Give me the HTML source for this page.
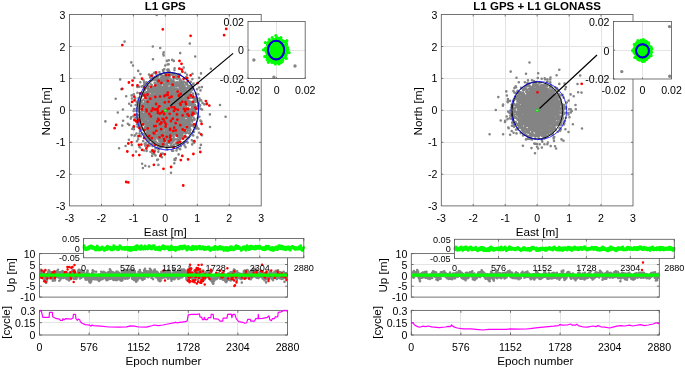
<!DOCTYPE html>
<html><head><meta charset="utf-8"><title>L1 GPS vs L1 GPS + L1 GLONASS</title>
<style>
html,body{margin:0;padding:0;background:#fff;}
svg{display:block;font-family:"Liberation Sans",sans-serif;fill:#000000;}
</style></head><body>
<svg width="685" height="369" viewBox="0 0 685 369">
<defs><clipPath id="c1"><rect x="69.5" y="14.5" width="191.7" height="191.4"/></clipPath><clipPath id="ci1"><rect x="248" y="21.5" width="57.2" height="57"/></clipPath><clipPath id="cu1"><rect x="39.5" y="253.6" width="248" height="43.5"/></clipPath><clipPath id="cj1"><rect x="82.6" y="238.5" width="222.7" height="19.3"/></clipPath><clipPath id="c2"><rect x="441.3" y="14.5" width="191.7" height="191.4"/></clipPath><clipPath id="ci2"><rect x="613.5" y="21.5" width="58" height="57.5"/></clipPath><clipPath id="cu2"><rect x="411.3" y="253.6" width="248" height="43.5"/></clipPath><clipPath id="cj2"><rect x="453.5" y="239.3" width="222.3" height="19.1"/></clipPath></defs>
<rect x="69.5" y="14.5" width="191.7" height="191.4" fill="#fff"/>
<line x1="101.5" y1="14.5" x2="101.5" y2="205.9" stroke="#e4e4e4" stroke-width="1"/>
<line x1="69.5" y1="46.5" x2="261.2" y2="46.5" stroke="#e4e4e4" stroke-width="1"/>
<line x1="133.5" y1="14.5" x2="133.5" y2="205.9" stroke="#e4e4e4" stroke-width="1"/>
<line x1="69.5" y1="78.5" x2="261.2" y2="78.5" stroke="#e4e4e4" stroke-width="1"/>
<line x1="165.5" y1="14.5" x2="165.5" y2="205.9" stroke="#e4e4e4" stroke-width="1"/>
<line x1="69.5" y1="110.5" x2="261.2" y2="110.5" stroke="#e4e4e4" stroke-width="1"/>
<line x1="197.5" y1="14.5" x2="197.5" y2="205.9" stroke="#e4e4e4" stroke-width="1"/>
<line x1="69.5" y1="142.5" x2="261.2" y2="142.5" stroke="#e4e4e4" stroke-width="1"/>
<line x1="229.5" y1="14.5" x2="229.5" y2="205.9" stroke="#e4e4e4" stroke-width="1"/>
<line x1="69.5" y1="174.5" x2="261.2" y2="174.5" stroke="#e4e4e4" stroke-width="1"/>
<rect x="69.5" y="14.5" width="191.7" height="191.4" fill="none" stroke="#5c5c5c" stroke-width="0.85"/>
<text x="69.5" y="221.7" font-size="10.6" text-anchor="middle" font-weight="normal">-3</text>
<text x="65.5" y="18.5" font-size="10.6" text-anchor="end" font-weight="normal">3</text>
<line x1="101.5" y1="205.9" x2="101.5" y2="203.9" stroke="#5c5c5c" stroke-width="0.85"/>
<line x1="101.5" y1="14.5" x2="101.5" y2="16.5" stroke="#5c5c5c" stroke-width="0.85"/>
<line x1="69.5" y1="46.5" x2="71.5" y2="46.5" stroke="#5c5c5c" stroke-width="0.85"/>
<line x1="261.2" y1="46.5" x2="259.2" y2="46.5" stroke="#5c5c5c" stroke-width="0.85"/>
<text x="101.5" y="221.7" font-size="10.6" text-anchor="middle" font-weight="normal">-2</text>
<text x="65.5" y="50.5" font-size="10.6" text-anchor="end" font-weight="normal">2</text>
<line x1="133.4" y1="205.9" x2="133.4" y2="203.9" stroke="#5c5c5c" stroke-width="0.85"/>
<line x1="133.4" y1="14.5" x2="133.4" y2="16.5" stroke="#5c5c5c" stroke-width="0.85"/>
<line x1="69.5" y1="78.4" x2="71.5" y2="78.4" stroke="#5c5c5c" stroke-width="0.85"/>
<line x1="261.2" y1="78.4" x2="259.2" y2="78.4" stroke="#5c5c5c" stroke-width="0.85"/>
<text x="133.4" y="221.7" font-size="10.6" text-anchor="middle" font-weight="normal">-1</text>
<text x="65.5" y="82.4" font-size="10.6" text-anchor="end" font-weight="normal">1</text>
<line x1="165.3" y1="205.9" x2="165.3" y2="203.9" stroke="#5c5c5c" stroke-width="0.85"/>
<line x1="165.3" y1="14.5" x2="165.3" y2="16.5" stroke="#5c5c5c" stroke-width="0.85"/>
<line x1="69.5" y1="110.3" x2="71.5" y2="110.3" stroke="#5c5c5c" stroke-width="0.85"/>
<line x1="261.2" y1="110.3" x2="259.2" y2="110.3" stroke="#5c5c5c" stroke-width="0.85"/>
<text x="165.3" y="221.7" font-size="10.6" text-anchor="middle" font-weight="normal">0</text>
<text x="65.5" y="114.3" font-size="10.6" text-anchor="end" font-weight="normal">0</text>
<line x1="197.3" y1="205.9" x2="197.3" y2="203.9" stroke="#5c5c5c" stroke-width="0.85"/>
<line x1="197.3" y1="14.5" x2="197.3" y2="16.5" stroke="#5c5c5c" stroke-width="0.85"/>
<line x1="69.5" y1="142.3" x2="71.5" y2="142.3" stroke="#5c5c5c" stroke-width="0.85"/>
<line x1="261.2" y1="142.3" x2="259.2" y2="142.3" stroke="#5c5c5c" stroke-width="0.85"/>
<text x="197.3" y="221.7" font-size="10.6" text-anchor="middle" font-weight="normal">1</text>
<text x="65.5" y="146.3" font-size="10.6" text-anchor="end" font-weight="normal">-1</text>
<line x1="229.2" y1="205.9" x2="229.2" y2="203.9" stroke="#5c5c5c" stroke-width="0.85"/>
<line x1="229.2" y1="14.5" x2="229.2" y2="16.5" stroke="#5c5c5c" stroke-width="0.85"/>
<line x1="69.5" y1="174.2" x2="71.5" y2="174.2" stroke="#5c5c5c" stroke-width="0.85"/>
<line x1="261.2" y1="174.2" x2="259.2" y2="174.2" stroke="#5c5c5c" stroke-width="0.85"/>
<text x="229.2" y="221.7" font-size="10.6" text-anchor="middle" font-weight="normal">2</text>
<text x="65.5" y="178.2" font-size="10.6" text-anchor="end" font-weight="normal">-2</text>
<text x="261.2" y="221.7" font-size="10.6" text-anchor="middle" font-weight="normal">3</text>
<text x="65.5" y="210.2" font-size="10.6" text-anchor="end" font-weight="normal">-3</text>
<text x="165.3" y="9.8" font-size="11.5" text-anchor="middle" font-weight="bold">L1 GPS</text>
<text x="165.3" y="236" font-size="11.7" text-anchor="middle" font-weight="normal">East [m]</text>
<text x="50.5" y="111.4" font-size="11.7" text-anchor="middle" font-weight="normal" transform="rotate(-90 50.5 111.4)">North [m]</text>
<g clip-path="url(#c1)">
<path d="M166.6 107.1h0M170.3 108.1h0M162.2 121.6h0M156.6 86.4h0M161.2 100.3h0M154.3 102.7h0M167.5 104.8h0M184.3 94.1h0M160.6 102.7h0M159.2 98.9h0M171.4 129.2h0M171.3 102.6h0M169.8 76.1h0M154.1 118.9h0M165.9 112.7h0M176 96.6h0M150.3 95.6h0M161.2 100.8h0M140.8 136.3h0M150.6 102.8h0M142 129.4h0M162.6 123.7h0M150.9 102h0M169.5 115.4h0M169.1 97.9h0M167 60.9h0M135.3 98.4h0M160.2 99.3h0M164.9 124.9h0M167.2 120.9h0M146 127.5h0M159.8 119.1h0M153 128h0M155.5 121.1h0M179.5 114h0M155.2 126.5h0M164.6 133.1h0M176.2 132.2h0M159.4 103.5h0M165 109.8h0M168.7 94.5h0M168.1 94.2h0M150.6 116.1h0M167.9 100.1h0M182.1 133.5h0M149 74.6h0M178.3 91.8h0M167.7 114.1h0M157.2 129.1h0M192 104.7h0M174.2 140.3h0M150.5 123h0M168 98.9h0M173.7 109.5h0M163.5 118.5h0M175.9 95.7h0M164.5 127.1h0M175 106.2h0M184 118.6h0M157 124.1h0M169.4 103.4h0M159.6 126.4h0M169.8 80.6h0M150.8 119.9h0M160.9 79.2h0M162.8 128h0M178.3 101.1h0M179.7 129.7h0M148.4 131.9h0M156.5 108.2h0M175.2 100h0M140 130.9h0M161.6 92h0M164.4 123.3h0M182.3 108.6h0M175.4 104.7h0M162.8 101.3h0M160 139.1h0M164.7 85.1h0M186.1 101.8h0M160.5 117.4h0M161.5 126.9h0M169.2 137.5h0M163.5 132.2h0M164.4 102.1h0M152 116.1h0M165.1 128.6h0M160.3 119h0M182.6 86h0M174.3 115.9h0M165.5 119.9h0M176.1 89.3h0M162.5 103.4h0M179.7 110h0M165.7 120.3h0M172.2 135.3h0M148.9 129.2h0M170.3 118.3h0M144.8 114.2h0M141 105.1h0M163 102h0M155.2 107.2h0M168.6 107.2h0M193.7 126.6h0M153.8 144.8h0M158 118.9h0M168 125.8h0M172 121h0M163.9 115h0M162.6 130.4h0M174.2 128.3h0M172.8 112.3h0M153.4 108.9h0M164.7 121.1h0M167.3 102.8h0M152.8 114.2h0M168.7 126.8h0M155.6 110.1h0M180.4 80.9h0M168.1 121.4h0M168.6 92.3h0M160.2 88.9h0M166.3 87h0M140.4 123.7h0M154 78.8h0M171 108.9h0M139.2 114.7h0M176.8 114.3h0M144.9 101.2h0M175.9 109.9h0M155.5 113.5h0M177.4 90.4h0M167.3 122.1h0M146 127.2h0M182.9 98.2h0M185.2 99.6h0M166.6 93.4h0M161.9 127.7h0M165.4 93.6h0M154.5 103.1h0M181.9 82.8h0M158.3 130.4h0M165.9 107.2h0M156.1 115.1h0M156.9 135.8h0M149.5 122h0M183.3 92.9h0M164 118.1h0M177.9 122.1h0M167.3 97h0M158.5 95.1h0M163.2 95.1h0M158.5 123.2h0M166.4 111.6h0M162.6 94.4h0M161.9 121.1h0M148.2 122.6h0M157 97.6h0M188.7 86h0M156.8 128.9h0M150.6 151.8h0M169.2 133.6h0M183.1 126.7h0M147.9 112.9h0M164.3 101h0M158.2 113h0M143.5 121.8h0M175.8 108.3h0M165.1 125.9h0M167.2 111.4h0M156.2 120.8h0M174.6 68.3h0M160.3 97.8h0M163.8 123.9h0M151.4 126.5h0M150.6 117.6h0M181.6 136.7h0M159.3 122.3h0M169.3 122.4h0M166.8 96.7h0M160.4 117.4h0M159.2 123.2h0M173 131.9h0M161.4 129.3h0M164.4 111.7h0M166.4 114.1h0M182.3 92.8h0M174.3 120.6h0M172.2 93.9h0M159.5 106.6h0M148.9 110.8h0M176.4 142.5h0M177.3 131.1h0M165.3 99h0M174.5 88.6h0M176.4 107.4h0M177.6 98.6h0M177.6 117.1h0M160.2 116.6h0M184.8 121.2h0M151.5 95.3h0M177.6 105.3h0M172.4 114.4h0M177.1 115.9h0M190.6 101.9h0M185.4 105.6h0M151.1 123.9h0M146.7 83.6h0M176.9 106.6h0M153.6 110.5h0M167.6 87.3h0M177.9 94.5h0M145.5 112.1h0M140.2 102.2h0M168.6 127.6h0M166.3 120.8h0M161.1 146.4h0M168 91.4h0M153.7 140.7h0M147.9 99.9h0M163.5 123.8h0M153.2 126.2h0M145.4 113.8h0M173 106.5h0M166.2 101h0M173.2 82.7h0M154.2 105h0M158.9 96.8h0M153.2 120.2h0M155.8 99.4h0M169 108.3h0M156 118h0M170.8 112.2h0M170.6 111.7h0M192.1 107.7h0M149.2 104.4h0M177.1 118.7h0M164.5 122.4h0M166.9 98.9h0M146.4 137.5h0M160 120.5h0M177.2 86.1h0M162.7 153.5h0M166.7 121.7h0M163.3 99.8h0M179.4 136.8h0M168.5 69.6h0M136.1 151.6h0M159 88h0M143 86.1h0M126.2 96.2h0M159.4 114.2h0M183.5 105.1h0M166.1 124.9h0M152.3 97.9h0M153.4 128.4h0M180.4 115h0M169.3 94.9h0M165.9 128.3h0M165.3 116.5h0M167 108.1h0M175.2 131.9h0M174.4 92.3h0M169.4 105.3h0M151.8 134.7h0M172.8 111.4h0M157 123h0M179.5 121.1h0M150.4 109.5h0M163.9 121.9h0M167.2 95.4h0M149 121.8h0M189 95.2h0M184.7 111.4h0M161.3 97.2h0M175.6 119.3h0M170.6 118.7h0M132.3 128.9h0M170.1 101.6h0M166.5 95.9h0M169.4 77.2h0M154 90.3h0M163.2 106.7h0M163.9 114h0M181.7 104.6h0M170.5 111.1h0M167.7 87.6h0M186.5 95.8h0M158.5 123.9h0M160.8 121.6h0M144.7 89.1h0M186.4 105.8h0M178.3 114.4h0M179 91.9h0M174.4 116.8h0M167.5 115.1h0M168.6 118h0M161.3 141.7h0M164.6 97h0M165.9 129.8h0M184.9 119.7h0M172.7 122.5h0M166.3 99.2h0M159 111.8h0M158.4 110.5h0M185 137.3h0M172.7 112.1h0M165.8 134h0M162.3 105.8h0M152.7 104.9h0M165.5 111h0M179.3 78.4h0M161.9 102.4h0M164 101.3h0M163.7 108.4h0M167.6 113.7h0M147.2 95.4h0M164.4 93.3h0M154.3 131.3h0M178.5 94h0M157.1 102.6h0M174.5 95.5h0M186 103.3h0M161.2 130.4h0M157.6 129.2h0M170.5 81.8h0M166.6 106.7h0M152.5 133.1h0M172.5 105.2h0M191.4 116.4h0M161.3 139.9h0M161.6 146.9h0M151.6 136h0M170.6 106.4h0M150.6 111.5h0M152.1 114.6h0M182.8 106.2h0M155.5 101.2h0M178 144h0M185.3 115.5h0M168.8 123.8h0M172.2 130.2h0M190.5 119.4h0M163.8 112.6h0M158.6 114.9h0M147.9 133.7h0M166.4 118.3h0M186.9 78.8h0M177.5 127.4h0M152.9 137.4h0M155.8 106.3h0M160.6 101.3h0M170.5 103.4h0M162.7 128.4h0M170 94.9h0M169.3 123.1h0M161.5 128.6h0M165.3 120.3h0M168.9 112.4h0M166 99.4h0M173.3 100.8h0M189.9 111.1h0M174.7 95.9h0M167.1 109.4h0M145.9 96.5h0M169.9 132.9h0M140.3 135.6h0M149.3 98.4h0M175.8 132.7h0M175 115.5h0M164.4 112.3h0M144.3 118.4h0M161.2 117.9h0M159.1 88.7h0M172 150.7h0M195.7 96.7h0M171.3 74.4h0M156.5 110.3h0M151.6 111h0M166.3 99.2h0M165.9 81.8h0M150.7 129.5h0M167.9 109.3h0M151.6 113.6h0M180.9 101.9h0M179.9 108.2h0M180.7 100.3h0M160 117.4h0M172.9 109.9h0M164 121.3h0M160.8 121.2h0M161.9 112.9h0M149.8 112.9h0M147 129.2h0M177.9 85.9h0M163.8 112.8h0M167.8 132.6h0M180 93.3h0M143.8 122.5h0M156.9 102.7h0M168.5 111h0M171.5 106.7h0M161.8 108h0M178.8 119.8h0M169 110.1h0M153 78.5h0M152.5 146.1h0M176.6 109.7h0M172.6 103.8h0M141.4 127.3h0M182.1 132.4h0M175.9 76.6h0M183 116.6h0M163.5 77.8h0M163.1 102.2h0M152.2 109.5h0M198.8 103.2h0M164.7 100.7h0M187.5 92h0M158.6 103.8h0M168.6 108.4h0M145.4 107.9h0M162.8 89.3h0M179.5 97.8h0M149.6 126.5h0M179.3 120.8h0M170.9 105.5h0M152.6 120.6h0M159.7 116.7h0M159.6 125.8h0M165.5 114.8h0M160 104h0M156.9 95h0M162.5 110.6h0M155.4 77.9h0M150 111.9h0M168.8 60.2h0M178.4 94.9h0M147.5 102.8h0M165.9 118.6h0M155.5 155.4h0M153.9 113.2h0M177.3 107.9h0M161.6 80.3h0M183.9 132.5h0M158.3 80.6h0M171 114.7h0M164.2 99.2h0M154.4 150.9h0M173.9 108.5h0M164.1 116.1h0M174.6 99.9h0M165.8 109.3h0M151.6 128.8h0M166 95.7h0M167.7 99.7h0M179 101.3h0M155.9 94.7h0M166.9 93.3h0M144.6 111h0M173.3 132.2h0M151.4 132.6h0M144.8 89.4h0M166.3 99.5h0M180.4 109.1h0M146.7 117.6h0M152.6 110.2h0M157 110.3h0M151.8 116h0M170.5 121.8h0M158.2 76.5h0M157.5 107.1h0M173.1 120.3h0M155.6 131.3h0M171.1 122.2h0M154.8 99.3h0M151.8 98.7h0M143 114.2h0M189.9 109.9h0M162 115.5h0M168.4 128.2h0M167.2 90.1h0M168.7 104.8h0M169.3 71.5h0M189.7 122.7h0M153.1 112.9h0M147.5 96.7h0M153.3 114.6h0M148.2 132.6h0M174.9 125.7h0M176.8 109.1h0M154.5 105.3h0M148.7 112.2h0M162.8 94.8h0M184.8 95h0M131.1 105.6h0M173 110.3h0M152.5 114.7h0M180 102h0M153.6 96.2h0M162.8 109.7h0M147.8 103.6h0M153.7 115.8h0M182.5 133h0M175.8 126.5h0M162 98.6h0M155.8 103.6h0M144 85.6h0M161.4 109.8h0M166.8 97h0M166.5 89.8h0M166.1 95h0M151.6 120.3h0M165.3 113.6h0M166 108.6h0M181.7 126.3h0M190.4 103.2h0M165.6 94.5h0M156.2 118.3h0M167.4 79.5h0M158.4 115.3h0M156.8 113.9h0M165.4 114.5h0M152.5 121.9h0M174.4 104.1h0M165.1 110.4h0M171.1 84.4h0M164.6 101.1h0M157.7 102.2h0M154.2 114.2h0M162 133.1h0M159.3 112.1h0M168.5 124.1h0M167.2 95.6h0M149.1 111.2h0M168.8 84.4h0M150.1 99.1h0M159.4 97.5h0M162.9 107.1h0M140.4 107.4h0M168.1 100.4h0M169.1 96.1h0M163.7 121.9h0M161.5 102.9h0M164.1 69.2h0M153.9 112.1h0M162.7 114.7h0M158.7 121.7h0M166.1 133.6h0M152.3 91.9h0M169.4 109.7h0M168.4 106h0M166.3 81.5h0M163.2 71h0M172.5 124.8h0M146.3 94h0M172.8 100.8h0M169.8 104.4h0M170.4 103.1h0M171.2 111h0M159.6 85.5h0M163.7 100.9h0M174.7 105.2h0M173 90.9h0M169.8 96.5h0M147.7 103.4h0M173.5 105.5h0M182.8 82.9h0M179.6 102.6h0M169.2 112.1h0M145.9 124.2h0M177.9 116.1h0M163.5 127.3h0M134.5 109h0M171.4 106.6h0M145.6 143.1h0M150 110.4h0M159 100.4h0M182.6 108h0M160.8 125.8h0M171 90.6h0M187.8 121.7h0M185.3 130.1h0M164 127.8h0M163.3 110.9h0M151.4 95.1h0M158.7 92.2h0M171.9 107.3h0M170.2 129.5h0M167.1 121.1h0M178.1 124.9h0M156.4 113.5h0M164 138.7h0M175.7 108.9h0M174.3 100.5h0M179.7 113h0M171.8 103.4h0M161.6 125.5h0M169.5 133.7h0M153.1 120.8h0M146.8 92.4h0M174.7 94.4h0M165.2 117.9h0M171.4 91.6h0M144.6 115.8h0M163.2 86.8h0M159.2 103.1h0M155 117.8h0M138.6 98.1h0M161.4 122.9h0M176.8 125.5h0M169.8 133.6h0M159 106.6h0M166.1 111.5h0M175.8 111.9h0M131.1 117.2h0M166.1 88h0M172.8 117.4h0M174.3 122.1h0M189 91h0M182 88.2h0M170.6 105.3h0M168.5 138.2h0M175.7 120.2h0M160.1 101h0M165.9 110.4h0M179.3 86.1h0M189.8 132.3h0M165 100h0M165.1 120.6h0M170.1 89.8h0M183.2 111.9h0M166.9 94.4h0M184.3 120.9h0M152.8 133h0M162.9 128.3h0M163.3 120.3h0M175.3 126.9h0M180.7 91.7h0M148.6 89.5h0M155.1 106.4h0M169.6 127.1h0M157.9 112.6h0M146.5 121.5h0M180.8 87.7h0M172.9 105.7h0M173 103h0M160 117h0M177.4 142.5h0M162.6 122.9h0M179.1 128.4h0M155.2 104.8h0M155.7 109.2h0M168.2 123.4h0M157.1 116.8h0M176.4 85.9h0M168.7 125.9h0M153.8 125.2h0M167.1 114.3h0M161.3 121.8h0M177.5 117.5h0M158.9 102.3h0M162.5 83.3h0M179.9 138.8h0M194.6 111h0M191.6 110h0M167.1 112h0M168.9 113.7h0M185.4 116.1h0M165.7 94.8h0M153.6 118.1h0M167.7 112.7h0M172 110.7h0M156 109h0M145.4 113.4h0M149.2 94.9h0M174.7 110.8h0M156.9 107.9h0M164.5 111.5h0M168.1 126.6h0M173.4 123.8h0M161.1 127.3h0M172.8 107.7h0M154.4 122h0M160.8 127.5h0M153.6 106.9h0M181.1 102.4h0M164.3 138.5h0M158.6 84h0M161.9 110.2h0M163.5 112.4h0M176.2 93.8h0M146.3 109.6h0M152.7 120.3h0M163.7 76h0M197.3 127.7h0M178.3 112.2h0M165.7 97.3h0M174.3 127.6h0M192.2 112.3h0M163.8 104.6h0M164 72.7h0M180.8 124.8h0M172.5 111.5h0M175.4 100.3h0M160 109.4h0M189.5 129.7h0M188.3 104.2h0M173.6 109h0M175.4 103.7h0M141.8 92.8h0M175.4 94.7h0M164.3 104.3h0M172.1 105.8h0M173.9 128.1h0M161.9 112.8h0M145.2 107.2h0M170.6 117h0M157.1 109.2h0M161.4 123.8h0M160.2 86.4h0M164.1 76.7h0M136.8 116.9h0M182.1 104.4h0M169.3 114.4h0M181.6 90.7h0M191.7 103.8h0M166.7 109.5h0M143.4 114.2h0M155.2 108.7h0M150.2 126.5h0M160.7 100h0M166.7 122h0M141.6 102.2h0M170.8 108.6h0M148.3 93.4h0M170.1 111h0M165.9 94.5h0M161.5 125.3h0M166 101.1h0M159.3 114.2h0M158.8 107.6h0M145.2 109.6h0M166.9 95.9h0M187.7 142.6h0M191.7 105.6h0M181.6 134.3h0M176.4 91.6h0M155.9 141.9h0M183.6 126.6h0M164.1 137.2h0M167 84.8h0M161.5 131.1h0M167.6 108.9h0M160.3 119.2h0M163.6 139.2h0M152.3 116h0M162.3 100.2h0M195 113.6h0M166.4 95.8h0M163 116.4h0M173.1 110.6h0M174.9 116.8h0M152.6 105.3h0M165.5 80.7h0M178.3 105h0M169.9 107.6h0M167.3 120.5h0M185.2 122.6h0M159.2 87.5h0M166.3 128.3h0M158.9 125.1h0M185.1 112.2h0M141.3 117.4h0M159.7 79.8h0M157.4 148.1h0M175.1 105h0M174.7 99.4h0M182.9 128.4h0M145.9 120.9h0M176.2 103.9h0M164.2 84.9h0M157.1 125.3h0M171.7 135.7h0M155.7 95.3h0M141.6 86.6h0M161.4 116h0M145.3 145.7h0M159.5 87.7h0M170.9 113.8h0M171.4 92.9h0M186.3 111.4h0M163.5 116.6h0M146.6 117.8h0M158.2 87.4h0M156.1 88h0M149 144.5h0M171 125.5h0M159.9 82.6h0M141 116.5h0M173.9 132.2h0M164.9 110.6h0M170.8 112.4h0M167.6 112.2h0M173.9 118.3h0M166.5 115.6h0M181.5 117.9h0M172 105.4h0M170.5 123.6h0M171.2 115.3h0M147.8 113h0M165.5 90h0M163.4 104.8h0M168.9 112.4h0M149.7 102.2h0M187.4 104.3h0M168.7 93.5h0M151.5 102.7h0M146.5 82.3h0M164.1 89.4h0M165.2 111.3h0M156.9 117.3h0M168.3 96.7h0M158.7 102.5h0M173.2 112.2h0M155.8 134.1h0M164.1 139.7h0M179 105.2h0M199.5 98.5h0M154.4 98h0M159.3 131.1h0M156.7 94.3h0M175.7 119.1h0M152.2 104.6h0M160.6 104.1h0M165.2 123.4h0M153.4 120.1h0M152.3 143.5h0M159.5 125.2h0M138.1 139.2h0M148.5 103.8h0M161.2 109.7h0M169.1 96.2h0M164.3 105.1h0M143.4 120.7h0M160.8 105.2h0M176.1 116.9h0M173.9 101.1h0M165.7 105.7h0M154.2 126.3h0M174.3 110.7h0M159.1 109.8h0M151.3 115.6h0M157.1 96.5h0M186.3 83.6h0M168.8 116.5h0M180.6 116.2h0M158.2 146.3h0M178.1 112.7h0M158.3 117.6h0M162.3 144.9h0M198 106.1h0M176.6 101.4h0M159.3 122.3h0M164.9 116.6h0M169.5 126h0M182.3 98.6h0M158.7 134.7h0M144.1 115.7h0M164.7 79.8h0M166.6 109.9h0M168.2 103.3h0M182.8 113h0M169.2 129.3h0M176.6 111.2h0M152.8 104.3h0M176.3 126.9h0M193.1 105.3h0M177.3 91h0M170.6 93.8h0M166.8 135.7h0M188 126.1h0M153.1 136.2h0M166 93.8h0M172.7 101h0M176.4 99.6h0M160 124.6h0M169.1 129.2h0M162.9 109.5h0M168 109.1h0M163.9 124.2h0M152.1 108.5h0M166.7 100.5h0M177.6 107.1h0M153.2 127.1h0M161.3 144.1h0M174.5 114.8h0M153 108.1h0M168.4 114.8h0M152.6 117.5h0M180 121.6h0M196.2 99.4h0M191.8 111.5h0M163.7 108.8h0M174.8 126.1h0M167.3 120.5h0M167.8 108.1h0M184.9 126.6h0M148.5 130.6h0M179.4 115.9h0M166.9 91.7h0M184.3 107.7h0M170.1 87.6h0M157.7 112.8h0M169.6 115.6h0M174.3 132.7h0M166.3 119.8h0M173.9 88h0M160.1 105.5h0M140.1 99.1h0M178.4 99.5h0M175.2 110.9h0M168 113.9h0M167.3 108.8h0M180.1 100.1h0M161 103.5h0M157.9 102.9h0M164.1 108.3h0M180.6 122.9h0M148.6 114.8h0M180.5 125.6h0M159.2 94.8h0M150.5 143.9h0M182 114.1h0M167.4 72.9h0M149.6 116.1h0M160.7 128.6h0M178.1 111h0M182.6 90.3h0M160.8 113.2h0M172.1 101h0M175.5 109.1h0M157.9 116.6h0M173.8 60.9h0M166 109.6h0M159.1 119.2h0M159.7 118.4h0M167.6 104.7h0M167.1 104.2h0M159.9 98.5h0M161.1 108.5h0M179 133.3h0M169.6 102.3h0M177.2 115.6h0M181.2 115.2h0M172.4 134.2h0M194.5 119.8h0M155.2 122.2h0M176.5 111.3h0M161 133.7h0M189.8 109.9h0M187.9 108.7h0M140.6 128.4h0M153.5 120.6h0M173.9 124.3h0M177.2 96.3h0M173.2 150.7h0M165.1 116.1h0M170.5 137h0M174.2 117.5h0M166.2 97.3h0M178.7 120.7h0M138 108.5h0M173.5 124.1h0M155.1 80h0M179.3 96.3h0M164.5 92.9h0M153.9 131.7h0M170 128.1h0M155.9 93.6h0M154.6 113.8h0M146.3 114.8h0M166.3 105.4h0M171.4 130.6h0M180 98.5h0M164.6 110.4h0M180 103.1h0M165.9 121.3h0M165.7 102.6h0M172.9 121.8h0M180.6 95.6h0M163.1 92.8h0M164.1 96.3h0M164.8 102.5h0M168 100.7h0M152.4 153.5h0M180.1 97.5h0M161 115h0M172.3 109.2h0M155.7 115.2h0M169.6 132.7h0M170.8 119.2h0M161.7 100.3h0M193.2 88.3h0M170.4 120.6h0M187.9 125h0M179.8 87.7h0M157.2 124.7h0M163.5 77.9h0M171.9 109.9h0M166.3 124.7h0M167.9 95.1h0M164.3 83.9h0M142.2 133.4h0M165 86h0M138.1 115.2h0M172.5 87.2h0M156.8 116.7h0M155.8 135.6h0M164.1 102.8h0M170.7 96h0M150.3 77.6h0M145.9 83.4h0M153.6 99.7h0M140.4 114.5h0M153.7 118.9h0M186.1 115.4h0M152.2 123.8h0M174.3 115h0M146.6 150.9h0M170.3 107.9h0M162.3 111.2h0M168 70.1h0M174.2 98.7h0M188.1 118.3h0M169.3 101.8h0M166.8 130.1h0M153.5 120.2h0M171.9 140.2h0M164.6 88h0M177.4 101.3h0M164.7 129.3h0M188.3 111.7h0M142.2 95.7h0M163.1 102.9h0M177.8 104.7h0M161.1 124.3h0M155.7 120.8h0M163.1 109.2h0M149.8 96.1h0M167.1 123.8h0M196.1 128.4h0M181.9 92.6h0M151.5 125.4h0M156.4 93.7h0M161.5 106.9h0M179.9 96.8h0M157.6 83.1h0M158.3 99.8h0M178.3 98.4h0M176.4 125.2h0M161 121.7h0M152.9 100.5h0M148.2 86.4h0M158.8 88.7h0M140.4 74.1h0M176.1 105.8h0M158.6 107.5h0M173.4 94.8h0M189.9 110.4h0M181.1 111.7h0M150.8 127.3h0M178.3 95h0M179.9 127.7h0M157.4 102.6h0M153 133.1h0M166 93.4h0M145.2 127h0M185.7 97.4h0M134.5 135.8h0M152 117.7h0M164.1 92.1h0M162.7 123.4h0M168.5 109.6h0M169.3 118.3h0M161.5 147.2h0M181 105.8h0M139.8 103.9h0M165.3 128.2h0M157.9 101.6h0M167.3 123.3h0M168.2 126.6h0M154.8 110.6h0M157.6 121.5h0M178.5 74.4h0M169.3 135.3h0M158.5 99h0M193 95.1h0M193.6 142h0M146.2 138.1h0M170.7 101.8h0M197.6 118.3h0M176.6 104.6h0M170.2 92.7h0M163.4 116.6h0M158.5 127.5h0M161.1 153.9h0M159.6 107.5h0M174.9 125.4h0M161.6 105.7h0M161 107h0M149.9 132.6h0M167.4 83.4h0M156.1 93.6h0M164.9 97.3h0M178.4 129.4h0M170.6 117.1h0M172.2 119.3h0M170.5 117.3h0M166 128.5h0M165.2 103.8h0M162.7 107.1h0M176.3 104.9h0M152.2 118.7h0M184.5 90.3h0M167 107.7h0M154.3 154h0M159.6 120.8h0M157.8 111.6h0M169.3 95.4h0M157 115.5h0M180.5 114.7h0M155.9 121.2h0M138.3 100.2h0M156.7 117.8h0M140.4 120.2h0M165.1 122.4h0M180.2 101.9h0M174 119.1h0M147.9 137.2h0M157.3 100.9h0M188.1 121.8h0M170.7 105.1h0M166.8 104.8h0M180.8 91.7h0M198.3 94.2h0M182.2 119.8h0M168 113.3h0M169.6 131.1h0M175.7 84.2h0M159 103.7h0M154.3 88.6h0M166.7 115.7h0M152.5 143.1h0M167 86.5h0M167.7 109.2h0M196 108.6h0M155.7 109.8h0M165.4 100.5h0M164.8 102.3h0M170.4 135.9h0M180.6 93.5h0M159.7 119.1h0M155.5 118.1h0M147.3 83.4h0M155.5 96.1h0M172.8 116h0M165.2 140.1h0M153.7 108.1h0M162.2 102.2h0M166.7 112h0M171.5 130.4h0M158.1 123.2h0M162 130.6h0M143.6 107.3h0M152.6 97.7h0M187.7 94.5h0M138 122.3h0M162.3 107h0M169.6 101.9h0M161.1 118.8h0M156 113h0M167.6 77.1h0M166.5 107.5h0M166.2 96.7h0M142.2 117.6h0M164.5 110h0M153.9 137.8h0M159.4 111.1h0M170.3 91.8h0M176.4 77.5h0M178.8 91.8h0M160.7 99.8h0M178.1 109.9h0M180.6 120.2h0M180.5 113.2h0M184.5 101h0M163.8 123.1h0M165 95.9h0M175.8 126.3h0M147.4 138.8h0M168 126.7h0M158.1 137h0M160.4 132.4h0M145.4 92.8h0M154.9 113.9h0M166.3 107.2h0M178.7 92.4h0M180 90.8h0M164.9 118.7h0M165.2 89.7h0M156.2 104.6h0M171.4 110.6h0M163.6 103.7h0M172.6 133.2h0M187.7 123.1h0M165.8 112.4h0M148 101.1h0M155.1 116.6h0M147.8 112.7h0M152.2 95.4h0M184.2 88.4h0M169.9 98.6h0M148.4 90.6h0M174.2 117.1h0M182 115.5h0M162.1 105.7h0M157.5 115.5h0M161.6 118.7h0M171.5 84.6h0M174.2 113.9h0M180.4 126h0M182.1 103h0M183.1 81.7h0M183.6 109.4h0M175.9 91.2h0M146.6 117.6h0M164.2 118.5h0M169.7 121.6h0M161.4 113h0M179.6 81.7h0M160.7 129h0M156.2 84.8h0M183.6 126.6h0M174.5 114.4h0M169.9 97.5h0M178.6 100.7h0M180 106.2h0M169.1 136.8h0M135.7 105h0M156.9 126.9h0M163 70.1h0M153.7 114.1h0M169 107.7h0M180.3 128.8h0M159.8 118.3h0M150.8 131.1h0M192.9 95.2h0M160.4 114.8h0M151.3 101.8h0M168.7 121.5h0M171.2 118.6h0M158.7 90.3h0M175.4 126.1h0M158.5 139.2h0M155.1 104.3h0M167.5 128.8h0M175.7 117.7h0M159.2 96.3h0M169.7 123.6h0M166 96.8h0M201.3 121.5h0M158.8 87.1h0M185.1 89.7h0M165.2 118.2h0M164.5 114.1h0M174.7 123.9h0M177.8 107.5h0M183.4 92.5h0M169.1 133.6h0M159.6 96.2h0M158.3 131.6h0M172 124.3h0M172 139h0M186 77.4h0M171.7 109.8h0M180 106.8h0M184.9 121.4h0M169.4 93.8h0M145.6 144h0M151.5 110.3h0M150.3 75.8h0M186.1 116.7h0M155.7 110.4h0M182.5 100.1h0M173 123.5h0M188 110.3h0M179.9 95.5h0M165.2 107.6h0M164.2 104.8h0M167.1 116.2h0M168.9 105.7h0M159.7 109.8h0M167.3 87.7h0M187.3 99.2h0M144.6 114.6h0M167.3 149.4h0M155.6 99.4h0M169.4 98.8h0M176.1 125.2h0M163.7 142.3h0M175 128.8h0M147.2 96.1h0M179.3 127.5h0M158.3 118h0M174.4 107.2h0M169.8 91.3h0M133.7 111h0M156.7 112.3h0M168.6 119.4h0M187.5 84.9h0M171 93.8h0M169.5 112.2h0M147.2 132.8h0M183.7 123.2h0M189.7 101.5h0M166 122.1h0M164.4 96.6h0M146.3 105h0M177.8 106.1h0M201.1 100.4h0M175.9 102.8h0M181.5 124.2h0M172.9 115.9h0M156.1 73.7h0M182.1 129.8h0M150.3 118.2h0M164.7 93.8h0M169.7 113.2h0M176.7 123.5h0M170.3 131.6h0M171.7 102.2h0M157.7 94.6h0M151.4 88.6h0M167.2 109.8h0M158.4 94.2h0M148.9 127h0M150.5 108h0M159.5 121.4h0M143.1 108h0M150.1 98.8h0M146.7 93.8h0M167.7 126.4h0M172.7 90.7h0M191.2 118.2h0M146.5 126.9h0M157.6 113.4h0M176.5 133.8h0M163.6 110.6h0M162.5 106.1h0M187.7 113.9h0M162.6 102.2h0M151.5 115.7h0M149.7 110.6h0M169.2 133.5h0M170.2 110h0M148.2 124.2h0M153.5 117.8h0M173 112.2h0M173.8 107.7h0M156.7 136.7h0M172.7 135.4h0M173.3 115.5h0M144.3 103.2h0M162.8 105h0M172.4 96.6h0M160.4 90.1h0M139.8 102.8h0M162.8 111h0M174.9 127h0M185.4 125.7h0M138.3 118.1h0M199.6 106.5h0M152.3 107.2h0M178.4 110.6h0M181.8 113.1h0M179.4 100.7h0M168.4 107.4h0M152 106h0M174.6 105.8h0M156.8 119.3h0M133.5 127h0M202.5 102.9h0M175.7 104.1h0M189.1 114.2h0M154.5 117.3h0M187 74.7h0M185.7 122.7h0M185.8 114.1h0M166.3 106.5h0M150.1 129h0M164.2 108.8h0M140.3 82.3h0M145.8 95.9h0M168.1 100.7h0M154.4 101.3h0M164.4 108.9h0M165.9 95.5h0M190.6 113.2h0M182.3 117.4h0M165.9 109.1h0M182.5 96.4h0M156.8 105.5h0M162.7 100h0M175.9 142.7h0M151.8 91.8h0M165.1 73.7h0M150.9 89.6h0M167.5 115.7h0M186.1 124.1h0M157.1 106.3h0M168.3 126.3h0M155.7 99.2h0M151.3 119h0M151.7 95.5h0M186 89.2h0M194.2 142.8h0M172.7 106.1h0M156.6 121.7h0M173.9 133h0M161.5 120.5h0M176.3 114.2h0M171 94.4h0M168.4 134.8h0M175 94.1h0M161 78.8h0M161.8 101.3h0M145.1 102.1h0M160.8 110.9h0M147.3 129.3h0M165 102.2h0M154.6 104.6h0M168.3 99.1h0M174.5 70.1h0M149.1 99.2h0M156.5 104h0M155.9 86h0M174.5 132h0M186.8 128.8h0M176.7 116.6h0M161.3 121.1h0M185.5 99.7h0M146.9 115.7h0M186.9 83.2h0M159.5 86.7h0M132 98.5h0M199.4 116.8h0M186.9 100.9h0M154.1 97.9h0M167.5 127.6h0M164 105.2h0M168.3 99.5h0M147.8 107.3h0M159.2 85.9h0M173.4 91.5h0M168.4 123.8h0M181.6 108.7h0M166.6 123.9h0M196.5 101.5h0M156.5 124.4h0M170.5 96.1h0M142.5 104.6h0M151.5 95.3h0M183 113h0M153.1 133.7h0M174.7 82.8h0M165.4 113.4h0M154.5 88.9h0M162.4 103.9h0M160.5 100h0M161.9 81.8h0M176.2 105.3h0M175.9 88.6h0M157.7 134.2h0M155.7 96.9h0M169.7 114.5h0M165 112.8h0M179.3 110.6h0M200.2 105.2h0M178.6 84.5h0M164.2 140h0M164.2 110h0M154.9 122h0M156 92.3h0M153.3 117.4h0M161.8 103.5h0M160.6 117h0M176.4 100.1h0M162.3 94.7h0M163.5 117h0M151 109.9h0M185.8 133.2h0M173 105.9h0M189.7 97.2h0M175.9 119.5h0M186.2 93h0M161.2 143.5h0M173.6 140h0M199.2 132.7h0M150.4 118.4h0M181.2 110.4h0M187.7 111.9h0M171.6 111.8h0M176.7 99.3h0M182.1 118.2h0M156.7 130.7h0M170.4 130.4h0M157.1 77.3h0M155.4 147.9h0M158.2 113.5h0M165.9 87.6h0M168.7 103.1h0M171.4 123.8h0M148 110.7h0M192.7 97h0M182.4 91.6h0M174.9 124.9h0M162.4 98.7h0M165.4 106.7h0M174.5 93.2h0M173 88.7h0M144.3 116.1h0M174.6 133.6h0M204.4 104.4h0M144.1 82.6h0M179.9 99.9h0M171.3 107.1h0M167.2 72.7h0M183.1 127.1h0M151.9 96.4h0M167.9 119.7h0M185.4 109.9h0M163.9 109.3h0M162.4 86.7h0M167 125.5h0M160.1 119.2h0M184.9 135.9h0M155.1 103h0M177.2 117.9h0M150.5 104h0M174 127.7h0M164.6 116.4h0M133.8 94.3h0M166.1 113.5h0M153.1 100.8h0M161.1 102.3h0M186 116.3h0M150.4 135.4h0M153.5 95.1h0M185.2 108h0M168.8 95.1h0M184.4 142.5h0M169 136.9h0M152.9 144.6h0M164.7 124.6h0M183.3 94.2h0M179.1 101.7h0M166.3 111.2h0M167.1 108.6h0M165.6 98.7h0M158.6 115.5h0M191.8 104.4h0M166.6 108.5h0M149.6 145.3h0M159.8 116.8h0M177.1 89.2h0M174.3 117h0M164.4 113h0M157.1 120.3h0M166.2 118.4h0M145.7 92.9h0M149.2 114.9h0M175.7 126.9h0M157.2 159.9h0M170.7 119.8h0M180.3 141.8h0M173 139.5h0M167.4 98.1h0M194.6 99.5h0M173.2 141h0M162.6 97.2h0M176.3 103.4h0M170.9 123.1h0M155.9 99.1h0M165.8 136.4h0M163.1 129.7h0M139.5 133.5h0M163.1 128.3h0M163.5 96.8h0M159.4 131.8h0M143.9 128.9h0M160.8 125.8h0M166 107.6h0M167.4 116.1h0M152.4 97.1h0M173.9 122h0M149.4 131.1h0M163 118.7h0M183.3 110.1h0M156.5 125.5h0M160 106.4h0M182 82.1h0M160.8 120h0M162.5 110.1h0M170.5 89.5h0M179.3 121.1h0M137 124.3h0M154.6 128.2h0M153.7 104.6h0M152.8 102.8h0M155.1 113.3h0M155.5 110.3h0M171.4 90.8h0M155.6 97.3h0M166.6 133.2h0M171.5 111.2h0M157 109.4h0M168.7 99.7h0M187.3 114.6h0M169.9 121.3h0M157.7 118.3h0M163.8 139.2h0M154.5 111.5h0M169.3 120.6h0M177.9 103.8h0M154.8 127.4h0M163.2 118.1h0M179.7 126.7h0M158.9 128.1h0M169.4 100.1h0M152.7 118.6h0M156.2 104.2h0M158.6 129h0M193.9 109.7h0M159.6 138h0M159.2 118.9h0M158.7 119.2h0M164.8 102.1h0M174.8 108.5h0M168.5 114.1h0M193.1 98.1h0M169.2 108.3h0M185.1 102.9h0M170.5 99.2h0M173.9 112.4h0M147.8 116h0M165 106.2h0M165 118h0M163.6 105.3h0M140.2 93.9h0M178.2 97.9h0M161.1 117.4h0M159.6 131.7h0M163 112.3h0M163.3 113.4h0M172.5 94h0M149.9 117.5h0M154.4 114.7h0M170.7 99.8h0M167.7 119h0M161.4 114h0M160.7 84.4h0M157.2 87.9h0M166.2 101.5h0M181.5 107.2h0M152 126.7h0M186.1 102.6h0M177 110.5h0M160.8 108h0M175.7 119.6h0M147.8 111.6h0M144.3 114.4h0M150.3 106.5h0M162.5 88.9h0M162.5 105.7h0M158.2 137.6h0M166.6 126.8h0M137.9 136.4h0M171.8 124h0M148.9 102.6h0M158.3 105.1h0M160.5 120.9h0M152 107.2h0M148.3 123.4h0M152.3 133.9h0M164.8 133.7h0M172.9 125h0M174.8 89h0M152.5 132.6h0M157.5 91.8h0M155.9 90.5h0M171.8 114.3h0M140.5 112.2h0M181.4 121.2h0M160.2 111.9h0M157 101.1h0M170.6 111.3h0M180.3 95.8h0M171.7 92.8h0M179.9 106.1h0M168.3 106.3h0M181.8 112.5h0M182.3 106h0M164 129.1h0M184.8 105.1h0M168.6 108.3h0M166.6 125.1h0M156.7 77.6h0M161.7 126.9h0M175.3 125.2h0M150 107.1h0M172.7 142.1h0M170 124h0M168.4 135.6h0M137.5 126.8h0M164.9 113.6h0M174.8 106.5h0M157.7 94.1h0M168.2 98.8h0M137.4 92.8h0M175.3 102.3h0M157.5 118.9h0M178.4 93.9h0M142.6 119.3h0M174.5 121.2h0M164.8 87.4h0M177.2 99.1h0M154.8 108.1h0M159.2 99.7h0M195.4 97.7h0M154.5 133.1h0M157.3 113h0M161.7 130.2h0M153.5 109.6h0M180.7 122.2h0M189.4 90.1h0M157.9 103.4h0M143.7 124.4h0M181.1 111.9h0M179.1 130.7h0M176.7 110.9h0M181.4 102.9h0M155.6 107.4h0M162.3 142.1h0M148.5 116.9h0M148.9 103.5h0M179 106.8h0M158.9 93.3h0M193.8 131.9h0M167.7 103.3h0M157.6 121.9h0M176.6 108.5h0M189.4 105.2h0M173.1 100.7h0M150.4 120.7h0M171.2 108.7h0M182.5 130.1h0M158.7 133.9h0M157.1 102.8h0M179.1 112.5h0M166.5 137.2h0M151.6 125h0M161.5 111.3h0M158.2 87h0M171 95.1h0M168.4 99h0M179.1 139.8h0M175.2 113.2h0M147 104.1h0M171.8 105.4h0M178 105h0M171.8 115.3h0M181 83.8h0M160.8 88.3h0M154.2 113.1h0M177.1 127.1h0M154.8 79.2h0M138.5 120.4h0M180.4 92.7h0M159 81.4h0M161.5 126.5h0M148.9 107h0M149.2 117.1h0M152.2 103.5h0M162 106.6h0M172.8 80.9h0M137.9 102.3h0M175.8 111.8h0M152.4 93.8h0M152.6 115.9h0M174.5 117.4h0M167.5 76.2h0M146.1 124.6h0M189.1 119.4h0M155.5 110.9h0M168.4 128.3h0M166.8 145h0M185.1 94.9h0M159.8 124h0M178.5 120.2h0M156.6 117.5h0M179.5 127.2h0M155.6 128.6h0M161.9 109.1h0M192.5 73.7h0M171 100h0M168.4 99.8h0M193.2 135.4h0M170.8 112h0M154.9 130.3h0M176.3 99.4h0M151.2 115.2h0M180.6 111h0M181.4 113h0M158.5 120.9h0M156.9 135.7h0M169.1 102.5h0M165.2 133.5h0M152.8 130.3h0M173.2 116.3h0M139.9 122.8h0M161.1 107.5h0M162.2 95.7h0M163.1 107.7h0M170.4 108.5h0M150.8 111.3h0M174.5 98.1h0M162.3 140.8h0M158.4 105.8h0M148.2 126.4h0M150.2 131.1h0M170.8 111.6h0M153.8 117.8h0M167.7 102.4h0M180.7 94.2h0M177.1 148.4h0M185.9 112.8h0M164.4 80.7h0M153.4 97.9h0M180.5 88.8h0M170.3 110h0M179.1 134.3h0M165.4 129.4h0M182.1 100.4h0M177.9 96.5h0M174.6 123.2h0M172.4 115.9h0M171.6 107.5h0M167.6 139.3h0M168.8 117.2h0M180.3 86h0M161.9 77.1h0M188.1 113.3h0M166.7 82.7h0M178.2 119.9h0M164.4 124.4h0M161.1 147h0M192.8 96.5h0M162 117.5h0M152.4 74.6h0M157.6 106.4h0M162.5 108.6h0M191.8 140.2h0M170.3 87.9h0M177.7 117.4h0M153.5 114.2h0M168.7 146.5h0M175.6 97h0M190 96h0M156.9 121.2h0M174 110.1h0M170.5 105.4h0M154.3 96.4h0M166.1 109.9h0M164.6 84.4h0M136.7 115.4h0M173.3 121.2h0M172.7 119h0M158.3 151.7h0M148.6 124.4h0M185.9 95.7h0M169.9 107.4h0M178.4 124.5h0M184.4 106h0M157.8 143.5h0M176.3 116.1h0M163.8 103.3h0M166.2 100.5h0M164.5 123.8h0M167.1 97.1h0M182.1 82h0M167.5 118.3h0M165.1 99.8h0M161.3 136.2h0M168.7 142.6h0M155.6 101.9h0M160 110.9h0M165.8 108.4h0M158.6 120.8h0M164.5 116.2h0M159.4 98.7h0M193.2 84.4h0M182.9 115h0M170.4 137.6h0M166.8 91.4h0M194.5 102h0M171 100.7h0M165.4 108.6h0M172.3 74.8h0M170.2 110.3h0M184.6 103.4h0M164.3 140.8h0M192.2 120.7h0M154.5 122.4h0M175 112h0M154 106h0M188.5 123.4h0M163.8 84.1h0M164.6 128.4h0M177.5 118.6h0M182.4 107.7h0M151.1 131.3h0M162.5 102.5h0M149.3 101.5h0M167.8 116.1h0M166.8 81.3h0M162 110.2h0M157.9 107.1h0M160.5 126.7h0M155.3 138h0M172.4 121.5h0M185.1 116.6h0M141.5 118.7h0M165.6 99.3h0M158.8 149.3h0M171.4 129.5h0M152.6 140.4h0M165.7 90.3h0M152.6 120.5h0M174.6 119.7h0M166.5 128.9h0M165.1 97.3h0M170.6 118h0M163.4 108h0M144.8 143.7h0M174.9 93h0M170.3 105.3h0M164.9 102.8h0M179.9 91.9h0M181.5 114.6h0M152.4 114.1h0M157.1 100.1h0M186.2 104.7h0M184 115.4h0M157 110.8h0M150.9 119.5h0M158.9 100.2h0M160.9 96.7h0M146.3 111.4h0M168.5 81.7h0M148.7 135.8h0M150.8 115.2h0M179.5 84.4h0M157.3 118.1h0M163.9 136.8h0M175.6 89.4h0M177.1 102.8h0M160.9 130.4h0M167.6 99.2h0M154.9 127.7h0M187.1 132.7h0M174.4 113.9h0M151.9 119.1h0M165.3 128.9h0M175 117.3h0M171.4 127.4h0M189.4 110.5h0M183.6 111.8h0M160.2 99.6h0M164.7 118.7h0M148.9 132.6h0M168.2 132.4h0M168 115.3h0M201.9 87.1h0M168.3 98h0M139.3 121.6h0M158.7 96.5h0M166.6 129.8h0M151.4 95.4h0M155 117.5h0M162.4 99.3h0M171.2 101.6h0M164 115.8h0M155.4 106.2h0M175.2 128.4h0M159.4 112.6h0M161 94.3h0M152.8 46.5h0M157.1 100.3h0M174.6 110h0M144.9 127.5h0M166.4 94.6h0M173.8 137.7h0M160.8 124.2h0M169.7 105.8h0M151.1 130.6h0M184.3 87h0M181.2 94.1h0M168.7 120.4h0M143.6 120.2h0M151.9 132.4h0M177.3 133.6h0M188.3 104.4h0M170.6 101.5h0M182.4 105.9h0M158.9 107.2h0M163.4 120.3h0M166.7 105.7h0M170.2 134.8h0M147 111.3h0M179.6 88h0M184.3 90.4h0M151.4 118.8h0M148.9 116.7h0M172 89.6h0M159.8 83.1h0M135 135.2h0M176.1 118.2h0M168.5 107.7h0M161.5 92.1h0M192.2 124.7h0M168.7 101.2h0M156.5 116.2h0M169.8 73.7h0M153.6 104.6h0M156.6 113.6h0M170.9 116.7h0M160.3 94.7h0M161.3 100.6h0M186.3 128.6h0M177.4 108h0M175.2 132.7h0M172.3 123.4h0M171.2 132h0M183.4 132.5h0M165.4 122.3h0M188.8 127h0M154.8 103h0M163.8 98.8h0M148.7 115.2h0M160.9 129.2h0M173.6 98.6h0M182.7 143.6h0M156.1 142.1h0M167.1 99.9h0M162.4 101h0M157.9 95.9h0M151.1 114.8h0M165.9 131.4h0M144 119.5h0M168.2 102.4h0M165.8 123.6h0M157.3 122.6h0M152.2 133.6h0M147.7 129.9h0M190.7 98h0M149.8 104.2h0M184.9 129.9h0M172.9 128.6h0M161.2 120.3h0M152.2 102.7h0M178.4 130h0M188 114.1h0M152.5 145.5h0M161.3 131.4h0M180 104.7h0M171.4 97.1h0M190.4 129.8h0M158.4 123.7h0M173.9 98.7h0M150.1 117.6h0M192.2 120h0M157.6 103.2h0M138.6 108.3h0M165.8 93.7h0M165.3 98.8h0M189.9 120.5h0M161.9 113.3h0M166.1 112.3h0M172.5 132.9h0M185.4 126.9h0M166.4 96h0M177.9 136.6h0M173.8 95.6h0M162.8 106.9h0M167.2 113.6h0M167.2 102.8h0M155.2 103.8h0M182.8 92.2h0M148.4 117.7h0M180.9 115h0M178.1 115.3h0M166.9 81.5h0M157.6 96.4h0M162.6 126h0M172 116.7h0M175 122.6h0M169.9 111.1h0M179 108h0M161.5 75h0M167.5 140.3h0M147.5 95h0M176.4 104.4h0M167.6 122.5h0M160.9 113.7h0M180.5 119.2h0M175.1 110.5h0M131.7 95.4h0M165.4 135.4h0M149.2 90.5h0M179.4 117.2h0M199.2 87.5h0M160.2 104.8h0M168.4 91.7h0M163.7 102.3h0M171.8 94.1h0M174.5 110.4h0M181.8 124.5h0M154.5 100.6h0M186.8 100h0M156.6 78h0M167.9 143h0M180.8 114.4h0M176.3 94.4h0M153.3 131.1h0M157.2 114.9h0M162.5 77.7h0M167 88.8h0M180 125.2h0M151.4 88.6h0M173.3 92.5h0M174.8 98.9h0M173.7 105.2h0M172.4 107.4h0M184.7 125h0M172 119.4h0M177.8 99.6h0M173.6 109h0M190.7 81.9h0M142 116.5h0M180.2 149.2h0M162.7 116.5h0M163 106.8h0M154.5 105.1h0M142.8 110.1h0M160.7 124.2h0M159.1 87.5h0M171.9 121.7h0M148.4 99.9h0M184.1 115.7h0M168.6 130.1h0M164.5 88.7h0M155 150.9h0M155.6 124.6h0M152.5 104.3h0M159.1 116.8h0M167.1 99.2h0M164 112.7h0M148 118.3h0M165 76.9h0M154.8 114.6h0M168.2 113.6h0M188.8 128.2h0M173.5 122.9h0M163 100.8h0M146.4 102.1h0M148.5 111h0M144.4 122.1h0M176.1 100.2h0M155.1 138h0M166.8 116.4h0M158.2 115h0M166.7 124.4h0M184.2 108.6h0M157.1 121.6h0M161.3 123.7h0M157.9 82.5h0M178.1 99.2h0M154.5 92h0M152.1 110.1h0M149.7 95.7h0M149.3 98.6h0M173.4 91.7h0M201 73.4h0M153.6 114.5h0M178.6 106.8h0M169.5 111.7h0M149.1 166.5h0M161.5 133h0M163.4 110.6h0M158.2 100.8h0M190.2 119.9h0M143.4 92.9h0M172.4 90.5h0M170.1 117.3h0M160.4 88.3h0M169.9 83.1h0M177.9 103.4h0M167.3 126.3h0M173 87.5h0M174.9 113.4h0M140.3 116.7h0M185.1 108.9h0M194.6 119.2h0M179.7 93.8h0M179.9 98.4h0M149.7 91.4h0M165.4 101.5h0M155.3 123.3h0M158.8 113.2h0M179.4 96.9h0M155.8 117.1h0M167.5 64.5h0M142 114.5h0M163.8 120h0M168.6 92.5h0M158.2 98.9h0M157.2 111.1h0M189.9 114.3h0M151.5 104h0M153.9 97.5h0M156.9 98.6h0M181.2 115.5h0M193.3 103.9h0M171.3 97.4h0M158 98.6h0M158 159.5h0M178.9 124.8h0M154.1 123h0M184.5 114.3h0M184.4 107.9h0M168.1 96.1h0M175.1 100.9h0M175.7 112.7h0M186 110.3h0M154.7 82.9h0M180.7 120.4h0M161.9 105.9h0M158.1 85.9h0M168 105.2h0M161.7 143h0M154.2 104.8h0M145.8 116.8h0M154.4 112.5h0M185.7 94.1h0M191.6 103.3h0M174.3 114.9h0M182.2 96.6h0M160.2 103.8h0M165.5 109h0M170.2 105.9h0M152.9 106.7h0M153.5 116.1h0M167.1 118h0M162.3 110.3h0M152 125.8h0M170 130.6h0M164.3 90.1h0M179 114.5h0M166.3 111.1h0M162.4 112.8h0M168 110.3h0M164.2 110.3h0M158 109.7h0M160.5 123.4h0M176.7 96h0M173.9 121.6h0M183.6 94.3h0M143.2 141h0M160.4 127.5h0M162.1 95h0M168.4 113h0M160 121.3h0M160.2 104.8h0M175.2 127.2h0M168.7 109.5h0M149.5 145.7h0M182.8 117.9h0M178.3 121h0M159.6 102.2h0M177.7 96.8h0M156.3 124.2h0M182.1 85.3h0M163 120.1h0M154.3 143.2h0M159.4 148.3h0M158.1 86.4h0M168.7 112.1h0M167.9 120.9h0M166.1 122.5h0M158.3 128h0M121.4 89.3h0M167.4 112h0M144.1 82.4h0M169.2 113.8h0M178.4 147.9h0M170.6 97.3h0M161.1 116.5h0M163.9 114.4h0M166.2 85.9h0M159.2 114.9h0M160.1 92.3h0M154.7 110.8h0M180.6 122.6h0M166.6 102.7h0M177.8 120.2h0M164.4 91.3h0M168.2 95.5h0M164.3 109.7h0M172.8 101.1h0M177.3 101.8h0M169.1 115.1h0M158.7 96.5h0M156.3 114.3h0M187.9 101h0M161.9 125.7h0M162.8 109.1h0M185.2 104.1h0M179.3 123.2h0M172.7 117.3h0M160.8 119.1h0M196.7 99.1h0M170.6 122h0M173.7 103.7h0M165.6 86.5h0M148.8 105h0M148 136.1h0M171.6 108.6h0M172.3 94.1h0M163.1 115.1h0M152.6 93.1h0M148.7 100.8h0M162.6 103.9h0M147.7 114.7h0M177.2 118.7h0M180.7 114.6h0M202.1 109.6h0M177.9 102.3h0M159.3 103.9h0M155.1 115.3h0M122.9 109.5h0M159.2 104.4h0M162.6 136.2h0M177.8 122.7h0M173.3 123.2h0M173.6 113.7h0M168.8 114.9h0M174.5 114.6h0M183.8 124.3h0M153.6 99.9h0M160.9 106.1h0M147.3 136.5h0M186.8 110.3h0M181.7 128.3h0M177.5 83.5h0M150.8 117.7h0M168.2 116.7h0M163.5 109.1h0M167.2 113.6h0M163.9 111.4h0M174.4 86h0M161.6 106.9h0M177.9 97.2h0M170.5 92.6h0M161.7 125.8h0M166.6 83.7h0M161.5 99.5h0M177.5 95.3h0M162.1 124.1h0M170.9 97.5h0M161.8 103.9h0M147.1 118.9h0M180 74.3h0M153.6 101.5h0M174.7 114.2h0M171.9 107.3h0M146.3 96h0M155.5 92.5h0M160.4 101.2h0M157.2 91.2h0M152.8 87.1h0M174.5 129.9h0M162.9 118.1h0M170.3 125.3h0M161 108.9h0M171.6 87.6h0M157.5 100.1h0M165 126.9h0M173.4 115h0M167.9 94.1h0M160.1 118.8h0M152.6 111.9h0M168.8 105.6h0M169 139.2h0M163.8 98.1h0M157 105h0M173.8 101.4h0M196.8 125.9h0M161.8 122.5h0M170.1 119.8h0M171.4 106.4h0M134 109.3h0M168.1 108.4h0M159.2 82h0M185.1 89.7h0M162.5 121.8h0M155.9 120.7h0M165.2 83.2h0M168.2 115.4h0M160.6 88.6h0M167.2 85.1h0M148.8 119h0M163.3 114.6h0M176.2 109.1h0M190.4 124h0M174.4 125.8h0M169.4 116.7h0M182.1 96.9h0M178.8 117.5h0M187.2 113.6h0M179.6 117.7h0M163.6 132h0M171 86.9h0M166.4 147.4h0M169.6 120.7h0M169.4 101.5h0M155.2 132.5h0M140.4 100.8h0M159.1 90.6h0M140 124h0M167.4 107.1h0M165.4 127.9h0M145.7 102.4h0M175.1 109h0M177.5 107h0M168.9 88.8h0M187.9 102.9h0M191.3 89.1h0M151.8 100.4h0M178.3 129.4h0M172.2 106.3h0M172.1 102.7h0M176.8 133.3h0M158.6 89.3h0M159 109.3h0M156.3 104.6h0M156 124.6h0M165.2 109.2h0M148.3 105.7h0M152.9 115.6h0M173.7 109.1h0M163.5 143.9h0M172.5 88.9h0M141.5 128h0M154.4 144.9h0M158.4 125.6h0M166 123.6h0M159.5 101.8h0M177.3 124.9h0M165.9 105.9h0M165.7 125.6h0M168.6 75.5h0M175.8 101.8h0M162.3 79.5h0M179.6 126.5h0M172.8 99.9h0M167.4 125.5h0M167.4 101.3h0M173.6 99.7h0M177.7 135.6h0M177.2 128.4h0M170 128.9h0M176 134.2h0M167.2 122h0M181.3 125.6h0M164.7 133.3h0M140.3 108.9h0M183.8 101.8h0M166.5 131.3h0M151.1 119.3h0M163.9 110.3h0M155 114.1h0M192.2 121.6h0M173.4 97.7h0M147.4 97.1h0M173.9 99.7h0M161.1 113.8h0M192.4 79.1h0M154.7 83h0M137.6 116.9h0M167.1 112.4h0M163.1 91.7h0M160.3 123.2h0M139.7 104.2h0M171.8 109.8h0M186.8 121.7h0M142 114.2h0M179.6 135.4h0M158.7 119.1h0M194.1 142.1h0M174 74.5h0M165.4 86.7h0M181.5 91.1h0M173.3 105.8h0M159.8 94.8h0M176.5 90.4h0M160.9 94.5h0M144.7 96.1h0M191.1 125h0M162.4 103.8h0M158.2 119h0M169.5 129.3h0M145.6 128.7h0M149.7 103.8h0M161 94h0M158.5 132.2h0M168.9 83h0M181.9 87.4h0M160 116.6h0M172.1 118h0M173.9 111.8h0M153.6 95.1h0M168.9 116.7h0M153.4 128.1h0M180.1 105.2h0M170.1 143.3h0M166.7 108.4h0M150.5 92.3h0M168.1 105.8h0M157.4 98.3h0M175.7 102.9h0M165.5 99.2h0M156.2 108.4h0M177.2 123.8h0M175.2 114.2h0M158.8 111.9h0M182.2 90.8h0M164.1 85h0M162.8 104h0M167.2 122.6h0M156.2 122.2h0M160.6 113.7h0M165.6 88.7h0M186 105.4h0M185.2 111.6h0M162.4 122.8h0M187.5 96.7h0M166.1 106.1h0M171.1 111.5h0M177.6 109.1h0M171.6 84h0M196.7 113.2h0M171 84h0M152.4 91.1h0M182.9 109.9h0M162 96.7h0M162.4 112.7h0M127.8 123.8h0M178.7 114.9h0M175.8 125h0M176.9 102.6h0M178.7 110.5h0M188.2 101.7h0M166.6 97.6h0M175.2 160h0M157.3 105.8h0M160.2 139.2h0M179.8 108.1h0M170.5 124.6h0M149.6 109.1h0M172.2 89.1h0M162.4 137.7h0M156.2 107.7h0M171.8 111.9h0M159.4 140.6h0M147.1 100.5h0M152.4 110.2h0M188.2 118.7h0M146.5 122.1h0M172.2 59.9h0M173.7 116.9h0M172.7 139.2h0M150 125.4h0M161.9 116.5h0M167.8 116.8h0M176.4 111.9h0M157.2 127.3h0M152.2 102.1h0M178.5 118.4h0M179 132.2h0M170.2 123.6h0M158.3 116.8h0M172.3 97.3h0M168.2 103h0M176.6 116h0M150.6 110.4h0M168 107.3h0M166.3 78.5h0M151.8 120.5h0M169.5 103.3h0M167.5 99.2h0M160.3 125.8h0M171.5 107.7h0M148.6 108.1h0M165.2 118.1h0M172.3 101.7h0M170.9 94.4h0M181 92.8h0M151 113.7h0M147.5 107.7h0M171.6 73.5h0M171 128.2h0M193.3 107.2h0M175 96.6h0M155.5 108.3h0M177.1 100.3h0M155.8 108h0M148.3 98.8h0M200.5 90.4h0M170.3 114.2h0M175.6 107.6h0M173.4 111.6h0M188.8 117.1h0M169.9 111h0M180.6 128.6h0M154.1 98.9h0M150.4 83.8h0M186 83.7h0M186.2 90.5h0M171.9 125.9h0" stroke="#848484" stroke-width="2.6" stroke-linecap="round" fill="none" />
<path d="M163.2 109.9h0M159.5 132.8h0M148.1 88.4h0M169.9 117.6h0M158 82.1h0M173 87.2h0M178.8 92.4h0M151.2 129.6h0M149.4 118.5h0M187.7 130.5h0M182.5 86.5h0M171.2 132.5h0M175.7 115.2h0M164.4 137.1h0M190.1 86.1h0M184 81.9h0M173.2 105.6h0M158.6 91.5h0M166 136.1h0M179.1 92h0M157.2 106.8h0M178.9 106.3h0M155.4 135.2h0M187.9 92.4h0M171.2 141h0M146.7 130.5h0M176.9 82.3h0M165.3 114h0M159.1 96.6h0M149.1 113.9h0M151.9 117.2h0M165.2 87.8h0M150.8 99h0M169 131.8h0M168.2 113.6h0M180.7 138.8h0M139.1 125.8h0M181.3 131.6h0M177.1 95.7h0M186 113.2h0M194.1 100.8h0M183.8 127.7h0M171 140.7h0M148.4 90.9h0M171.6 146.3h0M189 118.6h0M172 100.2h0M152.6 132h0M194.9 109.7h0M160.2 122.2h0M172.7 107.5h0M162.6 118h0M174.2 109h0M157 102.1h0M182.3 134.9h0M160 83.7h0M190.9 116.8h0M144.9 105.7h0M174.9 90.6h0M189.8 123.6h0M174 98h0M150.8 123.1h0M183.7 119.1h0M188.5 121.9h0M141.4 121.8h0M173.2 83.5h0M143.2 110.8h0M163.4 91.7h0M158.9 84.4h0M157 79.6h0M173.6 87.2h0M191.8 102.9h0M164.9 137.2h0M187.6 108.5h0M144.9 123.6h0M159.5 100.4h0M157.4 124.7h0M155 118.2h0M145.1 107.1h0M168.7 140.7h0M143.1 124.4h0M176.6 120.8h0M151 121.7h0M173.8 120.6h0M180.7 133.4h0M159.8 133.9h0M160 93.6h0M152.4 109.2h0M192.8 93.5h0M161.6 136.2h0M146.7 140.1h0M172.2 129.9h0M178.8 102h0M185.1 88h0M147.5 138.9h0M164.1 125.6h0M191.9 95.3h0M189 105.2h0M155.5 79.2h0M152.8 80.1h0M185.2 102.9h0M191.1 90h0M170.9 95.6h0M186.2 108.5h0M179.4 90.9h0M181 107.8h0M153.4 91.8h0M164.2 142.9h0M160.6 121.1h0M149.1 126.4h0M145.6 105.3h0M172.3 95.5h0M189.6 101.8h0M173.3 93.5h0M187 119.9h0M173.6 136.6h0M142.3 124.4h0M143.2 134.2h0M163.3 146.4h0M174.1 134.4h0M168.3 91.7h0M170 128h0M149.1 137.2h0M163.7 78.8h0M162.1 78.5h0M181 80.8h0M144.5 118.9h0M193.5 117.6h0M170.5 139.9h0M179.7 85.1h0M187.5 87.5h0M163.4 81.3h0M181.3 82.7h0M185.9 82.7h0M162.8 133.9h0M158 81.1h0M151 118.8h0M159.5 86.9h0M193.7 114.1h0M140.7 130.8h0M186.5 82.9h0M168.8 142.6h0M161.6 77.5h0M140.1 101h0M162.7 82.5h0M151.8 109.5h0M165.2 106.1h0M157 81.4h0M182.2 83.6h0M190.4 118.6h0M174 83.4h0M163.2 81.2h0M146.1 93.9h0M183.4 92.4h0M171.3 80.8h0M155.2 101h0M146.8 124.4h0M143 117.4h0M152.4 90.1h0M158.6 127.6h0M165.3 123.9h0M165.9 80.8h0M167.7 98.3h0M146.3 134.2h0M156.1 102.3h0M177.2 139.3h0M184.1 109.3h0M138.6 119.8h0M159 96.3h0M170 96.4h0M181.4 133.2h0M173.6 78.7h0M169.3 132h0M177.5 131h0M189.6 116.8h0M179.2 97.2h0M177.8 91.4h0M186.5 96.6h0M160.5 92.2h0M175.3 118.6h0M147.2 138.5h0M172.8 99.9h0M190.9 88h0M164.2 144.9h0M151.1 128.1h0M193.9 110.2h0M159.6 115.6h0M176.1 84.8h0M162.9 89.4h0M180.2 98.6h0M194.2 112.6h0M160.9 108.8h0M144.5 133.8h0M169.3 100.7h0M150.4 89.1h0M155.8 126.5h0M164.3 137.7h0M189 130.4h0M168.7 77.5h0M167.6 99h0M153.6 99h0M160.4 86.5h0M175.3 139.2h0M164.9 108.7h0M148.5 86h0M139.1 111.2h0M138.8 124.9h0M159.1 97.4h0M180.1 109.8h0M161.8 144.5h0M183.4 93.1h0M174.4 125.3h0M166.7 105.9h0M166.9 93.4h0M142.2 117.4h0M186.5 128.2h0M154.3 95.6h0M138.4 106.3h0M149 97.2h0M183.6 93.4h0M163.3 88h0M182 122.5h0M182.4 119h0M167.5 77h0M182.9 122.6h0M180.7 108.9h0M161.1 134.7h0M194.9 105h0M146 97.4h0M158.5 104.4h0M149.3 101.1h0M184.7 119.9h0M164.5 107.2h0M195.5 106.6h0M189.5 88h0M165.6 122.5h0M182.8 90.7h0M182.3 103.2h0M171.9 94.6h0M181.6 113.4h0M160.1 107.8h0M182.5 86h0M155.5 129.6h0M149.8 89.1h0M140.4 121.6h0M188.7 111.4h0M159.6 131.4h0M155.3 113.7h0M190.3 111h0M141.9 111.8h0M141.9 101.1h0M172.2 121.8h0M172.4 112.8h0M159 144.9h0M152.4 89h0M159.3 104.2h0M191.4 109h0M167.3 101.9h0M168.6 139.8h0M144.4 108.8h0M180.4 135.4h0M161.4 120.7h0M139.6 125h0M174.2 144.5h0M137 110.2h0M151.8 138.9h0M149.9 109.4h0M150.5 81.3h0M166.8 139.7h0M189.8 97.1h0M190 115h0M179.2 114.8h0M177.8 140.7h0M143.4 104.6h0M153.4 105.3h0M152.2 97.6h0M155.7 107.1h0M171.2 86.6h0M173.2 145.9h0M178.9 126.3h0M147.7 110.8h0M180.8 137.3h0M164.8 100.4h0M172.3 120.6h0M191.3 116.1h0M160.5 122.5h0M188.5 117.4h0M160.3 143.9h0M157 136.8h0M158.2 108.9h0M179.3 104.5h0M182.9 91.3h0M178 142.8h0M178 83.4h0M155 139.3h0M180.1 86.5h0M165.6 131.9h0M188.1 118.7h0M164.1 113.2h0M185.2 104.9h0M162.2 144.1h0M153.2 108.2h0M180.9 133.1h0M182.8 85.3h0M165 96.3h0M189.4 127.4h0M173 126.4h0M189.6 130.4h0M148.9 113.5h0M154.2 136.5h0M191.8 125.5h0M150.2 139.1h0M184.8 97.2h0M174.5 97.2h0M189.6 110.2h0M184.8 92.3h0M173.8 109.1h0M153.5 95.5h0M143.8 134.6h0M178.9 131.3h0M156.3 102.1h0M180.5 85.4h0M182.3 124.3h0M189.9 128.4h0M186.7 114.4h0M171.1 109.8h0M155.8 118.8h0M157.2 122.1h0M137.6 118.4h0M174.4 90.1h0M181.1 121.2h0M137.3 119.1h0M179.7 106.8h0M154.5 86.6h0M160.1 146.5h0M176.6 76.8h0M167.4 125.4h0M172.9 86h0M153.2 103h0M161.6 80.7h0M177.4 97.4h0M175 121.1h0M159 94.4h0M165.6 124.1h0M184.6 130.6h0M164.3 91.5h0M185.1 109.9h0M150.8 113.8h0M169.4 87.9h0M177 125.3h0M176.5 91.7h0M160 141.5h0M178.7 108.2h0M164.9 80.2h0M173.3 90h0M171.2 119.8h0M157.6 118.2h0M149.4 140.4h0M171.9 106.9h0M161.8 92.5h0M186.6 132.3h0M159.6 117.5h0M166 127.8h0M151 110.9h0M175.8 78.1h0M174.6 117.2h0M166 74.7h0M172 99.4h0M151.8 133.2h0M189.7 93.8h0M166.7 138.4h0M159.8 136.4h0M152.8 94.2h0M151.4 112.5h0M137.1 107.7h0M183.8 100h0M188 96.4h0M154.1 88h0M195.5 109.2h0M173.1 93.8h0M159.3 99.8h0M145.2 136h0M145.1 113.3h0M178.9 84.3h0M166 140h0M171.7 142.3h0M150.5 139.7h0M155.2 139.5h0M166.5 108.1h0M178.9 139.6h0M160.9 114.6h0M180.3 79.8h0M165.9 111.8h0M146.8 134.2h0M144.1 123.1h0M161.7 109.6h0M167.1 142.8h0M161.8 138.8h0M157.2 117.6h0M192.5 96.5h0M170.6 82.3h0M186.1 114h0M144 89.9h0M156.6 123.1h0M175.5 99.2h0M140.2 125.9h0M156.6 120.1h0M166.4 144.2h0M179.5 114h0M141.2 101.6h0M160.4 88.8h0M180.3 86.1h0M156.2 85.7h0M149.4 102.6h0M186.8 116.7h0M142.4 112.8h0M160.6 122.9h0M161.3 146.1h0M193.3 107.8h0M168.8 93.8h0M152.5 115.1h0M184.3 102.5h0M183.2 84.2h0M165.1 137.4h0M157.6 129.2h0M184.6 85.8h0M176.7 99.6h0M178.6 136.8h0M141.3 105.1h0M163.2 99.8h0M160.4 138.2h0M153.7 135.7h0M195.5 112h0M180 98.4h0M167.2 135.7h0M139.1 101.8h0M167.3 97.3h0M138.3 110.3h0M184.3 107.8h0M179.6 95.3h0M190.7 87.3h0M158.5 132.4h0M161.5 128.6h0M167.9 93.8h0M159.4 81.7h0M167.9 140h0M156 98.9h0M155.5 89.4h0M180.9 117.4h0M139.7 120h0M148.8 116h0M147.4 129.4h0M194.3 101.6h0M155.3 99.9h0M171.2 145.9h0M153.1 131.8h0M183.5 129.6h0M161.7 92.7h0M142.2 106h0M170.7 79.2h0M176.9 84.4h0M190.6 92h0M174.2 86.5h0M168.5 106.8h0M140.9 97.4h0M148.3 95.8h0M166.7 139.7h0M168.7 139h0M160.4 112.6h0M156.6 127.3h0M157.8 108.5h0M159.2 82.9h0M138.9 111.5h0M148.6 132.8h0M191.5 120.1h0M172.1 130.3h0M171.3 108h0M153.2 129h0M177.1 102.4h0M153.7 125h0M173.9 125.4h0M161.5 125.7h0M185.6 89.7h0M146.8 97.5h0M177.3 79h0M148.8 141.9h0M161.8 128.3h0M161.8 146.6h0M151.8 85.1h0M147.2 126.8h0M176.1 75.3h0M184.9 122h0M170.8 113.1h0M176.8 108.2h0M150.6 118.8h0M159.6 141.1h0M170.7 82.9h0M190.7 104.4h0M170.4 110.6h0M161.3 128.5h0" stroke="#848484" stroke-width="2.6" stroke-linecap="round" fill="none" />
<path d="M151.2 107.4h0M174.5 160h0M155.3 138.4h0M155.4 106h0M180.2 93.6h0M162.9 136.2h0M189.3 125.9h0M115.7 98.8h0M175.8 158.3h0M174.5 159.3h0M133.3 116.3h0M138.2 104.2h0M182 122.5h0M142.9 168h0M151.5 109.9h0M176.3 143.8h0M157.6 94.1h0M173.9 113h0M146.8 103.9h0M170.3 94.5h0M186.1 123.7h0M170.8 89.8h0M120.2 79.4h0M177.4 100.6h0M165.5 77.2h0M146.1 126.2h0M192.3 87.6h0M129.2 103.8h0M202 135.2h0M151.6 112.5h0M195.9 123.8h0M163.4 124.3h0M137.5 108.3h0M166.2 83.9h0M170.9 118.4h0M175.2 107.4h0M185.6 147.3h0M146.2 107.8h0M174.2 81.6h0M179.1 90.2h0M158.8 98.6h0M145.4 123.7h0M145 134.9h0M179.3 112.8h0M180.3 144h0M147.6 141.4h0M137.3 86.9h0M189.2 133.5h0M133 65.5h0M167.4 146.3h0M148 99.7h0M128.9 139.8h0M166.7 106.1h0M160.4 136.6h0M193.2 109.5h0M209.9 114.4h0M160.4 121.8h0M184.8 97.7h0M185.2 72.7h0M153.7 125.3h0M146.8 88.3h0M196.6 108.4h0M156.9 111.2h0M163.7 55.5h0M158.4 164.9h0M161.5 127.6h0M152.1 155.9h0M179.3 118.3h0M189.5 116.2h0M156.7 15h0M136.5 101.8h0M165.2 65.5h0M134.3 77.9h0M151.4 121.5h0M188.9 98.5h0M210.9 68.7h0M171.8 106.2h0M142.8 105.3h0M179.9 97.9h0M119.1 148.2h0M150.3 130.9h0M194.8 102.1h0M179.2 96.8h0M136.5 133.5h0M130.8 118.6h0M181.4 113.6h0M163.3 114.3h0M152.3 93.1h0M172.5 107.8h0M152.7 106.4h0M125.6 146h0M180.5 136.9h0M151.2 102.5h0M144.1 150.5h0M137.4 103.8h0M169.2 127.1h0M148 130.9h0M176.8 94.3h0M158.8 127.5h0M185.9 132.1h0M156.5 127.5h0M151.1 109.2h0M124.6 41.6h0M142.1 163.8h0M178.7 111.1h0M225.6 116.7h0M139.1 86.7h0M143.4 120h0M171 172.7h0M173.8 77.4h0M150.6 138.1h0M165.8 112.2h0M131.9 145.1h0M158.2 138.2h0M182.3 123.2h0M197.1 89.2h0M160.9 89.6h0M159 125.8h0M173.3 98.2h0M186.5 120.1h0M174 108h0M149.2 106.9h0M171.4 95.2h0M183.7 126.3h0M149.9 114.1h0M137.4 105.4h0M174.5 108.6h0M171.6 130.9h0M183.7 67.6h0M166 122.5h0M151.3 91.8h0M155.5 105.8h0M143.6 80.2h0M145.3 165.8h0M153 59.3h0M154.6 116.3h0M186.7 141.9h0M139.7 107.7h0M163.3 54.2h0M152.5 98.2h0M194.2 141.9h0M169.6 122.6h0M156.8 77.4h0M180.7 146.2h0M165.7 115.5h0M154.8 118.3h0M195.2 56.5h0M178.6 118.3h0M199.1 77.9h0M187.6 128h0M179.9 131.2h0M167 85.7h0M142.6 95.3h0M178.6 154.4h0M165.9 94.9h0M178 94.8h0M164.3 126.4h0M150.6 105.4h0M144.2 104.2h0M178.5 123.2h0M190.4 125.7h0M158.7 127.9h0M173.6 117.8h0M192.2 144.4h0M147.7 112.1h0M157.6 148.6h0M142 109.1h0M188.1 113.1h0M169.7 137h0M155.2 89.6h0M131.3 62.4h0M160.9 77.7h0M184.5 145.4h0M158.6 79h0M156 105.5h0M177.4 112.4h0M139.8 126h0M165.6 111.2h0M176.5 76.2h0M148.9 97.4h0M147.9 121.5h0M169.5 127.9h0M162.6 121.5h0M159.8 96.3h0M168.7 64.2h0M169 137.6h0M146 111.1h0M151.2 120.7h0M173.6 130h0M187.1 101.1h0M191.7 97.2h0M147.6 146.6h0M186.5 137.1h0M179.8 81.1h0M164 103.1h0M174.4 98h0M181.2 123.6h0M200.4 120.6h0M143.5 99.6h0M176.7 123.5h0M161.9 138.9h0M160.5 111.1h0M187.6 88.4h0M181.1 136.9h0M144.3 84.6h0M159 93.5h0M169.2 132.7h0M136.4 110.9h0M182 112.1h0M163.2 95.2h0M167.9 94.4h0M171.4 143.7h0M200.9 144.9h0M165.4 85.3h0M157.6 108.2h0M199.5 100.6h0M154.7 102.7h0M154.2 72.7h0M137 141.3h0M186.3 83.8h0M170.2 131.6h0M174.2 92.8h0M168.1 77.5h0M162 145.7h0M149 101h0M149.1 118h0M173.4 118.3h0M167.2 110h0M197.4 137.4h0M149.6 135.2h0M155 94.6h0M144.4 89.9h0M192.3 125.3h0M140.1 147.5h0M180.2 53.1h0M193.5 83.6h0M162 102.1h0M179.3 136.8h0M122.3 125.6h0M157.1 105h0M131.7 135.1h0M168.2 71h0M165 107.6h0M149.4 101.2h0M183.7 136.8h0M171.9 133.7h0M154.4 130.8h0M154.6 104.2h0M135.5 117.7h0M161.1 118.3h0M207.1 103.2h0M150.6 105.4h0M173.2 74h0M153.9 116h0M180.9 136.3h0M173.6 111.4h0M160.2 74.6h0M129.2 124.9h0M154.6 109.8h0M188.8 120h0M160 101h0M177.4 104.7h0M155.3 131.3h0M127.6 116.7h0M173.4 87.6h0M171.2 83.8h0M153.3 88.1h0M157.5 89.6h0M170.6 119.3h0M153 120.1h0M171.8 87.9h0M160.8 140.2h0M117.8 112.5h0M162 157.3h0M152.9 120.5h0M148.2 128.6h0M172.9 141h0M155.1 96.6h0M175.6 129.3h0M186.7 120.2h0M167.7 117.4h0M134 129.3h0M150.3 75.7h0M183.1 123.3h0M159.7 106.1h0M148.8 143.5h0M163.1 122.8h0M174.9 119.1h0M170.1 118.7h0M177.8 125.6h0M148.5 107.5h0M159.4 72.3h0M159.9 114.3h0M164.5 114.5h0M123.1 120.7h0M160.2 48h0M138.2 70.9h0M192.7 97.2h0M196 93.5h0M198.5 128.7h0M181.1 114.8h0M155.3 105.8h0M184.1 108h0M161 132.3h0M177.2 130.4h0M147 98.2h0M153.2 103.2h0M174.3 163.3h0M200.4 108.7h0M164.5 79.4h0M210 127h0M220 105h0M139.4 147.1h0M164.4 90.3h0M146 138.7h0M162.2 142.1h0M154.3 118.9h0M163.7 52.2h0M184.3 126.1h0M183.8 142.3h0M170.2 99.5h0M165.1 105.3h0M167.4 69.8h0M167.6 142.5h0M176.5 150.5h0M165.1 118.8h0M175.1 101.6h0M138.9 102.1h0M180.9 84.1h0M199.9 148h0M168.7 131.4h0M136.8 114.2h0M192 90.1h0M158.5 99.2h0M105.4 121.4h0M160.7 136.3h0M177.2 89.1h0M172.7 87.4h0M189.8 43.6h0M177.5 115.4h0" stroke="#848484" stroke-width="2.6" stroke-linecap="round" fill="none" />
<path d="M196.3 108.8h0M141.3 144.6h0M154.2 133.4h0M151.6 75.9h0M155.8 126.1h0M147.7 128.4h0M154.2 126.2h0M163.7 119.6h0M156 72.5h0M177.6 142.8h0M163.1 144.4h0M164.7 95.7h0M193.4 154h0M170.9 121h0M167.8 80.9h0M164.4 111.2h0M166 124.1h0M175.9 130.3h0M149.2 135.9h0M187 127.1h0M195.3 107.6h0M187.2 77.9h0M155.2 85.4h0M133.9 126.5h0M156.3 131h0M167.8 92.7h0M180.8 160.1h0M161.2 123.2h0M158.9 120.1h0M194.3 141.2h0M151.8 138.2h0M185.5 102.2h0M182.3 155.9h0M139 136.1h0M170.2 128.9h0M154 109.4h0M146.4 148.4h0M128.9 82.5h0M134.4 119.9h0M172.8 118.7h0M157.2 121.4h0M170.1 129.8h0M144.1 138h0M158.6 81h0M159.5 106.3h0M134.8 114.8h0M132.5 85.2h0M173.3 130.9h0M167.6 95h0M146.7 111.3h0M162.8 135.8h0M177.6 91.6h0M200.3 152h0M147.5 94.5h0M176.7 135.7h0M205.9 101.1h0M166.1 75.1h0M193.2 96.9h0M114.6 128.2h0M192.9 112.9h0M164.6 122h0M128.3 143.5h0M179.9 141.8h0M185.1 111h0M188.2 97.8h0M188.1 159.4h0M164.2 114.2h0M150.3 98.7h0M155.8 109.4h0M164.1 139.1h0M172.7 84.7h0M155.4 144.9h0M165.7 95.1h0M181.8 69.6h0M171.1 167h0M209.3 105.6h0M206.7 104.1h0M142.5 106.5h0M153.7 133h0M139.3 120.9h0M142.1 149.9h0M175.4 109h0M145.5 98.2h0M144.4 130.4h0M159.5 137.3h0M180.3 125.2h0M157.9 112.9h0M157.8 111h0M182.6 115.4h0M173.9 110.9h0M173.6 147.7h0M183.2 185.5h0M145.1 96.3h0M169 74.8h0M152.4 150.5h0M184.7 130.5h0M180.6 104.8h0M144.5 87.4h0M190.8 95.5h0M142 78.7h0M187.5 114.2h0M168.8 101.8h0M147.8 101.8h0M143 124.3h0M158.8 80.8h0M164.3 96.2h0M150.9 86.8h0M175.7 123.2h0M137.5 85.4h0M164.6 140.9h0M164.8 102.4h0M128.3 182.4h0M170.8 139.7h0M140.1 93.3h0M116.1 124.9h0M152.8 108.3h0M160.3 156h0M182.4 71.7h0M155.3 97h0M193.5 113.6h0M192.8 101.8h0M186.1 104.2h0M190.6 75.3h0M171.6 107.2h0M153.9 152h0M177.4 119.7h0M183.6 78.8h0M169.4 97.8h0M160 124.1h0M134.2 96.7h0M177.9 109.8h0M171.6 96.7h0M139.3 155.1h0M166.7 136.8h0M178.9 95.2h0M162.6 118.8h0M180.1 103.6h0M179.5 60.9h0M135.9 121.2h0M158.9 106.5h0M174.2 127.7h0M182.7 129.5h0M192.3 114.9h0M127.3 151.5h0M163.5 168.8h0M178.7 76.7h0M188.7 115.7h0M197.7 83.1h0M146.5 109.7h0M157.5 109h0M144.1 95.1h0M180.7 93.8h0M138.9 144.8h0M187.9 80.8h0M183.1 138.7h0M174.3 107.5h0M122.3 45.1h0M151.5 110.8h0M179.4 68.7h0M137 122.1h0M160.1 96.6h0M162.7 111.5h0M182.2 101.8h0M170.3 135.6h0M170.1 137.2h0M156.1 104h0M164.8 154.3h0M162.1 135.3h0M179 95.9h0M161.2 129.2h0M185 136.4h0M131.5 142.3h0M188.2 109h0M161.4 122.5h0M186.8 108.9h0M166.4 117.9h0M181.5 63.8h0M194 124.4h0M153.9 164.8h0M166.3 109.8h0M161.4 112.8h0M168.8 108.7h0M133 155.4h0M161.4 82.9h0M159.8 113.7h0M149.3 114h0M160.9 154.8h0M134.5 100.3h0M192.1 114.6h0M173.5 77.1h0M201.6 123.9h0M147.6 145.6h0M141.9 109.5h0M170.2 137h0M132.1 101.9h0M169.1 141.5h0M150.9 116.3h0M158.1 118.9h0M169.7 113.8h0M165.6 126.5h0M201.1 134.3h0M177 114.4h0M139.4 128.2h0M183.9 108.8h0M138.5 120h0" stroke="#ff0000" stroke-width="2.8" stroke-linecap="round" fill="none" />
<path d="M226.2 28.9h0M224.1 35.2h0M190.6 35.8h0M162.8 29.3h0M122.2 88.8h0M132.6 80.6h0M126.2 182h0" stroke="#ff0000" stroke-width="2.8" stroke-linecap="round" fill="none" />
</g>
<ellipse cx="168.8" cy="110" rx="29.6" ry="37.6" transform="rotate(3 168.8 110)" fill="none" stroke="#111" stroke-width="1.0"/>
<ellipse cx="167.7" cy="111.1" rx="30.9" ry="38.9" transform="rotate(4 167.7 111.1)" fill="none" stroke="#0000ff" stroke-width="0.8"/>
<circle cx="165.3" cy="110.5" r="1.35" fill="#a8c8a8" stroke="#00e000" stroke-width="1"/>
<line x1="170.4" y1="105.7" x2="233.1" y2="53.4" stroke="#000" stroke-width="1.2"/>
<rect x="248" y="21.5" width="57.2" height="57" fill="#fff"/>
<line x1="276.5" y1="21.5" x2="276.5" y2="78.5" stroke="#e4e4e4" stroke-width="1"/>
<line x1="248" y1="50.5" x2="305.2" y2="50.5" stroke="#e4e4e4" stroke-width="1"/>
<g clip-path="url(#ci1)">
<path d="M267.7 50.9h0M276 50.3h0M281.5 47.6h0M277.4 48.9h0M278.5 54.7h0M277.9 47.9h0M274.4 44.8h0M271.2 53.1h0M279.3 54.8h0M280.2 49.2h0M278.4 51h0M277.8 46.7h0M277.7 49.5h0M276.1 55.5h0M277.3 54.1h0M276.3 51.1h0M277.5 49.2h0M272.7 43.1h0M273.8 51.9h0M278.4 52.5h0M274.9 55.2h0M267.1 59.6h0M276.7 52.2h0M267.6 54.8h0M283.4 45.5h0M278.9 55.9h0M278.8 54.4h0M273.7 56.6h0M272 53.5h0M275.4 52.5h0M276.3 57.2h0M273.3 47.5h0M276.8 53.4h0M278.8 55.4h0M278.5 47h0M272.3 45.3h0M268.1 52.5h0M276.2 51.1h0M273.8 53.3h0M277.9 53.4h0M282.4 47.1h0M282.4 52h0M277.3 55.6h0M280.4 48.9h0M282.4 49.3h0M276.4 45.5h0M277.3 54.2h0M279.4 59.3h0M276.1 44.4h0M274.4 54h0M273.5 54.6h0M276.3 48h0M273.9 48.9h0M279.2 45.9h0M275 47h0M281.7 51.3h0M280.8 53.5h0M271.6 51.1h0M280.3 54.4h0M274.8 51.5h0M281.4 45.3h0M278.2 57.1h0M276.1 55.9h0M278.8 47.4h0M274.2 58.5h0M277.5 52.7h0M277.7 51.2h0M275.8 59.2h0M277.7 39.4h0M272.6 43.4h0M278.4 53.8h0M271.8 49.5h0M278.6 46.4h0M278.1 57.4h0M279 52.8h0M274.2 44.9h0M287.6 47.6h0M275.5 54.4h0M276.9 58.6h0M273.5 41.6h0M281.7 51.7h0M274.6 48.9h0M280 42.8h0M272.8 49.9h0M277.5 43.4h0M275 48.2h0M279.8 57.9h0M275.3 52.9h0M273.2 54.1h0M278 53.3h0M272 52.2h0M272.8 55h0M279.2 45.4h0M269.5 49h0M279.2 54.5h0M274.9 47.4h0M273 48.7h0M277.3 56.1h0M278.7 57.5h0M274.2 47.9h0M275.8 47h0M279.4 53.3h0M279.2 51.9h0M276.2 47.6h0M273.6 53.3h0M272.9 53.2h0M274.2 51h0M278.9 63.9h0M278.6 56.8h0M277.6 54.3h0M281.6 55.3h0M275.3 64h0M275 55.6h0M275 47.5h0M283.5 52.1h0M268.9 51h0M277.5 48.1h0M278.1 51.9h0M276.7 51.8h0M285.1 50.4h0M280.8 48.5h0M279.3 54.4h0M273.2 43.5h0M278.3 54.4h0M275.1 50.7h0M276.6 51.9h0M277.2 40h0M274.7 58.2h0M278.8 42.9h0M282.5 46.8h0M280.3 53.6h0M277.3 48h0M269.4 48.9h0M280.5 40.6h0M280.5 48.7h0M275.8 51.7h0M274.8 53.8h0M278.9 49.4h0M273.6 51.7h0M279.5 52.7h0M272.6 47.7h0M273.2 47.3h0M276.6 59.5h0M271.2 46.9h0M276.5 56.3h0M278.5 51h0M271.7 57.3h0M279.9 47.8h0M274.5 53h0M278.6 52.2h0M277.3 49.7h0M274.9 52.1h0M274.6 47.2h0M270.3 50.3h0M274 48.9h0M273.7 54.1h0M282.6 50.3h0M280.3 44.4h0M271.5 49h0M279.5 50.3h0M277.4 46.6h0M275.2 56.7h0M278.3 52.5h0M279.5 54.5h0M274.5 47.3h0M275.6 48.9h0M277.2 55.3h0M273 44.2h0M277.3 52.4h0M276.3 51.1h0M274.1 48.5h0M273.5 51.1h0M277.7 45.9h0M279.8 51.7h0M277.8 45.2h0M273.5 44.9h0M279.3 57h0M277.2 47.5h0M278.7 41.2h0M280.8 55.1h0M273.3 47.2h0M274.4 50.4h0M273.4 54.9h0M283.9 52.3h0M280 58.5h0M270.1 50.1h0M278.1 53.4h0M274.6 46.2h0M280.8 51.4h0M276.9 57.6h0M276 53h0M277.1 51.4h0M278 41.8h0M276.7 49h0M275.8 44.9h0M276.1 54.2h0M278.5 47.4h0M272.5 52.3h0M276.6 46.2h0M276.2 59.2h0M274.8 45.4h0M279.3 51.3h0M271.9 62.6h0M275.3 51.7h0M273.5 46.8h0M278.6 53.5h0M274.9 55.2h0M276.8 54.7h0M278 41.8h0M270.8 51.7h0M278.2 41.1h0M273.9 59.3h0M275.7 51h0M276.2 48.6h0M279.5 53.8h0M279.3 52.9h0M283 45.3h0M277.2 58.1h0M274.9 49.6h0M274.8 42.7h0M279 57.1h0M282.4 57.7h0M277.8 56.4h0M274.5 53.2h0M277.6 46.7h0M277.5 55h0M276.7 59.2h0M273.9 54.4h0M267.4 58h0M274.6 47.2h0M280.4 55.4h0M277.4 55h0M268.6 44h0M276.6 43.3h0M269.9 47.5h0M283.8 51.1h0M277.3 52.8h0M272.2 49.7h0M279.5 50.4h0M273.8 50.2h0M278.6 51.1h0M276.7 53.4h0M272.3 53h0M279 50.5h0M271.7 51.9h0M281.5 48.7h0M276.8 54.4h0M272.9 48.4h0M270 58.2h0M282.5 50.6h0M281.9 52h0M272 47.3h0M282.6 49.2h0M277.2 51.5h0M275.8 50.8h0M276.3 47.9h0M275.6 45.4h0M281.8 50.9h0M277.1 51.4h0M269.9 53.3h0M284.2 56.4h0M279.8 49.3h0M272.6 41.6h0M275.3 50.1h0M273.3 42.3h0M276.8 44.9h0M278 55.5h0M277.5 53.3h0M274.4 47.8h0M273.7 47.8h0M279.7 50.3h0M276.2 42.7h0M284.8 52.9h0M273.7 49.2h0M279.5 59.2h0M276.8 45.9h0M273.8 55.3h0M281.6 47.6h0M277 55.4h0M273.3 46.3h0M275.4 54.1h0M280.3 48.7h0M272.1 47h0M281.6 50.1h0M279.1 52.9h0M275.6 52.6h0M281.5 58h0M283 54.5h0M278.8 38.7h0M277.2 48.9h0M283.3 41.6h0M282.1 49h0M273.2 53.6h0M275.8 44.6h0M275.8 45.4h0M275.1 51.4h0M271.1 49.4h0M279.9 58h0M276.9 52.2h0M277 53.2h0M281.7 58.8h0M274.5 48.5h0M276.4 50.8h0M277.6 46.2h0M275 51.9h0M276.2 55.5h0M279.4 57h0M276.6 50.6h0M281.5 47.5h0M273.9 47.3h0M277.3 44.4h0M271.4 51.3h0M276.2 57h0M274 39.9h0M281.6 40.8h0M279.3 57.2h0M278.5 43.4h0M283.4 52.3h0M281.9 45h0M279.2 54.4h0M274.1 54.4h0M271.3 51.6h0M276.5 54.6h0M275.3 51h0M274.2 53.4h0M275.5 59.2h0M270.5 55.8h0M282.1 47.8h0M272.4 47.1h0M274.1 49.7h0M278.7 49.7h0M270.6 51.1h0M280 48h0M280 53.8h0M275.5 51h0M272.6 52.5h0M274.9 50.8h0M269.8 53.6h0M281.7 45.3h0M276.8 58.1h0M273.9 52.4h0M273.3 52.9h0M278.7 53.6h0M282.1 55.8h0M271.9 54.2h0M274.5 51.9h0M270.1 50h0M279.1 43.3h0M277.2 51.8h0M284.9 49.4h0M276.1 49.4h0M275 61.9h0M274 42.3h0M279.7 51.1h0M270.6 56.4h0M279.4 55.3h0M277.5 56.5h0M274.7 45h0M273.3 46.4h0M280.5 53.7h0M283.5 49.5h0M275 58.7h0M278.6 51.9h0M283 51.8h0M274.3 52.9h0M275.7 49.6h0M272.1 51.4h0M276.1 47.8h0M276.3 50.7h0M275.1 48.6h0M273.9 52.1h0M270.7 44.4h0M271.6 44h0M273 53h0M279 51.9h0M274.7 46.4h0M273.4 49.8h0M279 46.1h0M278.7 60.3h0M273.8 43.7h0M274.3 58.8h0M279 47.1h0M278 52.8h0M273.5 49.7h0M277.5 49.1h0M276.5 55.2h0M280.7 54.6h0M273.4 49.6h0M279.9 46.7h0M278.2 60.4h0M272.9 57.4h0M280.5 51.6h0M280 49.5h0M271.7 52.3h0M284 51.3h0M272.3 56.4h0M273.2 46.5h0M275.4 51h0M279.5 47.3h0M278.8 56.9h0M276.2 59.2h0M281.7 50.5h0M278.1 53.4h0M281.8 57.4h0M287.1 49.5h0M277.3 46.6h0M267 55.7h0M274.9 53.2h0M272.6 50h0M276.9 57.6h0M277 52h0M272 42.7h0M272.3 52.5h0M275.6 50.6h0M275.9 59.6h0M266.8 50.8h0M280.2 50h0M276.7 52.9h0M276.6 52h0M277.7 44.4h0M272.8 51.5h0M276.4 49.4h0M280.5 57.4h0M280.7 62h0M278.3 45.8h0M275.5 46.5h0M273.5 47h0M281.6 47.9h0M278.6 47.7h0M275 51.2h0M268.4 55.9h0M273.3 44.9h0M269.3 43.8h0M281.3 42.5h0M277.3 56h0M273.8 57h0M275.6 43.9h0M286.5 43.4h0M281.2 51.5h0M271.5 56h0M276.1 55.6h0M271.9 51.8h0M270 54.1h0M277.3 52.4h0M285.8 48.4h0M282.5 59.7h0M276.8 50.9h0M275.2 45.8h0M277.4 48.8h0M280.5 43.8h0M271 51h0M269.5 56h0M283.8 45.1h0M277.7 56.1h0M282.7 60.6h0M277.5 52.7h0M282.3 45.6h0M274.3 47h0M278.5 49.4h0M282.6 45h0M280.5 45.2h0M274.8 49.7h0M280 50.1h0M274 53.7h0M271.1 45.4h0M278.6 59.6h0M282 55.8h0M279.9 55h0M271.8 47.9h0M279.9 58.9h0M279.2 49.4h0M274.8 59.3h0M267 55.9h0M280.5 46.8h0M280 48.8h0M278.5 59.5h0M269.9 55.5h0M270.8 50.2h0M280.5 51.9h0M279.7 51.9h0M278.5 47.4h0M275.6 50h0M278.1 47.9h0M274.5 49h0M275.4 53.1h0M273.2 46.5h0M277.6 54.3h0M275 51.4h0M280.3 54.5h0M279.4 55h0M273.5 56.7h0M283.7 53.8h0M272.2 54.2h0M278.3 50.1h0M280.8 53.6h0M281.6 46.8h0M268 49.8h0M280.5 54.4h0M281.3 50.7h0M282.2 53h0M268 46.1h0M274 57.2h0M276.2 48.3h0M274.9 52.8h0M281.8 50.8h0M274 55.2h0M281.4 49.2h0M278.8 46.3h0M270.9 42.2h0M272.7 49.5h0M274.8 45.4h0M277 53.4h0M280.5 57.6h0M275.9 40.7h0M280.1 45h0M270.5 52.4h0M264.7 56.6h0M275.3 52.3h0M278.4 52.4h0M275.2 53.3h0M272.7 53.6h0M278.2 58.5h0M284.1 53.8h0M276.2 45.2h0M273.8 48.8h0M273.3 51.9h0M284.3 47.2h0M276.4 49.7h0M279 48.5h0M281.4 47.7h0M280.8 54.1h0M273 49.1h0M280.3 45.9h0M279.9 47.6h0M278.5 51.1h0M280.5 60.7h0M274.4 52.1h0M276.3 57.8h0M274.6 53.2h0M279.6 41h0M274.1 52.7h0M278.1 47h0M272.3 44.7h0M276.1 46h0M275.2 59.2h0M276.2 43.6h0M277.1 48.1h0M275.9 56.3h0M275.7 54h0M268.5 43h0M280.9 50.4h0M274.2 48.5h0M275.6 50h0M273.4 54.4h0M280.5 48.3h0M273.1 49.4h0M278.6 57.7h0M281.2 42.4h0M283 49.2h0M281.2 53.1h0M279 45.2h0M271.9 48h0M281.6 44.8h0M281.2 51.6h0M279.9 48h0M279.7 54.6h0M276.9 55.7h0M274.6 51.1h0M280.8 49.2h0M281.6 52.1h0M272.6 51.2h0M280.2 45.3h0M277.6 55.9h0M280.1 52h0M277.7 54.6h0M281 44.6h0M280.6 55h0M280.1 60.7h0M271.3 53.8h0M279.8 44.2h0M276.8 51.1h0M272.3 50.6h0M279.4 51.9h0M271.3 49.8h0M280.1 53.2h0M283.2 48.8h0M274.7 52h0M280.2 47.7h0M278.4 51.4h0M279.2 55.5h0M271.4 48.6h0M279 54h0M277.2 46.8h0M279.5 49.2h0M276.7 49.8h0M280.9 56.7h0M277.7 47.3h0M279.3 56.6h0M282 44.1h0M277.4 50.2h0M280.5 55.1h0M277.6 54.1h0M278.7 46.2h0M274.7 45.2h0M279.7 55h0M281.4 45h0M276.4 53.6h0M279.8 48.5h0M278.4 50.8h0M272.5 61.6h0M278.1 58.1h0M281.8 54.8h0M274.8 44.5h0M269.9 52.4h0M277.5 51.1h0M274.2 50.4h0M284 57.1h0M276.6 42.9h0M276.7 52.4h0M274.3 51.5h0M277.7 47.4h0M274.6 58.9h0M273.3 45h0M276.5 51h0M273.6 51.3h0M281.8 40.7h0M272.3 44.2h0M276.5 46.4h0M274.1 54.5h0M271.4 55.3h0M283.1 53.6h0M268.7 52h0M282.3 40.6h0M271.3 51.9h0M277.1 48.5h0M285.4 56.3h0M268.6 57.1h0M271.5 61.3h0M281.8 54.2h0M277.4 54.7h0M274.6 46.1h0M276.6 51.2h0M273 45.1h0M277.2 55h0M282.5 45.3h0M275.3 49.9h0M277.3 47h0M281.3 48.7h0M284.3 53h0M274.5 48.2h0M277.9 51.9h0M274.6 46.2h0M274.3 57.4h0M275.2 47.9h0M274.3 55.6h0M270.1 60.8h0M269.1 39.5h0M273.9 46.2h0M277.2 49.9h0M281.4 56.3h0M274.7 48.6h0M276.1 52.6h0M279.3 47.4h0M279.6 53.5h0M276.3 45.2h0M276.5 54.7h0M275.5 42h0M274.9 59.3h0M270.5 51.6h0M278.4 46.7h0M275.7 61.1h0M284 55.8h0M275.5 56.1h0M279.8 48.9h0M280.3 53.7h0M283 53.2h0M271.7 43.1h0M282.7 53.6h0M276.8 50h0M276.3 56.9h0M275.6 56.9h0M275.2 47.8h0M275.4 48h0M267.8 51.7h0M278.7 53.9h0M277 48.9h0M273.1 50.3h0M276.5 53.7h0M285.5 52.8h0M278.2 56.3h0M275.3 51.9h0M283.3 46.7h0M273.7 42.5h0M276.2 54.6h0M274.6 49.3h0M275.8 49.2h0M279.5 49.5h0M278.9 43.4h0M273.9 49h0M276.2 38.6h0M277.1 48.9h0M275.2 46.6h0M276.6 59.5h0M274 52.9h0M273.9 49.8h0M276.9 51.6h0M272.8 54.2h0M278.3 47.2h0M276 49.7h0M273.2 49.1h0M274.4 62.5h0M274.9 51.2h0M276.1 41.5h0M277.2 54.6h0M275.9 63h0M273.4 46.3h0M280.2 50.5h0M277.1 55.5h0M280.3 48.1h0M278 49.5h0M275.7 45h0M277 45.8h0M286.8 40.7h0M280.5 56.2h0M280.7 45.4h0M275.2 52.5h0M279 52.4h0M285.3 47.7h0M278.3 51h0M280.8 50.3h0M281.5 48.4h0M279.2 51h0M282.7 51h0M277.6 46h0M278.6 44.7h0M274.3 46.8h0M286.7 51.4h0M277.9 57.3h0M277.1 57.7h0M282 52.3h0M274.9 55.3h0M276.7 51.4h0M273.8 56h0M276.8 51.4h0M275.2 52.6h0M278.8 49.4h0M276.2 50.7h0M274.4 59.8h0M275.6 45.1h0M276.3 50.8h0M274.8 48h0M280.2 55.3h0M279.2 59.4h0M277.3 49.3h0M272.2 37.6h0M278.7 53.7h0M271.9 53.7h0M277.4 42.8h0M276.9 49.6h0M274.5 50.4h0M273.6 39.8h0M274.1 54h0M284.4 52.9h0M275.7 51.9h0M275.9 45.7h0M280.3 47.4h0M278.3 47.7h0M280.7 53h0M272.1 46.1h0M272.6 57.7h0M289.2 52.6h0M276.5 40.4h0M275.6 58.8h0M277.3 51.5h0M280.4 48.1h0M272.2 51.2h0M277.8 42h0M276.6 51.6h0M279.2 39h0M277.4 45.9h0M274.7 57.2h0M273.4 56.8h0M267.5 49.1h0M280.4 46.1h0M271.2 55.2h0M275.2 50.5h0M283 51.7h0M275.1 53.7h0M279 45.6h0M275.9 54.5h0M279.3 40.6h0M276.8 57.7h0M274.8 43.2h0M281.8 47.7h0M275.7 47.5h0M271.7 54.2h0M275.5 54.3h0M278.7 52.4h0M272.5 53.3h0M279.7 52.9h0M279.6 50.4h0M284.7 41.5h0M274.3 39.7h0M279.2 39.7h0M270.4 50.5h0M275.1 49.6h0M277.1 50h0M278.2 51.8h0M276.5 49.6h0M276.4 45.9h0M274.4 43.5h0M275 41.6h0M277.8 56.5h0M278.8 55h0M279.1 44.2h0M280.4 49.4h0M281.2 52.8h0M270 58.3h0M274.7 47.8h0M276.1 51.5h0M274.3 56.2h0M280.6 42.3h0M279.5 47.1h0M276.3 50.5h0M277.2 47.2h0M281.4 60.8h0M275.4 54.8h0M275.5 51.6h0M280.1 46h0M278.5 54.8h0M282 53.7h0M278.1 48.2h0M279.5 48.6h0M274.7 43.6h0M273.2 50.3h0M276.7 54.8h0M266.8 55.5h0M278.2 53.4h0M280.3 54.6h0M277 47.8h0M275.9 48.4h0M280.8 56.4h0M276.5 52.8h0M280.4 46.8h0M284.9 53h0M279.4 54.6h0M280.2 54h0M278.5 51.1h0M277.6 48.2h0M277.7 52.5h0M277 58.8h0M280.7 51.3h0M270.7 47.4h0M275.7 52.3h0M279.2 44.7h0M273.6 51.7h0M276.3 49.2h0M274.1 55.2h0M278.3 51.1h0M279.9 55.7h0M282.1 61.7h0M278.6 49.6h0M274 46.6h0M277.6 52.8h0M278.8 50.2h0M282 51.3h0M268.7 47.7h0M278.1 53.3h0M269.9 50.9h0M279.4 40.3h0M278.4 49.5h0M278.6 52.2h0M280 56.3h0M278.1 47.8h0M274.3 46.8h0M278 56.1h0M281.2 47.7h0M276.3 51.1h0M276.8 52.9h0M272.2 54.1h0M281 50.6h0M274.8 45.3h0M273.9 55.4h0M275 48.5h0M273.5 48.1h0M275.8 60.2h0M281.5 54.8h0M279.7 45.5h0M282 48.3h0M282.2 49.4h0M273.4 47h0M278.5 41.4h0M282.3 54.4h0M285.3 54.3h0M271.4 51.8h0M271.4 48.7h0M278.4 51.6h0M275.5 53.6h0M273 45.6h0M278.1 49h0M273.8 47.9h0M268.3 53.9h0M276.6 51.8h0M277.2 44.4h0M279.1 47.6h0M280.2 59h0M277.4 46h0M275.8 51.3h0M274.2 47.6h0M270.6 56.5h0M275.1 50.3h0M280.4 48.5h0M279.1 45h0M284.3 49.4h0M276.1 54.5h0M270 53.8h0M279.8 44.3h0M280.5 58h0M272.3 49.4h0M270.7 45.6h0M277.3 51.2h0M279.3 47.6h0M272.5 47.8h0M275.4 47.6h0M273.8 50.1h0M272.3 48.2h0M271.8 42.4h0M277.2 53.1h0M275.3 48.1h0M274.2 56.3h0M267 53.1h0M283.2 53.5h0M273.2 51.4h0M276.2 56.7h0M272.4 49h0M278.1 45.8h0M271 52.2h0M277 37.6h0M276 48.8h0M280.1 51.6h0M272.6 48.6h0M274.2 56.5h0M275.8 53.9h0M284.5 51.1h0M271.2 48.6h0M277.7 55.8h0M274.2 47.3h0M277.8 48.6h0M279.1 54.1h0M277.2 53.4h0M277.6 60.2h0M277.7 49.5h0M274.5 41.6h0M275.8 53.7h0M270.5 56.5h0M275.3 49.8h0M273.8 57.9h0M275.7 59h0M279.4 47.4h0M278.1 48.3h0M278.4 44.6h0M280.7 53.1h0M267.8 53.9h0M278.2 53.4h0M276.5 44.7h0M276.3 46.9h0M271.8 43.7h0M278.7 42.9h0M280.9 44.1h0M280.5 43h0M276.3 49.7h0M279 52.5h0M280.1 53.5h0M283.4 50.4h0M281.2 47.3h0M277.2 50.5h0M277 53.2h0M277.2 49.1h0M277.5 50.8h0M274.8 49.1h0M279.5 48h0M274 50.7h0M273.6 45.2h0M277.9 55.5h0M274.5 43.1h0M275.7 52.7h0M268.9 44h0M279.6 57.7h0M276.6 54.6h0M276.1 46.7h0M278.3 48.4h0M277.4 45.2h0M274 50.2h0M284.1 52.5h0M274.9 62.6h0M280.2 44h0M283.4 56.4h0M274.3 47.7h0M277 51.8h0M273.6 54.7h0M280.5 53.1h0M275.4 52.5h0M272.5 49.6h0M281.5 50.5h0M280 51.2h0M273.3 56.2h0M281 43.6h0M277.3 48.2h0M286.7 44.6h0M283 45.9h0M274.5 46.7h0M275.6 55.7h0M273.3 60.6h0M277.1 56.9h0M276.8 44.9h0M279.3 50.9h0M276.9 45.1h0M271.1 52.6h0M273.6 56.5h0M281.9 53.3h0M280.9 54.6h0M276 49.8h0M276.1 41.2h0M276 41.1h0M276.7 50h0M270.4 53.2h0M279.9 56.5h0M274.2 48.9h0M277.1 50.9h0M267.2 51.7h0M277.5 55.5h0M281.6 50.2h0M268.3 45.3h0M282.3 55.6h0M278.4 52.4h0M273.9 52.3h0M270.7 44.5h0M280.9 50.5h0M277.6 42.4h0M278.8 41h0M275.6 49.4h0M273.6 48.4h0M279.8 53.2h0M273 57.3h0M280 50.3h0M270.4 58.9h0M273.2 47.7h0M271.2 54.1h0M281.5 44.5h0M270.1 51.1h0M272.4 49h0M279.1 49.5h0M277.5 53.3h0M284.8 41.6h0M283.5 51h0M278.9 46.7h0M279.2 51.1h0M269.8 52.4h0M273.3 48.7h0M275.4 48.7h0M275.9 45.1h0M271.5 53.1h0M273.1 47.3h0M273.4 52.6h0M280.6 43.8h0M278.2 57h0M275.4 45.7h0M275.6 56h0M277.7 48.4h0M274 53.1h0M275.6 49.8h0M270.2 53.7h0M279.1 50.5h0M280.2 56.5h0M278 53.7h0M278.4 53.7h0M278 58.4h0M284.2 47.2h0M277.4 56.6h0M271.7 50.8h0M272.7 43.5h0M279.3 52.8h0M280.6 49.5h0M279.5 58.5h0M279.7 48.2h0M277.3 50.7h0M271 51.6h0M273.9 41.5h0M269.8 52.9h0M275.1 45.8h0M271.5 57.1h0M277 58.4h0M276 50.5h0M269.3 43h0M279.3 51.4h0M279.4 51.3h0M271.4 53.9h0M277.1 49.1h0M279.3 44.9h0M275.5 49.8h0M279.8 46.1h0M277.3 58.9h0M280.6 47.2h0M277.3 47.4h0M276 50.3h0M278.5 44.6h0M279.5 48.4h0M277.5 49.9h0M274.9 48.2h0M273.6 49.3h0M275.2 56.4h0M274.4 52.5h0M277.3 44.2h0M277.2 48.5h0M276.2 54h0M276.5 47.4h0M277.2 50.9h0M282.4 50.4h0M281.1 53h0M274.4 49.7h0M278.1 49.8h0M275.3 46.4h0M276.2 52.2h0M275.6 46.1h0M274.2 58.7h0M271.4 50.4h0M267.3 49.4h0M277.3 54.2h0M281 50.1h0M273.1 50.9h0M278.4 50.3h0M275.1 47.1h0M277.6 46.2h0M273.5 47.2h0M275.7 55.8h0M276.1 47.5h0M267.6 48.6h0M277.3 48.4h0M276 53.8h0M267.2 59.8h0M279 46.1h0M276.4 53.1h0M277.3 51.1h0M277.9 49.1h0M275 52.9h0M272.5 44.5h0M274.8 54.4h0M274.9 51.5h0M284.9 45.8h0M283.5 58h0M274.7 54.5h0M275 56h0M277.7 43.6h0M278.6 49.2h0M273.9 48h0M272.7 53.4h0M283.8 56.9h0M280.5 41.5h0M270.6 50.6h0M269.8 49.9h0M273.4 55.2h0M277.3 50.3h0M278.6 44.5h0M275.2 49.6h0M270.4 45.6h0M277.3 46.8h0M278.8 50.7h0M276.5 48.2h0M274.6 51.8h0M278.7 43.4h0M276.3 61.4h0M272.2 56.4h0M276.8 53.9h0M271.6 44.4h0M280.1 40.3h0M278.3 46.4h0M272.7 49.4h0M277.3 61h0M281.2 56.6h0M268.4 48h0M276 56.2h0M282.7 56.3h0M270.6 50.6h0M275.8 56.2h0M271.1 52.1h0M276.2 47.4h0M267.4 45h0M270.3 49.9h0M274.4 55.2h0M277 44.1h0M277.9 42.9h0M278.1 53.1h0M280.9 37.7h0M279.1 59.1h0M279.3 48.4h0M272.8 53.9h0M275.9 59.2h0M285.1 45.6h0M279.6 61h0M279.3 49.2h0M280.3 49.9h0M274.9 51.6h0M284 55.5h0M275 56.7h0M276.2 51h0M284.8 48.9h0M268.5 50.3h0M277.9 51.9h0M269.9 56.7h0M274 51.1h0M276.1 59.1h0M275.1 46.5h0M277.1 53h0M273.5 58.8h0M276.1 56.6h0M271.9 52.1h0M275 46.3h0M271.2 47.1h0M279 49.8h0M271.5 52h0M279.1 49.3h0M274.9 43.7h0M275.3 47h0M281 52.9h0M276.9 54.4h0M269.2 43.9h0M278.4 48.8h0M265.3 42.6h0M277.5 47.8h0M271.1 50.8h0M276.8 48.9h0M275.3 47.7h0M284.2 44.8h0M274.8 41.8h0M284 50.3h0M281.8 49.2h0M274.1 57.4h0M273.3 42.8h0M281.6 52.5h0M276 56.8h0M277.1 41.3h0M275.5 53.6h0M271.8 42.9h0M275 53h0M272.8 57.4h0M270.6 50.5h0M275.3 51.9h0M283.4 47.2h0M282.7 51.9h0M276.2 55.8h0M277 49.6h0M278.5 49.8h0M281.7 52.3h0M277.7 54.4h0M274.6 42.8h0M275 50.8h0M280.9 47.3h0M286.6 52.8h0M274.1 55.4h0M268.5 52h0M279.6 56.6h0M276.2 45.8h0M277 48.6h0M281.3 45.8h0M276.7 50.8h0M271.3 51h0M268.9 49.6h0M276.3 44.8h0M272 50.1h0M277.6 48.4h0M271.5 53.3h0M275.1 49.2h0M270.8 56h0M275.1 51.6h0M274.8 41.8h0M278.8 49.7h0M281.7 43.8h0M275.8 55.1h0M273.1 57.3h0M284.1 50.4h0M277.9 52.6h0M278.9 43.7h0M278.9 39.9h0M282.1 47.9h0M280.4 49.3h0M279.1 43.4h0M279.5 50.9h0M273.2 52h0M274.1 53.5h0M276.1 57.8h0M276.9 54.3h0M276.6 48.8h0M277.7 51h0M276.6 53.3h0M274.8 45.6h0M270.2 56.8h0M279.8 54.8h0M278.8 49.4h0M273.1 47.5h0M278 54.5h0M276.8 54.9h0M269.3 59h0M271.8 55.1h0M274.2 51.5h0M282.8 53.8h0M273.2 46.2h0M275.2 53.9h0M272.2 43.3h0M274.6 52.5h0M277.8 53.1h0M268.4 43.2h0M279.1 45.1h0M276.6 55.5h0M274.1 48h0M280.3 52h0M280.3 47.4h0M268.3 62.3h0M275.8 55.4h0M280.8 59.1h0M273.9 54.2h0M275.3 53.8h0M280.2 51.3h0M275.5 49.4h0M271.8 53.4h0M273.8 51.3h0M271.3 49.9h0M278.7 44.1h0M269.8 49.1h0M280.4 53.4h0M270.1 48.4h0M276.7 52.2h0M270.8 49.9h0M275.3 45.7h0M280.5 46.3h0M280.9 47.1h0M281.6 49.2h0M276.2 49.4h0M276.9 55.9h0M277.4 45.5h0M278.9 41h0M274.9 53.8h0M280.8 48.5h0M277.8 50h0M281 62.6h0M278.4 57.5h0M279.1 53.4h0M273.7 55.1h0M274.9 51.2h0M271.5 55.1h0M275.3 47.7h0M275.8 47.3h0M279.8 48.4h0M271.6 58.1h0M276 47.8h0M281.4 56.1h0M280.6 49.9h0M266.7 55.7h0M275.5 49.1h0M282.2 55.2h0M267 50.1h0M279.5 49.3h0M272.9 50.5h0M274.7 51.4h0M277.4 47.9h0M269.2 44.2h0M277.3 58.6h0M274 48.8h0M273.6 42.1h0M279.2 39.9h0M277.8 47.8h0M278.7 57.1h0M276.3 42.9h0M273.7 49.1h0M277.5 42h0M282.4 55.9h0M277.2 52.4h0M280 52.2h0M275.6 57.1h0M286.3 58.4h0M270.1 55.5h0M278.8 47.9h0M278.6 44.4h0M277.5 45.7h0M272.1 42.4h0M272 59.2h0M275.6 49.8h0M276.9 51.3h0M271.7 51.6h0M272.3 60.2h0M278.7 48h0M280.5 56.3h0M274.3 52.1h0M273.7 50h0M273.6 41.6h0M286.1 55h0M278.4 47.2h0M276.2 48.5h0M280.4 51.8h0M285.4 51.1h0M281 56h0M270.9 47.5h0M276.1 51.5h0M274.9 52h0M275.1 50.8h0M271.7 53.9h0M274.9 49.5h0M272.2 56.4h0M277.8 47.3h0M276.6 43.9h0M270.9 50.5h0M269.8 56.3h0M274.6 48.3h0M279 47.7h0M278.4 49.1h0M276.2 51.5h0M263.5 49.9h0M274.5 52.2h0M273.6 42.6h0M275.1 57.8h0M271.7 53.5h0M274.8 46.6h0M273.8 57.2h0M287.1 52.8h0M279.2 57.7h0M275.7 45.1h0M276.3 58.6h0M276 50.9h0M277.2 41h0M274.9 54.3h0M276.4 49.3h0M280.5 45.9h0M279.7 49.7h0M277.7 41.5h0M281.7 53.5h0M277.3 49.7h0M272.6 49.4h0M269.6 57.4h0M273.7 50.9h0M276.2 47.6h0M278 46.2h0M280.7 50.4h0M274.2 55.7h0M273.3 47.9h0M279.5 45.8h0M281 55.1h0M274.6 51h0M277.8 50.6h0M281.8 60.6h0M277.7 44.9h0M276.2 51.6h0M268.3 42.3h0M281.6 49.3h0M279 53.5h0M276.9 56h0M274.6 44.7h0M271.6 54.7h0M276.1 54.4h0M276 50.1h0M280.7 62.4h0M271.7 50.7h0M282.1 46.5h0M276.6 52.7h0M281.1 41.9h0M272.7 58.1h0M277.8 55.4h0M281.2 48.8h0M276.9 53.6h0M270.7 53.2h0M275.2 59.9h0M278.5 47.8h0M271 44.6h0M270.8 41.1h0M277.4 49.3h0M272.7 43.3h0M279.1 49.9h0M271.8 52.6h0M269.3 48.6h0M273.4 46.2h0M282.3 56.3h0M273.1 49.7h0M276.4 51.8h0M277.4 55.2h0M272.7 44.5h0M280.7 46.3h0M277.1 62.5h0M278.2 49.9h0M269.9 45.8h0M269.6 49.5h0M265.7 48h0M275.7 44.9h0M275.6 48.8h0M279.3 50.6h0M282.3 50.6h0M275.5 53.2h0M275.4 42.5h0M278.2 43.6h0M282.4 54.4h0M273.2 48.6h0M278.9 56.5h0M275.5 52.1h0M275.1 44h0M279.6 53.2h0M273.4 45.9h0M272.3 51.9h0M279.1 56.5h0M276.4 60.7h0M275.4 50.4h0M275.9 54h0M278.4 52.1h0M275 54.4h0M279.4 38.6h0M278.1 48.8h0M282.2 52.1h0M281.4 52.9h0M279.8 47.1h0M275.7 54.6h0M276.9 55.9h0M274.1 51h0M287.6 49.6h0M275.6 49h0M278.6 51.3h0M281.8 56.3h0M271.1 57.8h0M273.2 48.5h0M274.9 46.3h0M272.6 46.9h0M271.5 55.3h0M274.5 51.7h0M281.5 52.1h0M279.3 53h0M276.6 52.5h0M276.6 50.1h0M270 45.8h0M279.2 47.8h0M278.1 51.3h0M272.3 52.5h0M277.3 48.9h0M275.7 48.7h0M274.5 57.2h0M272.6 48.5h0M273.8 51.7h0M272.8 49.2h0M278.3 46.6h0M277.9 43.5h0M277.7 48.2h0M275.8 46.8h0M274.9 54.7h0M284.4 45.3h0M269.2 48.7h0M281.1 53.8h0M277.9 50.2h0M276.8 53h0M274.5 54.6h0M275.6 42.9h0M271.9 48.8h0M271.1 46.2h0M276 57h0M270 50.1h0M279.8 53h0M280.8 58.7h0M270.4 51h0M277.5 52.6h0M277.3 49.4h0M276.9 56.6h0M278.1 54.5h0M279.4 55.4h0M279.9 50.9h0M283.5 49.1h0M276.6 49h0M279.9 49h0M270.2 43h0M276 52.4h0M271.7 54.5h0M281.9 50.6h0M285.6 48.4h0M278.6 50.9h0M271.4 51.7h0M276.1 52.2h0M276.6 59.1h0M277.3 46.7h0M280.7 52.4h0M280.2 53.9h0M266.2 51h0M281.8 49.6h0M274.6 45.9h0M274.3 47.9h0M282 54h0M275.5 57.5h0M271.2 47.6h0M271.3 52.9h0M276.7 53.1h0M280 55.4h0M282.4 51.8h0M275.8 52.7h0M274.7 54.9h0M282.8 45.2h0M274.7 50.9h0M282.2 42.4h0M277.4 41.5h0M277.4 46.8h0M275.6 43.5h0M277.7 53h0M274.7 55.3h0M273.9 49.3h0M276 50h0M274 49.6h0M277.7 49.5h0M276.8 51.3h0M275.5 52.3h0M275.7 48.5h0M275.6 47h0M283.3 48.2h0M276.5 54.4h0M274.2 48.7h0M275.4 57.4h0M279.1 49.5h0M275.7 57h0M275.9 45.1h0M275.5 47.4h0M277.2 52.9h0M278 52.9h0M278.2 49.9h0M270.1 60.1h0M272.3 51h0M266.3 52h0M279.6 48h0M280.8 58.3h0M281.6 54.6h0M277.1 52.6h0M281 43.1h0M276.4 52.3h0M276 48.5h0M270.5 52.5h0M273.5 54.9h0M274.2 47.2h0M280.1 51.7h0M283 54.7h0M274.7 51.4h0M278 49.1h0M277.6 45.8h0M273.5 47.6h0M269.8 44.8h0M273.6 55.2h0M270.9 51.1h0M275.3 45h0M276 50.6h0M275.8 44.7h0M275.8 35.5h0M278.4 56.2h0M272.9 56.1h0M280 43.8h0M270 47.3h0M276.7 51.6h0M278 48.9h0M273.4 46.7h0M270.3 48.3h0M279 49.5h0M273.9 48.1h0M279.5 51.6h0M279.5 49.6h0M276.5 47.1h0M276.5 50.8h0M280.3 43h0M278 57.3h0M272.9 42.6h0M277.1 50.3h0M278.6 52.2h0M277.3 52.5h0M277.2 51.8h0M275.9 56.5h0M276 45.4h0M272.9 50.3h0M270.9 51.3h0M280.9 48.3h0M274 47.9h0M277.4 56.6h0M270.7 47.3h0M277.1 48.4h0M273.3 49.4h0M288 49.6h0M272.5 51.4h0M272.7 49.7h0M280.2 52.3h0M280.9 51.2h0M268.3 52.8h0M277.5 56.9h0M279.9 46.7h0M271.7 58.2h0M279.1 48.6h0M274.4 53.7h0M272.6 51.4h0M275.1 49.3h0M274.7 41.6h0M271.1 58h0M285.2 47.1h0M274.7 47h0M273.6 55.5h0M279.8 51h0M276.2 59.3h0M281.7 58.3h0M275.5 53.9h0M277.8 51.8h0M276.8 54.1h0M277.1 44.6h0M275.7 51.4h0M276.1 51.3h0M283 48.4h0M273.9 51.8h0M274.4 43.9h0M275.2 54.7h0M278.7 56.5h0M278 44.7h0M280.1 51.3h0M271.3 57.7h0M277.5 52.5h0M275.8 45.9h0M275.4 46.1h0M277.1 54.5h0M268.9 59h0M277.5 45.6h0M277 50.8h0M271 47h0M276.1 49.3h0M282.5 52h0M275 50.4h0M278.8 47.5h0M275.6 60.2h0M273.3 49.9h0M272.9 49.8h0M275 55.7h0M281.5 50.6h0M279.6 49.7h0M273.8 54.9h0M280.3 45.9h0M276 54h0M273.8 55.3h0M278.2 53.6h0M273 49.8h0M270.4 50.6h0M281.5 42.8h0M269.4 50h0M278.6 51.9h0M270.6 54.5h0M276.4 51.2h0M275.7 48.8h0M274.8 46.8h0M268.1 50.4h0M276.1 51.2h0M276.3 56.1h0M273 50.6h0M276.2 48.3h0M280.3 50.1h0M273.7 48.4h0M277.5 49.5h0M272.1 40.5h0M278 43.3h0M279 45.1h0M286.1 52.7h0M280 50.2h0M278.2 51.3h0M281.9 55.9h0M272.7 45.8h0M280.6 55.8h0M274.4 52.3h0M274.1 47.3h0M280.7 57.4h0M277.4 44.1h0M281.6 45.5h0M270.9 49.6h0M277.6 52.4h0M274.5 49.7h0M275.5 40.9h0M269.2 49.2h0M280.1 50.2h0M277.3 62.2h0M272.7 56.8h0M271.3 51.1h0M273.2 45.6h0M281.9 52.1h0M276.1 45.3h0M275.2 51.5h0M278.4 52.2h0M276.6 48.8h0M277.4 51.7h0M279.4 49.1h0M277.8 48h0M279.9 57.5h0M272 53.2h0M276.8 49.2h0M275.2 47.1h0" stroke="#00ff00" stroke-width="3.2" stroke-linecap="round" fill="none" />
<path d="M253.9 60h0M295 66h0M273.9 77.3h0" stroke="#848484" stroke-width="3.4" stroke-linecap="round" fill="none" />
</g>
<ellipse cx="276.1" cy="50.1" rx="8.1" ry="9.3" transform="rotate(0 276.1 50.1)" fill="none" stroke="#0a0a90" stroke-width="2.0"/>
<ellipse cx="276.1" cy="50.1" rx="8.1" ry="9.3" transform="rotate(0 276.1 50.1)" fill="none" stroke="#0000e8" stroke-width="1.5"/>
<rect x="248" y="21.5" width="57.2" height="57" fill="none" stroke="#5c5c5c" stroke-width="0.85"/>
<text x="244" y="25.7" font-size="10.6" text-anchor="end" font-weight="normal">0.02</text>
<line x1="248" y1="21.5" x2="249.5" y2="21.5" stroke="#5c5c5c" stroke-width="0.85"/>
<text x="244" y="54.2" font-size="10.6" text-anchor="end" font-weight="normal">0</text>
<line x1="248" y1="50" x2="249.5" y2="50" stroke="#5c5c5c" stroke-width="0.85"/>
<text x="244" y="82.7" font-size="10.6" text-anchor="end" font-weight="normal">-0.02</text>
<line x1="248" y1="78.5" x2="249.5" y2="78.5" stroke="#5c5c5c" stroke-width="0.85"/>
<text x="248" y="94" font-size="10.6" text-anchor="middle" font-weight="normal">-0.02</text>
<line x1="248" y1="78.5" x2="248" y2="77" stroke="#5c5c5c" stroke-width="0.85"/>
<text x="276.6" y="94" font-size="10.6" text-anchor="middle" font-weight="normal">0</text>
<line x1="276.6" y1="78.5" x2="276.6" y2="77" stroke="#5c5c5c" stroke-width="0.85"/>
<text x="305.2" y="94" font-size="10.6" text-anchor="middle" font-weight="normal">0.02</text>
<line x1="305.2" y1="78.5" x2="305.2" y2="77" stroke="#5c5c5c" stroke-width="0.85"/>
<rect x="39.5" y="253.6" width="248" height="43.5" fill="#fff"/>
<line x1="39.5" y1="264.5" x2="287.5" y2="264.5" stroke="#e4e4e4" stroke-width="1"/>
<line x1="39.5" y1="286.5" x2="287.5" y2="286.5" stroke="#e4e4e4" stroke-width="1"/>
<rect x="39.5" y="253.6" width="248" height="43.5" fill="none" stroke="#5c5c5c" stroke-width="0.85"/>
<text x="35.5" y="257.8" font-size="10.6" text-anchor="end" font-weight="normal">10</text>
<line x1="39.5" y1="253.6" x2="41.9" y2="253.6" stroke="#5c5c5c" stroke-width="0.85"/>
<line x1="287.5" y1="253.6" x2="285.1" y2="253.6" stroke="#5c5c5c" stroke-width="0.85"/>
<text x="35.5" y="268.7" font-size="10.6" text-anchor="end" font-weight="normal">5</text>
<line x1="39.5" y1="264.5" x2="41.9" y2="264.5" stroke="#5c5c5c" stroke-width="0.85"/>
<line x1="287.5" y1="264.5" x2="285.1" y2="264.5" stroke="#5c5c5c" stroke-width="0.85"/>
<text x="35.5" y="279.6" font-size="10.6" text-anchor="end" font-weight="normal">0</text>
<line x1="39.5" y1="275.4" x2="41.9" y2="275.4" stroke="#5c5c5c" stroke-width="0.85"/>
<line x1="287.5" y1="275.4" x2="285.1" y2="275.4" stroke="#5c5c5c" stroke-width="0.85"/>
<text x="35.5" y="290.4" font-size="10.6" text-anchor="end" font-weight="normal">-5</text>
<line x1="39.5" y1="286.2" x2="41.9" y2="286.2" stroke="#5c5c5c" stroke-width="0.85"/>
<line x1="287.5" y1="286.2" x2="285.1" y2="286.2" stroke="#5c5c5c" stroke-width="0.85"/>
<text x="35.5" y="301.3" font-size="10.6" text-anchor="end" font-weight="normal">-10</text>
<line x1="39.5" y1="297.1" x2="41.9" y2="297.1" stroke="#5c5c5c" stroke-width="0.85"/>
<line x1="287.5" y1="297.1" x2="285.1" y2="297.1" stroke="#5c5c5c" stroke-width="0.85"/>
<text x="15" y="275.4" font-size="11.7" text-anchor="middle" font-weight="normal" transform="rotate(-90 15 275.4)">Up [m]</text>
<g clip-path="url(#cu1)">
<path d="M39.5 272.4h0M39.6 272.3h0M39.7 271.9h0M39.8 271.1h0M39.8 272.6h0M39.9 275.5h0M40 270.2h0M40.1 271.6h0M40.2 271.8h0M40.3 271.2h0M40.4 276.1h0M40.4 273.5h0M40.5 273.8h0M40.6 270.4h0M40.7 274.3h0M40.8 272.9h0M40.9 270.1h0M41 272.1h0M41 273.6h0M41.1 269.7h0M41.2 275.1h0M41.3 271.5h0M41.4 273.3h0M41.5 272.1h0M41.6 272.5h0M41.7 273.9h0M41.7 272.1h0M41.8 274.9h0M41.9 272h0M42 274.1h0M42.1 272.1h0M42.2 273.9h0M42.3 274.6h0M42.3 272.5h0M42.4 271.2h0M42.5 277h0M42.6 272.9h0M42.7 272.7h0M42.8 276.3h0M42.9 275.6h0M42.9 273.4h0M43 275.8h0M43.1 276.3h0M43.2 272.2h0M43.3 276.7h0M43.4 276.8h0M43.5 278.4h0M43.5 275.6h0M43.6 276.5h0M43.7 271.1h0M43.8 272.3h0M43.9 277.4h0M44 271.2h0M44.1 273.2h0M44.1 275.8h0M44.2 274.4h0M44.3 275.2h0M44.4 277.3h0M44.5 279.5h0M44.6 278h0M44.7 277.1h0M44.8 278h0M44.8 278.1h0M44.9 275.9h0M45 279.2h0M45.1 276.2h0M45.2 278.8h0M45.3 277.8h0M45.4 279.8h0M45.4 277.7h0M45.5 279h0M45.6 281.4h0M45.7 278h0M45.8 277.9h0M45.9 276.8h0M46 277.5h0M46 280h0M46.1 280.1h0M46.2 282.8h0M46.3 280.5h0M46.4 275.7h0M46.5 274.7h0M46.6 276.2h0M46.6 277.3h0M46.7 276.9h0M46.8 276.9h0M46.9 280.7h0M47 279h0M47.1 275h0M47.2 275h0M47.2 275.8h0M47.3 276.4h0M47.4 277h0M47.5 276.5h0M47.6 277.3h0M47.7 278.2h0M47.8 275h0M47.9 276.2h0M47.9 275.8h0M48 272.3h0M48.1 273.8h0M48.2 275.3h0M48.3 272.4h0M48.4 276.6h0M48.5 271.6h0M48.5 273.2h0M48.6 273.8h0M48.7 271.8h0M48.8 270.3h0M48.9 273.9h0M49 275.4h0M49.1 270.5h0M49.1 274.3h0M49.2 271.7h0M49.3 275.6h0M49.4 273h0M49.5 275h0M49.6 272.3h0M49.7 274.1h0M49.7 275.3h0M49.8 271.7h0M49.9 274.2h0M50 278.2h0M50.1 274.6h0M50.2 275.5h0M50.3 276.2h0M50.4 274.3h0M50.4 273.8h0M50.5 273.2h0M50.6 274.5h0M50.7 276.9h0M50.8 275.1h0M50.9 273h0M51 276.7h0M51 273.1h0M51.1 273.5h0M51.2 275.1h0M51.3 273.7h0M51.4 275.8h0M51.5 275.2h0M51.6 276.7h0M51.6 274.3h0M51.7 272.2h0M51.8 276.1h0M51.9 272.3h0M52 278.6h0M52.1 276.6h0M52.2 277.3h0M52.2 272.2h0M52.3 275.5h0M52.4 272.7h0M52.5 277.7h0M52.6 274.5h0M52.7 274.4h0M52.8 275.3h0M52.8 280.8h0M52.9 276.3h0M53 274.9h0M53.1 274.2h0M53.2 275.8h0M53.3 279.1h0M53.4 276.2h0M53.5 274.1h0M53.5 277.6h0M53.6 275.7h0M53.7 277.5h0M53.8 276.8h0M53.9 275.7h0M54 278.2h0M54.1 271.8h0M54.1 276.9h0M54.2 276.1h0M54.3 278.5h0M54.4 276.4h0M54.5 276.6h0M54.6 278.6h0M54.7 278.4h0M54.7 275.3h0M54.8 275.7h0M54.9 280.4h0M55 279.6h0M55.1 276.1h0M55.2 275.6h0M55.3 273.7h0M55.3 277.4h0M55.4 273.4h0M55.5 275.1h0M55.6 275.8h0M55.7 274.1h0M55.8 272.4h0M55.9 273.6h0M55.9 272.5h0M56 274.9h0M56.1 273.8h0M56.2 275.2h0M56.3 274.3h0M56.4 274.1h0M56.5 274.4h0M56.5 272.7h0M56.6 272.9h0M56.7 271.7h0M56.8 272.8h0M56.9 271.1h0M57 273.4h0M57.1 272.2h0M57.2 273h0M57.2 272.9h0M57.3 274.2h0M57.4 276.4h0M57.5 276.9h0M57.6 270.9h0M57.7 273.7h0M57.8 273h0M57.8 274.4h0M57.9 275h0M58 269.8h0M58.1 276.5h0M58.2 274.5h0M58.3 274.8h0M58.4 276.6h0M58.4 276.7h0M58.5 276.4h0M58.6 276.4h0M58.7 277h0M58.8 274.4h0M58.9 277.8h0M59 275.1h0M59 272.9h0M59.1 273.8h0M59.2 277.3h0M59.3 280.7h0M59.4 273.9h0M59.5 274.1h0M59.6 275.6h0M59.6 272.3h0M59.7 275.5h0M59.8 274.6h0M59.9 277.1h0M60 274.8h0M60.1 276.5h0M60.2 276.5h0M60.3 274.5h0M60.3 276.6h0M60.4 279.5h0M60.5 275.5h0M60.6 275.4h0M60.7 278.4h0M60.8 277.1h0M60.9 276.3h0M60.9 276.8h0M61 276.9h0M61.1 276h0M61.2 278h0M61.3 273h0M61.4 277.9h0M61.5 277.3h0M61.5 272.6h0M61.6 271.7h0M61.7 276.3h0M61.8 276.2h0M61.9 277.7h0M62 274.1h0M62.1 275.8h0M62.1 277.6h0M62.2 275.3h0M62.3 273.5h0M62.4 274.6h0M62.5 271.1h0M62.6 273.3h0M62.7 274.3h0M62.8 275.3h0M62.8 273.7h0M62.9 272.5h0M63 273.5h0M63.1 273.1h0M63.2 274.1h0M63.3 272.7h0M63.4 272.6h0M63.4 275.5h0M63.5 278h0M63.6 271.8h0M63.7 273.7h0M63.8 275.1h0M63.9 273.3h0M64 273.9h0M64 277h0M64.1 274.7h0M64.2 277.2h0M64.3 274h0M64.4 274.9h0M64.5 272.6h0M64.6 274.7h0M64.6 274.3h0M64.7 275.3h0M64.8 276h0M64.9 277.5h0M65 273.7h0M65.1 275.4h0M65.2 276.6h0M65.2 275h0M65.3 276.1h0M65.4 276.2h0M65.5 274.1h0M65.6 272.2h0M65.7 275.3h0M65.8 277.7h0M65.8 276.7h0M65.9 272.4h0M66 277.1h0M66.1 272.8h0M66.2 275.1h0M66.3 273.4h0M66.4 275.6h0M66.5 278.9h0M66.5 277.3h0M66.6 272.5h0M66.7 276.6h0M66.8 275.4h0M66.9 277.3h0M67 277.3h0M67.1 276.3h0M67.1 276.2h0M67.2 273.1h0M67.3 277.6h0M67.4 277.8h0M67.5 278.3h0M67.6 278.8h0M67.7 279.2h0M67.7 275h0M67.8 279.5h0M67.9 273.8h0M68 275h0M68.1 277.5h0M68.2 278.9h0M68.3 276.5h0M68.3 276.7h0M68.4 274.1h0M68.5 277.2h0M68.6 276.5h0M68.7 276.6h0M68.8 277.5h0M68.9 278.3h0M69 280.3h0M69 280.5h0M69.1 279h0M69.2 278.2h0M69.3 275.4h0M69.4 273.5h0M69.5 274h0M69.6 276.7h0M69.6 274.5h0M69.7 277.9h0M69.8 278.8h0M69.9 273.4h0M70 279.1h0M70.1 278.5h0M70.2 278.7h0M70.2 275.2h0M70.3 278.3h0M70.4 275.8h0M70.5 277.9h0M70.6 279.2h0M70.7 276h0M70.8 276.2h0M70.8 278h0M70.9 277.1h0M71 277.1h0M71.1 274.4h0M71.2 275h0M71.3 275.1h0M71.4 274.5h0M71.4 275.7h0M71.5 274.1h0M71.6 275.7h0M71.7 276.6h0M71.8 275.6h0M71.9 273.5h0M72 273.6h0M72 271.2h0M72.1 276h0M72.2 272.8h0M72.3 271.1h0M72.4 273.2h0M72.5 271.7h0M72.6 273.1h0M72.7 274.3h0M72.7 269.9h0M72.8 274.7h0M72.9 270.6h0M73 272.8h0M73.1 274h0M73.2 273.9h0M73.3 274.5h0M73.3 274.5h0M73.4 273.3h0M73.5 277.6h0M73.6 272.1h0M73.7 272.7h0M73.8 271.4h0M73.9 276h0M73.9 278.7h0M74 276h0M74.1 275.1h0M74.2 274.2h0M74.3 276h0M74.4 275.2h0M74.5 275.6h0M74.5 277.9h0M74.6 272.7h0M74.7 278.1h0M74.8 275.7h0M74.9 274.6h0M75 278h0M75.1 276.1h0M75.2 273.2h0M75.2 276.7h0M75.3 275.1h0M75.4 277.2h0M75.5 277.9h0M75.6 277.4h0M75.7 278.5h0M75.8 278.8h0M75.8 276.3h0M75.9 277.2h0M76 276.6h0M76.1 279h0M76.2 276.9h0M76.3 275.2h0M76.4 275.9h0M76.4 276.4h0M76.5 277.9h0M76.6 278.4h0M76.7 276.6h0M76.8 274.5h0M76.9 276.2h0M77 273.7h0M77 275.8h0M77.1 273.8h0M77.2 277.3h0M77.3 274.3h0M77.4 276.2h0M77.5 273.5h0M77.6 273.5h0M77.6 276.3h0M77.7 275.5h0M77.8 275.1h0M77.9 276.4h0M78 275.1h0M78.1 274.5h0M78.2 271.6h0M78.2 270.6h0M78.3 273.6h0M78.4 273.1h0M78.5 272.5h0M78.6 273.8h0M78.7 273.6h0M78.8 271.5h0M78.9 272.2h0M78.9 272.7h0M79 273.7h0M79.1 269.7h0M79.2 273.3h0M79.3 272.2h0M79.4 274.5h0M79.5 274.1h0M79.5 273.4h0M79.6 274.2h0M79.7 272.5h0M79.8 273.4h0M79.9 276.5h0M80 278.5h0M80.1 272h0M80.1 274.9h0M80.2 271.1h0M80.3 274.4h0M80.4 275.9h0M80.5 273.5h0M80.6 274.4h0M80.7 273.8h0M80.7 275.4h0M80.8 272.8h0M80.9 272.1h0M81 274.6h0M81.1 270.7h0M81.2 274.6h0M81.3 273h0M81.3 276.8h0M81.4 277.7h0M81.5 270.2h0M81.6 271.3h0M81.7 271.8h0M81.8 276.7h0M81.9 272.5h0M82 272.3h0M82 272.6h0M82.1 272h0M82.2 274.9h0M82.3 273.3h0M82.4 275.6h0M82.5 274.3h0M82.6 272.8h0M82.6 274.7h0M82.7 273.8h0M82.8 274.1h0M82.9 273.2h0M83 271.5h0M83.1 272.7h0M83.2 272.8h0M83.2 276.5h0M83.3 274.7h0M83.4 272.3h0M83.5 275.2h0M83.6 274.9h0M83.7 275.6h0M83.8 271.3h0M83.8 274.5h0M83.9 274.7h0M84 272.4h0M84.1 272.4h0M84.2 274.1h0M84.3 273.8h0M84.4 275.2h0M84.5 276h0M84.5 276.9h0M84.6 277.3h0M84.7 277.3h0M84.8 275.3h0M84.9 276.6h0M85 275.6h0M85.1 274.1h0M85.1 275.8h0M85.2 278.1h0M85.3 277.3h0M85.4 278.1h0M85.5 279.4h0M85.6 276h0M85.7 278.6h0M85.7 279.2h0M85.8 278.4h0M85.9 274.7h0M86 277.6h0M86.1 275.4h0M86.2 277.8h0M86.3 278.5h0M86.3 276.9h0M86.4 276.9h0M86.5 278.2h0M86.6 279.8h0M86.7 278.4h0M86.8 279.1h0M86.9 276.4h0M86.9 275.3h0M87 272.4h0M87.1 272.5h0M87.2 274.2h0M87.3 273.8h0M87.4 274.9h0M87.5 270.5h0M87.5 273.4h0M87.6 271.2h0M87.7 275.5h0M87.8 276.2h0M87.9 275.3h0M88 276.4h0M88.1 276.1h0M88.2 278h0M88.2 274.9h0M88.3 275.7h0M88.4 274.8h0M88.5 277h0M88.6 279.3h0M88.7 275.2h0M88.8 273.9h0M88.8 278.8h0M88.9 278.7h0M89 277.8h0M89.1 278.2h0M89.2 281h0M89.3 274.4h0M89.4 275.8h0M89.4 278.9h0M89.5 282.3h0M89.6 278.9h0M89.7 275.4h0M89.8 276.8h0M89.9 276.4h0M90 280.5h0M90 277.7h0M90.1 281h0M90.2 275.4h0M90.3 278h0M90.4 282.6h0M90.5 281.9h0M90.6 277.4h0M90.7 277.9h0M90.7 278.8h0M90.8 276.8h0M90.9 274.8h0M91 277.7h0M91.1 281.5h0M91.2 278.5h0M91.3 280.5h0M91.3 279.7h0M91.4 277.2h0M91.5 277.6h0M91.6 279.3h0M91.7 276h0M91.8 277.4h0M91.9 274.6h0M91.9 275.7h0M92 274.6h0M92.1 274.9h0M92.2 272.7h0M92.3 275h0M92.4 275.5h0M92.5 276.9h0M92.5 275.2h0M92.6 279h0M92.7 270.4h0M92.8 276.2h0M92.9 274.7h0M93 275.5h0M93.1 275.5h0M93.1 274.3h0M93.2 275.9h0M93.3 275.6h0M93.4 277.3h0M93.5 275.8h0M93.6 276.5h0M93.7 271.5h0M93.8 277.4h0M93.8 276.9h0M93.9 274.2h0M94 271.5h0M94.1 278.2h0M94.2 277.8h0M94.3 275.5h0M94.4 274.8h0M94.4 278.3h0M94.5 279.2h0M94.6 278.3h0M94.7 275.1h0M94.8 276.3h0M94.9 275.4h0M95 276.5h0M95 275.7h0M95.1 274.9h0M95.2 276.2h0M95.3 275.7h0M95.4 277.9h0M95.5 277h0M95.6 275.7h0M95.6 276.9h0M95.7 278.1h0M95.8 275.7h0M95.9 276h0M96 277h0M96.1 278.4h0M96.2 275.1h0M96.2 271.7h0M96.3 277.8h0M96.4 279.3h0M96.5 277.7h0M96.6 278.7h0M96.7 278.5h0M96.8 278.9h0M96.8 275.1h0M96.9 275.3h0M97 275.2h0M97.1 276.4h0M97.2 278.4h0M97.3 275.8h0M97.4 279.4h0M97.5 278h0M97.5 279.6h0M97.6 275.5h0M97.7 275.5h0M97.8 277.8h0M97.9 278.2h0M98 277.6h0M98.1 277.4h0M98.1 276.3h0M98.2 277.4h0M98.3 276.3h0M98.4 280h0M98.5 278h0M98.6 280.5h0M98.7 274.5h0M98.7 275.4h0M98.8 277.3h0M98.9 276.3h0M99 274.5h0M99.1 276.6h0M99.2 281h0M99.3 278h0M99.3 280.8h0M99.4 277.6h0M99.5 278.1h0M99.6 274.9h0M99.7 274.8h0M99.8 277.2h0M99.9 276.6h0M100 274.9h0M100 275.8h0M100.1 275.9h0M100.2 280h0M100.3 276.9h0M100.4 275.8h0M100.5 275.4h0M100.6 278.6h0M100.6 276.2h0M100.7 275.4h0M100.8 278h0M100.9 275.2h0M101 277.6h0M101.1 276.2h0M101.2 276.3h0M101.2 271.8h0M101.3 276.1h0M101.4 275.8h0M101.5 273.3h0M101.6 275.8h0M101.7 274.8h0M101.8 279h0M101.8 275h0M101.9 276.1h0M102 278.6h0M102.1 274.5h0M102.2 277.8h0M102.3 277h0M102.4 278.6h0M102.4 278.7h0M102.5 277.5h0M102.6 279.1h0M102.7 275.4h0M102.8 274.8h0M102.9 277.1h0M103 278h0M103 276.4h0M103.1 277.3h0M103.2 275h0M103.3 274.7h0M103.4 275.7h0M103.5 274.4h0M103.6 272.8h0M103.7 271.9h0M103.7 275.9h0M103.8 273.6h0M103.9 276h0M104 277.5h0M104.1 273.2h0M104.2 274.9h0M104.3 275.4h0M104.3 275.5h0M104.4 276.4h0M104.5 278h0M104.6 273.3h0M104.7 274.6h0M104.8 275.7h0M104.9 274.5h0M104.9 273.7h0M105 276.9h0M105.1 275.7h0M105.2 277.4h0M105.3 276h0M105.4 277.5h0M105.5 272.7h0M105.5 277.4h0M105.6 275.5h0M105.7 276h0M105.8 277.5h0M105.9 275.2h0M106 277.1h0M106.1 278.6h0M106.2 278.2h0M106.2 279.5h0M106.3 275.5h0M106.4 276.4h0M106.5 276h0M106.6 280.3h0M106.7 277.8h0M106.8 279.4h0M106.8 277.9h0M106.9 275.1h0M107 277h0M107.1 277.3h0M107.2 274.6h0M107.3 275.2h0M107.4 273.5h0M107.4 280h0M107.5 276.5h0M107.6 277h0M107.7 277.4h0M107.8 275.9h0M107.9 277.8h0M108 279.2h0M108 276.6h0M108.1 275.4h0M108.2 272.2h0M108.3 276.5h0M108.4 277.8h0M108.5 279.2h0M108.6 276.2h0M108.6 275.5h0M108.7 274.2h0M108.8 276.6h0M108.9 275.9h0M109 278.5h0M109.1 273.5h0M109.2 276.6h0M109.2 278.9h0M109.3 271.8h0M109.4 272.6h0M109.5 272.9h0M109.6 272.8h0M109.7 275.5h0M109.8 271.9h0M109.9 275h0M109.9 269.4h0M110 272.4h0M110.1 276.3h0M110.2 271.1h0M110.3 270.1h0M110.4 273.7h0M110.5 271.6h0M110.5 273.6h0M110.6 275h0M110.7 278.6h0M110.8 271.7h0M110.9 275.3h0M111 273.2h0M111.1 275.6h0M111.1 275.4h0M111.2 271.2h0M111.3 274.1h0M111.4 274.1h0M111.5 275.7h0M111.6 273.6h0M111.7 272.6h0M111.7 275.2h0M111.8 274.2h0M111.9 276.8h0M112 272.1h0M112.1 276.2h0M112.2 275.6h0M112.3 272.1h0M112.3 275.8h0M112.4 278.4h0M112.5 277.2h0M112.6 276.7h0M112.7 272.5h0M112.8 275.5h0M112.9 275.5h0M113 273.7h0M113 272.7h0M113.1 276.8h0M113.2 272.4h0M113.3 273.9h0M113.4 274.8h0M113.5 279.9h0M113.6 275.8h0M113.6 273.7h0M113.7 276.6h0M113.8 272.7h0M113.9 276.5h0M114 278.7h0M114.1 275.1h0M114.2 275.5h0M114.2 274.4h0M114.3 275.9h0M114.4 273.5h0M114.5 276.2h0M114.6 275.3h0M114.7 277.7h0M114.8 276.5h0M114.8 275.2h0M114.9 276.9h0M115 276.7h0M115.1 276.4h0M115.2 275.9h0M115.3 275h0M115.4 275.6h0M115.5 275.2h0M115.5 276.8h0M115.6 277.9h0M115.7 279.9h0M115.8 277.9h0M115.9 278.2h0M116 279.3h0M116.1 272.7h0M116.1 279h0M116.2 275.5h0M116.3 274.6h0M116.4 276.2h0M116.5 271.6h0M116.6 276.4h0M116.7 277.9h0M116.7 273.5h0M116.8 278.3h0M116.9 280.1h0M117 279.2h0M117.1 278.1h0M117.2 276.6h0M117.3 276.1h0M117.3 279.5h0M117.4 275.6h0M117.5 271.9h0M117.6 277.4h0M117.7 276.7h0M117.8 274.4h0M117.9 273.8h0M117.9 276.6h0M118 277.2h0M118.1 277.1h0M118.2 273.2h0M118.3 273.6h0M118.4 278.6h0M118.5 279.1h0M118.5 277.9h0M118.6 278.6h0M118.7 275.1h0M118.8 275.3h0M118.9 272.9h0M119 274.8h0M119.1 275.2h0M119.2 273.9h0M119.2 278.3h0M119.3 279.1h0M119.4 276.6h0M119.5 274.3h0M119.6 278.5h0M119.7 274.3h0M119.8 274.3h0M119.8 276.1h0M119.9 275.2h0M120 276.4h0M120.1 275.7h0M120.2 274h0M120.3 276.7h0M120.4 274.1h0M120.4 274.6h0M120.5 274.9h0M120.6 280.2h0M120.7 280.5h0M120.8 276.3h0M120.9 278.2h0M121 278.8h0M121 278.2h0M121.1 279.3h0M121.2 277.1h0M121.3 277.8h0M121.4 277.6h0M121.5 275.3h0M121.6 278.3h0M121.7 275.1h0M121.7 280.8h0M121.8 271.6h0M121.9 278.9h0M122 275.3h0M122.1 274.9h0M122.2 276.4h0M122.3 275.2h0M122.3 276.7h0M122.4 279.9h0M122.5 275.3h0M122.6 273.7h0M122.7 276.9h0M122.8 278.8h0M122.9 276.7h0M122.9 274.9h0M123 274.6h0M123.1 273h0M123.2 273.8h0M123.3 273.9h0M123.4 278.2h0M123.5 271.3h0M123.5 274.9h0M123.6 273.6h0M123.7 275.2h0M123.8 274.9h0M123.9 274.4h0M124 271.5h0M124.1 271.3h0M124.1 273.4h0M124.2 270.3h0M124.3 274.8h0M124.4 273.4h0M124.5 274.8h0M124.6 271h0M124.7 273.3h0M124.8 272h0M124.8 270.2h0M124.9 277.3h0M125 270.2h0M125.1 274h0M125.2 275.2h0M125.3 277.9h0M125.4 275h0M125.4 278.7h0M125.5 274.2h0M125.6 274.4h0M125.7 270.7h0M125.8 274.3h0M125.9 271.6h0M126 271.8h0M126 270h0M126.1 275.2h0M126.2 273.4h0M126.3 277.9h0M126.4 277.2h0M126.5 276h0M126.6 275.6h0M126.6 278.1h0M126.7 276h0M126.8 274.3h0M126.9 276.4h0M127 275.4h0M127.1 276.8h0M127.2 273.2h0M127.2 272.2h0M127.3 275.6h0M127.4 276.4h0M127.5 273.1h0M127.6 275.1h0M127.7 277.1h0M127.8 278.6h0M127.8 277.8h0M127.9 272.4h0M128 277.6h0M128.1 270.9h0M128.2 276.2h0M128.3 276.6h0M128.4 273.9h0M128.5 276.6h0M128.5 274.6h0M128.6 276.8h0M128.7 276.3h0M128.8 275.8h0M128.9 274.3h0M129 275.8h0M129.1 277.8h0M129.1 273.2h0M129.2 273.8h0M129.3 273.9h0M129.4 274.2h0M129.5 276.4h0M129.6 269.7h0M129.7 273.1h0M129.7 271.1h0M129.8 270h0M129.9 270.2h0M130 272.1h0M130.1 272.6h0M130.2 272.2h0M130.3 271.2h0M130.3 271.5h0M130.4 272.9h0M130.5 272.3h0M130.6 272.4h0M130.7 271.6h0M130.8 272.5h0M130.9 270.2h0M130.9 272.4h0M131 271.1h0M131.1 273.3h0M131.2 274.7h0M131.3 275.6h0M131.4 274.4h0M131.5 273h0M131.6 271.6h0M131.6 273.7h0M131.7 274.9h0M131.8 275.3h0M131.9 272.4h0M132 274.8h0M132.1 277.2h0M132.2 275.3h0M132.2 278.8h0M132.3 276.2h0M132.4 276.3h0M132.5 275.5h0M132.6 277.3h0M132.7 273.6h0M132.8 272.1h0M132.8 277.7h0M132.9 274.5h0M133 273.6h0M133.1 270.1h0M133.2 274.7h0M133.3 276.4h0M133.4 274.8h0M133.4 272h0M133.5 275.5h0M133.6 276.1h0M133.7 273.2h0M133.8 279.8h0M133.9 279.9h0M134 273.8h0M134.1 274.1h0M134.1 277.5h0M134.2 274.3h0M134.3 274.7h0M134.4 274.6h0M134.5 276.4h0M134.6 275.9h0M134.7 276h0M134.7 274.2h0M134.8 274.8h0M134.9 271.2h0M135 273.3h0M135.1 278.2h0M135.2 275.5h0M135.3 273.4h0M135.3 275.4h0M135.4 273.7h0M135.5 277.1h0M135.6 276.1h0M135.7 279.2h0M135.8 276.6h0M135.9 280.4h0M135.9 275.7h0M136 280.1h0M136.1 281.8h0M136.2 276.4h0M136.3 277.4h0M136.4 277.3h0M136.5 277h0M136.5 277.8h0M136.6 279.3h0M136.7 278.1h0M136.8 277.8h0M136.9 277.7h0M137 274.8h0M137.1 279.5h0M137.2 278h0M137.2 276.9h0M137.3 278.6h0M137.4 280.5h0M137.5 279.7h0M137.6 276.3h0M137.7 278.8h0M137.8 276.4h0M137.8 278.9h0M137.9 277.1h0M138 279h0M138.1 277.9h0M138.2 275.1h0M138.3 275.1h0M138.4 272h0M138.4 277.7h0M138.5 273.8h0M138.6 272.2h0M138.7 271.8h0M138.8 274.9h0M138.9 275.9h0M139 275.8h0M139 274.1h0M139.1 274.6h0M139.2 274.3h0M139.3 273.6h0M139.4 276.5h0M139.5 277.1h0M139.6 277.2h0M139.6 277.9h0M139.7 275.4h0M139.8 274.4h0M139.9 270h0M140 273.6h0M140.1 274.2h0M140.2 272h0M140.2 275.5h0M140.3 273.5h0M140.4 272h0M140.5 272.2h0M140.6 273.2h0M140.7 275.2h0M140.8 277.4h0M140.9 275.5h0M140.9 276.3h0M141 274h0M141.1 275.5h0M141.2 273.8h0M141.3 278.4h0M141.4 273.3h0M141.5 276.2h0M141.5 278h0M141.6 277.9h0M141.7 276.7h0M141.8 273.2h0M141.9 273.8h0M142 277.9h0M142.1 275.5h0M142.1 275.9h0M142.2 278.5h0M142.3 277.1h0M142.4 279.2h0M142.5 277.1h0M142.6 280h0M142.7 276.4h0M142.7 276.7h0M142.8 276.9h0M142.9 277h0M143 273.3h0M143.1 275.7h0M143.2 274.3h0M143.3 273.5h0M143.3 273.1h0M143.4 273.5h0M143.5 275.7h0M143.6 276.4h0M143.7 275.6h0M143.8 275.4h0M143.9 274.2h0M144 274.5h0M144 272.7h0M144.1 273.8h0M144.2 270.4h0M144.3 271.2h0M144.4 274.3h0M144.5 272.1h0M144.6 278.8h0M144.6 271h0M144.7 272.5h0M144.8 272.5h0M144.9 276.6h0M145 268.9h0M145.1 274h0M145.2 274h0M145.2 271.9h0M145.3 273.8h0M145.4 274.9h0M145.5 271.9h0M145.6 275h0M145.7 272.5h0M145.8 274.4h0M145.8 272.4h0M145.9 276.4h0M146 271.9h0M146.1 274.1h0M146.2 271.3h0M146.3 276h0M146.4 271.2h0M146.4 273.9h0M146.5 273.7h0M146.6 276.2h0M146.7 274.2h0M146.8 273.4h0M146.9 276.1h0M147 276.5h0M147.1 275.9h0M147.1 272.1h0M147.2 274.3h0M147.3 273.1h0M147.4 273.9h0M147.5 273.7h0M147.6 273.6h0M147.7 274.6h0M147.7 271.7h0M147.8 273.7h0M147.9 274.3h0M148 277.3h0M148.1 274.3h0M148.2 275.9h0M148.3 275.4h0M148.3 271.8h0M148.4 275.1h0M148.5 274.1h0M148.6 272.7h0M148.7 271.6h0M148.8 274.2h0M148.9 272.3h0M148.9 271.9h0M149 274.1h0M149.1 276.4h0M149.2 276.1h0M149.3 271.5h0M149.4 272.7h0M149.5 275.9h0M149.6 274.4h0M149.6 274.1h0M149.7 273.2h0M149.8 272.7h0M149.9 268.8h0M150 274.7h0M150.1 273.3h0M150.2 275.2h0M150.2 275.1h0M150.3 275.6h0M150.4 273.7h0M150.5 273.8h0M150.6 272.3h0M150.7 273.3h0M150.8 275.3h0M150.8 269.8h0M150.9 275.7h0M151 273.8h0M151.1 270.5h0M151.2 276.3h0M151.3 271.8h0M151.4 271.5h0M151.4 274.2h0M151.5 278h0M151.6 272.5h0M151.7 274.5h0M151.8 275.5h0M151.9 272.4h0M152 276.2h0M152 273h0M152.1 276.4h0M152.2 273.8h0M152.3 276.7h0M152.4 275.4h0M152.5 275.7h0M152.6 275.9h0M152.7 273.7h0M152.7 274.3h0M152.8 274.2h0M152.9 272.2h0M153 275.6h0M153.1 279.1h0M153.2 275.9h0M153.3 275.2h0M153.3 273.5h0M153.4 273h0M153.5 273.5h0M153.6 275h0M153.7 272.6h0M153.8 275.6h0M153.9 270.9h0M153.9 273.3h0M154 272.8h0M154.1 275.2h0M154.2 273.3h0M154.3 275.1h0M154.4 273.3h0M154.5 276.3h0M154.5 271.7h0M154.6 272.2h0M154.7 269.5h0M154.8 273.5h0M154.9 273.4h0M155 273.2h0M155.1 273.9h0M155.1 273.8h0M155.2 276.3h0M155.3 276.2h0M155.4 275.2h0M155.5 274.6h0M155.6 276.4h0M155.7 276.4h0M155.8 275h0M155.8 272.5h0M155.9 274.2h0M156 272.6h0M156.1 271.5h0M156.2 271.8h0M156.3 274.4h0M156.4 274.3h0M156.4 277.4h0M156.5 274.8h0M156.6 272.8h0M156.7 275.8h0M156.8 272.1h0M156.9 271.8h0M157 274.6h0M157 272.6h0M157.1 277.3h0M157.2 277h0M157.3 275.8h0M157.4 275.6h0M157.5 276.8h0M157.6 277.8h0M157.6 272.4h0M157.7 275.6h0M157.8 276.1h0M157.9 275.3h0M158 275.6h0M158.1 276.5h0M158.2 276.9h0M158.2 279.4h0M158.3 273.4h0M158.4 278.1h0M158.5 279.6h0M158.6 278.7h0M158.7 280.5h0M158.8 274.4h0M158.8 277.8h0M158.9 275.5h0M159 275.9h0M159.1 277.5h0M159.2 277.8h0M159.3 279.9h0M159.4 278.2h0M159.5 279.6h0M159.5 278.6h0M159.6 279.7h0M159.7 275.9h0M159.8 276.3h0M159.9 278.2h0M160 281.2h0M160.1 276.9h0M160.1 276.6h0M160.2 278.2h0M160.3 280.1h0M160.4 276h0M160.5 275h0M160.6 280.6h0M160.7 275.9h0M160.7 280.6h0M160.8 276.3h0M160.9 273.8h0M161 276.7h0M161.1 275.5h0M161.2 277.1h0M161.3 276.5h0M161.3 272h0M161.4 273.4h0M161.5 277.1h0M161.6 277h0M161.7 275.7h0M161.8 272.1h0M161.9 275.9h0M161.9 274.2h0M162 276.3h0M162.1 278.1h0M162.2 273.7h0M162.3 276.4h0M162.4 277.1h0M162.5 276.6h0M162.6 276.3h0M162.6 275.8h0M162.7 277.6h0M162.8 272.3h0M162.9 273.8h0M163 272.8h0M163.1 275.2h0M163.2 273.4h0M163.2 273.7h0M163.3 271.2h0M163.4 272.3h0M163.5 273h0M163.6 274.6h0M163.7 276.4h0M163.8 274.6h0M163.8 274.4h0M163.9 274.5h0M164 275.5h0M164.1 270.4h0M164.2 272.7h0M164.3 277.4h0M164.4 275.4h0M164.4 275.1h0M164.5 272.6h0M164.6 271h0M164.7 274.6h0M164.8 271.8h0M164.9 273.7h0M165 272h0M165.1 271.8h0M165.1 273.5h0M165.2 272.6h0M165.3 274.1h0M165.4 275.2h0M165.5 277h0M165.6 274.9h0M165.7 274.9h0M165.7 275.7h0M165.8 275.4h0M165.9 275.1h0M166 276h0M166.1 274.7h0M166.2 271.3h0M166.3 273.8h0M166.3 271.5h0M166.4 276.4h0M166.5 276.4h0M166.6 274.3h0M166.7 273.2h0M166.8 275.8h0M166.9 273.5h0M166.9 272.7h0M167 272.3h0M167.1 274.8h0M167.2 274.6h0M167.3 277.6h0M167.4 274.4h0M167.5 273.5h0M167.5 271h0M167.6 276h0M167.7 275.5h0M167.8 276h0M167.9 272.4h0M168 278.7h0M168.1 275.9h0M168.2 270.1h0M168.2 273.2h0M168.3 277.3h0M168.4 274.6h0M168.5 273.6h0M168.6 274.8h0M168.7 275.9h0M168.8 276.9h0M168.8 273.9h0M168.9 275.1h0M169 273.3h0M169.1 274.4h0M169.2 275.4h0M169.3 271.7h0M169.4 275h0M169.4 273.7h0M169.5 275.5h0M169.6 275.2h0M169.7 275.2h0M169.8 276.4h0M169.9 274.7h0M170 272.9h0M170 272.1h0M170.1 272.9h0M170.2 276.1h0M170.3 273h0M170.4 275.5h0M170.5 272.9h0M170.6 278.4h0M170.6 273.3h0M170.7 276.9h0M170.8 274.2h0M170.9 276.8h0M171 274.9h0M171.1 276.6h0M171.2 279.2h0M171.2 278.3h0M171.3 277h0M171.4 276.6h0M171.5 280.7h0M171.6 278.9h0M171.7 277.9h0M171.8 276.8h0M171.9 276h0M171.9 278.3h0M172 279h0M172.1 275.9h0M172.2 277.1h0M172.3 274.8h0M172.4 277.5h0M172.5 276h0M172.5 278.4h0M172.6 276.2h0M172.7 276.4h0M172.8 275.2h0M172.9 277.3h0M173 274.7h0M173.1 275.9h0M173.1 275h0M173.2 273.3h0M173.3 269.2h0M173.4 274.3h0M173.5 272.8h0M173.6 273.5h0M173.7 271.6h0M173.7 273.2h0M173.8 272.1h0M173.9 273.4h0M174 270h0M174.1 272.1h0M174.2 277.5h0M174.3 274.6h0M174.3 274.8h0M174.4 279.3h0M174.5 276.9h0M174.6 275.6h0M174.7 276.7h0M174.8 275h0M174.9 278.5h0M175 273.6h0M175 273.1h0M175.1 273.4h0M175.2 274.9h0M175.3 274.5h0M175.4 275.4h0M175.5 272.8h0M175.6 274.5h0M175.6 271.9h0M175.7 275.6h0M175.8 272.4h0M175.9 276h0M176 275.5h0M176.1 277.4h0M176.2 274.6h0M176.2 275.9h0M176.3 273.9h0M176.4 272.9h0M176.5 275.3h0M176.6 274.2h0M176.7 273.7h0M176.8 276h0M176.8 276h0M176.9 274.6h0M177 274.2h0M177.1 273.7h0M177.2 274h0M177.3 276.3h0M177.4 274.1h0M177.4 272.4h0M177.5 275.5h0M177.6 274.3h0M177.7 276h0M177.8 274.4h0M177.9 272h0M178 274.6h0M178.1 276.5h0M178.1 274.6h0M178.2 275.3h0M178.3 274h0M178.4 279h0M178.5 278.2h0M178.6 275.6h0M178.7 277.5h0M178.7 272.8h0M178.8 278.3h0M178.9 276.3h0M179 276.9h0M179.1 276.6h0M179.2 273.6h0M179.3 273.7h0M179.3 272.5h0M179.4 273.1h0M179.5 278.2h0M179.6 273.5h0M179.7 277.3h0M179.8 274.9h0M179.9 274.7h0M179.9 275.1h0M180 273.1h0M180.1 275.6h0M180.2 270.4h0M180.3 272.9h0M180.4 272.1h0M180.5 272.6h0M180.6 272.6h0M180.6 274.2h0M180.7 269.8h0M180.8 274.9h0M180.9 272.1h0M181 272.6h0M181.1 272.8h0M181.2 272.6h0M181.2 275.6h0M181.3 273.1h0M181.4 273.2h0M181.5 274.4h0M181.6 273.4h0M181.7 275.7h0M181.8 277.4h0M181.8 275h0M181.9 274.2h0M182 269.6h0M182.1 274.5h0M182.2 273.2h0M182.3 273.5h0M182.4 271.1h0M182.4 274.3h0M182.5 273.4h0M182.6 275.2h0M182.7 275.9h0M182.8 276.6h0M182.9 276h0M183 271.5h0M183 273.5h0M183.1 274h0M183.2 273.7h0M183.3 274.7h0M183.4 273.3h0M183.5 273.2h0M183.6 271.5h0M183.7 270.8h0M183.7 275.4h0M183.8 271.8h0M183.9 269.6h0M184 274.3h0M184.1 273.3h0M184.2 272.2h0M184.3 271.1h0M184.3 271.8h0M184.4 273.5h0M184.5 273h0M184.6 272h0M184.7 273.2h0M184.8 270.4h0M184.9 273.2h0M184.9 275.7h0M185 275.8h0M185.1 275.3h0M185.2 275.6h0M185.3 273.5h0M185.4 273.9h0M185.5 271.5h0M185.5 273.4h0M185.6 271.9h0M185.7 276h0M185.8 275.6h0M185.9 273.6h0M186 275.2h0M186.1 274.2h0M186.1 275.8h0M186.2 277.6h0M186.3 273.6h0M186.4 274.5h0M186.5 279.4h0M186.6 277.6h0M186.7 276.3h0M186.8 275.4h0M186.8 276.8h0M186.9 279.6h0M187 275.8h0M187.1 277.1h0M187.2 274.4h0M187.3 275.7h0M187.4 273.8h0M187.4 274.1h0M187.5 274.2h0M187.6 276.1h0M187.7 272.6h0M187.8 273.9h0M187.9 277.4h0M188 275.1h0M188 275.1h0M188.1 273.7h0M188.2 273.4h0M188.3 276.5h0M188.4 272.8h0M188.5 274.5h0M188.6 275.7h0M188.6 272.3h0M188.7 274.7h0M188.8 275.4h0M188.9 271.5h0M189 271.3h0M189.1 273.3h0M189.2 270.4h0M189.2 270.1h0M189.3 272.1h0M189.4 266.7h0M189.5 270h0M189.6 269.4h0M189.7 274.7h0M189.8 269.2h0M189.8 270.8h0M189.9 269.7h0M190 273.9h0M190.1 268.7h0M190.2 268.2h0M190.3 268.1h0M190.4 276.9h0M190.5 270.4h0M190.5 271.9h0M190.6 277.6h0M190.7 273.8h0M190.8 272.4h0M190.9 270.1h0M191 274.8h0M191.1 273.4h0M191.1 274.2h0M191.2 273.6h0M191.3 275h0M191.4 273.1h0M191.5 273.2h0M191.6 277.1h0M191.7 273.4h0M191.7 276.7h0M191.8 276.2h0M191.9 274.3h0M192 276.5h0M192.1 275.2h0M192.2 274.9h0M192.3 274.7h0M192.3 277.6h0M192.4 279.1h0M192.5 275.5h0M192.6 275.3h0M192.7 275.9h0M192.8 277.6h0M192.9 274.8h0M192.9 276.5h0M193 279.3h0M193.1 276h0M193.2 276h0M193.3 275.4h0M193.4 279.1h0M193.5 279.1h0M193.6 276.7h0M193.6 277.5h0M193.7 276.3h0M193.8 274.7h0M193.9 275.7h0M194 273.1h0M194.1 275.7h0M194.2 273.3h0M194.2 273.7h0M194.3 270.8h0M194.4 275.4h0M194.5 275.2h0M194.6 273.2h0M194.7 277.2h0M194.8 276.8h0M194.8 275.6h0M194.9 274.5h0M195 277.3h0M195.1 274.6h0M195.2 275.3h0M195.3 275.1h0M195.4 274h0M195.4 274.8h0M195.5 272.4h0M195.6 273h0M195.7 274.8h0M195.8 273.9h0M195.9 272.3h0M196 272.4h0M196.1 270.7h0M196.1 273.5h0M196.2 273.6h0M196.3 270.2h0M196.4 273.8h0M196.5 270.7h0M196.6 272.2h0M196.7 274.3h0M196.7 275.9h0M196.8 272.8h0M196.9 275.1h0M197 275.4h0M197.1 277.4h0M197.2 272.2h0M197.3 273.5h0M197.3 274h0M197.4 273.6h0M197.5 273.4h0M197.6 274.3h0M197.7 273.8h0M197.8 275h0M197.9 279.3h0M197.9 273.7h0M198 274.6h0M198.1 274.7h0M198.2 272.3h0M198.3 277h0M198.4 280h0M198.5 272h0M198.5 273.9h0M198.6 278.2h0M198.7 276.1h0M198.8 273.5h0M198.9 277.6h0M199 274.3h0M199.1 271.4h0M199.2 271.7h0M199.2 275h0M199.3 274.5h0M199.4 276h0M199.5 274.6h0M199.6 274.8h0M199.7 276.1h0M199.8 277h0M199.8 271.2h0M199.9 274.6h0M200 276.4h0M200.1 276.2h0M200.2 272.3h0M200.3 272.4h0M200.4 276.6h0M200.4 274.7h0M200.5 273.2h0M200.6 275.5h0M200.7 277.6h0M200.8 277.1h0M200.9 274.5h0M201 275.9h0M201 276.6h0M201.1 274.9h0M201.2 273.1h0M201.3 273.1h0M201.4 275.2h0M201.5 271.3h0M201.6 276.3h0M201.6 275.2h0M201.7 278.3h0M201.8 274.2h0M201.9 275.9h0M202 279.6h0M202.1 277.6h0M202.2 273.2h0M202.2 275.3h0M202.3 275.9h0M202.4 274.6h0M202.5 279.2h0M202.6 277.9h0M202.7 277.9h0M202.8 277.1h0M202.9 275.3h0M202.9 273.8h0M203 273.7h0M203.1 274.1h0M203.2 270.6h0M203.3 276.5h0M203.4 275.8h0M203.5 275.3h0M203.5 277.7h0M203.6 276.8h0M203.7 275.3h0M203.8 277.4h0M203.9 275.2h0M204 273.7h0M204.1 277.8h0M204.1 279.7h0M204.2 275.2h0M204.3 277.6h0M204.4 275.4h0M204.5 276.7h0M204.6 275h0M204.7 273.7h0M204.7 274h0M204.8 275.7h0M204.9 276.9h0M205 279.1h0M205.1 278.3h0M205.2 275.5h0M205.3 274.7h0M205.3 275.5h0M205.4 275.6h0M205.5 277.1h0M205.6 277.1h0M205.7 276.7h0M205.8 272.6h0M205.9 277.4h0M206 272.6h0M206 275.9h0M206.1 273.4h0M206.2 273.5h0M206.3 272.1h0M206.4 271.7h0M206.5 274.8h0M206.6 275.3h0M206.6 273.8h0M206.7 275h0M206.8 272.8h0M206.9 273.5h0M207 273.5h0M207.1 272.1h0M207.2 274h0M207.2 271.1h0M207.3 276.4h0M207.4 273.2h0M207.5 273.2h0M207.6 275.7h0M207.7 275h0M207.8 272.5h0M207.8 274.6h0M207.9 277.1h0M208 276.7h0M208.1 272.7h0M208.2 275.6h0M208.3 272.3h0M208.4 272.5h0M208.4 275h0M208.5 273.9h0M208.6 276.1h0M208.7 275.5h0M208.8 276.6h0M208.9 274.6h0M209 277.9h0M209.1 276h0M209.1 275.3h0M209.2 274.5h0M209.3 278.4h0M209.4 277.8h0M209.5 276.9h0M209.6 275.5h0M209.7 275h0M209.7 275h0M209.8 272.3h0M209.9 274.7h0M210 275h0M210.1 276.5h0M210.2 274.4h0M210.3 275.3h0M210.3 274.9h0M210.4 276h0M210.5 275.4h0M210.6 273.8h0M210.7 277.9h0M210.8 280.4h0M210.9 275h0M210.9 274.7h0M211 276.9h0M211.1 276.6h0M211.2 271.6h0M211.3 277.5h0M211.4 279h0M211.5 277.8h0M211.6 276h0M211.6 278.3h0M211.7 278.5h0M211.8 278h0M211.9 279.7h0M212 279h0M212.1 279h0M212.2 280.9h0M212.2 279.7h0M212.3 282h0M212.4 277.6h0M212.5 281.4h0M212.6 279.8h0M212.7 283h0M212.8 280.6h0M212.8 281.6h0M212.9 277.6h0M213 280.7h0M213.1 280.2h0M213.2 283.8h0M213.3 283.3h0M213.4 281.3h0M213.4 282.9h0M213.5 279.4h0M213.6 281.4h0M213.7 280.8h0M213.8 279.7h0M213.9 280.2h0M214 278.3h0M214 281.1h0M214.1 278.7h0M214.2 277.6h0M214.3 278.9h0M214.4 278.7h0M214.5 279.4h0M214.6 278.5h0M214.7 277.1h0M214.7 278.4h0M214.8 279.8h0M214.9 276.5h0M215 278h0M215.1 276.9h0M215.2 277.7h0M215.3 274.9h0M215.3 279.3h0M215.4 278.3h0M215.5 274.9h0M215.6 278.3h0M215.7 275.2h0M215.8 276.1h0M215.9 279.1h0M215.9 274.4h0M216 273.3h0M216.1 275h0M216.2 277.9h0M216.3 273.7h0M216.4 277.1h0M216.5 274.7h0M216.5 274.6h0M216.6 276.8h0M216.7 279h0M216.8 275.5h0M216.9 275.4h0M217 276.7h0M217.1 276.8h0M217.1 274.1h0M217.2 275.7h0M217.3 276.6h0M217.4 277.4h0M217.5 275.8h0M217.6 274.9h0M217.7 275.8h0M217.8 277.5h0M217.8 275.5h0M217.9 276.5h0M218 275.8h0M218.1 274h0M218.2 273.5h0M218.3 274.5h0M218.4 275h0M218.4 276h0M218.5 275h0M218.6 276.4h0M218.7 276.1h0M218.8 276.9h0M218.9 275.9h0M219 275.8h0M219 273.2h0M219.1 274.8h0M219.2 276.3h0M219.3 274.1h0M219.4 276.7h0M219.5 274h0M219.6 274.7h0M219.6 270.4h0M219.7 277.7h0M219.8 276.5h0M219.9 276.6h0M220 276.1h0M220.1 275.5h0M220.2 278.7h0M220.2 277.4h0M220.3 275.6h0M220.4 274.3h0M220.5 277.9h0M220.6 278.7h0M220.7 274.2h0M220.8 274.9h0M220.8 274.5h0M220.9 278h0M221 276.3h0M221.1 275.7h0M221.2 275.9h0M221.3 276.8h0M221.4 277h0M221.5 274.9h0M221.5 277.9h0M221.6 278.1h0M221.7 277.5h0M221.8 277.2h0M221.9 276.5h0M222 276.9h0M222.1 277.4h0M222.1 274.2h0M222.2 276.4h0M222.3 276.5h0M222.4 273.6h0M222.5 276.5h0M222.6 275.4h0M222.7 275.6h0M222.7 277.2h0M222.8 276.9h0M222.9 276.6h0M223 279.7h0M223.1 277.3h0M223.2 276.4h0M223.3 276.4h0M223.3 276.7h0M223.4 272.6h0M223.5 275.9h0M223.6 277.5h0M223.7 277.7h0M223.8 277.4h0M223.9 276.6h0M223.9 277.7h0M224 275.3h0M224.1 279.8h0M224.2 276.6h0M224.3 276.2h0M224.4 279.7h0M224.5 276.9h0M224.6 276.8h0M224.6 279.1h0M224.7 274.3h0M224.8 276.8h0M224.9 279.3h0M225 279.5h0M225.1 280.5h0M225.2 278.7h0M225.2 278.9h0M225.3 281.3h0M225.4 280.6h0M225.5 280.4h0M225.6 279.2h0M225.7 279.5h0M225.8 280h0M225.8 277.5h0M225.9 276.9h0M226 278.7h0M226.1 282.1h0M226.2 278.7h0M226.3 276.9h0M226.4 278h0M226.4 277.5h0M226.5 277.5h0M226.6 280h0M226.7 281.4h0M226.8 276.7h0M226.9 279.7h0M227 278h0M227.1 278.4h0M227.1 278.2h0M227.2 275.7h0M227.3 279.7h0M227.4 277.8h0M227.5 280h0M227.6 277.6h0M227.7 276.2h0M227.7 275.5h0M227.8 276.6h0M227.9 278.8h0M228 276.6h0M228.1 275.2h0M228.2 275.5h0M228.3 273.5h0M228.3 276.1h0M228.4 279.1h0M228.5 277.9h0M228.6 276.6h0M228.7 275.6h0M228.8 279.2h0M228.9 276h0M228.9 276.6h0M229 279.2h0M229.1 276.8h0M229.2 278.2h0M229.3 276.9h0M229.4 276.9h0M229.5 275.7h0M229.5 277.8h0M229.6 275h0M229.7 280h0M229.8 276.7h0M229.9 276.7h0M230 273.7h0M230.1 274.6h0M230.2 276.6h0M230.2 277.4h0M230.3 276.2h0M230.4 277.2h0M230.5 272.2h0M230.6 280.4h0M230.7 275.2h0M230.8 279.5h0M230.8 274h0M230.9 277.4h0M231 273.3h0M231.1 277h0M231.2 274.7h0M231.3 275.6h0M231.4 273.8h0M231.4 275.8h0M231.5 280.1h0M231.6 276.4h0M231.7 278.1h0M231.8 274.1h0M231.9 274.7h0M232 275.8h0M232 274.3h0M232.1 274.7h0M232.2 276.6h0M232.3 272.1h0M232.4 274.8h0M232.5 275.7h0M232.6 277h0M232.6 275.3h0M232.7 273.9h0M232.8 273.9h0M232.9 274.2h0M233 273.6h0M233.1 275h0M233.2 273.3h0M233.2 275.9h0M233.3 274.5h0M233.4 274.2h0M233.5 271.5h0M233.6 271.9h0M233.7 272.7h0M233.8 274.1h0M233.9 273.2h0M233.9 270.7h0M234 269.6h0M234.1 274.8h0M234.2 273.1h0M234.3 272.1h0M234.4 272h0M234.5 272.8h0M234.5 271.2h0M234.6 275.4h0M234.7 270.1h0M234.8 274.6h0M234.9 272.7h0M235 272.6h0M235.1 272h0M235.1 272.8h0M235.2 273.5h0M235.3 273.1h0M235.4 276.1h0M235.5 274.2h0M235.6 272.9h0M235.7 277.4h0M235.7 278.4h0M235.8 278.2h0M235.9 273.9h0M236 273.9h0M236.1 276.1h0M236.2 275.3h0M236.3 274.5h0M236.3 273.2h0M236.4 278.5h0M236.5 276.8h0M236.6 276.5h0M236.7 275.2h0M236.8 275.8h0M236.9 276.4h0M237 275h0M237 280h0M237.1 271.2h0M237.2 275.3h0M237.3 275.6h0M237.4 277.8h0M237.5 275.9h0M237.6 273h0M237.6 272.7h0M237.7 275.5h0M237.8 277.5h0M237.9 275h0M238 275.5h0M238.1 274h0M238.2 277.8h0M238.2 275.8h0M238.3 274.7h0M238.4 275.7h0M238.5 273h0M238.6 276.9h0M238.7 277.2h0M238.8 275.7h0M238.8 274.2h0M238.9 277h0M239 277.5h0M239.1 275.5h0M239.2 276.4h0M239.3 277.7h0M239.4 276.4h0M239.4 277.5h0M239.5 276.5h0M239.6 276.9h0M239.7 278.2h0M239.8 277.1h0M239.9 277.4h0M240 276.2h0M240.1 275.8h0M240.1 277.2h0M240.2 276.4h0M240.3 275.8h0M240.4 275.1h0M240.5 276.3h0M240.6 273.7h0M240.7 277.3h0M240.7 275.7h0M240.8 277.5h0M240.9 278.9h0M241 276.6h0M241.1 277h0M241.2 276.9h0M241.3 277.6h0M241.3 278.1h0M241.4 279h0M241.5 278h0M241.6 276.1h0M241.7 274.9h0M241.8 282.6h0M241.9 276.1h0M241.9 275.1h0M242 274.3h0M242.1 275.6h0M242.2 275.3h0M242.3 276.6h0M242.4 276.6h0M242.5 274.5h0M242.6 277.5h0M242.6 277.5h0M242.7 275.9h0M242.8 278.1h0M242.9 275.1h0M243 276.9h0M243.1 274.2h0M243.2 274.4h0M243.2 275.2h0M243.3 275.7h0M243.4 275.2h0M243.5 277.7h0M243.6 274.4h0M243.7 272.9h0M243.8 271.3h0M243.8 274.2h0M243.9 274.1h0M244 271.5h0M244.1 271h0M244.2 275.1h0M244.3 272.8h0M244.4 272.7h0M244.4 273.6h0M244.5 275.7h0M244.6 276.3h0M244.7 273.8h0M244.8 270.5h0M244.9 275.4h0M245 272.5h0M245 272.5h0M245.1 277.9h0M245.2 276.6h0M245.3 272.7h0M245.4 273.5h0M245.5 274.4h0M245.6 275.8h0M245.7 275h0M245.7 276.9h0M245.8 271.7h0M245.9 277.5h0M246 278.1h0M246.1 275.4h0M246.2 273.5h0M246.3 276.3h0M246.3 275.3h0M246.4 277.1h0M246.5 275.1h0M246.6 276.6h0M246.7 276.4h0M246.8 277.2h0M246.9 275.4h0M246.9 270.4h0M247 273.5h0M247.1 273.8h0M247.2 270h0M247.3 274.8h0M247.4 275.7h0M247.5 272.6h0M247.5 275.4h0M247.6 272.6h0M247.7 271.4h0M247.8 274.7h0M247.9 273.7h0M248 270.6h0M248.1 276.3h0M248.1 275.7h0M248.2 274.2h0M248.3 275.3h0M248.4 276.1h0M248.5 272.2h0M248.6 275.5h0M248.7 273.9h0M248.8 275.5h0M248.8 275.5h0M248.9 278.2h0M249 273.7h0M249.1 276.1h0M249.2 273.5h0M249.3 278h0M249.4 276.6h0M249.4 274.6h0M249.5 275.1h0M249.6 276.7h0M249.7 275.8h0M249.8 277.3h0M249.9 275h0M250 279h0M250 274.9h0M250.1 272.1h0M250.2 272.8h0M250.3 272.5h0M250.4 275h0M250.5 274.1h0M250.6 275.6h0M250.6 274.8h0M250.7 274.1h0M250.8 279.3h0M250.9 271.7h0M251 272.4h0M251.1 272.4h0M251.2 276.4h0M251.2 273.3h0M251.3 273.2h0M251.4 278.3h0M251.5 276.9h0M251.6 274h0M251.7 275.1h0M251.8 273.8h0M251.8 274.5h0M251.9 270.9h0M252 277.6h0M252.1 276.6h0M252.2 275.5h0M252.3 276.2h0M252.4 274.6h0M252.5 273.9h0M252.5 277h0M252.6 273h0M252.7 271.7h0M252.8 271.9h0M252.9 270.3h0M253 271.5h0M253.1 273.4h0M253.1 269.6h0M253.2 270.5h0M253.3 268.8h0M253.4 272.8h0M253.5 276.4h0M253.6 275.1h0M253.7 272.1h0M253.7 271.2h0M253.8 272.7h0M253.9 270.7h0M254 274.3h0M254.1 273.1h0M254.2 269.9h0M254.3 271h0M254.3 270.9h0M254.4 269h0M254.5 270.1h0M254.6 272.6h0M254.7 271.6h0M254.8 275.1h0M254.9 271.9h0M254.9 271.3h0M255 275h0M255.1 269.3h0M255.2 269h0M255.3 271.5h0M255.4 271.5h0M255.5 270.5h0M255.6 273.9h0M255.6 271.5h0M255.7 273.1h0M255.8 277h0M255.9 276h0M256 274.9h0M256.1 272h0M256.2 273.1h0M256.2 272h0M256.3 274.6h0M256.4 276.1h0M256.5 270.5h0M256.6 269.5h0M256.7 274h0M256.8 275.1h0M256.8 273.4h0M256.9 277.7h0M257 275.9h0M257.1 277.3h0M257.2 274.1h0M257.3 274.5h0M257.4 275.7h0M257.4 276.3h0M257.5 277.8h0M257.6 276.5h0M257.7 272.6h0M257.8 275.1h0M257.9 272.7h0M258 276.1h0M258.1 274.6h0M258.1 274.9h0M258.2 274.7h0M258.3 272.9h0M258.4 278.1h0M258.5 273.4h0M258.6 274.2h0M258.7 275.3h0M258.7 276.2h0M258.8 276h0M258.9 274h0M259 274.7h0M259.1 276.5h0M259.2 274.6h0M259.3 273h0M259.3 274h0M259.4 274.5h0M259.5 273.4h0M259.6 274.3h0M259.7 274.3h0M259.8 276.9h0M259.9 273.7h0M259.9 272.2h0M260 274.4h0M260.1 275.7h0M260.2 272h0M260.3 273.4h0M260.4 273.7h0M260.5 272.9h0M260.5 272.3h0M260.6 274.2h0M260.7 275.3h0M260.8 270.9h0M260.9 274h0M261 275.2h0M261.1 273.8h0M261.1 271.9h0M261.2 276.4h0M261.3 271.3h0M261.4 274.1h0M261.5 271h0M261.6 273.6h0M261.7 274h0M261.8 271.7h0M261.8 271.8h0M261.9 274.7h0M262 273.6h0M262.1 275h0M262.2 272.4h0M262.3 276.5h0M262.4 274.6h0M262.4 277.8h0M262.5 273.5h0M262.6 278.4h0M262.7 276.2h0M262.8 274.2h0M262.9 275.7h0M263 276h0M263 277.3h0M263.1 276.7h0M263.2 278.4h0M263.3 275.2h0M263.4 274.6h0M263.5 274.2h0M263.6 275.3h0M263.6 273.5h0M263.7 275h0M263.8 274h0M263.9 274.6h0M264 275.2h0M264.1 276.6h0M264.2 279.8h0M264.2 274.9h0M264.3 276.5h0M264.4 273.2h0M264.5 280.3h0M264.6 275.7h0M264.7 279.1h0M264.8 277.9h0M264.9 279.6h0M264.9 277h0M265 278h0M265.1 275.4h0M265.2 276.4h0M265.3 276.1h0M265.4 274.6h0M265.5 275.9h0M265.5 276.5h0M265.6 273.8h0M265.7 276.3h0M265.8 276.2h0M265.9 277.5h0M266 278.3h0M266.1 282.4h0M266.1 276.4h0M266.2 279.1h0M266.3 275.4h0M266.4 273.8h0M266.5 279.2h0M266.6 275.6h0M266.7 277.1h0M266.7 276.2h0M266.8 278.8h0M266.9 276.8h0M267 276.3h0M267.1 274.2h0M267.2 272.8h0M267.3 275.7h0M267.4 276.5h0M267.4 272.3h0M267.5 276.9h0M267.6 276.9h0M267.7 276.8h0M267.8 276.7h0M267.9 275.7h0M268 278.3h0M268 277.6h0M268.1 274.6h0M268.2 275.5h0M268.3 277h0M268.4 276.4h0M268.5 276.8h0M268.6 274.6h0M268.6 277.1h0M268.7 275.4h0M268.8 276.8h0M268.9 276.6h0M269 275h0M269.1 275.4h0M269.2 276.3h0M269.2 276h0M269.3 275.6h0M269.4 276.6h0M269.5 276.4h0M269.6 275.8h0M269.7 274.1h0M269.8 273.6h0M269.8 275.2h0M269.9 276.1h0M270 275.2h0M270.1 271.4h0M270.2 272.6h0M270.3 276h0M270.4 273.9h0M270.4 275.3h0M270.5 274.9h0M270.6 277.2h0M270.7 274.3h0M270.8 276.5h0M270.9 275.2h0M271 271.9h0M271.1 273.4h0M271.1 276.3h0M271.2 277.1h0M271.3 277h0M271.4 278.4h0M271.5 277.9h0M271.6 277.6h0M271.7 278.3h0M271.7 275.7h0M271.8 276.8h0M271.9 277.9h0M272 273.8h0M272.1 275.9h0M272.2 276.4h0M272.3 273.6h0M272.3 274.1h0M272.4 277.5h0M272.5 275.6h0M272.6 277.3h0M272.7 279.4h0M272.8 274h0M272.9 275.3h0M272.9 280.1h0M273 276.7h0M273.1 280.1h0M273.2 275.4h0M273.3 277.3h0M273.4 277.4h0M273.5 274.7h0M273.6 276.9h0M273.6 277h0M273.7 274.4h0M273.8 276.5h0M273.9 274.8h0M274 276.1h0M274.1 274.7h0M274.2 274.7h0M274.2 274.3h0M274.3 277.3h0M274.4 272.2h0M274.5 275.1h0M274.6 271.9h0M274.7 275.7h0M274.8 275.6h0M274.8 275.4h0M274.9 273h0M275 275.8h0M275.1 274.6h0M275.2 277.4h0M275.3 275.9h0M275.4 274.5h0M275.4 274.7h0M275.5 277.9h0M275.6 274h0M275.7 276.5h0M275.8 271.2h0M275.9 274.7h0M276 270.8h0M276 273.8h0M276.1 273.7h0M276.2 275.2h0M276.3 275.2h0M276.4 274h0M276.5 278.2h0M276.6 273h0M276.6 276.3h0M276.7 274.3h0M276.8 278.9h0M276.9 272.7h0M277 271.7h0M277.1 273.2h0M277.2 273.2h0M277.3 274.6h0M277.3 274.1h0M277.4 272.5h0M277.5 275.5h0M277.6 273.6h0M277.7 273.2h0M277.8 275.2h0M277.9 273.8h0M277.9 274.3h0M278 275.3h0M278.1 270.3h0M278.2 275.6h0M278.3 272.2h0M278.4 272.3h0M278.5 277.7h0M278.5 273.6h0M278.6 272.1h0M278.7 273.1h0M278.8 276.3h0M278.9 274h0M279 277h0M279.1 276.8h0M279.1 275.5h0M279.2 274.8h0M279.3 272.9h0M279.4 275.1h0M279.5 274h0M279.6 278.3h0M279.7 277.6h0M279.8 276.2h0M279.8 272.3h0M279.9 277.2h0M280 277.4h0M280.1 274.5h0M280.2 272.8h0M280.3 277.8h0M280.4 274.9h0M280.4 276.8h0M280.5 272.2h0M280.6 273.5h0M280.7 274.1h0M280.8 274.4h0M280.9 274.5h0M281 274.5h0M281 276.2h0M281.1 276.7h0M281.2 277.4h0M281.3 275.1h0M281.4 276.6h0M281.5 274.2h0M281.6 279h0M281.6 273.6h0M281.7 274h0M281.8 273.1h0M281.9 275.4h0M282 278.1h0M282.1 276.8h0M282.2 273.7h0M282.2 276.9h0M282.3 277.5h0M282.4 277.3h0M282.5 276.3h0M282.6 276.3h0M282.7 278.7h0M282.8 276.6h0M282.9 274.3h0M282.9 273.9h0M283 276.2h0M283.1 276.7h0M283.2 273.4h0M283.3 275.8h0M283.4 277.1h0M283.5 275.3h0M283.5 273.6h0M283.6 271.8h0M283.7 275h0M283.8 273.4h0M283.9 275.2h0M284 272.8h0M284.1 273.6h0M284.1 274.2h0M284.2 277.4h0M284.3 275.5h0M284.4 275.1h0M284.5 281.7h0M284.6 273.7h0M284.7 275.8h0M284.7 275.4h0M284.8 275.8h0M284.9 275.2h0M285 274.8h0M285.1 277.5h0M285.2 275.4h0M285.3 275.6h0M285.3 276.5h0M285.4 278.3h0M285.5 276.1h0M285.6 278.2h0M285.7 274.8h0M285.8 273.4h0M285.9 274.6h0M285.9 276.9h0M286 277.1h0M286.1 277.2h0M286.2 275.4h0M286.3 277.4h0M286.4 276.7h0M286.5 280.1h0M286.6 277.2h0M286.6 277.4h0M286.7 276.2h0M286.8 273h0M286.9 277.7h0M287 277.9h0M287.1 273.9h0M287.2 276.1h0M287.2 274.9h0M287.3 274.8h0M287.4 274.4h0" stroke="#848484" stroke-width="2.6" stroke-linecap="round" fill="none" />
<path d="M45.5 270.2h0M42.1 278.1h0M44.7 281.1h0M45.7 282.1h0M45.4 269.9h0M43.9 272h0M47.3 278.5h0M41.7 270.5h0M45.7 275.9h0M41.5 275.7h0M44.1 281.3h0M40.7 277.5h0M41.1 274.7h0M46.8 274.3h0M52.1 276h0M54.7 271.4h0M50.7 278h0M51.1 276.8h0M51.9 274h0M51.4 275.3h0M54.9 274.3h0M55.2 275.9h0M54.9 278h0M52.7 272.8h0M53.8 274.9h0M53.5 272h0M71.3 278.5h0M70.8 278.6h0M72.5 267.1h0M64.8 272.2h0M73.6 271.3h0M65.9 272h0M70 276h0M69.3 267.1h0M75.9 276.1h0M73.7 281.9h0M75.1 272h0M67.6 269.4h0M70.3 274.6h0M74.6 273.3h0M74.4 270.4h0M71.4 267.7h0M70.3 272.2h0M67.4 267h0M70.6 273.7h0M74.5 265h0M79.3 273.2h0M165 280.4h0M163.6 270.6h0M187.7 270.3h0M202.8 277.2h0M188.5 272.7h0M199.3 274.1h0M201.3 280h0M188.9 279.4h0M188.9 273h0M188 275.9h0M203.2 271.6h0M196 276.9h0M190.1 264.8h0M205.1 276.3h0M198.5 265.1h0M203.3 278.7h0M189.2 272.4h0M197.9 269.7h0M201.1 281.4h0M195.4 279.7h0M196.4 273.1h0M188.4 269.6h0M191.3 268.5h0M192.1 272.4h0M195.4 270h0M187.7 280.7h0M189 277.1h0M198 268.2h0M205.2 277.7h0M192.1 276.2h0M196.9 283.4h0M196.4 276h0M201.3 282.7h0M197 273.4h0M196.6 268h0M188.2 273.6h0M187.7 274.3h0M195.4 277h0M189.7 272.5h0M193.2 280.4h0M190.1 277.3h0M201.7 264.7h0M192.7 281.4h0M199.1 277.8h0M198.1 281.8h0M200 269.2h0M192.3 276.2h0M190.3 281.2h0M203.1 281.1h0M196.3 269.8h0M200.3 271.9h0M195.4 271.3h0M187.9 275.4h0M189.6 270.8h0M190.1 268.8h0M188 271.9h0M200.3 282.8h0M204.7 284.6h0M194.7 282.2h0M204.9 273.9h0M189.5 282.3h0M193.7 280.4h0M208.4 276.8h0M221.7 277.5h0M211.4 271.4h0M216.3 272.8h0M210.9 269.8h0M223.7 271.2h0M220.1 270.8h0M222.4 273.3h0M220.7 274.8h0M223 276.7h0M219 275.4h0M209.6 278.9h0M209.4 273.8h0M220.5 275.6h0M235.2 276.6h0M232.8 273.7h0M228.4 274.2h0M227.4 268.3h0M234.3 271.3h0M233.9 275.7h0M234.4 285.9h0M236.5 282.5h0M232.6 277.8h0M236.2 277.2h0M236.5 281.7h0M232.4 277.2h0M234.4 274.9h0M228.1 278.5h0M236.7 276.1h0M231.5 275.9h0M231.5 278.8h0M233.4 279.6h0M235.2 276.1h0M229.2 274.2h0M234.1 280.4h0M235 285.2h0M256.7 273.5h0M251.4 276.2h0M245.7 273.6h0M247.7 274.8h0M255 275.1h0M248.9 278.5h0M256.5 271.7h0M245.9 271.3h0M241.9 277.5h0M244.5 278.8h0M243.8 274.7h0M245.3 278.3h0M259.5 275h0M253.7 272.4h0M282.7 276.3h0M269.9 275.9h0M278.1 273.5h0M287 275.2h0M281.8 273.5h0M268.7 278.9h0M266.5 271.4h0M285.4 277.3h0M265.8 272.7h0M279.6 274.6h0M277.5 271.5h0M275.5 275.8h0M268.5 280.9h0M286.8 279.7h0M281.2 276.3h0M271.3 270.4h0M264.5 277h0M271.2 275.3h0M261.2 270.9h0M265.1 277.6h0M266.5 274.4h0M264.3 274.5h0M274.7 277.7h0M263.9 274.7h0M262.4 271.6h0M261.9 271.6h0M284.3 276.7h0M262.1 264.8h0M286.4 274.2h0M285.6 276.5h0" stroke="#ff0000" stroke-width="2.5" stroke-linecap="round" fill="none" />
<line x1="40" y1="275.2" x2="287" y2="275.2" stroke="#00ff00" stroke-width="3.3"/>
</g>
<rect x="83.6" y="238.5" width="220.2" height="19.3" fill="#fff"/>
<line x1="127.5" y1="238.5" x2="127.5" y2="257.8" stroke="#e4e4e4" stroke-width="1"/>
<line x1="171.5" y1="238.5" x2="171.5" y2="257.8" stroke="#e4e4e4" stroke-width="1"/>
<line x1="215.5" y1="238.5" x2="215.5" y2="257.8" stroke="#e4e4e4" stroke-width="1"/>
<line x1="259.5" y1="238.5" x2="259.5" y2="257.8" stroke="#e4e4e4" stroke-width="1"/>
<line x1="83.6" y1="248.5" x2="303.8" y2="248.5" stroke="#e4e4e4" stroke-width="1"/>
<g clip-path="url(#cj1)">
<path d="M83.6 247.4h0M83.8 246.5h0M83.9 248.1h0M84.1 245.7h0M84.2 247.8h0M84.4 247.1h0M84.5 248.5h0M84.7 248.6h0M84.9 247.6h0M85 248.1h0M85.2 249.5h0M85.3 248.2h0M85.5 248.4h0M85.6 248.6h0M85.8 249.1h0M86 249.4h0M86.1 249.4h0M86.3 249.2h0M86.4 249.1h0M86.6 247.9h0M86.7 249.7h0M86.9 248.1h0M87.1 248.1h0M87.2 248.4h0M87.4 248.3h0M87.5 249h0M87.7 249.1h0M87.8 249.2h0M88 248h0M88.2 247.5h0M88.3 247.9h0M88.5 247h0M88.6 247.1h0M88.8 249.1h0M89 246.7h0M89.1 246.8h0M89.3 247.1h0M89.4 247h0M89.6 247.4h0M89.7 246.5h0M89.9 246.2h0M90.1 247.7h0M90.2 246.1h0M90.4 246.9h0M90.5 247.2h0M90.7 245.8h0M90.8 247.5h0M91 247.2h0M91.2 248.2h0M91.3 247.5h0M91.5 246.1h0M91.6 248.3h0M91.8 246.1h0M91.9 247.5h0M92.1 247.6h0M92.3 247.3h0M92.4 247.6h0M92.6 248.4h0M92.7 247h0M92.9 247.3h0M93 248.4h0M93.2 248.5h0M93.4 248.5h0M93.5 248.1h0M93.7 247.5h0M93.8 247.4h0M94 247.2h0M94.1 248.6h0M94.3 249.1h0M94.5 249.3h0M94.6 247.4h0M94.8 247.9h0M94.9 248.1h0M95.1 248h0M95.2 247.7h0M95.4 250h0M95.6 249.8h0M95.7 249.3h0M95.9 249.1h0M96 249.5h0M96.2 248.4h0M96.3 249.1h0M96.5 249.7h0M96.7 250.1h0M96.8 249.2h0M97 249.4h0M97.1 247.4h0M97.3 245.9h0M97.5 249.1h0M97.6 248.1h0M97.8 248.2h0M97.9 249.4h0M98.1 247.4h0M98.2 247.5h0M98.4 247.6h0M98.6 249.5h0M98.7 249.5h0M98.9 247.6h0M99 250.1h0M99.2 248.9h0M99.3 248.9h0M99.5 248.1h0M99.7 249.8h0M99.8 248.9h0M100 249.9h0M100.1 248.2h0M100.3 249.4h0M100.4 248.7h0M100.6 248.2h0M100.8 247.8h0M100.9 248.1h0M101.1 247.8h0M101.2 248.5h0M101.4 248.9h0M101.5 249.3h0M101.7 247.5h0M101.9 247.7h0M102 247.8h0M102.2 246.8h0M102.3 248.1h0M102.5 248.3h0M102.6 248.6h0M102.8 248.7h0M103 249.3h0M103.1 249.3h0M103.3 248.7h0M103.4 249.1h0M103.6 248.3h0M103.7 248.3h0M103.9 249.8h0M104.1 249.9h0M104.2 250.6h0M104.4 249h0M104.5 248.2h0M104.7 249.3h0M104.8 248.6h0M105 247.8h0M105.2 249.8h0M105.3 250.1h0M105.5 248.7h0M105.6 247.8h0M105.8 248.3h0M106 248h0M106.1 247.3h0M106.3 248.7h0M106.4 248.5h0M106.6 249h0M106.7 247.5h0M106.9 247.9h0M107.1 247.6h0M107.2 246.3h0M107.4 249.5h0M107.5 246.2h0M107.7 247h0M107.8 247.7h0M108 246.8h0M108.2 248.1h0M108.3 247.2h0M108.5 247.8h0M108.6 248h0M108.8 248.2h0M108.9 248.1h0M109.1 248.2h0M109.3 248.3h0M109.4 248.4h0M109.6 247.7h0M109.7 247.6h0M109.9 247.7h0M110 248.4h0M110.2 247.8h0M110.4 247.7h0M110.5 247.2h0M110.7 249.7h0M110.8 247.8h0M111 249.9h0M111.1 249.4h0M111.3 249.8h0M111.5 248.8h0M111.6 249.2h0M111.8 249h0M111.9 249.2h0M112.1 249.6h0M112.2 250.1h0M112.4 248h0M112.6 249.1h0M112.7 249.5h0M112.9 249.2h0M113 247.4h0M113.2 248.2h0M113.3 248.2h0M113.5 248h0M113.7 245.7h0M113.8 248.3h0M114 246.6h0M114.1 249.3h0M114.3 248.2h0M114.5 247.5h0M114.6 248.1h0M114.8 247.8h0M114.9 247.1h0M115.1 247.6h0M115.2 247.8h0M115.4 246.9h0M115.6 248.3h0M115.7 248.2h0M115.9 248h0M116 248.2h0M116.2 248.6h0M116.3 248.2h0M116.5 248.4h0M116.7 247.7h0M116.8 248h0M117 248.7h0M117.1 249.3h0M117.3 247.6h0M117.4 247.1h0M117.6 249.9h0M117.8 249.4h0M117.9 249.7h0M118.1 249h0M118.2 248.5h0M118.4 248h0M118.5 247.6h0M118.7 249.6h0M118.9 249.5h0M119 249h0M119.2 247.8h0M119.3 248h0M119.5 247.4h0M119.6 247.4h0M119.8 245.7h0M120 247.7h0M120.1 248.3h0M120.3 247.1h0M120.4 247.4h0M120.6 247.2h0M120.7 246.3h0M120.9 247.4h0M121.1 246.8h0M121.2 247.5h0M121.4 248.3h0M121.5 248.2h0M121.7 248.5h0M121.8 247.5h0M122 249.2h0M122.2 247.7h0M122.3 249h0M122.5 248.4h0M122.6 248h0M122.8 248.8h0M122.9 247.8h0M123.1 247.8h0M123.3 248.2h0M123.4 249h0M123.6 249h0M123.7 249.2h0M123.9 248.4h0M124.1 247.3h0M124.2 248.3h0M124.4 248.5h0M124.5 248.7h0M124.7 248.1h0M124.8 248.5h0M125 249.5h0M125.2 247.7h0M125.3 248.3h0M125.5 249.3h0M125.6 247.5h0M125.8 247.5h0M125.9 248h0M126.1 248.1h0M126.3 248.3h0M126.4 248.7h0M126.6 247.8h0M126.7 248.2h0M126.9 247.2h0M127 247.7h0M127.2 248.7h0M127.4 248h0M127.5 249.7h0M127.7 248.4h0M127.8 248.4h0M128 247.6h0M128.1 247.9h0M128.3 247.9h0M128.5 248.3h0M128.6 247.3h0M128.8 248.9h0M128.9 250.2h0M129.1 247.3h0M129.2 249.9h0M129.4 248.2h0M129.6 249.3h0M129.7 248h0M129.9 250.6h0M130 248.4h0M130.2 248.9h0M130.3 250.2h0M130.5 248.4h0M130.7 247.5h0M130.8 249.1h0M131 248.7h0M131.1 248.6h0M131.3 248.6h0M131.4 248.1h0M131.6 250.4h0M131.8 250.1h0M131.9 248.2h0M132.1 249.1h0M132.2 248.6h0M132.4 249.3h0M132.6 247.8h0M132.7 249.4h0M132.9 248h0M133 247.5h0M133.2 247.9h0M133.3 247.3h0M133.5 249.5h0M133.7 248.1h0M133.8 247.6h0M134 248.3h0M134.1 249.7h0M134.3 247.9h0M134.4 247.4h0M134.6 249.5h0M134.8 249h0M134.9 248.2h0M135.1 248.4h0M135.2 249.4h0M135.4 246.4h0M135.5 249.1h0M135.7 248.1h0M135.9 248.4h0M136 247.3h0M136.2 249.9h0M136.3 246.9h0M136.5 248.4h0M136.6 245.7h0M136.8 247.2h0M137 247.8h0M137.1 245.8h0M137.3 245.7h0M137.4 246.8h0M137.6 247.4h0M137.7 248.2h0M137.9 246.9h0M138.1 247.5h0M138.2 246.3h0M138.4 248.6h0M138.5 246.8h0M138.7 248.3h0M138.8 247.3h0M139 247.5h0M139.2 249.2h0M139.3 247.4h0M139.5 249.2h0M139.6 247.6h0M139.8 247.2h0M139.9 247.4h0M140.1 248.6h0M140.3 248h0M140.4 247.9h0M140.6 247.4h0M140.7 249.3h0M140.9 249.4h0M141.1 248.7h0M141.2 248.8h0M141.4 245.7h0M141.5 247.4h0M141.7 248.2h0M141.8 248h0M142 247.9h0M142.2 248.3h0M142.3 247.5h0M142.5 247.2h0M142.6 247.2h0M142.8 248h0M142.9 247.5h0M143.1 247.7h0M143.3 249.3h0M143.4 248.2h0M143.6 248.3h0M143.7 247.2h0M143.9 247.7h0M144 248.8h0M144.2 248.4h0M144.4 248.2h0M144.5 247.6h0M144.7 248h0M144.8 248.2h0M145 247.7h0M145.1 246h0M145.3 249.1h0M145.5 248h0M145.6 247.3h0M145.8 248.7h0M145.9 246.7h0M146.1 248.7h0M146.2 248h0M146.4 248.5h0M146.6 247.4h0M146.7 247.9h0M146.9 248.3h0M147 248.7h0M147.2 248.5h0M147.3 248.7h0M147.5 247.5h0M147.7 249.1h0M147.8 248.1h0M148 247.7h0M148.1 247.4h0M148.3 246.7h0M148.4 246.6h0M148.6 245.7h0M148.8 247h0M148.9 246.9h0M149.1 247.1h0M149.2 245.7h0M149.4 246.6h0M149.5 246.5h0M149.7 247.7h0M149.9 245.8h0M150 245.8h0M150.2 248h0M150.3 247.7h0M150.5 246.6h0M150.7 248.9h0M150.8 248.9h0M151 248.5h0M151.1 246.3h0M151.3 248h0M151.4 247.3h0M151.6 247.6h0M151.8 246.8h0M151.9 249.1h0M152.1 247.3h0M152.2 248h0M152.4 247.9h0M152.5 247.8h0M152.7 247.6h0M152.9 246.9h0M153 247.2h0M153.2 246.6h0M153.3 245.7h0M153.5 247.3h0M153.6 246.2h0M153.8 246.4h0M154 246.5h0M154.1 245.7h0M154.3 246.4h0M154.4 245.8h0M154.6 247.7h0M154.7 248.5h0M154.9 247.8h0M155.1 247.3h0M155.2 249.5h0M155.4 248.2h0M155.5 247.5h0M155.7 247.6h0M155.8 248.8h0M156 249.6h0M156.2 248h0M156.3 247.9h0M156.5 248.2h0M156.6 247.8h0M156.8 248.1h0M156.9 248.7h0M157.1 247.9h0M157.3 249.2h0M157.4 247.4h0M157.6 248.6h0M157.7 248.5h0M157.9 248.2h0M158 248.2h0M158.2 248.4h0M158.4 249.9h0M158.5 248h0M158.7 249.5h0M158.8 249.2h0M159 248.2h0M159.2 249.7h0M159.3 246.9h0M159.5 248.7h0M159.6 248.7h0M159.8 248.8h0M159.9 249.7h0M160.1 248.8h0M160.3 248.8h0M160.4 250h0M160.6 248.9h0M160.7 248.1h0M160.9 248.8h0M161 248.5h0M161.2 248.1h0M161.4 248.8h0M161.5 247.7h0M161.7 247.5h0M161.8 247.6h0M162 247.4h0M162.1 247.7h0M162.3 246.4h0M162.5 248.6h0M162.6 247.9h0M162.8 248h0M162.9 247.7h0M163.1 245.7h0M163.2 248.2h0M163.4 246.4h0M163.6 247.6h0M163.7 246.9h0M163.9 248.3h0M164 247.3h0M164.2 247.6h0M164.3 249.2h0M164.5 248.7h0M164.7 246.6h0M164.8 247.1h0M165 248.2h0M165.1 247.5h0M165.3 248.7h0M165.4 247.8h0M165.6 246.7h0M165.8 247.6h0M165.9 247.6h0M166.1 248.1h0M166.2 248h0M166.4 248.1h0M166.5 247.6h0M166.7 247.7h0M166.9 247.9h0M167 247.3h0M167.2 247.2h0M167.3 247.1h0M167.5 247.9h0M167.7 248.5h0M167.8 248.9h0M168 246.7h0M168.1 248.8h0M168.3 247.5h0M168.4 248.2h0M168.6 249h0M168.8 247.6h0M168.9 248h0M169.1 248.3h0M169.2 250.1h0M169.4 249.7h0M169.5 248.1h0M169.7 248.9h0M169.9 248.8h0M170 249.3h0M170.2 248.4h0M170.3 249.9h0M170.5 248.1h0M170.6 249.1h0M170.8 246.7h0M171 248.3h0M171.1 248.2h0M171.3 249.2h0M171.4 245.9h0M171.6 247.9h0M171.7 248.2h0M171.9 247.5h0M172.1 248.7h0M172.2 249.3h0M172.4 248.4h0M172.5 248.4h0M172.7 249h0M172.8 248.4h0M173 248.9h0M173.2 248.5h0M173.3 247.6h0M173.5 247.6h0M173.6 249.7h0M173.8 249.1h0M173.9 248.3h0M174.1 248.5h0M174.3 249.8h0M174.4 247.6h0M174.6 248.6h0M174.7 249.9h0M174.9 250h0M175 248.8h0M175.2 249h0M175.4 249.7h0M175.5 250.5h0M175.7 249.3h0M175.8 247.1h0M176 250.1h0M176.2 249.1h0M176.3 248.3h0M176.5 247.6h0M176.6 249.4h0M176.8 248.3h0M176.9 248h0M177.1 248.4h0M177.3 248.8h0M177.4 248.7h0M177.6 249.2h0M177.7 247.4h0M177.9 248.2h0M178 247.6h0M178.2 249.3h0M178.4 247.9h0M178.5 246.9h0M178.7 248.6h0M178.8 248h0M179 247.8h0M179.1 247.6h0M179.3 247.1h0M179.5 246.6h0M179.6 249.3h0M179.8 247.6h0M179.9 247h0M180.1 248.2h0M180.2 248.5h0M180.4 246.2h0M180.6 247.1h0M180.7 247.6h0M180.9 246.5h0M181 247.8h0M181.2 246.6h0M181.3 247.2h0M181.5 247.5h0M181.7 247.8h0M181.8 247.9h0M182 247.3h0M182.1 247.3h0M182.3 246.1h0M182.4 249.1h0M182.6 247.4h0M182.8 247.5h0M182.9 247.6h0M183.1 247.5h0M183.2 247.5h0M183.4 246.9h0M183.5 246.1h0M183.7 247.2h0M183.9 246.6h0M184 247.1h0M184.2 247.3h0M184.3 247.7h0M184.5 248.1h0M184.6 247h0M184.8 245.9h0M185 247.8h0M185.1 248h0M185.3 246.4h0M185.4 248.4h0M185.6 247.9h0M185.8 247.7h0M185.9 248.2h0M186.1 248.5h0M186.2 248.8h0M186.4 249.4h0M186.5 248.5h0M186.7 248.2h0M186.9 250.2h0M187 247.6h0M187.2 248h0M187.3 247.6h0M187.5 248.3h0M187.6 248.5h0M187.8 246.8h0M188 248.5h0M188.1 246.4h0M188.3 249.3h0M188.4 247h0M188.6 248.7h0M188.7 247.8h0M188.9 248.3h0M189.1 247.5h0M189.2 248.7h0M189.4 248.5h0M189.5 248.3h0M189.7 248.8h0M189.8 248.5h0M190 248.8h0M190.2 248.1h0M190.3 249.1h0M190.5 248.8h0M190.6 249.4h0M190.8 249.2h0M190.9 248.2h0M191.1 248.5h0M191.3 249.1h0M191.4 248.3h0M191.6 247.4h0M191.7 249.9h0M191.9 248.2h0M192 248.2h0M192.2 249.3h0M192.4 246.6h0M192.5 247.7h0M192.7 246.1h0M192.8 247.8h0M193 248h0M193.1 247.3h0M193.3 247.2h0M193.5 247.9h0M193.6 247.8h0M193.8 249.4h0M193.9 248.1h0M194.1 248.1h0M194.3 248.1h0M194.4 247.1h0M194.6 247.9h0M194.7 247.4h0M194.9 248.6h0M195 247h0M195.2 247.9h0M195.4 248.5h0M195.5 246.4h0M195.7 246.8h0M195.8 248.8h0M196 246.9h0M196.1 248.3h0M196.3 248.6h0M196.5 247.7h0M196.6 247.1h0M196.8 249.3h0M196.9 247.8h0M197.1 248.3h0M197.2 247.3h0M197.4 248.3h0M197.6 247.1h0M197.7 246.9h0M197.9 247.1h0M198 247.1h0M198.2 246.9h0M198.3 246.6h0M198.5 247.3h0M198.7 246.9h0M198.8 247.8h0M199 246.8h0M199.1 248.1h0M199.3 248.4h0M199.4 248.8h0M199.6 246.1h0M199.8 249.1h0M199.9 246.4h0M200.1 248.7h0M200.2 248.2h0M200.4 248.3h0M200.5 247.6h0M200.7 248.9h0M200.9 248.7h0M201 247.8h0M201.2 247.9h0M201.3 249h0M201.5 248.9h0M201.6 248.9h0M201.8 248.1h0M202 248.2h0M202.1 248.7h0M202.3 248.5h0M202.4 248h0M202.6 247.5h0M202.8 246.7h0M202.9 247.5h0M203.1 247.9h0M203.2 247.1h0M203.4 248h0M203.5 246.8h0M203.7 248h0M203.9 247.9h0M204 249.7h0M204.2 249.3h0M204.3 248.9h0M204.5 247.6h0M204.6 247.7h0M204.8 249.5h0M205 248.4h0M205.1 248.7h0M205.3 247.2h0M205.4 247.4h0M205.6 248.2h0M205.7 247.9h0M205.9 247.4h0M206.1 248h0M206.2 249.1h0M206.4 248h0M206.5 248.8h0M206.7 249.1h0M206.8 248.2h0M207 248h0M207.2 247.5h0M207.3 248.8h0M207.5 247.2h0M207.6 247.2h0M207.8 248.3h0M207.9 247h0M208.1 248.9h0M208.3 247.7h0M208.4 248.4h0M208.6 247.9h0M208.7 247.8h0M208.9 248.3h0M209 246.9h0M209.2 247.5h0M209.4 247.9h0M209.5 250.1h0M209.7 248.8h0M209.8 248.5h0M210 247.6h0M210.1 249.2h0M210.3 249.9h0M210.5 249.5h0M210.6 250.6h0M210.8 248h0M210.9 248.3h0M211.1 249.1h0M211.2 248.3h0M211.4 248.9h0M211.6 249h0M211.7 248.8h0M211.9 248.6h0M212 248.8h0M212.2 249h0M212.4 248.2h0M212.5 247.8h0M212.7 249.4h0M212.8 248.4h0M213 247.9h0M213.1 248.9h0M213.3 248.6h0M213.5 249.1h0M213.6 248.8h0M213.8 249.3h0M213.9 249.7h0M214.1 248.4h0M214.2 247.7h0M214.4 249.7h0M214.6 247.6h0M214.7 246.6h0M214.9 246.3h0M215 247.7h0M215.2 247.3h0M215.3 246.3h0M215.5 247h0M215.7 246.9h0M215.8 248.5h0M216 247.8h0M216.1 247.9h0M216.3 247.2h0M216.4 248.5h0M216.6 248.9h0M216.8 248.4h0M216.9 249.2h0M217.1 248.6h0M217.2 249.4h0M217.4 249.1h0M217.5 248.2h0M217.7 249.5h0M217.9 248.7h0M218 249.1h0M218.2 247.6h0M218.3 247.1h0M218.5 248.1h0M218.6 248h0M218.8 248.9h0M219 248.1h0M219.1 248.4h0M219.3 247.8h0M219.4 246.6h0M219.6 247.9h0M219.7 246.8h0M219.9 246.5h0M220.1 247.2h0M220.2 247.6h0M220.4 248.2h0M220.5 249.2h0M220.7 247.8h0M220.9 248.6h0M221 247.7h0M221.2 248.3h0M221.3 247.5h0M221.5 247.8h0M221.6 249.1h0M221.8 248.6h0M222 248.3h0M222.1 247.1h0M222.3 249.1h0M222.4 247.9h0M222.6 247.4h0M222.7 248.3h0M222.9 248.6h0M223.1 248.9h0M223.2 249.7h0M223.4 247.8h0M223.5 248.2h0M223.7 249.7h0M223.8 250.6h0M224 248.6h0M224.2 248.8h0M224.3 247.7h0M224.5 248.6h0M224.6 248.2h0M224.8 248.9h0M224.9 247.9h0M225.1 249.5h0M225.3 248.3h0M225.4 248.5h0M225.6 249.3h0M225.7 248.3h0M225.9 247.5h0M226 248.8h0M226.2 250.4h0M226.4 248.7h0M226.5 249.2h0M226.7 248.7h0M226.8 248.9h0M227 249.5h0M227.1 247.5h0M227.3 248.2h0M227.5 248.8h0M227.6 249.4h0M227.8 250.6h0M227.9 250.6h0M228.1 249.9h0M228.2 249.7h0M228.4 249.7h0M228.6 250.3h0M228.7 248.6h0M228.9 248.8h0M229 249.1h0M229.2 249.5h0M229.4 247.7h0M229.5 249.4h0M229.7 247.6h0M229.8 249.4h0M230 249.5h0M230.1 246.8h0M230.3 248.9h0M230.5 248.7h0M230.6 247.8h0M230.8 248.8h0M230.9 249.7h0M231.1 248.3h0M231.2 246.9h0M231.4 246.7h0M231.6 247h0M231.7 247.2h0M231.9 248.7h0M232 248.4h0M232.2 248.3h0M232.3 249h0M232.5 248.5h0M232.7 248.6h0M232.8 247.6h0M233 247.9h0M233.1 248.8h0M233.3 247.8h0M233.4 250h0M233.6 248.5h0M233.8 247.9h0M233.9 249.2h0M234.1 247.8h0M234.2 249.6h0M234.4 248.4h0M234.5 249.5h0M234.7 247.8h0M234.9 247.8h0M235 247.2h0M235.2 246.6h0M235.3 247.8h0M235.5 247.1h0M235.6 248.1h0M235.8 247.2h0M236 248.3h0M236.1 245.7h0M236.3 247.9h0M236.4 247.8h0M236.6 247.6h0M236.7 247h0M236.9 248.7h0M237.1 247.2h0M237.2 248.1h0M237.4 247.6h0M237.5 247.5h0M237.7 247.7h0M237.9 247.8h0M238 246.4h0M238.2 247h0M238.3 246.3h0M238.5 248h0M238.6 247.5h0M238.8 247.8h0M239 248.7h0M239.1 248h0M239.3 248.1h0M239.4 247.9h0M239.6 248.4h0M239.7 248.7h0M239.9 247.7h0M240.1 248.7h0M240.2 248.3h0M240.4 248.5h0M240.5 248.7h0M240.7 248h0M240.8 247.9h0M241 249.8h0M241.2 250.6h0M241.3 249.2h0M241.5 250.3h0M241.6 249.4h0M241.8 248.7h0M241.9 248.3h0M242.1 249h0M242.3 248.5h0M242.4 248.6h0M242.6 248.6h0M242.7 247.7h0M242.9 249h0M243 247.4h0M243.2 247h0M243.4 248.5h0M243.5 248.6h0M243.7 249h0M243.8 248.3h0M244 247.6h0M244.1 248.8h0M244.3 247.8h0M244.5 248.2h0M244.6 247.9h0M244.8 248.9h0M244.9 246.6h0M245.1 249.1h0M245.2 247.6h0M245.4 249.5h0M245.6 247.5h0M245.7 249.2h0M245.9 250.3h0M246 248.3h0M246.2 247.2h0M246.3 249.2h0M246.5 247h0M246.7 246.4h0M246.8 248.2h0M247 245.7h0M247.1 246h0M247.3 246.7h0M247.5 247.4h0M247.6 246.3h0M247.8 248.6h0M247.9 249.1h0M248.1 248.7h0M248.2 248.8h0M248.4 248.2h0M248.6 249.5h0M248.7 248.5h0M248.9 249.5h0M249 249.7h0M249.2 248.8h0M249.3 247.1h0M249.5 248.1h0M249.7 249.6h0M249.8 248.7h0M250 249.3h0M250.1 246.1h0M250.3 247.5h0M250.4 247.7h0M250.6 246.7h0M250.8 247.4h0M250.9 248.4h0M251.1 247.7h0M251.2 246.7h0M251.4 247.5h0M251.5 248.2h0M251.7 246.2h0M251.9 247.5h0M252 248.3h0M252.2 247h0M252.3 248.5h0M252.5 247.5h0M252.6 248.4h0M252.8 248.1h0M253 247.8h0M253.1 247.5h0M253.3 246.9h0M253.4 247.4h0M253.6 248h0M253.7 248.9h0M253.9 247.8h0M254.1 248.1h0M254.2 248.9h0M254.4 248h0M254.5 248.2h0M254.7 249.2h0M254.8 247.8h0M255 247.9h0M255.2 248.4h0M255.3 247.6h0M255.5 246.6h0M255.6 246.1h0M255.8 246.8h0M256 248.1h0M256.1 248.2h0M256.3 248.8h0M256.4 248.1h0M256.6 246.8h0M256.7 246.3h0M256.9 247h0M257.1 247.2h0M257.2 247h0M257.4 248.2h0M257.5 247.2h0M257.7 248.3h0M257.8 248.1h0M258 246.2h0M258.2 246.9h0M258.3 248.4h0M258.5 248.3h0M258.6 247.8h0M258.8 246.8h0M258.9 247h0M259.1 247.4h0M259.3 248.6h0M259.4 247.8h0M259.6 247.4h0M259.7 247.7h0M259.9 247.8h0M260 246.1h0M260.2 246.6h0M260.4 247.4h0M260.5 248.2h0M260.7 248.4h0M260.8 247.3h0M261 248.4h0M261.1 247.6h0M261.3 248h0M261.5 248.8h0M261.6 248.3h0M261.8 248.4h0M261.9 248h0M262.1 247.8h0M262.2 248.7h0M262.4 249.3h0M262.6 249.3h0M262.7 248h0M262.9 248h0M263 249.7h0M263.2 248.8h0M263.3 249.2h0M263.5 248.5h0M263.7 248.4h0M263.8 247.9h0M264 249.6h0M264.1 248h0M264.3 247.5h0M264.5 248.4h0M264.6 249.9h0M264.8 248.7h0M264.9 248.7h0M265.1 248.9h0M265.2 248.5h0M265.4 248.1h0M265.6 247.1h0M265.7 249.5h0M265.9 247.6h0M266 248.4h0M266.2 246.1h0M266.3 248h0M266.5 246.8h0M266.7 246.7h0M266.8 247.8h0M267 248.2h0M267.1 248.6h0M267.3 248.5h0M267.4 247.3h0M267.6 248h0M267.8 247.3h0M267.9 247.6h0M268.1 247.9h0M268.2 247.3h0M268.4 248h0M268.5 246.2h0M268.7 248.6h0M268.9 247.4h0M269 249h0M269.2 248.8h0M269.3 247h0M269.5 248.4h0M269.6 249h0M269.8 247.9h0M270 248.2h0M270.1 248.5h0M270.3 249.4h0M270.4 249.3h0M270.6 248.4h0M270.7 249.2h0M270.9 250h0M271.1 249.7h0M271.2 248.4h0M271.4 248h0M271.5 248.3h0M271.7 248.6h0M271.8 248.6h0M272 248.1h0M272.2 247.5h0M272.3 249.7h0M272.5 248.5h0M272.6 250.3h0M272.8 247.7h0M272.9 248.2h0M273.1 248.4h0M273.3 250.5h0M273.4 250.1h0M273.6 248.8h0M273.7 247.8h0M273.9 250.2h0M274.1 249.4h0M274.2 248.2h0M274.4 247.6h0M274.5 249.1h0M274.7 248.5h0M274.8 248.6h0M275 248.3h0M275.2 247.5h0M275.3 248.1h0M275.5 249.1h0M275.6 248.1h0M275.8 247.8h0M275.9 248.9h0M276.1 246.8h0M276.3 249.4h0M276.4 248.5h0M276.6 248h0M276.7 248.6h0M276.9 249.7h0M277 249.3h0M277.2 247.1h0M277.4 247.6h0M277.5 248.4h0M277.7 249.5h0M277.8 248.2h0M278 247.4h0M278.1 247.9h0M278.3 247.6h0M278.5 246.8h0M278.6 247.2h0M278.8 245.7h0M278.9 247.3h0M279.1 247.2h0M279.2 246.3h0M279.4 245.9h0M279.6 245.7h0M279.7 247.1h0M279.9 247.2h0M280 247.3h0M280.2 248.5h0M280.3 245.9h0M280.5 246.9h0M280.7 246.8h0M280.8 248.6h0M281 247.6h0M281.1 246.9h0M281.3 248h0M281.4 248h0M281.6 248.9h0M281.8 247.6h0M281.9 246.8h0M282.1 246.5h0M282.2 246.2h0M282.4 247.8h0M282.6 248.3h0M282.7 247.6h0M282.9 247.7h0M283 249.2h0M283.2 248.4h0M283.3 248.8h0M283.5 247.8h0M283.7 248.2h0M283.8 247h0M284 247.6h0M284.1 249.1h0M284.3 249.5h0M284.4 248.3h0M284.6 247.3h0M284.8 248.3h0M284.9 248.9h0M285.1 247.7h0M285.2 248.6h0M285.4 247.6h0M285.5 247.1h0M285.7 247.6h0M285.9 248.2h0M286 249.8h0M286.2 248.2h0M286.3 247.6h0M286.5 247.7h0M286.6 247.6h0M286.8 247.1h0M287 247.5h0M287.1 247.2h0M287.3 248.3h0M287.4 248.4h0M287.6 248.3h0M287.7 247.1h0M287.9 247.8h0M288.1 247h0M288.2 246.9h0M288.4 248.1h0M288.5 248.4h0M288.7 248.3h0M288.8 248.9h0M289 248.9h0M289.2 248.8h0M289.3 248.3h0M289.5 247.4h0M289.6 250h0M289.8 248.1h0M289.9 249h0M290.1 248.7h0M290.3 248.4h0M290.4 250.2h0M290.6 248.9h0M290.7 248.5h0M290.9 248h0M291.1 247.4h0M291.2 247.1h0M291.4 248.2h0M291.5 246.8h0M291.7 246.9h0M291.8 247.9h0M292 247.2h0M292.2 247.9h0M292.3 246.5h0M292.5 246.5h0M292.6 247.7h0M292.8 246.6h0M292.9 247.4h0M293.1 247.5h0M293.3 247.5h0M293.4 246.8h0M293.6 247.1h0M293.7 247.3h0M293.9 247.2h0M294 248.7h0M294.2 247.7h0M294.4 247.6h0M294.5 247.8h0M294.7 248.4h0M294.8 247.6h0M295 249.4h0M295.1 249.3h0M295.3 248.3h0M295.5 249.4h0M295.6 247.6h0M295.8 248h0M295.9 248.1h0M296.1 248.4h0M296.2 249.3h0M296.4 248.2h0M296.6 247.7h0M296.7 248.4h0M296.9 248.5h0M297 249h0M297.2 248.1h0M297.3 248.4h0M297.5 247.7h0M297.7 249h0M297.8 248.3h0M298 248.3h0M298.1 249.2h0M298.3 247.9h0M298.4 248.3h0M298.6 248.9h0M298.8 248.1h0M298.9 248.7h0M299.1 247.5h0M299.2 248.7h0M299.4 246.7h0M299.6 246.5h0M299.7 247.4h0M299.9 248.7h0M300 249.1h0M300.2 247h0M300.3 247.7h0M300.5 247.2h0M300.7 245.7h0M300.8 248.2h0M301 247.8h0M301.1 249.6h0M301.3 248.8h0M301.4 248.2h0M301.6 248.1h0M301.8 248.4h0M301.9 249.1h0M302.1 248.8h0M302.2 250.6h0M302.4 249.3h0M302.5 248.3h0M302.7 249.1h0M302.9 249.6h0M303 248.8h0M303.2 248.3h0M303.3 248.2h0M303.5 248h0M303.6 247.6h0M303.8 247.7h0" stroke="#00ff00" stroke-width="2.8" stroke-linecap="round" fill="none" />
</g>
<rect x="83.6" y="238.5" width="220.2" height="19.3" fill="none" stroke="#5c5c5c" stroke-width="0.85"/>
<text x="79.8" y="241.9" font-size="9.1" text-anchor="end" font-weight="normal">0.05</text>
<text x="79.8" y="251.6" font-size="9.1" text-anchor="end" font-weight="normal">0</text>
<text x="79.8" y="261.2" font-size="9.1" text-anchor="end" font-weight="normal">-0.05</text>
<text x="83.6" y="270.6" font-size="9.1" text-anchor="middle" font-weight="normal">0</text>
<line x1="83.6" y1="257.8" x2="83.6" y2="255.6" stroke="#5c5c5c" stroke-width="0.85"/>
<line x1="83.6" y1="238.5" x2="83.6" y2="240.7" stroke="#5c5c5c" stroke-width="0.85"/>
<text x="127.6" y="270.6" font-size="9.1" text-anchor="middle" font-weight="normal">576</text>
<line x1="127.6" y1="257.8" x2="127.6" y2="255.6" stroke="#5c5c5c" stroke-width="0.85"/>
<line x1="127.6" y1="238.5" x2="127.6" y2="240.7" stroke="#5c5c5c" stroke-width="0.85"/>
<text x="171.7" y="270.6" font-size="9.1" text-anchor="middle" font-weight="normal">1152</text>
<line x1="171.7" y1="257.8" x2="171.7" y2="255.6" stroke="#5c5c5c" stroke-width="0.85"/>
<line x1="171.7" y1="238.5" x2="171.7" y2="240.7" stroke="#5c5c5c" stroke-width="0.85"/>
<text x="215.7" y="270.6" font-size="9.1" text-anchor="middle" font-weight="normal">1728</text>
<line x1="215.7" y1="257.8" x2="215.7" y2="255.6" stroke="#5c5c5c" stroke-width="0.85"/>
<line x1="215.7" y1="238.5" x2="215.7" y2="240.7" stroke="#5c5c5c" stroke-width="0.85"/>
<text x="259.8" y="270.6" font-size="9.1" text-anchor="middle" font-weight="normal">2304</text>
<line x1="259.8" y1="257.8" x2="259.8" y2="255.6" stroke="#5c5c5c" stroke-width="0.85"/>
<line x1="259.8" y1="238.5" x2="259.8" y2="240.7" stroke="#5c5c5c" stroke-width="0.85"/>
<text x="303.8" y="270.6" font-size="9.1" text-anchor="middle" font-weight="normal">2880</text>
<line x1="303.8" y1="257.8" x2="303.8" y2="255.6" stroke="#5c5c5c" stroke-width="0.85"/>
<line x1="303.8" y1="238.5" x2="303.8" y2="240.7" stroke="#5c5c5c" stroke-width="0.85"/>
<rect x="39.5" y="310.4" width="248" height="24.6" fill="#fff"/>
<line x1="89.5" y1="310.4" x2="89.5" y2="335" stroke="#e4e4e4" stroke-width="1"/>
<line x1="138.5" y1="310.4" x2="138.5" y2="335" stroke="#e4e4e4" stroke-width="1"/>
<line x1="188.5" y1="310.4" x2="188.5" y2="335" stroke="#e4e4e4" stroke-width="1"/>
<line x1="237.5" y1="310.4" x2="237.5" y2="335" stroke="#e4e4e4" stroke-width="1"/>
<line x1="39.5" y1="322.5" x2="287.5" y2="322.5" stroke="#e4e4e4" stroke-width="1"/>
<rect x="39.5" y="310.4" width="248" height="24.6" fill="none" stroke="#5c5c5c" stroke-width="0.85"/>
<text x="35.5" y="314.6" font-size="10.6" text-anchor="end" font-weight="normal">0.3</text>
<line x1="39.5" y1="310.4" x2="41.9" y2="310.4" stroke="#5c5c5c" stroke-width="0.85"/>
<line x1="287.5" y1="310.4" x2="285.1" y2="310.4" stroke="#5c5c5c" stroke-width="0.85"/>
<text x="35.5" y="326.9" font-size="10.6" text-anchor="end" font-weight="normal">0.15</text>
<line x1="39.5" y1="322.7" x2="41.9" y2="322.7" stroke="#5c5c5c" stroke-width="0.85"/>
<line x1="287.5" y1="322.7" x2="285.1" y2="322.7" stroke="#5c5c5c" stroke-width="0.85"/>
<text x="35.5" y="339.2" font-size="10.6" text-anchor="end" font-weight="normal">0</text>
<line x1="39.5" y1="335" x2="41.9" y2="335" stroke="#5c5c5c" stroke-width="0.85"/>
<line x1="287.5" y1="335" x2="285.1" y2="335" stroke="#5c5c5c" stroke-width="0.85"/>
<text x="39.5" y="350.7" font-size="10.6" text-anchor="middle" font-weight="normal">0</text>
<line x1="39.5" y1="335" x2="39.5" y2="332.6" stroke="#5c5c5c" stroke-width="0.85"/>
<line x1="39.5" y1="310.4" x2="39.5" y2="312.8" stroke="#5c5c5c" stroke-width="0.85"/>
<text x="89.1" y="350.7" font-size="10.6" text-anchor="middle" font-weight="normal">576</text>
<line x1="89.1" y1="335" x2="89.1" y2="332.6" stroke="#5c5c5c" stroke-width="0.85"/>
<line x1="89.1" y1="310.4" x2="89.1" y2="312.8" stroke="#5c5c5c" stroke-width="0.85"/>
<text x="138.7" y="350.7" font-size="10.6" text-anchor="middle" font-weight="normal">1152</text>
<line x1="138.7" y1="335" x2="138.7" y2="332.6" stroke="#5c5c5c" stroke-width="0.85"/>
<line x1="138.7" y1="310.4" x2="138.7" y2="312.8" stroke="#5c5c5c" stroke-width="0.85"/>
<text x="188.3" y="350.7" font-size="10.6" text-anchor="middle" font-weight="normal">1728</text>
<line x1="188.3" y1="335" x2="188.3" y2="332.6" stroke="#5c5c5c" stroke-width="0.85"/>
<line x1="188.3" y1="310.4" x2="188.3" y2="312.8" stroke="#5c5c5c" stroke-width="0.85"/>
<text x="237.9" y="350.7" font-size="10.6" text-anchor="middle" font-weight="normal">2304</text>
<line x1="237.9" y1="335" x2="237.9" y2="332.6" stroke="#5c5c5c" stroke-width="0.85"/>
<line x1="237.9" y1="310.4" x2="237.9" y2="312.8" stroke="#5c5c5c" stroke-width="0.85"/>
<text x="287.5" y="350.7" font-size="10.6" text-anchor="middle" font-weight="normal">2880</text>
<line x1="287.5" y1="335" x2="287.5" y2="332.6" stroke="#5c5c5c" stroke-width="0.85"/>
<line x1="287.5" y1="310.4" x2="287.5" y2="312.8" stroke="#5c5c5c" stroke-width="0.85"/>
<text x="9.7" y="322.4" font-size="11.6" text-anchor="middle" font-weight="normal" transform="rotate(-90 9.7 322.4)">[cycle]</text>
<text x="163.5" y="364.8" font-size="11.7" text-anchor="middle" font-weight="normal">Epoch number</text>
<polyline points="39.9,310.8 41.4,311.2 42.2,314.8 42.8,317.3 49.1,317.3 49.5,312.4 52.3,312.4 52.7,316.8 55.6,318.3 59.6,319.1 60.5,320.5 62.5,320.5 62.9,318.7 64.5,319.7 65.5,318.7 71.4,319.1 73,318.1 73.4,314.4 75.5,314.4 75.9,318.7 77.3,320.3 78.3,319.1 79.7,319.7 80.3,321.7 82.2,323.3 85.2,324.6 89.7,325.2 91.1,326.2 92.1,325 93.1,325.6 100.9,326.2 108.8,327 118.7,327.2 126.6,326.8 130.5,325.8 134.5,326.2 138.4,327 146.3,327.2 150.2,326.2 154.2,325 158.1,325.6 163,325 167.9,324 174.8,322.7 175.8,322.1 176.8,322.9 179.7,322.3 185.6,321.7 187.2,320.7 188.2,314.8 191.5,314.4 197.4,314.4 199.4,313.8 200,316.8 201.8,317.3 202.4,319.7 203.8,319.7 204.3,317.3 205.3,319.7 207.3,319.7 208.3,317.7 210.8,317.7 211.2,314.4 213.2,314.4 213.6,318.7 218.1,319.1 220.1,321.1 222.7,321.1 223.1,318.1 227,318.1 227.6,314.4 231.3,314.2 231.9,317.7 232.9,314.4 234.9,314.4 235.9,317.7 236.9,319.7 238.8,321.7 242.8,322.3 244.7,323.3 246.7,322.7 247.7,319.3 250.3,319.3 250.7,321.1 254.6,321.1 255.6,318.7 258,318.7 258.3,314.4 258.7,318.7 262.5,318.3 267.4,317.3 269,315.8 269.8,319.7 271.4,320.7 272.3,318.7 274.3,318.7 275.3,316.8 277.7,316.8 278.2,312.4 281.2,311.8 284.2,310.4 286.1,310.8 287.7,310.4" fill="none" stroke="#ff00ff" stroke-width="1.2" stroke-linejoin="round"/>
<rect x="441.3" y="14.5" width="191.7" height="191.4" fill="#fff"/>
<line x1="473.5" y1="14.5" x2="473.5" y2="205.9" stroke="#e4e4e4" stroke-width="1"/>
<line x1="441.3" y1="46.5" x2="633" y2="46.5" stroke="#e4e4e4" stroke-width="1"/>
<line x1="505.5" y1="14.5" x2="505.5" y2="205.9" stroke="#e4e4e4" stroke-width="1"/>
<line x1="441.3" y1="78.5" x2="633" y2="78.5" stroke="#e4e4e4" stroke-width="1"/>
<line x1="537.5" y1="14.5" x2="537.5" y2="205.9" stroke="#e4e4e4" stroke-width="1"/>
<line x1="441.3" y1="110.5" x2="633" y2="110.5" stroke="#e4e4e4" stroke-width="1"/>
<line x1="569.5" y1="14.5" x2="569.5" y2="205.9" stroke="#e4e4e4" stroke-width="1"/>
<line x1="441.3" y1="142.5" x2="633" y2="142.5" stroke="#e4e4e4" stroke-width="1"/>
<line x1="601.5" y1="14.5" x2="601.5" y2="205.9" stroke="#e4e4e4" stroke-width="1"/>
<line x1="441.3" y1="174.5" x2="633" y2="174.5" stroke="#e4e4e4" stroke-width="1"/>
<rect x="441.3" y="14.5" width="191.7" height="191.4" fill="none" stroke="#5c5c5c" stroke-width="0.85"/>
<text x="441.3" y="221.7" font-size="10.6" text-anchor="middle" font-weight="normal">-3</text>
<text x="437.3" y="18.5" font-size="10.6" text-anchor="end" font-weight="normal">3</text>
<line x1="473.2" y1="205.9" x2="473.2" y2="203.9" stroke="#5c5c5c" stroke-width="0.85"/>
<line x1="473.2" y1="14.5" x2="473.2" y2="16.5" stroke="#5c5c5c" stroke-width="0.85"/>
<line x1="441.3" y1="46.5" x2="443.3" y2="46.5" stroke="#5c5c5c" stroke-width="0.85"/>
<line x1="633" y1="46.5" x2="631" y2="46.5" stroke="#5c5c5c" stroke-width="0.85"/>
<text x="473.2" y="221.7" font-size="10.6" text-anchor="middle" font-weight="normal">-2</text>
<text x="437.3" y="50.5" font-size="10.6" text-anchor="end" font-weight="normal">2</text>
<line x1="505.2" y1="205.9" x2="505.2" y2="203.9" stroke="#5c5c5c" stroke-width="0.85"/>
<line x1="505.2" y1="14.5" x2="505.2" y2="16.5" stroke="#5c5c5c" stroke-width="0.85"/>
<line x1="441.3" y1="78.4" x2="443.3" y2="78.4" stroke="#5c5c5c" stroke-width="0.85"/>
<line x1="633" y1="78.4" x2="631" y2="78.4" stroke="#5c5c5c" stroke-width="0.85"/>
<text x="505.2" y="221.7" font-size="10.6" text-anchor="middle" font-weight="normal">-1</text>
<text x="437.3" y="82.4" font-size="10.6" text-anchor="end" font-weight="normal">1</text>
<line x1="537.1" y1="205.9" x2="537.1" y2="203.9" stroke="#5c5c5c" stroke-width="0.85"/>
<line x1="537.1" y1="14.5" x2="537.1" y2="16.5" stroke="#5c5c5c" stroke-width="0.85"/>
<line x1="441.3" y1="110.3" x2="443.3" y2="110.3" stroke="#5c5c5c" stroke-width="0.85"/>
<line x1="633" y1="110.3" x2="631" y2="110.3" stroke="#5c5c5c" stroke-width="0.85"/>
<text x="537.1" y="221.7" font-size="10.6" text-anchor="middle" font-weight="normal">0</text>
<text x="437.3" y="114.3" font-size="10.6" text-anchor="end" font-weight="normal">0</text>
<line x1="569.1" y1="205.9" x2="569.1" y2="203.9" stroke="#5c5c5c" stroke-width="0.85"/>
<line x1="569.1" y1="14.5" x2="569.1" y2="16.5" stroke="#5c5c5c" stroke-width="0.85"/>
<line x1="441.3" y1="142.3" x2="443.3" y2="142.3" stroke="#5c5c5c" stroke-width="0.85"/>
<line x1="633" y1="142.3" x2="631" y2="142.3" stroke="#5c5c5c" stroke-width="0.85"/>
<text x="569.1" y="221.7" font-size="10.6" text-anchor="middle" font-weight="normal">1</text>
<text x="437.3" y="146.3" font-size="10.6" text-anchor="end" font-weight="normal">-1</text>
<line x1="601" y1="205.9" x2="601" y2="203.9" stroke="#5c5c5c" stroke-width="0.85"/>
<line x1="601" y1="14.5" x2="601" y2="16.5" stroke="#5c5c5c" stroke-width="0.85"/>
<line x1="441.3" y1="174.2" x2="443.3" y2="174.2" stroke="#5c5c5c" stroke-width="0.85"/>
<line x1="633" y1="174.2" x2="631" y2="174.2" stroke="#5c5c5c" stroke-width="0.85"/>
<text x="601" y="221.7" font-size="10.6" text-anchor="middle" font-weight="normal">2</text>
<text x="437.3" y="178.2" font-size="10.6" text-anchor="end" font-weight="normal">-2</text>
<text x="633" y="221.7" font-size="10.6" text-anchor="middle" font-weight="normal">3</text>
<text x="437.3" y="210.2" font-size="10.6" text-anchor="end" font-weight="normal">-3</text>
<text x="537.1" y="9.8" font-size="11.5" text-anchor="middle" font-weight="bold">L1 GPS + L1 GLONASS</text>
<text x="537.1" y="236" font-size="11.7" text-anchor="middle" font-weight="normal">East [m]</text>
<text x="422.3" y="111.4" font-size="11.7" text-anchor="middle" font-weight="normal" transform="rotate(-90 422.3 111.4)">North [m]</text>
<g clip-path="url(#c2)">
<path d="M539.9 131.8h0M539.6 114.4h0M537 104.6h0M545.8 91.9h0M551.5 92.3h0M547.9 115.2h0M533.4 114.8h0M518.6 116.4h0M539.8 108.4h0M508 101.1h0M545.9 123.1h0M545.3 113.1h0M525.5 117.8h0M544.9 120h0M531.5 117h0M552.3 89.8h0M530.3 90.8h0M529.6 94h0M531.5 130.3h0M541.2 107.4h0M527.4 83.2h0M563 106.2h0M534.6 119.2h0M557.5 104.1h0M535.5 114h0M535.2 115.7h0M531 108h0M530.4 105.5h0M543.4 113h0M551.6 111.2h0M539.8 122.9h0M529 111.5h0M540.9 102.7h0M530.1 109.9h0M509.7 113h0M540 127.7h0M519.8 97.9h0M531.8 124.5h0M539.2 103.1h0M534.3 115.2h0M535.8 101.6h0M555.3 98.8h0M548.9 114.6h0M555 146.2h0M540.9 134.7h0M541.1 122.3h0M557.7 121.7h0M531.9 107.6h0M542.2 87.9h0M540.1 103.2h0M541.8 112.5h0M545.1 95.2h0M539.9 113.1h0M547.4 100.9h0M529.5 106.6h0M544 133.4h0M527.4 99.7h0M550.2 90.4h0M549.2 114.9h0M536.4 102h0M533.1 104.9h0M538.3 114h0M544.5 115.2h0M522.3 99.3h0M527.8 118.3h0M548.6 117.1h0M536.2 101h0M524.7 100.1h0M514.6 92.7h0M533.7 117.6h0M519.6 126.3h0M539.8 98.2h0M537.6 128.7h0M558.2 115.6h0M525 113.4h0M545.3 90.9h0M525.6 110.5h0M527.3 124.8h0M536.2 111.1h0M529.3 95.4h0M557.9 131.7h0M537.8 126.1h0M530.3 98.9h0M563.2 109.4h0M529.8 122.6h0M534.3 113.2h0M536.1 110h0M530 124.1h0M544.8 117.4h0M551.1 93.9h0M524.4 107.1h0M533 97.8h0M534.2 111.2h0M523.2 117.3h0M524.1 107.2h0M534.2 121.4h0M528.5 106.5h0M541.5 114.3h0M546.9 114.2h0M540.1 113.9h0M541.2 121.8h0M528.3 94.9h0M531.7 128.3h0M542.3 108.2h0M544.2 125.4h0M537.2 100.3h0M543.9 113.3h0M535.4 108.6h0M525.6 105.3h0M541.4 106.6h0M533.6 108.6h0M519.9 106.5h0M547 106.8h0M542.2 116.1h0M545.8 114.2h0M533 113.6h0M553.9 119.1h0M543.2 117h0M548.5 95.5h0M531.1 127.4h0M534.7 91.2h0M551.7 116.8h0M537.8 103.6h0M538.3 110.7h0M553.9 112.9h0M550.4 104.3h0M540.5 91.1h0M558.4 112.1h0M522.3 111.1h0M537.4 117h0M532.2 87.3h0M553.8 97.2h0M554.9 97.8h0M533 110.4h0M539.7 132.6h0M548.1 105.2h0M543.7 131.3h0M541 118h0M548.7 99.6h0M558.8 117.4h0M539.5 118.6h0M526.5 135.3h0M537.1 102.5h0M537.8 106h0M534.2 116.4h0M545.6 106.6h0M546 129.3h0M547.8 121.5h0M543.3 108.5h0M541 100.6h0M527.4 111.1h0M534.6 124.9h0M529.1 116.4h0M541.6 97.9h0M537 117.6h0M537.8 107.9h0M543.8 105.8h0M535.2 117.1h0M549.5 110.5h0M549.3 131.4h0M528.3 117.4h0M552 110.4h0M534.7 103.5h0M530.6 95.8h0M534.9 116.3h0M524.9 105.4h0M541.8 112.3h0M550.9 119.8h0M522.3 119.8h0M542.7 111.5h0M544.4 110.7h0M545.2 119.4h0M545 79.3h0M542.8 111.1h0M533.4 103.2h0M547.6 113.9h0M541.7 78.8h0M546.6 136.5h0M541.5 114.9h0M535.5 108.7h0M537.8 97.1h0M544.6 111.5h0M549.2 122.2h0M518.2 92.8h0M524.8 103.2h0M521.1 113.8h0M532.7 113.8h0M531.2 113.8h0M540.3 109.1h0M535 130.5h0M552.2 109.3h0M531.8 117.9h0M530.8 105.3h0M529.6 107.1h0M535.1 123h0M539.9 95.4h0M533.1 102.2h0M528.5 121.3h0M523.9 123h0M540.1 118.8h0M532.4 107h0M527.9 96.4h0M535.3 121.3h0M541.7 119.8h0M559.6 105h0M555.2 111.5h0M528.8 111.6h0M533.4 112.3h0M517.7 114.6h0M517.6 90.9h0M518.8 99.8h0M547.7 114.7h0M536.5 96.6h0M522.7 89.3h0M531.1 105.5h0M532.8 107.4h0M531.2 116.6h0M553.5 109.6h0M517.9 108.4h0M533.3 96h0M540.7 121.8h0M543.1 129.6h0M515.3 116.7h0M540 106.7h0M524.9 133.9h0M532 113.3h0M521.4 120.2h0M546.2 123.8h0M570.8 109.4h0M548.7 97.7h0M535 126.6h0M519.7 108.4h0M547.2 112.9h0M550.7 103.6h0M526.6 110.9h0M548 118.2h0M519.3 100.9h0M524.7 106.1h0M539.6 122.8h0M523.5 133.9h0M546.1 119.2h0M553.1 108.8h0M538.8 102.2h0M543.3 117.6h0M555 115.5h0M543.6 131.8h0M552 116.3h0M553.3 109.8h0M527.3 117.8h0M561.3 112.3h0M550.7 122.3h0M540 121.5h0M547 108h0M541.7 128.9h0M540.8 111h0M528 97.6h0M534.2 117.7h0M535 116.8h0M549.9 120.7h0M543.5 126.1h0M542.8 117.9h0M537.3 125.8h0M551.8 113.8h0M512.8 117.6h0M529 124.2h0M548.5 111h0M534.2 100h0M545.3 102.4h0M555.2 114.6h0M546.9 111.7h0M523.1 123.4h0M536.2 114.3h0M526.5 104h0M543.5 102.8h0M549.4 96.2h0M536 128.7h0M543.9 93.7h0M536.5 107.2h0M558.7 93.9h0M540 111.5h0M541 97.6h0M544.5 111.8h0M549.7 123.6h0M545.9 108h0M538.3 117.3h0M539.2 112h0M543.9 105.6h0M544.8 102.8h0M534.7 104.2h0M532.6 100.6h0M536.2 129.3h0M543.5 98.4h0M533.9 121.1h0M527.3 110.6h0M535.1 116.3h0M533.5 124.8h0M545 101.5h0M533.3 123.2h0M534.4 117.9h0M558.3 95h0M543.3 137.3h0M529 130.8h0M551.2 100.8h0M534.8 116.3h0M530.2 102.7h0M545.4 111.8h0M523.9 117.1h0M538 103.6h0M544.5 119.6h0M546.5 117.9h0M533.2 109h0M533.4 124.1h0M537.8 128h0M551.4 130.5h0M519.9 100.9h0M547.3 89.6h0M541.8 98.1h0M553 118.9h0M527 117.5h0M550.7 122.9h0M529.6 111.6h0M541.8 99.7h0M534.6 112.4h0M513 111.8h0M538.1 148.5h0M542.8 108.1h0M547.7 125.3h0M532.1 114.4h0M526.5 107.4h0M546.1 110.2h0M535 103h0M549.7 94h0M553.6 137.5h0M536.3 129.2h0M536.9 92.6h0M531.2 105.9h0M517.5 119.6h0M538.7 114.4h0M546.3 111.3h0M549.8 99.3h0M538.5 115.1h0M558.1 111.4h0M533.3 126.6h0M538.5 94.5h0M533.1 106.1h0M534.1 116.7h0M535.9 126.6h0M531.6 111.5h0M534.4 101.2h0M541.7 84.8h0M539.9 89.2h0M527.8 115.5h0M544.1 116h0M530.2 122.4h0M543.6 105.9h0M539.5 119.8h0M518.7 104.5h0M527.9 107.4h0M548.7 106.3h0M532.1 122.3h0M531.9 97.8h0M534.3 113.3h0M540 125h0M544.8 111.5h0M535.7 109h0M556.5 110.3h0M532.8 100.1h0M533.9 97.1h0M536.9 84.8h0M540.6 112h0M554.1 97h0M563.5 140.8h0M535.3 89.3h0M537.1 111.2h0M545.5 96.3h0M537.6 113.6h0M547.9 104.7h0M527.7 103.7h0M547.8 117.9h0M515.9 117.5h0M544.4 144.2h0M545.9 104.4h0M565 112.7h0M529.3 113.5h0M546.1 96.8h0M545.7 106.8h0M528.9 108.2h0M541.5 132.7h0M529.9 109h0M526.5 114.2h0M522.9 99.5h0M536.5 116.6h0M527.7 125h0M516.9 113.5h0M541.8 89.5h0M520.7 120.9h0M546.1 96h0M541.3 112.8h0M530 134.2h0M522 103.7h0M529.1 83.6h0M524.5 105.6h0M534.7 123.1h0M534.8 113.3h0M564.9 121h0M516.5 77.7h0M532.4 104.4h0M544.6 138.2h0M549.6 101.3h0M552.9 105.6h0M528.3 122.6h0M547.2 117.9h0M508.1 111.6h0M536.3 90.9h0M547.8 116.9h0M546.2 119.6h0M523.7 99.7h0M529.8 118.2h0M515.7 122.9h0M530.7 112.4h0M524 101.3h0M541.6 109.1h0M530.5 115.1h0M545 94.2h0M537.4 94.7h0M535.1 129.3h0M557.5 124.2h0M551.1 121.5h0M524.5 113.3h0M553.4 108.9h0M546.8 111.7h0M552.8 110h0M543.4 105.6h0M519.4 125.7h0M534.6 136h0M512.6 107.4h0M523.6 96.4h0M531.1 108.6h0M552.2 115.6h0M539 104.3h0M540.9 114.5h0M546.5 125.8h0M528.9 115.2h0M550.4 101.9h0M541 107h0M528.3 102.9h0M532.4 116.5h0M536 104.3h0M545.1 94.2h0M553.9 114.5h0M535.3 116.4h0M536.2 96.5h0M557.9 109.5h0M572.9 124.2h0M558 115.5h0M540.7 95.5h0M534.7 106.5h0M545.9 89.2h0M541.9 103.3h0M530.1 107.7h0M553.2 98.5h0M565.9 117.7h0M529.5 98.3h0M530.1 111.6h0M533.1 113.5h0M525 106h0M547.3 116h0M523.1 123.6h0M545.8 120.9h0M542.9 104.6h0M546.6 107.1h0M522.6 109.6h0M540.2 102.3h0M541.5 120.8h0M548.1 115.3h0M542.6 91.8h0M532.3 121.5h0M550.9 95.8h0M553.6 113.6h0M553.2 104.5h0M530.5 107.8h0M544.3 113.4h0M528.7 109.2h0M536.7 99.5h0M546.7 118.5h0M523.1 121.4h0M568.7 100.6h0M551.9 115h0M530.3 112.4h0M532.4 112.6h0M537.8 115.4h0M537.1 131.2h0M525.5 111.6h0M537.1 115.8h0M521.8 126h0M531.9 116.9h0M558 107.8h0M537.9 90.6h0M534.4 116.7h0M555.6 95.1h0M542.1 115.7h0M545.4 105.2h0M532.4 113.4h0M550.5 101.9h0M535 108.9h0M548.1 114.9h0M545.6 128.1h0M557.4 99.1h0M549.4 127.7h0M538.4 117.4h0M527.1 90.2h0M535.3 107.7h0M531.1 109.5h0M555.3 109h0M533.8 107.6h0M513.7 114.3h0M542.8 106.5h0M547.5 112.3h0M528.6 114.2h0M546.4 105h0M524.2 103.2h0M541.3 106.4h0M536.9 99.5h0M542 89h0M543.2 90.7h0M531.3 109.2h0M547.4 122.9h0M533.1 97.3h0M539.9 109h0M554.1 101.5h0M528.5 114.4h0M539.4 100.5h0M556.1 123h0M552.3 108.3h0M531.2 125.6h0M531.8 87.2h0M544.6 113.2h0M531.4 134.1h0M539.4 95.7h0M523.7 99.1h0M545.5 94.5h0M521 123h0M540 105.9h0M546.3 95.1h0M531.3 112.2h0M521.4 105.7h0M524.7 112.5h0M517.6 113.6h0M558.2 94.4h0M517.5 118.9h0M524.5 109.6h0M542.2 103.5h0M539.1 109.6h0M549.9 100.5h0M553 132.5h0M543.5 97.1h0M537.9 123.5h0M532.4 112.5h0M536.6 113.9h0M549 104.7h0M545.3 112.1h0M545.4 114.8h0M520.2 102.2h0M530.2 86.6h0M531 116.9h0M532.6 117.5h0M526.9 116.6h0M546.1 123.9h0M550.2 123.8h0M558.6 115.4h0M532.8 102h0M537.5 115.8h0M539.6 119.4h0M538.5 111.3h0M529.4 119.1h0M547.4 79.4h0M516.4 92.7h0M533.3 109.8h0M517.6 129.2h0M545.5 116.5h0M523.3 120.5h0M525.9 120.1h0M538.4 134.8h0M527.1 116.1h0M541.3 116.9h0M534.3 117.8h0M560.2 124.8h0M525.2 106.1h0M529.6 119.9h0M544.9 135.8h0M539.9 121.9h0M543.5 101.2h0M535.4 96.8h0M549.1 123.1h0M542.4 112.2h0M553.2 104.1h0M523.7 100h0M541.4 115.6h0M536.2 107.1h0M543 115.3h0M528.2 130.8h0M547.6 100h0M523.9 111.2h0M548.4 105.7h0M544.7 112.8h0M518.8 120.3h0M543 116h0M517.2 106.6h0M544.9 124.8h0M520.9 93h0M537.8 84.7h0M535.7 136.1h0M520.7 100.1h0M518.2 115.3h0M544.2 103.5h0M533.3 108.3h0M550.6 112.5h0M538.1 100.3h0M569.1 109.3h0M540.6 93.7h0M558.1 106.7h0M542.5 126.6h0M539.6 112.2h0M544.7 110.3h0M530.3 116.8h0M531.6 124.1h0M557 88.2h0M536.6 111.1h0M526 110.7h0M544.4 128.6h0M529.5 104h0M539.6 111.6h0M551.3 98h0M553.1 91.2h0M558.9 117.5h0M551.8 118.4h0M546.1 97.2h0M544.9 98.1h0M542.2 106.7h0M538.5 102h0M564.1 113.8h0M538.1 110.5h0M557.5 110.3h0M537.7 134.3h0M552.4 101.9h0M507.6 101.4h0M540.7 120.6h0M532.1 116.4h0M556.5 106.9h0M555.7 102.1h0M532.2 110.1h0M538.3 115.4h0M549.4 105.5h0M542.5 108.8h0M540.3 121.4h0M550 113.8h0M524.8 114.4h0M557.1 102.8h0M544.3 125h0M507.5 119.3h0M529.3 114.6h0M538.5 109.9h0M564.6 83.6h0M539.4 112.2h0M522.8 98.4h0M554.6 101.5h0M544 95.7h0M539.5 90.8h0M551.2 103.8h0M535.3 121.1h0M538.4 114.2h0M550.8 93.4h0M544.6 86.1h0M550.5 95.9h0M535.7 83.3h0M558.4 102.5h0M524.1 119.6h0M524.6 109.1h0M545.4 106.9h0M536.5 99.8h0M542.1 100.6h0M540.3 120.1h0M538.2 96.9h0M528.2 116.5h0M543.3 107.1h0M554.4 102.9h0M530.7 102.3h0M560.9 104.4h0M557.3 116.3h0M530.7 111.7h0M548.9 99.7h0M527.9 115.4h0M538.6 123.4h0M527.9 138.9h0M534.1 110.1h0M519.5 120.4h0M538.3 110.2h0M528.5 122.3h0M530.2 115.2h0M518.3 114.5h0M540.5 99.6h0M561 120.2h0M536 123.7h0M538.4 109.1h0M527.5 101h0M534.8 120.6h0M530.6 104.6h0M522.8 110.2h0M530.2 104.7h0M534.3 131.3h0M543.4 109.3h0M536.2 113.2h0M543 108h0M554.2 118h0M550.1 111.7h0M535.3 135h0M520.4 110.6h0M537.8 95h0M540.8 108.2h0M550.9 109.6h0M541.4 106.5h0M570.6 94.4h0M536.3 118.1h0M547.1 127h0M529.7 123h0M528.7 118h0M536.5 109.4h0M542 101.1h0M547.4 118.8h0M505 121.9h0M552.1 100.4h0M556.2 98.3h0M554.6 119.2h0M549.1 101.9h0M538.3 112.5h0M545.9 116h0M553.9 111.9h0M529 120.2h0M547.1 129.8h0M545.2 126.6h0M538.1 119.1h0M559.4 107.2h0M532 106.1h0M528.8 100.8h0M539.1 119.5h0M532.7 110.9h0M554.4 127h0M521.2 121.8h0M525.1 98.9h0M543 112.1h0M547.8 89.2h0M526.5 102.9h0M553.9 116h0M518.4 118.5h0M550.9 134.2h0M529.7 95.7h0M534.2 99.3h0M559.3 69.7h0M538.8 87h0M532.3 106.8h0M542.1 122.5h0M560.2 130.7h0M540.1 115h0M530.9 110.9h0M541.7 127.4h0M525.7 102.7h0M531.8 99.5h0M533.1 121.8h0M546.5 113.5h0M533.9 126.7h0M544.6 99h0M552 120.8h0M556.7 123.6h0M520.7 133.1h0M538.7 122.4h0M526.6 130.5h0M546.3 98.5h0M542 103.4h0M539.2 124.7h0M533.4 120.9h0M528.6 111.5h0M520.6 109.4h0M549.9 122.8h0M537 95.2h0M539.6 103.4h0M542.8 87.5h0M547.9 142.6h0M560 128.9h0M537.3 102.4h0M546.4 108.1h0M521.2 113.9h0M534.9 124h0M531.4 104.9h0M532.3 116.6h0M552 95h0M540.4 97.9h0M539.9 100.1h0M540.1 131.9h0M536.8 106.9h0M536.8 90.4h0M532.1 89.4h0M533.3 96.3h0M534.5 97.5h0M537.2 119.4h0M518.6 93.7h0M539.9 88.9h0M538.8 105.7h0M543.8 104.6h0M527 112.3h0M529 108.4h0M548 114.1h0M531.3 105.1h0M544.4 112.6h0M531.8 128.1h0M526 117.7h0M523.2 105.8h0M532.5 108.2h0M534 93.7h0M525.8 99.4h0M554.7 95.6h0M539.4 111.1h0M529.5 98.2h0M555.5 118.7h0M548.2 118.3h0M530.9 100.2h0M528 107.8h0M537.2 119.7h0M547.1 99.5h0M523.9 93.7h0M551.8 101.7h0M535 95.4h0M548.3 99.8h0M537.7 99.9h0M544.5 119.9h0M546.2 132.1h0M553.3 114.5h0M531.5 148.1h0M559.9 117h0M525.3 123.5h0M542.7 109.3h0M546.6 118.9h0M539.5 110.6h0M548.9 121h0M521.6 113.6h0M538.8 93.4h0M550.2 122.6h0M539.4 130.8h0M527.3 94.3h0M541 101.7h0M541.4 111.1h0M528.5 115.3h0M553.7 107.1h0M533.5 114.9h0M528.1 99.5h0M540.5 114.2h0M532.2 117.9h0M537.2 104.3h0M541.9 120h0M534.8 104.3h0M545.8 124.3h0M542.6 117h0M552.6 108.6h0M528.5 118.8h0M540.1 99.3h0M542.2 111.7h0M542.5 108.3h0M516.5 133.4h0M527.8 104.2h0M542.9 109.7h0M545.6 133.6h0M539.7 107.8h0M541.4 106.8h0M552.7 118.9h0M535.6 123.3h0M531.1 127h0M555.7 110.4h0M546.1 110.3h0M537.6 113.2h0M531.6 87.4h0M556.9 111h0M536.4 108.9h0M530.6 129.1h0M553.2 107.2h0M523.4 100h0M537.8 121h0M546.2 86.5h0M536.3 117.3h0M533.8 109.1h0M544.2 115h0M526.2 115.3h0M537.1 144h0M547.2 100.8h0M527.5 136.1h0M554.5 96.4h0M537.1 123.6h0M538.6 116.9h0M534.3 81.8h0M545.7 122h0M534.3 113.3h0M541.9 125.2h0M553.1 113h0M553 106h0M522.9 92.7h0M554 141h0M534.1 111.6h0M542.7 103.9h0M540.5 100.4h0M542.5 119.7h0M532.9 109.8h0M545.8 89.2h0M550.4 106.5h0M533.1 86.3h0M539.2 124.7h0M548.2 119h0M551.1 110.4h0M543 122.6h0M542.3 103.3h0M544.7 123.7h0M535.7 106.8h0M543 128.1h0M536.4 120.6h0M535.7 107.8h0M513.9 103.8h0M519.9 121.9h0M543.4 128.2h0M547.4 104.3h0M544.2 122.3h0M540.5 106.1h0M536.1 95.7h0M545.5 103.2h0M535 128.3h0M539.3 96.4h0M555.6 97.8h0M524.3 117.6h0M532.8 115.6h0M536.7 94.2h0M518.5 107h0M526.4 105.7h0M550.8 98h0M544.8 104.4h0M537.8 78h0M553.4 94.5h0M528.6 108.8h0M560 109.1h0M538.5 114h0M532.7 96.4h0M551 124.3h0M544.9 100.2h0M541.4 117.3h0M537.9 131.8h0M519.6 99.1h0M516.6 105.5h0M539.2 107.1h0M549.6 114h0M530.6 110.7h0M540.1 117.8h0M522.2 94.9h0M522.9 94.5h0M538.5 110.9h0M546.7 110.2h0M547.2 107h0M552.1 99.9h0M530.5 107.7h0M537.3 115.6h0M547.6 113h0M528 107h0M535.7 112h0M539 114.8h0M538.8 96h0M548.6 105.4h0M543.7 99.7h0M534.3 120.5h0M513.8 100.6h0M547.6 109.9h0M549.8 113.1h0M544.6 118.1h0M542.9 117.6h0M543.8 115.6h0M552.1 108.8h0M533.5 111.1h0M538.3 87h0M528.2 104.6h0M536.6 107.3h0M530.1 111.2h0M530.1 119.4h0M517.4 119.5h0M537.9 106h0M549.9 127.7h0M506.3 91.4h0M552.7 92h0M538.5 127.3h0M531.5 96.1h0M542.2 97.3h0M536.2 97h0M538 102.3h0M554.3 91.1h0M540.7 119.4h0M542.8 115.4h0M535.9 103h0M536.9 109.5h0M528.9 126.6h0M537.5 100.6h0M530.3 98.2h0M551.2 112.5h0M536.3 105.7h0M546.8 99h0M552.8 134.4h0M549.8 116.5h0M531.4 120.1h0M556.9 111.8h0M518.2 124.4h0M554.2 124.8h0M511.4 107.5h0M528.9 88.9h0M537.9 124.3h0M531 91.5h0M515.8 99h0M522.5 98.4h0M541.5 94.8h0M520.1 114.9h0M545.6 97h0M551.2 127.5h0M553.3 119.2h0M541.4 106.2h0M538.2 101.1h0M534.3 125.9h0M568.5 132h0M551.8 105.3h0M545.6 106.6h0M542.3 102h0M550.5 110.9h0M517.9 125.1h0M548 96.9h0M532.5 101h0M513.6 108h0M550.7 84.8h0M530.4 107.2h0M543.4 92.5h0M530.7 111.6h0M534.3 143.6h0M556.2 123.4h0M542.3 141.7h0M543 112.7h0M521.6 96.4h0M548.5 129.7h0M531.7 101.6h0M543.8 113.2h0M527.6 99.5h0M542.7 105.6h0M544.7 121.5h0M522.8 103.3h0M542.2 110.4h0M529 99.6h0M552.3 87.5h0M542.7 112.2h0M539.3 91h0M571.8 111h0M547.8 102.9h0M534.6 107.7h0M548.2 117.7h0M541.8 108.4h0M553.4 115.1h0M527.9 103.3h0M560.1 122.1h0M533.2 121h0M534.7 99.8h0M530.8 103.7h0M535.5 103.3h0M559.6 103.3h0M540.8 97.8h0M527.1 104.4h0M537.1 99.2h0M541.5 118.8h0M549.2 103.9h0M535.3 118.4h0M540.9 124.1h0M570.8 112.4h0M537.3 102.3h0M540.1 109.6h0M525.8 89.2h0M549.2 102h0M533.7 104.9h0M558.9 108.5h0M552 125.3h0M547.6 109.2h0M533.3 109.5h0M535.1 89.6h0M534.6 118.9h0M539.7 111.2h0M535 118.1h0M532.9 108h0M539.9 129.7h0M538.5 106.3h0M534.7 109.6h0M548.7 107.7h0M550.2 79.4h0M532.7 110.7h0M562.2 104.2h0M543 110h0M552.2 97.2h0M559.3 83.9h0M523.4 90.2h0M544.3 105.9h0M548.8 124.5h0M551.9 104.8h0M547.5 128.9h0M549.8 120h0M522.4 116.6h0M528.4 122.6h0M545.1 109.8h0M516.6 114h0M532.9 118.4h0M536.8 105.5h0M542.9 118.3h0M548.7 94.9h0M541.5 102.5h0M529.8 114.9h0M528.4 104.7h0M543.3 117.7h0M545.2 117.1h0M543 98h0M540.4 128.4h0M540 104.5h0M523.7 87.6h0M538.6 135.7h0M547.1 82h0M526.5 132.3h0M543.5 136h0M546.4 134.5h0M564.3 123.5h0M538.2 116.9h0M536.1 132.1h0M525.7 112.3h0M526.9 100.5h0M521.2 119.1h0M519.3 108.6h0M546.5 102.8h0M538.8 89.8h0M542.2 111.1h0M521.5 101.7h0M516.7 104.1h0M519.5 109.4h0M556.5 114h0M551.1 105.8h0M524.2 102h0M540 125.5h0M540.7 114.4h0M528.1 106.1h0M531.8 106.6h0M549.3 106.2h0M546.7 90.9h0M548.7 97.8h0M542.5 124.8h0M540.2 91.5h0M544.4 118.3h0M537.2 119.8h0M557.4 97.4h0M541.4 113.9h0M544.9 129.9h0M538.1 102.8h0M531.7 104.8h0M538.5 103.8h0M535.4 126.6h0M530.3 100.7h0M547.9 117.4h0M560.8 99.6h0M542.2 124.7h0M537.9 121.4h0M531.2 133.2h0M523 119.3h0M545.7 97.7h0M545.3 107.4h0M530.4 116.8h0M540 94.1h0M529.8 107.7h0M554.6 101.1h0M540.4 106.2h0M543.9 111.4h0M557.7 108.6h0M514.8 105.1h0M543.6 96.9h0M542.1 103.1h0M536 99.8h0M539.4 123.3h0M552.8 132.3h0M532 106.5h0M532.1 108.4h0M558 105.1h0M550.3 122.1h0M544.6 108.6h0M548.1 122.7h0M540.3 109.3h0M536.1 111.1h0M537.7 112.3h0M542.8 106.6h0M534.3 116.1h0M522 110.5h0M537.6 102.1h0M542.4 92.5h0M537.9 105.5h0M546.7 100.7h0M542.6 103.4h0M549.9 90.7h0M540.8 85.7h0M537.6 117.8h0M545.7 102.1h0M549 106.7h0M534.6 91.7h0M530.1 139h0M554 117.9h0M533.7 130.7h0M543.5 94.1h0M534.4 107h0M541.8 102.4h0M554.5 105.4h0M557.7 106.9h0M525.3 105.4h0M523.8 115.1h0M503.1 134.2h0M545.8 106.4h0M556.3 111h0M542.2 116.9h0M536.3 117.4h0M548.4 94.9h0M529.3 119h0M546.6 122.7h0M554 102.5h0M552.8 93.1h0M547.1 125.5h0M533.9 121.9h0M535.9 122.6h0M529.5 105.8h0M559.5 103.7h0M552.9 93.7h0M538.7 111h0M538.6 113.2h0M542 117.4h0M532.3 97.1h0M545 117.3h0M544.8 120.1h0M544.1 113h0M539.9 110.7h0M512.2 105.7h0M537.3 117.7h0M524.1 89.8h0M521.1 87.8h0M563.6 123.6h0M534 108.7h0M537.2 122.2h0M536 113.6h0M530.1 124.8h0M556.8 113.7h0M519.3 107.2h0M544.4 108.4h0M532.9 126.1h0M553 133.9h0M548.4 132.1h0M540.1 96.1h0M523 112.5h0M547.7 109.5h0M549.7 93.3h0M546.3 122.1h0M536 105.5h0M546 118.3h0M530.8 108.2h0M541.8 132.5h0M543.1 115.1h0M536.6 111.3h0M528.4 109.1h0M536.7 127.3h0M529.6 113.3h0M526.2 100h0M550.5 111.5h0M537.4 100.4h0M533.5 102.6h0M533.5 107.6h0M543.8 114.8h0M535.6 109.5h0M531.4 121.4h0M542 102.6h0M540.6 106.6h0M529.3 96.5h0M527.4 83.9h0M553.2 100.5h0M536 103.7h0M552.1 108.2h0M545.5 100.4h0M538.3 94.2h0M536.4 113.7h0M556.7 125.3h0M532 126.4h0M534.8 98.7h0M530.1 104.9h0M537.3 104.1h0M528.8 130.2h0M540.3 117h0M525.4 128.7h0M544.7 123.9h0M542.7 117.1h0M541.3 118.5h0M532.5 91.8h0M552.9 125.4h0M560.8 117.7h0M537.6 119.3h0M530.6 109.6h0M546 101.8h0M536.7 119.9h0M540.5 130.1h0M546 115.5h0M524.2 105.7h0M546.9 123.2h0M527.6 99h0M525.4 122.4h0M534.8 118h0M554.8 115.8h0M532.1 87.9h0M544 101.2h0M528.8 106.3h0M545.7 122.4h0M542.4 123.6h0M551.5 118.7h0M540.9 91.6h0M539 95.1h0M518.6 108.7h0M542.4 118.8h0M547.5 131.2h0M541.1 115.8h0M540.9 104.3h0M545 103.9h0M548.4 105.8h0M529.2 118.7h0M538.1 104.4h0M543.6 112.3h0M541.7 100.1h0M528.5 107.5h0M517.4 101.4h0M542.4 106.5h0M546.7 116h0M557.1 96.6h0M543.5 122.7h0M529.5 102.6h0M543.7 115.6h0M537.7 114.8h0M531.5 107.2h0M523.3 116.6h0M519.1 122.4h0M531.3 121.3h0M534.3 123.7h0M539.6 110.1h0M539.1 106.7h0M541.4 111.4h0M559.6 128.7h0M538.2 108.9h0M553.8 99.3h0M530.4 123.8h0M531 121h0M533.2 99.7h0M519.3 112.4h0M556.9 97.8h0M541.6 114.4h0M546.7 127.2h0M557.6 110.9h0M543.8 111.1h0M556.6 107h0M513.2 120.4h0M552.7 115.8h0M542.1 86.6h0M532.8 116.9h0M550.6 91.9h0M539.2 123.6h0M531.2 107.7h0M517.7 106.1h0M558.2 100.2h0M510.4 110.5h0M539.6 118h0M556.2 109.2h0M546 127.8h0M532 139.6h0M535.9 128.5h0M532.1 92h0M541.5 100.6h0M538 88.8h0M524.7 104.6h0M522.8 127.6h0M551.3 122h0M524.9 106.8h0M526.4 120.2h0M564.2 121.5h0M529.6 123.1h0M524.3 119.3h0M528.1 132.7h0M547.1 105.5h0M530.5 118.9h0M537.2 95.7h0M513.4 91.1h0M531.9 111.2h0M539 98.2h0M539.2 97.6h0M554.7 108h0M544.1 112.5h0M506.9 95.5h0M520.7 102.7h0M528.8 112.5h0M535.3 116.3h0M539.1 110.4h0M545.4 99.5h0M520 102.4h0M514 117.3h0M547.2 112.2h0M527.4 108.5h0M512.5 115.2h0M527.9 111.4h0M533.5 121.8h0M525.1 119.8h0M525.4 107.1h0M549.5 107.7h0M526.2 114h0M541.7 85.2h0M540.7 112.4h0M534.4 102.3h0M564.3 107.2h0M523.5 115.9h0M566.8 102.5h0M527.8 97.7h0M535.4 110.2h0M541.7 104.6h0M550.5 77.5h0M546 120.6h0M534.5 112.7h0M534.5 103.7h0M551.3 110.3h0M555.3 119.8h0M532.5 116h0M551.9 113h0M544.6 113.5h0M541.2 109.7h0M526.3 92h0M524.5 107.7h0M543.2 114.7h0M507.8 102.3h0M533 102.9h0M543.1 122.7h0M520.1 117.3h0M556.4 122.9h0M556.8 106.5h0M526.8 100.4h0M537.3 112.9h0M537.1 96h0M532.5 116.9h0M533.1 114h0M543.8 111.1h0M556.9 108.2h0M539.5 91.1h0M539.7 123.1h0M540 103.8h0M530.9 109.4h0M545.4 96.7h0M533.1 125.6h0M527.7 123.6h0M545.8 90.6h0M518 95.8h0M533 97.8h0M534.2 111.7h0M537.1 98h0M521.6 110.1h0M528.1 122.8h0M537 111.8h0M545.2 113.3h0M537.3 122.2h0M536.3 116.9h0M529.4 118.3h0M538.8 104.3h0M507.9 99.1h0M545.7 97.4h0M549.2 97.6h0M538.4 122.5h0M527.9 103.7h0M553.3 100.9h0M531.1 105.5h0M553.4 121.1h0M535.6 143.8h0M530.2 108.5h0M536.3 119.8h0M531.1 100h0M536.8 127.2h0M544.1 104h0M535.8 115.3h0M533.6 125.6h0M538.4 115.5h0M542.9 112h0M538.7 100.7h0M544.6 101.1h0M545 96.1h0M541.8 101.6h0M546.5 115.6h0M538.8 115.4h0M551.1 108.5h0M543.1 114.3h0M547.8 129.3h0M536.5 134h0M523.1 101.6h0M533.8 109h0M539.1 87.6h0M542.7 116.2h0M538.3 98.4h0M554.7 108.6h0M524.5 104.7h0M519.4 109.6h0M536.7 97.6h0M531.2 104.4h0M539 115.8h0M545.8 111.6h0M568.2 113h0M524.4 109.4h0M527 107.7h0M538 115.3h0M522.6 117h0M530.4 110.5h0M552.6 130.8h0M538 105.7h0M538.4 106.1h0M550.7 146.1h0M520.1 123h0M540 110.6h0M538.1 136.3h0M541.6 105.3h0M527.9 99h0M534 104.9h0M537.6 99.5h0M546.6 111.6h0M530.8 100.6h0M545.3 102.3h0M515.6 111.9h0M543.3 109.4h0M547 129.6h0M528.8 126h0M535.5 98.8h0M538.6 98.5h0M541.8 119.9h0M551.6 128.1h0M540.7 133.3h0M536.2 97.1h0M536.5 106.5h0M541.6 88.4h0M547.1 95.8h0M541.4 87h0M532.7 100.9h0M535 116.9h0M530.1 114.4h0M529.3 97.6h0M533.4 126.9h0M532.5 103.9h0M546.9 115.2h0M525.8 95.6h0M539.4 116.9h0M526 118.9h0M547.2 99.4h0M541.9 147.6h0M552.2 98.2h0M544.5 107.1h0M527.7 117.4h0M539.1 102.8h0M531.9 116.1h0M533.1 103.3h0M527.7 109.4h0M535.4 101.8h0M539.6 121.5h0M540.9 118.3h0M565.2 89.2h0M536.9 106.9h0M539.6 112.6h0M537.7 121h0M535.9 116.5h0M535.4 107.8h0M539.3 124.5h0M536.6 111h0M546.5 113.5h0M543.2 133.2h0M529.3 110.4h0M538.7 96.4h0M542 115.6h0M535.8 113h0M536.2 107.6h0M537.7 117.5h0M545.2 130.7h0M540.6 110.2h0M532.9 115.7h0M538.2 118h0M551.8 94.6h0M528.5 109.3h0M545.6 119.2h0M536.1 118.5h0M578.1 92.2h0M545.4 101.2h0M539.2 131.1h0M537.5 103.6h0M522.6 116.3h0M533.3 117.3h0M559.9 97.6h0M542.5 102.3h0M535.6 120.4h0M538.6 110.8h0M539.2 103.2h0M528.6 111.9h0M539.8 105.8h0M544.1 118.6h0M523.1 95.6h0M536.2 93.8h0M509.8 118.2h0M520.9 126.9h0M547.5 116h0M551.7 100.6h0M558.3 108.2h0M525.1 111.2h0M537.8 108.5h0M535.2 127.6h0M549.9 111.1h0M542.1 111.7h0M539.6 117.9h0M545.1 101.4h0M533.9 118.1h0M549 117.9h0M535.1 102.5h0M550.3 103.2h0M540.7 109.7h0M541.2 107.9h0M526.8 106h0M522.5 106.6h0M522.2 121.9h0M543.9 100.9h0M516.1 87.3h0M553.1 106.1h0M535.3 113.6h0M524.6 97h0M542.4 103.3h0M525.7 119.2h0M539.1 111.6h0M535.9 117.2h0M551.3 98.7h0M548.2 125.7h0M548.6 96h0M533.9 118.3h0M551.8 107.1h0M538 115.5h0M539.9 106.1h0M543.3 97.1h0M541.6 103.3h0M524.7 124.6h0M545.5 113.5h0M522.1 108.9h0M543.6 88.8h0M538 116.4h0M539.5 115.1h0M527.2 119.4h0M549.2 111.1h0M537.1 102.9h0M547.6 122h0M531 94.3h0M531.2 95.9h0M539.4 101.2h0M549.5 103.3h0M524.9 82.2h0M532.6 122.7h0M533.4 116.9h0M535.9 85.6h0M533.9 124.7h0M550 106.9h0M546.1 112.5h0M538.9 121.3h0M547.5 121.5h0M549.5 113h0M532.2 107.4h0M531.1 104.8h0M546 103.6h0M561 109.7h0M513.8 110.1h0M532.2 103.4h0M546.9 117.8h0M530.3 125.9h0M547.8 100.8h0M541.1 134.6h0M525.6 104h0M533.8 95.7h0M542.6 125h0M529.3 136.3h0M544.9 120.4h0M542 107h0M535.5 121.7h0M542.8 98.6h0M534.9 103.1h0M541 122h0M528.2 101.6h0M553.5 127.2h0M535.9 115.8h0M550.9 107.9h0M561.2 95.2h0M555.3 101.4h0M538.5 93.2h0M540.3 127.3h0M538.2 73.3h0M542 120.8h0M530 107.3h0M519.7 92.4h0M542.1 104.6h0M539.2 96.5h0M554.8 124.8h0M557.7 123.6h0M524.3 115.7h0M528.9 117.1h0M546.8 109.2h0M551.1 114.3h0M540 124.1h0M539.3 108h0M519.3 126.9h0M562.8 118.6h0M531.4 106.9h0M544.6 121h0M542.3 110.8h0M529.3 103h0M547.7 93.3h0M554.1 96.6h0M538.2 100.3h0M540.2 104.8h0M545.7 125.2h0M549 120.5h0M547.8 120.7h0M529.4 116.9h0M528.9 112.2h0M532.9 121.7h0M510.3 115.7h0M524.8 97.6h0M536.7 115.7h0M531.7 133.1h0M529.9 113.9h0M548 112.3h0M542.2 114.8h0M547.4 85.7h0M536.9 99.8h0M534.3 90.9h0M529.6 117.8h0M541.3 101.8h0M519.7 107.8h0M529.5 111.7h0M544.9 120.4h0M547.7 108.2h0M538 133.2h0M526.6 99.5h0M544.7 78.3h0M531 93.4h0M537.4 135h0M528.5 108.5h0M557.9 119.4h0M554.4 117.9h0M529.8 113.9h0M526.4 97.1h0M538.1 102.3h0M545.3 120.5h0M551.9 104.2h0M538.1 108.9h0M525.6 87.1h0M541.8 127.8h0M541.5 112.1h0M521.9 121.8h0M535.9 111.1h0M535.5 134.2h0M528.4 121.6h0M541 112.1h0M549.8 117.7h0M549.3 121.1h0M529.3 112.3h0M532.5 117.4h0M546 121.6h0M535.2 113.7h0M535 110.6h0M561.9 107.1h0M511.7 131h0M531.8 115.6h0M529.8 97.2h0M538.1 127.6h0M556.6 109.4h0M537.1 116.6h0M535.7 98.3h0M540.3 96.7h0M535.5 107.8h0M542.7 116.7h0M565.4 129.2h0M531.4 117h0M536.5 120.6h0M537.9 110.4h0M516.5 93h0M545 88.9h0M538 107.3h0M518 109.4h0M535.8 112.4h0M540.4 107.4h0M529.2 113.2h0M550.1 90.6h0M532.4 119.5h0M522.9 109.5h0M547.1 117.9h0M537.2 99.9h0M540.1 90h0M521.7 103.2h0M524.1 108.5h0M528 110.1h0M537 104.1h0M537.2 116.1h0M553.2 91.7h0M554.8 90.4h0M540 99.1h0M537.6 101.3h0M558.6 115.2h0M539.3 89.7h0M549.3 126.4h0M533.5 118.9h0M537.6 86.2h0M535.7 115.3h0M531.4 119.8h0M542.6 129.4h0M530 98.6h0M537.5 96.8h0M543 108h0M560.8 129.1h0M518.6 111.4h0M539.4 119.4h0M545.6 100h0M535 93.6h0M547.8 105.3h0M544.2 105.5h0M543.8 92.7h0M534.2 90.9h0M536.4 123.9h0M536.3 105.1h0M528.2 123.7h0M540.5 119h0M527.5 97.2h0M528.8 122.9h0M524.1 112.1h0M550.2 96h0M532.7 105h0M529.3 128.9h0M547 111.3h0M534.2 112.7h0M542.2 120.4h0M536.8 86.8h0M542.4 109.4h0M540.6 109.5h0M515.9 98.3h0M554.1 108.2h0M549.2 125.1h0M523.3 109.9h0M548 105.1h0M536.3 108.1h0M539.9 97.9h0M552.1 100h0M549.1 104h0M548.9 111.7h0M559.7 109.4h0M550.1 87.8h0M532.3 128.6h0M525.2 97h0M547.4 104.7h0M520.7 117.7h0M535 109.9h0M534.9 102.8h0M531.3 125.7h0M552.9 107.8h0M542 103.1h0M536.3 119.8h0M548 108.2h0M534.3 93.8h0M551.3 107.4h0M560.1 119.4h0M537.3 127.7h0M536.9 129.7h0M550.7 98.5h0M518.1 111.9h0M525.5 110.8h0M527.9 112.1h0M521.7 118h0M538.6 89.8h0M541.7 101.8h0M538.3 92.8h0M538.3 123.3h0M548.2 102.8h0M549.9 102.2h0M551.7 122.5h0M537.1 119.5h0M538.8 119h0M554.1 98.1h0M542.9 107.1h0M552.5 117.7h0M533.6 101.7h0M538.2 117.1h0M531.9 108.2h0M538.4 110.5h0M543.1 119.3h0M533.9 98.9h0M559.2 109h0M523 135.5h0M547.7 111.8h0M527.2 92.7h0M541.7 135h0M530.5 99.4h0M539.4 107h0M539.4 123.5h0M530.2 109.9h0M525.8 122.5h0M531.1 127h0M538.8 105.3h0M547.1 106.5h0M555.5 130.1h0M520.6 115.8h0M543.4 109.3h0M533.7 127.5h0M538.7 97.4h0M542 118.1h0M546.9 105.2h0M542.9 102.4h0M538.4 120.3h0M555 105.8h0M541.5 108.4h0M538.5 105.1h0M550.5 114.6h0M526.6 98.7h0M528.7 101.6h0M553.8 92.3h0M536.5 97.6h0M519.9 125h0M546.9 116.1h0M551.2 104.8h0M530.5 98.4h0M524.9 117.6h0M538 109.5h0M542.3 106.2h0M532.3 110.9h0M529 98.3h0M544 120.9h0M544.1 103.9h0M521.9 118.6h0M526.8 104.8h0M535.1 120.1h0M531.9 112.9h0M540.7 99.2h0M543.9 120.5h0M557.9 108.8h0M542.3 102.4h0M548.1 110.9h0M522.2 112.7h0M531.3 109.6h0M549.5 119.7h0M523.3 101.1h0M552.5 101.5h0M544.2 90.1h0M539.9 106.5h0M537.2 97.4h0M526.3 115.3h0M527.2 104.2h0M532.9 120h0M534 106.9h0M551.3 113.2h0M527.8 98.9h0M531.9 132.6h0M520.3 111.6h0M540.1 113h0M538.4 102.2h0M549.8 117.7h0M558.4 114.4h0M544 95.5h0M529.5 116.7h0M540.8 114h0M541.4 96.9h0M537.8 133.3h0M527.1 105.1h0M542 105.8h0M525.8 106.7h0M537.5 129.7h0M535.3 125.6h0M511.5 119h0M544.8 119.3h0M560.6 102.2h0M534.6 114.6h0M532 93.7h0M548.1 110h0M524.7 102.8h0M538.6 117.1h0M540.9 116.4h0M532.6 104.8h0M537.6 99.8h0M529.6 117.1h0M532.4 95.3h0M545.3 112.4h0M529.3 92.1h0M532.4 123.5h0M531.1 113.6h0M543.7 102.4h0M534.5 110.5h0M529.5 116.1h0M541.9 102.4h0M517.5 99h0M518.6 114.2h0M541.4 101.1h0M557.8 114.5h0M533.3 118.5h0M541.9 95.2h0M523.9 116h0M539.7 115.1h0M540.5 101.1h0M544.4 120.6h0M530.7 120.2h0M558.6 112.6h0M528.4 108.6h0M554.3 99.2h0M527.2 111.8h0M546.7 117h0M552.4 124.1h0M561.1 113.3h0M537.2 114.9h0M521.2 97.3h0M547.3 127.7h0M531 129.6h0M527.2 130.6h0M532.3 112.4h0M529 104.9h0M546.4 91.6h0M540.4 127.9h0M545.6 108h0M547.5 116.7h0M534.4 91.6h0M545.8 105.9h0M551.2 92.7h0M557.9 110.1h0M540.3 97.8h0M535.8 105.8h0M528.8 117h0M534.4 99.3h0M538.6 113.3h0M541.2 135.1h0M524.5 111h0M534.3 123.6h0M536.4 103.9h0M532.3 92.6h0M532.2 106.5h0M542.2 103.6h0M528.4 123.7h0M543.5 118.7h0M527.3 116.5h0M540.8 87.8h0M526.9 114.6h0M550.9 106.8h0M546.3 130.5h0M552.5 115.5h0M529.8 108.5h0M524.8 111.4h0M524.8 113.2h0M536.2 105h0M549.6 104.4h0M545.9 123.5h0M545.6 124.9h0M525.7 103.6h0M549.9 100.8h0M546.2 125.3h0M532.8 102.3h0M511.9 125.7h0M530.2 111.8h0M537.2 95.6h0M555 128.4h0M540.8 110h0M537.9 112.4h0M555.2 122.8h0M554.8 101.4h0M542.5 120.6h0M545 117.5h0M551.7 122.5h0M531 105.1h0M542.8 103.7h0M534.1 94.6h0M528.4 112.8h0M543.8 119.4h0M550.1 93.2h0M558.2 117h0M546.7 102.4h0M550.5 91.8h0M536.7 101.1h0M522.8 130.7h0M531.9 121.9h0M542.8 119h0M532.4 100.6h0M558.7 119h0M551.4 101.4h0M536.6 107.7h0M556.8 108.3h0M545.5 110.4h0M555.9 118.7h0M536.8 94.7h0M546.9 108.8h0M536.2 93.1h0M538.8 120.6h0M550.7 129.5h0M558.8 94.3h0M540 123.5h0M541.8 109h0M529.4 114.6h0M536.5 112.1h0M543.9 114.1h0M525.5 122.8h0M534.1 124h0M527 108h0M540.8 118.5h0M548.1 90.9h0M542.3 109.5h0M535.8 94.5h0M528.1 115.9h0M521.7 101.4h0M538.9 117.3h0M554.7 121.2h0M535.9 113.3h0M538 112.8h0M534 81h0M526.8 125.7h0M549.9 118h0M546.2 102.4h0M523.2 112.4h0M525.7 108.9h0M552.9 101.8h0M529.5 112.2h0M538.2 118.7h0M527.9 126.1h0M542.1 111.4h0M530.5 104.4h0M532.4 108.2h0M527 97.3h0M558.7 115.4h0M566.1 107.4h0M541.1 120.2h0M545.8 132.5h0M544.7 104h0M538.8 116h0M537.8 103.3h0M534.9 117.7h0M547 128.3h0M525.8 121h0M529.9 114.1h0M546.2 118.5h0M523.9 113.9h0M555.8 104.5h0M535.9 110.9h0M540.7 105.4h0M552.8 112.5h0M538.3 118.6h0M540.1 121.9h0M532.5 135.8h0M544.2 104.1h0M546.1 98.2h0M529.5 122.1h0M545.7 121.7h0M549 120.6h0M543.7 107h0M530.8 109.7h0M548.6 113.5h0M553.2 111.4h0M533.6 129.8h0M519.4 112.3h0M531.3 113h0M538.9 105.3h0M552.5 119h0M551.4 116.9h0M546 108.5h0M532 80.3h0M546.8 117.7h0M538.7 87.6h0M527.9 121.4h0M519.8 110.2h0M549.3 121.4h0M521.5 95.2h0M552 109.3h0M562.6 108.5h0M539.1 99.1h0M529.8 95.9h0M532 118.3h0M531.6 107.9h0M542.8 116.3h0M549.4 97.5h0M530.7 134.7h0M535.2 85.8h0M531.9 113.3h0M550.9 134.3h0M549.1 107.5h0M529.8 120.3h0M535.5 110.3h0M540.5 109.3h0M519.8 98.5h0M533 131.5h0M540.2 106.2h0M523.9 97.5h0M541 125.5h0M539.2 102.2h0M532.9 101.4h0M549.7 116.8h0M528.8 132.5h0M543.2 108.9h0M536 116.1h0M550.4 92.8h0M530.4 113.3h0M545.1 102.6h0M545.3 106.7h0M550.8 108.4h0M555.8 124.8h0M522.6 118.9h0M538 109.5h0M527.3 111.6h0M549.1 111.8h0M553.2 101.8h0M535.6 110.1h0M541.3 102.5h0M552.6 109.6h0M540.9 106.3h0M537.3 116.6h0M521.3 127.7h0M531.2 101h0M549.3 100.8h0M523.2 103.2h0M541.8 119.8h0M541 98.1h0M538.6 109.5h0M547.2 108.7h0M530.8 118.3h0M553.4 116.2h0M534.1 117.8h0M549.5 106.4h0M532.6 118.5h0M541.5 110.9h0M535.2 116.9h0M556.6 125.2h0M527.7 110h0M532 109.2h0M554.2 109.8h0M547.3 144.3h0M538.3 98.9h0M536 110.7h0M525.1 121.5h0M535.8 88.9h0M542.5 110.3h0M551.5 102.2h0M548.7 109.2h0M554.2 137h0M542.8 97h0M531.2 123.6h0M535 98.3h0M555 112.1h0M539.9 120.4h0M553.7 138.5h0M521.9 116h0M533.5 122.1h0M530.2 110.3h0M541.5 123.2h0M530.4 102.5h0M524.6 116.7h0M537.9 115.8h0M514.4 88.1h0M532.4 101.7h0M543.3 118h0M526.5 106.5h0M538.2 129h0M529.3 119.2h0M535.1 112.7h0M541.3 119.1h0M543.7 122.1h0M543.4 103.4h0M530.7 117.5h0M555 119.9h0M542.2 117.5h0M531.8 118.2h0M553.1 101.8h0M534.5 107.4h0M559.7 127.7h0M547.8 95.5h0M537.7 98.5h0M533.7 114h0M529.9 121.9h0M530.4 110.5h0M535.8 117.2h0M553.3 104.9h0M540.8 111.2h0M538 96.4h0M543.4 129.1h0M535.5 117.7h0M525.4 107.6h0M522.9 116.3h0M554.2 115.5h0M535.9 123.8h0M556.1 89.2h0M559.3 112.8h0M541.9 102.9h0M547.2 119.6h0M535.1 116h0M537.5 111.6h0M539.8 92.2h0M538.9 95.3h0M555.2 87.3h0M537.9 93.6h0M548.7 94h0M540.3 113.2h0M545.7 118.6h0M558.8 96h0M522.2 118.8h0M551.6 104.7h0M532.2 117.7h0M541.1 122.6h0M535.3 110.1h0M533.8 120.8h0M524.3 114.2h0M510.1 100.9h0M562.2 112.9h0M548.4 99.5h0M536.4 115.8h0M518.8 106.9h0M546.3 122.1h0M556.1 95.9h0M543.7 133.7h0M520.4 107.6h0M533.3 104.5h0M541.9 140.1h0M538.2 129.2h0M551.1 127.9h0M528.4 111.7h0M532 113.8h0M511.8 114.6h0M551.3 103.9h0M545.9 85.2h0M534.2 122.2h0M519.3 106.8h0M548.4 110.3h0M523.4 98.6h0M524.9 134.7h0M517.8 129h0M523.3 122.9h0M528.5 123h0M526.9 108.1h0M550.9 116.2h0M546.6 133.5h0M539.6 119.2h0M532.5 129.1h0M538.3 119.5h0M524.2 113h0M543.1 119.7h0M528.4 97.1h0M533.1 85.5h0M542.4 105.3h0M529.1 128.3h0M523.4 94.8h0M550 87.3h0M519.7 113h0M524.6 106.6h0M525.8 98.5h0M530.7 108.6h0M537.1 96.8h0M503.1 104.6h0M533.1 117.8h0M554.2 116.4h0M551.8 113.7h0M548.4 118.6h0M537.7 96.1h0M541.1 107.3h0M532.5 113.1h0M520.1 101.8h0M542.6 110h0M550.6 99.2h0M542 92.7h0M538.3 109h0M548.3 117.5h0M542.2 124.2h0M551.1 91h0M533.9 106.6h0M518.7 117.6h0M544.1 112h0M548.5 123.6h0M530 95.8h0M541.3 107.5h0M546.7 115h0M508.3 127.5h0M565.9 87.1h0M547.3 109.6h0M536.4 135.9h0M525.7 117.4h0M521.1 111.2h0M575.8 109.2h0M535 123.2h0M546.4 98h0M531.3 104.4h0M535 110.4h0M546 118.3h0M528.1 130.9h0M537.8 116.1h0M536.4 113.3h0M544 124.3h0M548.2 107.6h0M536.6 102h0M554.3 116.3h0M533.3 115.5h0M534.3 111.2h0M539.6 92.3h0M535.8 94.9h0M547.3 129.6h0M506.7 116.5h0M518.8 82.3h0M514.3 114.7h0M554.4 91.2h0M547.9 105.3h0M530.9 96.7h0M543 114.9h0M518.9 109.9h0M535.2 104.8h0M555.2 111.1h0M545.9 111.5h0M562.6 94.8h0M533.1 112.7h0M551.6 96h0M539.9 117.6h0M542.3 114.4h0M541.6 102.7h0M547.3 105.1h0M553.6 100h0M539.4 110.4h0M543 111.2h0M537.6 116.2h0M542 128.6h0M529.7 115.5h0M550 99.2h0M546.7 111.6h0M542.4 108.6h0M538.6 96.8h0M531.3 121.2h0M528.2 106.9h0M526.3 117.1h0M529.9 98.1h0M549.1 127.3h0M543.6 114.8h0M522.8 116.6h0M528 114.6h0M553.8 117.1h0M557.6 89.8h0M548.3 113.3h0M562.6 112.5h0M531.2 127h0M543.9 125.7h0M531.8 119.3h0M563.9 124.4h0M543.9 105.1h0M543.8 117.4h0M543.3 115.9h0M531.4 112.4h0M538.5 121h0M513.6 125h0M534.2 118.4h0M527.9 108.6h0M548 112.1h0M554.2 120.3h0M542.3 93.1h0M527.8 106.7h0M527 103.4h0M547.6 93.7h0M536.3 121.1h0M536.4 100.1h0M527.3 108h0M542.1 107.6h0M541.6 127.8h0M548.4 119.9h0M528.9 110.8h0M539.1 111.3h0M523.5 93.6h0M542 115h0M539.5 108.1h0M535.3 114.3h0M549.5 125.3h0M525.2 114.7h0M556.9 109.7h0M544.1 91.4h0M546 96.9h0M542.6 116.8h0M531.6 120.8h0M533.2 111.1h0M550.2 117.1h0M539.4 83.3h0M543.1 101.3h0M535.7 111.3h0M549 116.7h0M546.9 122.6h0M525.1 111.7h0M561.5 139.4h0M551.3 115h0M548.9 115.8h0M543.3 93.7h0M539 130.2h0M549.2 100.6h0M568.5 114.5h0M538.6 102h0M527.3 118.9h0M539.3 106.1h0M540.4 101.3h0M550.3 82.2h0M525.8 119.6h0M534.7 112.1h0M536 111.8h0M550.5 117.2h0M552 111.7h0M541.8 110.3h0M551.5 114.4h0M540.7 129.8h0M540.7 107.7h0M514 126.8h0M529.5 111.6h0M526.9 99.4h0M544.5 124.8h0M540.3 112.1h0M527.3 108.4h0M539.8 111.1h0M537.9 115.8h0M543.6 110.4h0M533.1 103.1h0M531.2 121.8h0M552.8 112.5h0M536.3 102.7h0M550.5 117.2h0M529.3 123.9h0M536.6 102.1h0M535.5 102.9h0M528.3 100h0M547.1 110.7h0M524.1 117.8h0M541.7 93.7h0M515.3 96.8h0M546.8 101.7h0M539.5 116.1h0M551.6 109.3h0M561.5 120.3h0M531.5 122.2h0M539.2 109.5h0M524.7 107h0M533.9 104.3h0M539.7 109.4h0M539.4 87.9h0M547.8 121.4h0M544.5 96h0M549.9 115h0M531.4 100.1h0M540.6 120.7h0M527.5 86.1h0M537.1 94.6h0M508.7 128.2h0M537.8 96h0M539.5 108.4h0M533.8 100.4h0M534.4 110.4h0M520 111.9h0M531.7 125.7h0M532.3 115.6h0M541.3 110.6h0M543.9 128.9h0M534 121.3h0M537.3 110.2h0M542.8 105.3h0M529 115.3h0M550.1 94.8h0M561.4 116h0M543.1 103.4h0M533.5 95.7h0M541.3 118.9h0M551.7 97.4h0M552.9 111.7h0M524 119.6h0M542.4 92.3h0M530.8 92h0M534 113.6h0M541.8 98.2h0M544.7 99.1h0M535.8 110.3h0M529.5 85.7h0M536.6 111.4h0M527.5 117.4h0M558 109.7h0M521.7 111.2h0M545.4 114.8h0M540 113.1h0M538.9 124.9h0M527.3 103.2h0M533.4 125.1h0M535.1 97.7h0M532.9 102.2h0M536.1 114.3h0M540 114.2h0M533.9 117.2h0M543.6 109.9h0M546.8 90.4h0M532.8 106.3h0M546.8 114.6h0M539.4 90.4h0M532.6 114.3h0M543.9 113.8h0M550.9 86h0M535.2 102.4h0M518.6 96.5h0M547.2 102.9h0M549.6 103.9h0M526.5 102.2h0M537.2 101.3h0M543.7 85.3h0M512.6 122.8h0M547.2 136.3h0M546.6 113h0M547.5 126.3h0M555 108.1h0M527 123.1h0M549 109.4h0M563.6 97.6h0M513.8 115.5h0M534.5 118.1h0M546.3 101h0M530.6 118.2h0M518.4 110.7h0M542 111.4h0M540.4 124.2h0M530.5 99.3h0M541.1 122h0M548.5 99.8h0M549.5 105.7h0M543.1 121.8h0M524.8 113.8h0M535 100.3h0M513.3 113.1h0M526.7 85.3h0M540.2 120.9h0M544.4 96.6h0M538.1 128.3h0M538.2 112.8h0M516.8 98.8h0M524.2 131.2h0M525.6 106.9h0M531.8 122.3h0M531.7 124.8h0M562.3 118.2h0M549.4 116.1h0M526.9 115.5h0M530.9 116.7h0M532.2 119.6h0M531.8 139.2h0M532.5 95h0M515.7 86.4h0M551.1 104.9h0M545.7 113.2h0M545.2 121.1h0M539.3 106.9h0M543.3 106.9h0M534.2 120.2h0M516.3 112.1h0M539.5 101.7h0M538.4 106.8h0M523.6 110.7h0M513.4 108.7h0M550.7 118.2h0M526.8 110.7h0M535.8 109.3h0M530.4 118.4h0M556.7 111.4h0M521.6 99.9h0M549.7 98.4h0M510.1 134.7h0M548.3 126.2h0M532.6 98.9h0M513.2 105.3h0M538.7 105.2h0M537.2 125.8h0M520.2 109.3h0M542 103.6h0M537.7 105.3h0M543.3 118.2h0M522.5 116.6h0M529.7 106.6h0M527.3 108.1h0M539.4 95.5h0M532.2 135.5h0M526.9 116.8h0M553.3 96.2h0M532.1 123h0M550.1 108.9h0M547.3 94h0M530.1 121.5h0M517.7 106.4h0M540.2 88.6h0M545.5 124.4h0M551 132.4h0M542.3 98.3h0M542.8 115.6h0M531 110.7h0M530 109.3h0M573.7 96.3h0M550.7 113.4h0M523.3 99h0M541.4 101.6h0M543.1 110.3h0" stroke="#848484" stroke-width="2.6" stroke-linecap="round" fill="none" />
<path d="M553.7 115.2h0M545.1 94.9h0M524.5 97.2h0M548.1 111.9h0M558.9 112.3h0M546.7 132.3h0M536.2 117.7h0M549.3 131.3h0M554.1 124.6h0M524.2 127.7h0M528.6 109.5h0M517.2 114.8h0M533.9 99h0M526.4 98.1h0M541.9 135.6h0M559.5 103.9h0M550.1 122.6h0M533.4 85.3h0M530.9 115h0M542.2 101.4h0M547.6 133h0M539 126.9h0M547.1 88.5h0M533 109.9h0M531.4 110.7h0M523.7 120.9h0M554.9 106.7h0M543.2 132.2h0M532.4 129.4h0M520.2 127.6h0M537.4 108.8h0M526.6 122.9h0M520.2 121h0M537.5 104h0M518.2 96.5h0M559.2 118.2h0M532.8 93.9h0M518.3 109.2h0M530.8 99.2h0M530 126.9h0M530 103.6h0M543.7 113.3h0M545.4 100.6h0M531.6 88h0M553.2 113.5h0M527 129.3h0M535.7 135.9h0M528.9 107.5h0M558.8 101.4h0M555.1 105.3h0M541.4 131.9h0M563.2 114.6h0M515.9 107.2h0M533.2 134.4h0M533 101.2h0M539.2 135h0M535.5 84.1h0M520.7 92.2h0M542.5 134.3h0M515 111.1h0M519.3 112.7h0M563.3 105.3h0M530.8 88.7h0M538 102.1h0M524.6 103.2h0M542.5 102.3h0M560.7 122.4h0M539.4 112.1h0M544.2 128.7h0M520.5 97.9h0M528.4 124.3h0M525 88.9h0M535.5 95h0M552.3 119.3h0M541.4 123.3h0M554.5 129.3h0M525 126.4h0M528.3 131h0M558.6 112.4h0M523.6 118.5h0M538.3 107.7h0M544.5 87.7h0M560.9 123.2h0M541.9 98.6h0M557.9 102.1h0M520 119.7h0M543.3 107.2h0M520 105.8h0M530.3 90.2h0M526.6 89.5h0M539.6 130.2h0M537.9 109.1h0M554.7 120.6h0M548.9 134.5h0M549.3 126.9h0M535.9 88.9h0M537.1 108h0M535.5 86.1h0M525.5 101.7h0M536.6 102.5h0M519.2 95.6h0M528.3 121.1h0M518.6 125h0M539.6 125.9h0M544.7 120.9h0M519.6 92.9h0M541.4 112.6h0M524.3 100.1h0M542.4 89.4h0M519.2 93.9h0M534.9 90.7h0M538 92.2h0M548.5 101.5h0M548.9 120.5h0M538.9 96.4h0M553.3 121.4h0M544.6 114.3h0M562.1 112.1h0M523.5 90.2h0M554.5 107.6h0M542.5 132.1h0M545 136.2h0M558.3 123.1h0M520.8 113.7h0M543 116.6h0M531.2 95.3h0M550.9 105.7h0M539.5 103.1h0M544.6 117h0M538.7 129.8h0M551.3 91.7h0M535.8 106.1h0M525.7 108.2h0M545 114.1h0M548.1 130.9h0M541 88.3h0M538 98.5h0M557.3 122.5h0M539.2 129h0M539.1 135.8h0M520.1 94.5h0M558.3 124.6h0M547.7 89.5h0M564 105.1h0M557.4 118.6h0M554.6 95.7h0M545 109.9h0M546.2 128.1h0M516.7 106.9h0M559.9 121.4h0M529.4 108.8h0M521.7 130.3h0M525.3 106.1h0M528 112.7h0M538.5 106.8h0M550.7 102.4h0M515.1 108.5h0M520.5 107h0M535.6 114.1h0M551.8 100h0M535.9 91.9h0M556.4 95.8h0M559.4 108.7h0M537.8 97.4h0M554.6 95.4h0M544.8 91h0M532.1 113.4h0M517.6 115.2h0M534 89.2h0M562.3 106.3h0M557.3 119.1h0M561.6 112.8h0M530.1 97.3h0M522.2 125h0M540.9 107.6h0M525.6 128.8h0M539.2 108.9h0M519.3 113.4h0M556.5 117.4h0M539.2 118.9h0M534.9 93.5h0M547 119.9h0M532.5 87.5h0M532.5 126.5h0M539.2 91.1h0M544.5 116.9h0M552.3 94h0M541.7 97.1h0M523.9 130.3h0M561.4 103.9h0M538.4 117.8h0M532.7 99.3h0M543.5 117.8h0M533.4 85.6h0M525.2 127.7h0M534.8 111.1h0M546.3 129.8h0M533.6 87.8h0M542.3 109.7h0M548.9 117h0M536.8 98.2h0M544.4 118.7h0M534.2 103.2h0M529.6 91.4h0M537.1 100.5h0M543.3 132.5h0M547.9 95.1h0M534.6 119.7h0M520.7 108.3h0M515.1 117.7h0M553 131.2h0M564.3 108.5h0M530.3 129.1h0M530.6 116.1h0M538.3 99.7h0M561.5 108.5h0M554.4 122.5h0M518.2 125.2h0M563 111h0M520.1 121.4h0M519.5 95.9h0M526 124.6h0M562.7 117.2h0M544.3 92.4h0M558.5 112.7h0M525 87.7h0M515.7 107.2h0M519.8 116.5h0M545.8 102.7h0M538.5 100.3h0M526 88.7h0M537.9 108.4h0M558.8 106.5h0M537.6 132.5h0M549.8 121.4h0M536.5 98h0M558.5 108.4h0M518.9 127.3h0M520.5 106.7h0M554.2 96.4h0M551.7 121.8h0M529 118.9h0M545.3 130.8h0M555.7 95.8h0M521.9 101.2h0M522.7 129.5h0M516.2 97.3h0M542.9 119.4h0M551.2 115.8h0M542.6 132.8h0" stroke="#848484" stroke-width="2.6" stroke-linecap="round" fill="none" />
<path d="M546.5 122.8h0M535 153.2h0M529.8 100.4h0M561.3 121.9h0M561 101.8h0M537.5 124.7h0M528.1 104.6h0M527.5 114.5h0M519.4 116.1h0M518 111.7h0M532.9 105h0M526 139.4h0M541.5 90.6h0M529.2 94.3h0M522.8 105.6h0M531.1 137.4h0M498.3 97.1h0M542.8 110.8h0M533.4 84.1h0M558.5 118.3h0M530.2 113.9h0M534.8 94.8h0M522.9 145.7h0M569.5 117.2h0M541.4 113.7h0M556.1 148.5h0M531.9 126.2h0M546.2 107h0M522.4 105.3h0M527.5 83.9h0M532.4 95.3h0M523.2 132.6h0M548.4 98h0M550.1 104.5h0M555.5 109h0M522.8 129.3h0M528 80.4h0M536.3 82.1h0M547.1 105.8h0M517.4 124h0M532.8 129.3h0M552.9 129h0M538.4 96.2h0M535.2 138.5h0M519.4 92.1h0M531.7 113.5h0M547.6 104.9h0M552.6 98.3h0M510.7 71.6h0M543 98.6h0M531.1 113.4h0M522.2 104.5h0M565.3 108.4h0M547 110h0M519.9 108.9h0M520.8 126.9h0M539.4 105.5h0M513.6 132.7h0M533.4 92.1h0M544.2 116.7h0M516 129.6h0M539.2 99.9h0M543.2 99.5h0M526.3 108.8h0M542.2 135.2h0M546.6 131.8h0M543 101.7h0M526 73.7h0M549.6 106.3h0M531.3 105.7h0M539.6 100.9h0M537.3 124.7h0M536.3 92.4h0M505.2 120.7h0M552.4 109.8h0M543.7 123.7h0M538.3 130.2h0M545.8 123h0M529.8 125.6h0M534 117h0M544.1 85.3h0M502.9 105.7h0M524.8 119.6h0M527.1 103.7h0M531.6 119.8h0M527.9 92h0M524.2 97.5h0M540 116.2h0M548.4 111.2h0M543.3 109.2h0M552.1 126.9h0M544.2 129.1h0M559.1 112.6h0M560.8 125h0M529.2 110.8h0M523.7 96.5h0M527.1 113.9h0M530.9 100.8h0M547.5 81.6h0M544.3 117.3h0M539.6 86.9h0M525.9 123.7h0M529.8 129h0M533.2 107.3h0M539.7 112.9h0M489.6 134.2h0M540.2 89.2h0M543.9 96.3h0M525.1 126.1h0M558.3 113.5h0M548.2 111.5h0M547.1 130.4h0M511.7 104.9h0M548.6 132.3h0M538.7 138.4h0M539.3 86.7h0M500.7 120.5h0M512.2 122.6h0M531.5 113.9h0M515.5 122h0M556.6 75.2h0M518.8 102.7h0M547.8 96.5h0M541.9 95.7h0M580.2 75.5h0M537.1 146.7h0M559.4 97.5h0M529.5 107.3h0M518.6 108.9h0M541.9 91.1h0M556.2 100h0M528 138.4h0M552.6 106.1h0M545.5 112.9h0M536.7 92h0M539.7 144.2h0M538.6 99.8h0M527.1 107.8h0M538.8 99.4h0M543.1 103.8h0" stroke="#848484" stroke-width="2.6" stroke-linecap="round" fill="none" />
<path d="M581.5 92.6h0M529.5 62.5h0M577.5 84h0M495.8 110h0M582 128.5h0M575.5 105h0" stroke="#848484" stroke-width="2.6" stroke-linecap="round" fill="none" />
<path d="M537.5 92.3h0M581.7 83.8h0" stroke="#ff0000" stroke-width="2.8" stroke-linecap="round" fill="none" />
</g>
<ellipse cx="537.4" cy="110.5" rx="25.3" ry="28.6" transform="rotate(0 537.4 110.5)" fill="none" stroke="#111" stroke-width="1.0"/>
<ellipse cx="538.9" cy="110.5" rx="27.8" ry="29" transform="rotate(0 538.9 110.5)" fill="none" stroke="#0000ff" stroke-width="0.8"/>
<circle cx="537.1" cy="110.5" r="1.35" fill="#a8c8a8" stroke="#00e000" stroke-width="1"/>
<line x1="539.5" y1="108.5" x2="597" y2="55" stroke="#000" stroke-width="1.2"/>
<rect x="613.5" y="21.5" width="58" height="57.5" fill="#fff"/>
<line x1="642.5" y1="21.5" x2="642.5" y2="79" stroke="#e4e4e4" stroke-width="1"/>
<line x1="613.5" y1="50.5" x2="671.5" y2="50.5" stroke="#e4e4e4" stroke-width="1"/>
<g clip-path="url(#ci2)">
<path d="M636.6 46.6h0M644.7 54h0M642.6 54h0M640.4 50.9h0M645.5 56.3h0M642.6 50.6h0M647.6 49.8h0M645.9 50.7h0M639.4 52.9h0M645 42.4h0M642.7 51.4h0M642.6 51.4h0M642.3 47.7h0M645.7 47.7h0M640.3 55.5h0M644 49.1h0M638.2 49.8h0M643.7 54.3h0M639 46.3h0M639 60h0M642.6 48.1h0M639.4 48.5h0M645.9 45.5h0M639.5 48.6h0M647.4 47.3h0M645.1 49.1h0M643 46.7h0M644.6 41.9h0M643.3 55.2h0M649.7 53.6h0M644.2 53.3h0M641 52.8h0M643.8 53.1h0M641.7 48.2h0M642.5 61.5h0M641 48.6h0M641.1 46.3h0M645.2 58.4h0M642.6 49.3h0M645 51h0M641.8 47.1h0M642.4 49.9h0M641.3 52.6h0M646.5 52h0M647.5 46.3h0M642.5 53.6h0M645.4 47.9h0M638.5 45h0M639 54.2h0M644.9 52h0M637.6 50h0M650.9 47.9h0M645.7 53.7h0M647.8 49.8h0M642.5 48.2h0M638.7 52.9h0M640.1 51.9h0M640.2 46.3h0M645.2 55.5h0M639.7 44.6h0M640.3 47.8h0M647.4 52.1h0M639.1 50.5h0M640.9 53.8h0M646.8 53h0M637.9 55.7h0M635.6 48.9h0M640.7 50.8h0M643.4 48h0M642.6 46.8h0M641.1 53.2h0M638.9 52.6h0M645.3 51.8h0M641.2 48.4h0M640.8 56.7h0M642.9 52.2h0M647.1 53h0M643.3 51.2h0M650.5 51.9h0M641.8 55.1h0M644.6 54.7h0M636.4 55h0M640.8 51.3h0M642.7 51.4h0M640.7 46.6h0M640.4 50.1h0M641.1 48.8h0M639.9 47.8h0M641.2 50.9h0M643 51.1h0M643.9 48.2h0M639.6 44.6h0M642.2 49.9h0M640.4 50.9h0M645.5 52h0M648 47.5h0M643.4 46h0M644 44h0M642 50.8h0M644.3 48.6h0M642.2 53h0M639 45.5h0M646.5 55.7h0M649.5 50.1h0M644.7 50h0M642.8 51.3h0M644.2 53.4h0M647.8 53.7h0M641.4 43.9h0M645 48.7h0M643.4 52.4h0M636.3 52.9h0M641.8 51.6h0M644.5 47.5h0M643.9 52.3h0M642.5 50.1h0M639.1 50.8h0M643.6 55.3h0M643.4 50.4h0M644.5 52.5h0M648.2 56.2h0M643 54.5h0M646.1 46.2h0M644.3 46.8h0M644.4 54.7h0M650.8 50.1h0M639.9 48.8h0M639.2 50.5h0M644.3 46.4h0M642.5 52.9h0M646.8 47.5h0M645.3 54.1h0M645.4 51.7h0M640.6 50.5h0M642.8 52.8h0M645.5 49.9h0M641.2 50.7h0M643 55.2h0M646.6 57h0M642.8 52.8h0M643.7 56h0M646.6 45h0M644.3 51.3h0M638.6 50.7h0M643.3 49.1h0M643.1 52.8h0M644 57.9h0M649.9 52.7h0M646.4 55h0M643.4 55.9h0M641 55.8h0M645.5 51.1h0M643.6 48.6h0M646.9 55.1h0M644 54.1h0M646 49.2h0M640.6 56.9h0M642.5 47.9h0M643.2 46.4h0M640.5 50.7h0M644.2 46.1h0M641.9 50.3h0M641.9 50.7h0M640.9 48.8h0M642.7 51.2h0M638.1 46.3h0M645.7 42.6h0M644.2 53.9h0M644.7 54.3h0M646.7 54h0M643.8 49.4h0M642.1 52.6h0M647 49.7h0M641.8 55.3h0M643.4 46.6h0M636.5 52h0M641.3 49.2h0M642.9 53.5h0M644.9 51.2h0M644.5 44.4h0M645.8 49.7h0M641.2 47.3h0M641.2 52.6h0M643.5 54.1h0M640.5 46.5h0M641.7 52.5h0M643.1 47.2h0M636.9 49.1h0M638.1 51.5h0M644.1 55.4h0M640.7 52.6h0M645.1 53.3h0M641.4 49.2h0M639.7 50.4h0M644.7 53.2h0M642 51.5h0M643.9 51.5h0M640.8 52.4h0M640.4 57h0M641.8 55.9h0M640.4 56.1h0M642.2 52.4h0M639.7 48.1h0M643.8 46.7h0M645.1 51.5h0M644.2 47.3h0M639 43.9h0M646.4 49.9h0M637.5 59.1h0M643.4 51h0M643.1 51.5h0M645 50.7h0M640.7 51.6h0M641.2 46.1h0M646.2 52h0M646.1 53.9h0M639.7 51.9h0M641.9 52.1h0M640.4 51.1h0M635 53.6h0M646.1 46.9h0M640.8 43.8h0M642.9 49.2h0M643.5 50.9h0M638.9 53.2h0M645.5 48.3h0M640.7 51.6h0M638.4 50.8h0M643.7 53.6h0M643.2 49.3h0M641.1 53.3h0M642.6 53.7h0M647.8 50h0M644.8 50.4h0M642.8 49.3h0M641.7 48.4h0M648.2 48.7h0M641.4 47.1h0M636.9 53.6h0M646.4 52.5h0M641.3 50.5h0M636.2 51.4h0M638.5 51.1h0M638.7 56.4h0M636.2 54.2h0M640.5 49.8h0M640.9 53.5h0M647.6 45h0M642.5 49.2h0M641 48.2h0M642.2 52.1h0M643.3 49h0M645.7 48.1h0M646.7 48.3h0M636.9 45.7h0M638.3 46.1h0M642.7 47.4h0M648.5 52.2h0M641.2 51.9h0M646 53.6h0M641.1 57h0M641 54.2h0M642 44.3h0M646.9 48.6h0M641.3 56.4h0M643 51.5h0M643.7 52.3h0M645.5 51.7h0M642.9 45.9h0M645.4 52.4h0M647.8 50.3h0M645.1 47.3h0M641.6 52.2h0M642.3 57.1h0M643.6 50.2h0M642 46.2h0M639.4 50.4h0M640 47.6h0M641.1 42.1h0M636.9 49.1h0M651.5 52.2h0M645.3 47.4h0M641.1 50.5h0M640.5 50.3h0M646.5 49.2h0M638.5 49.4h0M639.7 49.6h0M645.9 49.8h0M642.5 50.3h0M645.1 52.6h0M643.1 49h0M642.8 47.8h0M640.8 52.6h0M644.2 48.4h0M643.5 58.5h0M643.5 49.9h0M641.5 57.9h0M646.4 51.7h0M643 51.9h0M644.6 54h0M639.3 52.3h0M637.8 50.3h0M645 49.6h0M640.8 47.5h0M640.3 47.3h0M643.9 53.8h0M646.8 42.1h0M641.9 57h0M641.9 54.1h0M644.1 49.7h0M644.4 57h0M643 57.5h0M637.3 54.8h0M645.1 42.1h0M640.5 43.5h0M649 53.1h0M640.7 46.4h0M643.4 52.2h0M642.6 49.2h0M643.4 52.1h0M650.3 49.5h0M642 50.7h0M645.9 44.6h0M642.8 50.5h0M641.7 47.5h0M645.1 54.4h0M643.8 48.2h0M642.2 52.3h0M639.9 52.7h0M644.1 50.1h0M642.4 51.1h0M644.7 50.1h0M641.1 53.4h0M638.5 46.3h0M641 53.1h0M637.2 51.4h0M644.9 54.8h0M643.3 55.4h0M644.1 43.8h0M642.8 51.4h0M647.5 51.1h0M646.9 50.8h0M646.3 53.9h0M634.7 57.5h0M640.1 49.9h0M643.1 50h0M645.5 52.9h0M634.5 53.2h0M647.6 50.1h0M643.8 53.6h0M647.6 55.4h0M639.3 48.6h0M640.5 55.1h0M639.7 47.7h0M640.9 55.1h0M640.5 47.2h0M637.5 47.4h0M646.7 45.5h0M644.4 49.3h0M640.3 50.3h0M636.6 49.9h0M646.3 49.1h0M635.9 49.5h0M639.4 48.6h0M639 49h0M640.6 50.9h0M644.2 48.3h0M645.4 50.9h0M643.7 46.5h0M639.2 45.5h0M646.7 53.1h0M646.4 47.5h0M645.1 50.7h0M649.9 46.7h0M639.5 44.9h0M640.4 45.4h0M640.4 47.1h0M640.9 55h0M644.7 47.7h0M643.4 51.1h0M641.5 48.9h0M646.2 50.7h0M642.5 45.9h0M641 54.2h0M640.8 51h0M638.8 48.6h0M642 53.2h0M640.1 44.7h0M642.4 47.7h0M643.8 51.6h0M644.1 56h0M641.3 48.5h0M648.4 56.9h0M639.2 54.6h0M644.8 47.1h0M642.8 52.2h0M643.6 54.4h0M640.7 46.8h0M640.3 55.7h0M644.6 44.7h0M637.5 55.4h0M643.1 54.5h0M638.3 56.4h0M637.2 53.4h0M642.9 51.4h0M641 44.6h0M648.5 56.8h0M637.4 52.8h0M643.1 53.5h0M643 48.3h0M643.2 42.3h0M641.3 52.2h0M637.8 47.2h0M644.9 50.3h0M644.9 52.5h0M643.9 45.7h0M643.5 52.1h0M646.3 47.6h0M645.6 48.3h0M644.8 53.2h0M640.8 45.1h0M645.7 48.3h0M640.1 49.5h0M643.9 54.1h0M639.7 50.1h0M642.2 52.8h0M645.1 46.4h0M641.8 44.9h0M645.6 49.8h0M641.3 56.1h0M647.7 52.3h0M642.2 48.8h0M650.5 48.1h0M644.9 55.3h0M642.6 52.7h0M639.3 45.2h0M641.4 43.2h0M648.6 57.4h0M638.9 51h0M638 50.4h0M643.6 51.7h0M646.5 50.1h0M641.6 49.8h0M640.1 50.2h0M642 43.1h0M642 49.2h0M646.1 48.7h0M648.4 54.3h0M642.3 53.9h0M640.2 49h0M639.1 49.9h0M637.5 50.7h0M642.5 57.5h0M638 54.3h0M644.8 47.9h0M642 55.6h0M640.6 47h0M647 54.5h0M637.4 50.8h0M645.4 46.1h0M643 48.8h0M643.5 49.7h0M642.6 54.3h0M639.3 55.2h0M644.5 44h0M646.3 48.6h0M636.6 54.3h0M643 52.2h0M642.3 52.3h0M641.8 52.8h0M643.9 53.2h0M642.1 55.1h0M641.4 49h0M646.3 42.2h0M639.7 52.2h0M641.4 48.1h0M641.4 44.3h0M640.2 50.6h0M641.1 47.6h0M646.9 50.1h0M640.1 42.9h0M650.2 52.3h0M637.9 50.2h0M635.3 51h0M640.5 47.7h0M638.8 47.4h0M646.4 53.8h0M644 52.7h0M639.4 49.4h0M642 46h0M641.7 52.2h0M650.6 48.5h0M643 53.4h0M643.4 47.8h0M644.2 51h0M643.3 51.6h0M642.6 48.3h0M640 52.3h0M642.9 45.4h0M643.2 55.1h0M638.6 48.8h0M642.8 48.8h0M638.8 49.7h0M637.5 49h0M642.4 47.8h0M644.2 51h0M645.4 48.1h0M640.9 49.2h0M638.2 50.9h0M639.9 49.6h0M641.8 47.4h0M642.2 53.2h0M644 57.4h0M642 48.2h0M645.8 53.5h0M640.7 47.8h0M644 49.3h0M644.5 46.4h0M643.8 48.2h0M644.2 47.6h0M639.3 50h0M645.3 49.1h0M641 58.2h0M642 47.2h0M639.5 52.6h0M643.7 53.3h0M641.3 44h0M640.5 44.2h0M644.7 53.5h0M640.3 46.1h0M643.7 49.2h0M643.2 40.8h0M644.2 46.5h0M642.8 49.5h0M638.9 54.4h0M643.1 57.7h0M643.7 48.2h0M648.3 55.7h0M648.3 50.4h0M645.3 49.6h0M645.6 49.7h0M634.9 49.6h0M641 45h0M639.3 50.2h0M644.5 46.4h0M644.3 51.7h0M644.3 60.2h0M644.4 45.8h0M643.8 56.4h0M642.3 46.4h0M640.9 49.3h0M644.8 54.2h0M642.7 52.3h0M645.9 54.8h0M641.3 55.4h0M641.8 49.5h0M640.3 48.6h0M644.7 52.8h0M640.2 52.3h0M635.5 56.7h0M640.2 42.8h0M640.6 54.2h0M642.6 52.3h0M641.6 49.4h0M646.5 47.6h0M643.6 47.7h0M645.6 47.7h0M646.9 56.3h0M645.9 50.6h0M645.5 49.6h0M641.3 50.7h0M644 52.6h0M642.4 53.2h0M645 50.5h0M640.9 49.8h0M644.7 47.7h0M641.2 50.4h0M645 50h0M646.4 48.3h0M646.4 49.4h0M641.5 55.1h0M646.7 53.4h0M637.5 51.6h0M643.2 54.9h0M638.4 51h0M642.8 54.7h0M639.1 50.5h0M642.6 55.8h0M640.6 52.5h0M646.6 49.4h0M649.3 46.3h0M645.4 51h0M645.9 51.1h0M644.2 46.6h0M642.5 49.8h0M642.1 48.4h0M639.2 51.5h0M640.4 45.9h0M645.2 50.5h0M641.5 57.5h0M643.9 54.1h0M640.1 50.5h0M649.7 56.1h0M646.9 49.2h0M642.5 53.6h0M648.5 51.7h0M644.4 49h0M646.1 52.4h0M642.3 59.1h0M641.4 47.5h0M647.1 47.4h0M645.1 56.7h0M645.3 48.2h0M645.9 50.2h0M643.2 48.9h0M641.5 47.9h0M644 52.3h0M637.5 46.9h0M643.1 46.8h0M646.2 49.7h0M642.2 52.6h0M648.5 55.8h0M641.8 50.5h0M639.7 53.9h0M644.6 55.5h0M642.3 52.3h0M644.7 53.6h0M640.9 49.8h0M644.5 44.8h0M643.2 53.4h0M643.6 46.5h0M645.7 52.6h0M640.5 47.6h0M642.3 46.3h0M646.2 50.1h0M646.5 46h0M645 50.9h0M639.5 49.9h0M643.4 49.8h0M641.6 56.1h0M641.9 53.5h0M638.2 49.7h0M636.5 53.5h0M645.8 52h0M645.3 49.4h0M638.5 45.7h0M641.8 48h0M643 57.7h0M641.1 50.8h0M644.3 52.6h0M641.6 56.8h0M638.6 48h0M641.5 54.5h0M644.2 41.3h0M640 46.8h0M645.1 42.7h0M646 50.5h0M644.6 50.6h0M644.5 47.9h0M642.5 48.2h0M644.4 61.2h0M640.6 52.1h0M635.7 52.5h0M640.7 47.3h0M647.1 47.7h0M645.9 51.3h0M639.6 49.4h0M642.1 50h0M640.6 49.5h0M639.2 44.3h0M641.8 51.9h0M645.1 51.4h0M642.9 52.6h0M642 53.1h0M636.2 57.2h0M649.3 49.1h0M639.2 51.3h0M642.8 55.5h0M645.2 49.2h0M643.3 54.8h0M645.2 48.8h0M635.7 49h0M640.1 46.7h0M640.7 50.1h0M638.7 58.2h0M638 57.3h0M645.3 50.9h0M638.9 52.5h0M646 54.8h0M645.4 46.7h0M641.7 49.1h0M638.5 49.9h0M640.9 43.8h0M640.5 47.7h0M640.7 48.3h0M640.4 49.4h0M642.8 49.8h0M641.8 42.3h0M642.5 52.2h0M642.6 48.7h0M646.3 52.3h0M648.7 52.7h0M642.7 49.9h0M642.4 57h0M642.2 44.3h0M645.6 50.3h0M644.8 50.8h0M643 55.7h0M642.3 50.1h0M644.4 52.5h0M645.8 51.2h0M641.4 58h0M644 49.3h0M637.3 47.2h0M640.7 48.7h0M644.1 52h0M638 55.7h0M638.2 41.9h0M643.4 45.8h0M636.8 55.7h0M641.7 48.9h0M648.9 47.8h0M643.7 48.8h0M647.9 47.3h0M647.4 46.6h0M640.4 50.8h0M642.1 47.7h0M643.8 56.8h0M646 41.3h0M647 52.5h0M645 47.9h0M643.7 56.6h0M639.6 46.9h0M645.8 52.3h0M641 56.5h0M645.7 52.5h0M646.7 48.2h0M638.4 49.8h0M648.7 51.2h0M642.1 55.9h0M645.9 51h0M645.5 52.8h0M648.3 46.4h0M646.3 50.7h0M647.6 55.1h0M645.2 49.5h0M640.4 48.7h0M642.2 49.1h0M644.8 54.7h0M645.6 52.4h0M643.2 52h0M640.6 47.8h0M639 44h0M643 54.4h0M651.8 48.9h0M642.4 53.6h0M641.3 52.4h0M644.6 48.3h0M644.9 46.4h0M643.1 53.9h0M636.7 42.7h0M640.7 41.9h0M640.9 56.2h0M644.6 47.4h0M640.9 51.1h0M642 54.4h0M639.4 58.2h0M641.1 46.7h0M649.4 49.8h0M645.2 53.8h0M644 50.4h0M640.2 47.5h0M639.1 53.9h0M645.8 44.2h0M642.7 54.1h0M644.5 50.3h0M643.7 50.4h0M643.1 47.9h0M635.3 49.5h0M645.5 54.3h0M648 51.4h0M643 54.6h0M642.3 52.6h0M643.4 49h0M642 49.4h0M637.3 50.6h0M641.7 48.8h0M642.7 55.6h0M646 46.2h0M639.8 56.7h0M641.8 47.9h0M642.8 47.2h0M644.2 50.3h0M648.6 45.7h0M644.7 56.5h0M644.8 56.4h0M639.2 55.7h0M647.6 56.9h0M637.6 55h0M646.8 43.7h0M645.4 52.9h0M643.1 47.8h0M639.6 53.6h0M644.4 49.4h0M641.4 48.8h0M646.9 47h0M634 52.6h0M643.1 54.5h0M634.9 46.4h0M643 51.8h0M641.9 52.1h0M645.3 50h0M639.4 49.7h0M639.8 54.8h0M636.3 55.3h0M641.4 53.1h0M643.3 53h0M642 53.2h0M639.8 48.3h0M642.1 50.2h0M644.5 50.6h0M643.7 47h0M636.9 53.4h0M641.3 57.4h0M640.1 57.9h0M634.4 49.6h0M644.6 48.7h0M643.7 47.5h0M639.6 53h0M644.3 50.2h0M643.5 54.7h0M641.3 46.4h0M643.7 51h0M642.1 48.2h0M640.7 51.4h0M645.9 49.6h0M638 43.7h0M648.5 53.5h0M643.5 50.6h0M641.5 51.1h0M644 50.1h0M639.9 47h0M641.5 50.6h0M648.7 53.3h0M644.2 56.6h0M642.3 51.2h0M642.3 48.5h0M645.5 54.8h0M645.5 49.7h0M641.8 49.6h0M646.3 50.4h0M642.7 52.7h0M642.6 46h0M645 50.9h0M640.5 50.3h0M638.1 48.9h0M642.3 56.6h0M645.4 44.7h0M641.9 50.3h0M645.4 51.2h0M646.4 51.2h0M641.7 55.9h0M642.8 42.8h0M642.4 49.2h0M644.7 47.3h0M644.3 45.3h0M643.4 48.3h0M646.9 52h0M644 49.4h0M643.6 57.5h0M640.6 44.9h0M643 51.7h0M646.8 51.6h0M644.9 50.9h0M643.2 52.8h0M642.5 49.6h0M640 52.4h0M640.6 49.6h0M645.9 48.8h0M642.9 47.2h0M643.1 49h0M646.6 53.2h0M641.6 48.8h0M641.4 53.2h0M647.1 49.9h0M644.7 50.6h0M638.1 55.3h0M642.8 46.4h0M640.5 50.3h0M641.3 53.9h0M642.1 52.7h0M637.9 52h0M640.7 55.7h0M648.3 49.1h0M642.2 51.1h0M641.4 57.1h0M645.7 46.5h0M638.8 52.7h0M642.2 52.9h0M646.7 51.9h0M642.9 52.3h0M643.9 47.7h0M642.2 51.3h0M643.9 50.4h0M645 52.2h0M642.4 51.4h0M643.2 57.5h0M643.6 54.4h0M637.2 58.5h0M645.6 54.5h0M648.3 52.4h0M645.3 53.6h0M643.6 55.7h0M641.8 48h0M644 45.5h0M648.7 45.7h0M647.3 53.6h0M640.8 49.6h0M647.4 49.8h0M640.8 51.3h0M641 53.7h0M642.5 49.5h0M644.8 48h0M642.2 49.1h0M645.9 53.6h0M643.8 50.2h0M647.6 53h0M638.8 54.5h0M643.3 49.9h0M644.9 47.9h0M647.5 46.4h0M636.7 48.9h0M642.2 47.1h0M637 51.5h0M644.2 46.1h0M641.3 51.4h0M643.9 49.3h0M645.9 53.6h0M645.5 46.8h0M642.3 51.1h0M644.8 53.3h0M641.5 52h0M644.7 48.7h0M641.5 47.4h0M645.5 45.3h0M640.6 50.9h0M644.8 48.5h0M638.6 49.3h0M643.6 53.3h0M639.6 53.9h0M641.2 58.8h0M645.7 50.4h0M639.7 49.2h0M636 50.2h0M638.1 53.9h0M643.6 59.5h0M646.3 47.7h0M643.3 39.6h0M643.2 51.7h0M646.2 50.3h0M642.9 50h0M647 49.8h0M647.4 42.7h0M642.1 51.7h0M646.8 48h0M645.1 51.6h0M642.6 48.8h0M642.9 47.3h0M646.2 44h0M639.3 55.6h0M638.2 50.3h0M646.5 51.9h0M648.8 56.2h0M643.8 52.4h0M646.1 51.5h0M638.1 42.3h0M639 54.7h0M641.3 53.8h0M641.9 46.5h0M643.4 45.1h0M641.5 52h0M642.8 50h0M642.4 55.8h0M644.8 45.8h0M646.2 50.3h0M645.6 52.9h0M647.1 52.2h0M642.4 46.1h0M641.6 45.4h0M637.3 48.9h0M637.9 58.3h0M645.4 47.6h0M644.4 48.9h0M643 53.7h0M642 52.2h0M639.2 55.5h0M636.3 48.1h0M641.1 48.2h0M642.1 53.5h0M635.2 49.7h0M646.9 50.5h0M640.9 46.9h0M644.2 47.8h0M646.8 47.7h0M647.4 48.3h0M642 48h0M645.8 49.4h0M645.6 49.3h0M643.1 54.4h0M643.9 56.9h0M640.2 49.4h0M643.7 56.2h0M640.9 52.3h0M642.2 42.5h0M643.2 51.5h0M645.7 45.4h0M642.2 54.5h0M642.1 48.7h0M641.6 56.2h0M651.1 55.7h0M641.6 48.8h0M644.3 47.1h0M638.3 54.4h0M643 47.4h0M639.3 50.3h0M641.2 54.1h0M645.1 50.1h0M648.1 53.2h0M643.4 57.6h0M644.7 51.8h0M643.4 53.1h0M641.5 48.5h0M643.1 40.9h0M645.8 51.2h0M643.5 50.7h0M641.7 52.6h0M641.4 50.8h0M644.3 48.4h0M641.9 48.5h0M645.7 50.9h0M638.6 47.4h0M645.2 45.7h0M640.4 51.5h0M642.6 50.5h0M649.3 52.7h0M646 48.7h0M641.3 50.1h0M641.7 47.3h0M645.6 49.2h0M645.7 53.6h0M642.8 56.8h0M645.2 49.6h0M641.6 52.2h0M634.6 48h0M646.2 45.4h0M641.4 48.6h0M644.7 49.8h0M642.4 49.5h0M642 47.7h0M640.2 51.3h0M645.2 54.7h0M645.4 48.7h0M646.7 52.1h0M645 52.7h0M644.2 54.2h0M641.3 53h0M643 54.2h0M644.2 50.9h0M635.4 46.1h0M639.4 46.8h0M642.3 49h0M645.4 47.2h0M647.1 47.9h0M648.1 49.9h0M640.6 50.5h0M643.1 49.2h0M641.3 51.9h0M640.4 57.6h0M641.8 47.1h0M643.2 48.7h0M645.3 46.5h0M638.4 54.7h0M642.5 53.8h0M639.9 45.9h0M647.1 52.4h0M648 45.7h0M641.4 52.1h0M640.7 50.7h0M644.7 50.9h0M645.8 44.4h0M639.9 51.4h0M641.6 51.4h0M643.7 55.4h0M639.7 51.2h0M647.4 50.5h0M643 48.2h0M643 52.6h0M639.3 53.6h0M646.5 53.4h0M638.8 54h0M640.6 50.2h0M641 45.7h0M642.4 51h0M638.5 55.9h0M640.5 55.2h0M644.6 48.3h0M642.7 58.1h0M643.2 55.7h0M645.8 53.8h0M644.2 47.3h0M645.9 53.2h0M642.9 54.2h0M640.1 58.7h0M647.8 49.2h0M637.7 49.8h0M638.7 55.1h0M639.3 54.9h0M650 54h0M643.1 49h0M646.1 48.5h0M638.1 51.8h0M639.5 52.5h0M643.8 54.1h0M641.4 48.2h0M643.2 45.2h0M644.6 54.8h0M643.1 50.5h0M643.1 50.3h0M643.5 54.3h0M642.2 45.7h0M643.8 50.8h0M645.8 49.6h0M640 52.5h0M643.7 50.7h0M645.5 53.2h0M642.3 46.2h0M642.6 49.3h0M648.4 47.7h0M646.2 54.7h0M649.8 55.4h0M648.5 51.1h0M641.8 53.3h0M640.8 50.1h0M642 48.6h0M645.5 55.8h0M632.5 50.5h0M643 55.7h0M646.5 59.5h0M643 46.7h0M643.8 53h0M642.2 49.7h0M637.8 52.3h0M645.7 42.6h0M642 53h0M644.3 47.8h0M642.9 51.9h0M648.8 52.5h0M644.3 53.9h0M644.2 50.9h0M642.6 52h0M640.4 49.9h0M644.1 45.5h0M646.1 48.7h0M642.9 49.1h0M636.4 49.7h0M640.5 51.4h0M648.7 51.7h0M641.2 54.7h0M643.4 58h0M637.1 47.2h0M641.1 51.4h0M640.3 52.5h0M645.3 50h0M644.8 53.3h0M644.5 42.8h0M645.9 53.3h0M641.4 50.2h0M648 44.1h0M642.1 50h0M645.6 57.8h0M649.2 50.5h0M641.3 58.3h0M644 58.9h0M642.5 52h0M643.3 49.8h0M643.8 53.4h0M642.7 56.2h0M642.9 57.4h0M645 52.2h0M638.9 47.8h0M640.7 56.5h0M641.4 44.4h0M638.7 50.2h0M643.9 51.2h0M641.5 52.8h0M640.3 48.8h0M638.8 51.5h0M640.2 54.3h0M644.2 51.1h0M639 48h0M645.6 53.8h0M644.8 51.6h0M643.7 47.5h0M637.8 48.4h0M640.6 57.8h0M646 50.4h0M641.7 52.9h0M640.6 49.3h0M640.7 50.4h0M644 50.8h0M637.3 49.2h0M645.9 53.8h0M643.5 54.8h0M639.7 54h0M644.7 49.6h0M634.7 48.7h0M639.1 43.8h0M643.8 54.9h0M647.3 49.9h0M639.3 46.6h0M638.6 46.8h0M642.6 53.9h0M643.1 50h0M640.5 53.7h0M640.4 51.7h0M647.5 54.4h0M640 51.9h0M637.9 40.6h0M641.6 55.9h0M646.7 46.3h0M644.9 56.5h0M642.7 51.5h0M638.9 48.2h0M642.5 49.1h0M651.4 48h0M644.6 52.3h0M646 52.9h0M638 46.2h0M641.6 44.3h0M641.1 55.6h0M648 52.4h0M641.9 46.2h0M642.6 54.7h0M641.3 55.3h0M634.2 52.7h0M646.2 52.9h0M637.1 49h0M641 40.3h0M638 53.6h0M641 48.1h0M641.4 58.2h0M641.2 49.5h0M647.1 53h0M639.2 48.2h0M641.8 45.7h0M644.4 49.1h0M641.5 58.7h0M641.2 51h0M648.6 43.8h0M645.1 54.8h0M640.2 55.3h0M643.6 48h0M640.1 51.4h0M644.1 50.9h0M638.5 48.1h0M645.2 51.3h0M643.9 45.1h0M643.8 52.3h0M642.8 54.6h0M643.4 47.8h0M640.1 53.4h0M642.9 53.8h0M644.6 53h0M644.1 56.2h0M639.9 50.9h0M644.5 48.1h0M639.1 53.8h0M640.6 52.8h0M640.2 43h0M640.9 51.2h0M642.4 48.1h0M644.8 49.5h0M646 51.2h0M644.1 56.5h0M640.5 52.4h0M645 48.4h0M645.7 48.8h0M640.4 51.7h0M639.2 52.4h0M642.3 60.9h0M648.6 47.4h0M641.8 48.8h0M642.2 54.5h0M644.9 49.6h0M639.2 51.6h0M639.5 44.9h0M642.4 44.9h0M645.3 53.4h0M641.8 47.1h0M640.8 53.7h0M637.7 49.1h0M647.5 52h0M638.9 55.3h0M646.7 47.9h0M640.6 48h0M646.2 55.1h0M647.9 50.9h0M640.1 50.3h0M644.5 54.2h0M644.9 47.3h0M646.5 50.7h0M641.8 46.2h0M646.4 46h0M643 53.3h0M639.7 55.3h0M645.7 51.6h0M646.5 45.5h0M642.7 50.4h0M642.3 52.1h0M645.1 50.7h0M647.8 55.1h0M639 47.8h0M645.9 52h0M648.8 49.6h0M640.1 50.5h0M644.5 49.6h0M642.9 52.6h0M643.8 46.4h0M646.5 49.7h0M637.9 52.1h0M641.2 54h0M638.6 54.8h0M641.8 51.5h0M648.4 55h0M639.6 55.5h0M641.3 50.4h0M640.9 58.1h0M643.9 56.5h0M641.8 49.8h0M640.4 50.4h0M640.4 49.1h0M642.2 50.4h0M639 52.1h0M635.4 51.8h0M646.2 49.4h0M643.1 52.6h0M640.9 55.3h0M642.2 54.2h0M644.9 53.3h0M640.1 49.6h0M642.8 49.7h0M641.1 56.9h0M646.4 51h0M635.4 48.1h0M638.5 54.2h0M646.9 56.9h0M639.1 45.3h0M640.3 56.9h0M639 47.3h0M635.7 54h0M642.4 51.1h0M644.7 48.6h0M643.6 47.4h0M639 47.1h0M641.1 46.3h0M647.7 49.5h0M642.1 54.5h0M639.9 49.9h0M645.4 57.9h0M641.8 49.9h0M637 48.3h0M640.1 50.8h0M645.4 56.9h0M642.2 48.1h0M642.4 50.8h0M644.6 54.5h0M640.3 49h0M638.1 52.7h0M642.6 50.2h0M640.8 50.1h0M642.6 50.3h0M640.5 49.9h0M640.4 53.6h0M638.4 45.1h0M643.5 46.1h0M648.5 49.1h0M638.9 45.2h0M646.2 47.3h0M644.7 46.3h0M640.7 50.3h0M639.6 44.6h0M644.3 49.6h0M641.6 48.3h0M641.8 54.4h0M641.3 44.9h0M648.5 44.7h0M637.8 44.9h0M644 46.5h0M648.4 47.3h0M643.2 52.8h0M649.2 47.6h0M642.7 49.8h0M643.2 50.1h0M645.1 52.5h0M640.5 45.4h0M642.8 47.5h0M644.5 50.4h0M640.7 55.5h0M644.1 48.1h0M646 47.8h0M639.2 53.2h0M642.4 50.8h0M643.9 50.5h0M640.6 57.1h0M645.8 47.8h0M646.5 53.3h0M641 57.4h0M643.5 48.9h0M640.8 58.8h0M642.4 53.2h0M644.2 51.8h0M642.3 55.9h0M643.3 51.4h0M641.4 41.5h0M646.4 51.6h0M645.6 50h0M640.9 45.4h0M644.5 53.2h0M650.7 48.7h0M641.4 47.5h0M647 58.6h0M650.9 54.9h0M642.2 56.3h0M645.2 57.2h0M636.2 46h0M647 57.5h0M644.8 47h0M645.4 46.9h0M643.4 52h0M645.8 49.5h0M646.2 57h0M645 49.4h0M642 53.1h0M642.3 50.7h0M643 48h0M642.2 49.8h0M640.3 49.2h0M639 51.3h0M642.5 50.2h0M640.1 53.8h0M641.7 49.7h0M639 51.8h0M638.7 56.7h0M641.6 52.5h0M642.1 60.9h0M649.4 51.2h0M642.6 51.9h0M646 53h0M644.3 55h0M643.7 53.6h0M641.9 50.7h0M644.8 50.1h0M644.4 49.4h0M638.6 50.8h0M644.9 45.3h0M642.2 46.4h0M638 46.6h0M640.5 56h0M645 51.7h0M645.7 54.5h0M642.5 49.9h0M646.5 52h0M645.2 47.8h0M638.2 43.7h0M639.5 49.9h0M643.9 48.9h0M640.1 48.5h0M640.9 45.7h0M643.7 52.9h0M641.9 53.6h0M640.7 52.7h0M638.6 54.7h0M649 47.8h0M638.6 52.9h0M641.5 50.5h0M646.1 49h0M642.5 50.8h0M639.9 47.3h0M639.4 49.6h0M646.3 50.7h0M645.2 44.3h0M636.9 56.2h0M638.6 54.3h0M644.7 53.6h0M647.7 57h0M641.1 53.2h0M645.7 52.9h0M637.9 56.7h0M637.7 49h0M639 45.9h0M644.3 54.2h0M643.4 49.9h0M645 54.5h0M637.4 53.1h0M647.8 48.2h0M641.5 50.5h0M650.9 46.8h0M643.6 50.9h0M637.3 50.2h0M642.7 53.7h0M640.2 57.6h0M647.5 51.8h0M643.5 49.8h0M646.6 51.2h0M640.3 50.5h0M640.4 49.1h0M643.2 51.7h0M643 46.7h0M639.9 47.8h0M644.4 51.7h0M646.3 54.2h0M641.7 52.7h0M641.2 49.8h0M641.3 54.8h0M644.4 52h0M642.4 57.1h0M644.1 52.6h0M646.1 50.8h0M641.8 46.4h0M641.9 55.4h0M641.8 54.4h0M647.3 55.8h0M642.4 48.8h0M642.9 46.9h0M641.8 55.8h0M645.5 50.8h0M644 42h0M639.2 53.2h0M645.6 46.2h0M644 55.9h0M646.4 54.7h0M644.3 43.6h0M642.6 52h0M639.7 50.7h0M645.7 53h0M646.5 46.4h0M640 45.6h0M642.5 54h0M644.2 43.6h0M642.3 50.4h0M643.9 52.4h0M641.6 53.5h0M640.8 52h0M646.4 59.1h0M637.5 55.1h0M644.7 50.2h0M640.3 50.3h0M642.8 48.1h0M640.7 51.5h0M643.2 58.5h0M640.8 53.4h0M643.5 50.4h0M638.4 46.5h0M639.4 41.7h0M642.3 50.5h0M644.6 48h0M640.1 52.1h0M648.6 46.7h0M641.5 53.5h0M645.1 49.9h0M637.1 48.5h0M639.7 51.9h0M639.6 49h0M639.1 50.6h0M637.9 48.1h0M641.4 52.5h0M640.1 44.6h0M647.6 50.4h0M642.5 52.8h0M643.5 53.9h0M636.3 52.7h0M647.3 55.5h0M647.4 51.7h0M639.3 60.1h0M639.4 48.9h0M640.3 43.4h0M647 42.8h0M638.6 43.9h0M639.5 50.6h0M637.8 44.5h0M643.5 45.4h0M645.3 53.2h0M639.7 44.2h0M646.2 50.9h0M643.2 53.9h0M640.1 55h0M644.4 51.6h0M646.6 45.6h0M646.6 47.1h0M644.3 55.9h0M646.7 56.5h0M642.7 49.1h0M643.7 53.9h0M648.2 53.5h0M642.4 49.4h0M640.2 54.5h0M639 47.4h0M641.1 52.8h0M637 52.9h0M639.8 50.2h0M639.2 48.6h0M642.2 56.4h0M638.5 47.8h0M642.4 47.5h0M642.7 45.6h0M645.1 49.9h0M645.9 50h0M647.5 47.7h0M641.9 54.8h0M638.5 51.2h0M645.1 52.9h0M644 45.7h0M641.4 49.6h0M645.2 56.5h0M648.8 54.6h0M643.9 52.5h0M641.5 55h0M643.4 53.5h0M640 51.9h0M648.8 52.3h0M639 52.6h0M639.6 49.4h0M645.9 57.3h0M642.2 59.7h0M639 51.5h0M645.6 50.8h0M646.3 59.6h0M637.8 52.6h0M644.7 53.1h0M645.8 52.7h0M648.4 51.3h0M644.2 49.7h0M645.1 53.9h0M643.1 45.6h0M645 54.9h0M648.1 56.5h0M645 50.2h0M640.9 49.6h0M642.6 58.2h0M648.8 50.4h0M639 49h0M640.9 54.5h0M640.8 47h0M646.8 43.4h0M640.1 51.1h0M641.5 49.1h0M642.6 48.2h0M644.5 48.3h0M644.7 48.8h0M639.3 49.9h0M639.3 42.6h0M638.4 53.9h0M646.3 49.8h0M642 49.6h0M643.3 49.9h0M642.8 54h0M638.2 52.1h0M637.7 59.2h0M639.3 43h0M648.7 54h0M641.6 54.6h0M644.3 40.3h0M639.7 53.1h0M650.7 50.5h0M643 50.5h0M638 50.9h0M641.3 52.4h0M643.8 49.5h0M645.8 48.3h0M641.7 54.5h0M644.8 50.9h0M643.6 54h0M643.4 60.8h0M641.5 45.9h0M643.9 47.6h0M646.1 48.3h0M642.7 50.5h0M641.7 57.1h0M651.2 52.6h0M644.9 55h0M644.8 57.9h0M638.3 43.6h0M646.1 49.6h0M637.9 48.4h0M646.4 52.5h0M643.8 47.1h0M641.3 56.9h0M640.7 49h0M643.3 48h0M641.5 47h0M637.5 46h0M646 50.7h0M638.1 48.7h0M642.2 52h0M641.3 49.1h0M647.5 52.5h0M638.1 51.6h0M645.8 54.9h0M644.1 53.6h0M633.9 48.9h0M638.4 55.4h0M640.6 48.7h0M639.5 47.5h0M643.4 54.1h0M644.4 46.2h0M645.9 48.3h0M640.5 45.2h0M644.3 45.3h0M642 51.9h0M644.3 47.4h0M642.5 57h0M642.6 56.2h0M641.7 52.1h0M644.3 48.3h0M643.1 50.7h0M639.8 49.8h0M636.4 54.9h0M645.8 43.8h0M645 50.2h0M642.5 51.1h0M646.3 52.3h0M642.6 53.3h0M642.4 49.3h0M641.4 53h0M646.6 46.4h0M648.2 54.9h0M642.1 52.2h0M640.8 50.3h0M646 54.9h0M645.5 48.1h0M644.7 44.5h0M638.4 52.6h0M643.7 51.1h0M643.3 49.5h0M641.9 48.2h0M644.1 52.4h0M642.3 54h0M644 47.4h0M642.7 45.6h0M641.9 53.3h0M647.9 46.8h0M642.7 55.4h0M644.6 56h0M645.6 48.6h0M639.9 59.3h0M642.2 49.8h0M640.2 50.4h0M642.3 50.4h0M639.2 52.4h0M645.4 53.8h0M642.8 52h0M639.1 48.2h0M644.2 49.6h0M639.8 45.1h0M638.4 47h0M644.1 51.4h0M642.9 50.8h0M640.6 48.7h0M644.9 51.6h0M644.2 48h0M643.3 50.6h0M645.9 51h0M643.7 54.4h0M646.6 54.5h0M643.8 47h0M643.8 49.3h0M634.3 44.3h0M641.8 58.1h0M648.6 42.9h0M641.1 50.5h0M642.4 45h0M641.5 50.9h0M637.4 51.5h0M644.6 53h0M648.5 48.4h0M647.8 53.3h0M642.1 48.2h0M640.1 47.2h0M641.1 47.8h0M644.3 47.9h0M641.6 56.9h0M645.2 54h0M643.7 53h0M639.1 43.3h0" stroke="#00ff00" stroke-width="3.2" stroke-linecap="round" fill="none" />
<path d="M669.5 26.6h0M621.8 71.6h0M669.7 76.2h0" stroke="#848484" stroke-width="3.4" stroke-linecap="round" fill="none" />
</g>
<ellipse cx="642.5" cy="50.8" rx="6.4" ry="6.6" transform="rotate(0 642.5 50.8)" fill="none" stroke="#0a0a90" stroke-width="2.0"/>
<ellipse cx="642.5" cy="50.8" rx="6.4" ry="6.6" transform="rotate(0 642.5 50.8)" fill="none" stroke="#0000e8" stroke-width="1.5"/>
<rect x="613.5" y="21.5" width="58" height="57.5" fill="none" stroke="#5c5c5c" stroke-width="0.85"/>
<text x="609.5" y="25.7" font-size="10.6" text-anchor="end" font-weight="normal">0.02</text>
<line x1="613.5" y1="21.5" x2="615" y2="21.5" stroke="#5c5c5c" stroke-width="0.85"/>
<text x="609.5" y="54.5" font-size="10.6" text-anchor="end" font-weight="normal">0</text>
<line x1="613.5" y1="50.2" x2="615" y2="50.2" stroke="#5c5c5c" stroke-width="0.85"/>
<text x="609.5" y="83.2" font-size="10.6" text-anchor="end" font-weight="normal">-0.02</text>
<line x1="613.5" y1="79" x2="615" y2="79" stroke="#5c5c5c" stroke-width="0.85"/>
<text x="613.5" y="94" font-size="10.6" text-anchor="middle" font-weight="normal">-0.02</text>
<line x1="613.5" y1="79" x2="613.5" y2="77.5" stroke="#5c5c5c" stroke-width="0.85"/>
<text x="642.5" y="94" font-size="10.6" text-anchor="middle" font-weight="normal">0</text>
<line x1="642.5" y1="79" x2="642.5" y2="77.5" stroke="#5c5c5c" stroke-width="0.85"/>
<text x="671.5" y="94" font-size="10.6" text-anchor="middle" font-weight="normal">0.02</text>
<line x1="671.5" y1="79" x2="671.5" y2="77.5" stroke="#5c5c5c" stroke-width="0.85"/>
<rect x="411.3" y="253.6" width="248" height="43.5" fill="#fff"/>
<line x1="411.3" y1="264.5" x2="659.3" y2="264.5" stroke="#e4e4e4" stroke-width="1"/>
<line x1="411.3" y1="286.5" x2="659.3" y2="286.5" stroke="#e4e4e4" stroke-width="1"/>
<rect x="411.3" y="253.6" width="248" height="43.5" fill="none" stroke="#5c5c5c" stroke-width="0.85"/>
<text x="407.3" y="257.8" font-size="10.6" text-anchor="end" font-weight="normal">10</text>
<line x1="411.3" y1="253.6" x2="413.7" y2="253.6" stroke="#5c5c5c" stroke-width="0.85"/>
<line x1="659.3" y1="253.6" x2="656.9" y2="253.6" stroke="#5c5c5c" stroke-width="0.85"/>
<text x="407.3" y="268.7" font-size="10.6" text-anchor="end" font-weight="normal">5</text>
<line x1="411.3" y1="264.5" x2="413.7" y2="264.5" stroke="#5c5c5c" stroke-width="0.85"/>
<line x1="659.3" y1="264.5" x2="656.9" y2="264.5" stroke="#5c5c5c" stroke-width="0.85"/>
<text x="407.3" y="279.6" font-size="10.6" text-anchor="end" font-weight="normal">0</text>
<line x1="411.3" y1="275.4" x2="413.7" y2="275.4" stroke="#5c5c5c" stroke-width="0.85"/>
<line x1="659.3" y1="275.4" x2="656.9" y2="275.4" stroke="#5c5c5c" stroke-width="0.85"/>
<text x="407.3" y="290.4" font-size="10.6" text-anchor="end" font-weight="normal">-5</text>
<line x1="411.3" y1="286.2" x2="413.7" y2="286.2" stroke="#5c5c5c" stroke-width="0.85"/>
<line x1="659.3" y1="286.2" x2="656.9" y2="286.2" stroke="#5c5c5c" stroke-width="0.85"/>
<text x="407.3" y="301.3" font-size="10.6" text-anchor="end" font-weight="normal">-10</text>
<line x1="411.3" y1="297.1" x2="413.7" y2="297.1" stroke="#5c5c5c" stroke-width="0.85"/>
<line x1="659.3" y1="297.1" x2="656.9" y2="297.1" stroke="#5c5c5c" stroke-width="0.85"/>
<text x="386.8" y="275.4" font-size="11.7" text-anchor="middle" font-weight="normal" transform="rotate(-90 386.8 275.4)">Up [m]</text>
<g clip-path="url(#cu2)">
<path d="M411.3 275.1h0M411.4 274.2h0M411.5 276.9h0M411.6 273.8h0M411.6 276.2h0M411.7 274.8h0M411.8 274.5h0M411.9 274.8h0M412 274.8h0M412.1 274.5h0M412.2 273.3h0M412.2 272.7h0M412.3 272.6h0M412.4 273.9h0M412.5 276.3h0M412.6 275.2h0M412.7 274.7h0M412.8 273.6h0M412.9 273h0M412.9 274.9h0M413 274.9h0M413.1 273.7h0M413.2 273.8h0M413.3 273.7h0M413.4 273.7h0M413.5 274.9h0M413.5 277.1h0M413.6 274.7h0M413.7 277.7h0M413.8 274.4h0M413.9 271.1h0M414 273.4h0M414.1 274.3h0M414.1 272.3h0M414.2 275.9h0M414.3 274.1h0M414.4 274.3h0M414.5 276h0M414.6 275.7h0M414.7 274h0M414.7 274.5h0M414.8 275.5h0M414.9 275.2h0M415 273.9h0M415.1 274.8h0M415.2 275.6h0M415.3 274.1h0M415.3 274.3h0M415.4 274.2h0M415.5 275.7h0M415.6 274.4h0M415.7 274.9h0M415.8 276h0M415.9 272.3h0M415.9 274.1h0M416 274h0M416.1 273.7h0M416.2 273h0M416.3 273.1h0M416.4 275.4h0M416.5 274.6h0M416.6 274.9h0M416.6 274.8h0M416.7 273.6h0M416.8 272.6h0M416.9 275.5h0M417 273.2h0M417.1 273.2h0M417.2 274.8h0M417.2 270.1h0M417.3 273.7h0M417.4 272.2h0M417.5 273.8h0M417.6 273.8h0M417.7 273.5h0M417.8 274.4h0M417.8 274.4h0M417.9 273h0M418 273.1h0M418.1 271.5h0M418.2 274.4h0M418.3 276.7h0M418.4 276.3h0M418.4 274.5h0M418.5 276.3h0M418.6 277.1h0M418.7 273.8h0M418.8 277.2h0M418.9 278h0M419 275.9h0M419.1 274.5h0M419.1 275h0M419.2 277.1h0M419.3 275.2h0M419.4 277.8h0M419.5 276.1h0M419.6 279.8h0M419.7 277.7h0M419.7 275.9h0M419.8 277h0M419.9 276.2h0M420 281.3h0M420.1 275.1h0M420.2 275.7h0M420.3 274.1h0M420.3 276.9h0M420.4 275.2h0M420.5 275.8h0M420.6 276.7h0M420.7 275.6h0M420.8 276.3h0M420.9 275.9h0M420.9 277h0M421 276.3h0M421.1 277.6h0M421.2 276.8h0M421.3 276.2h0M421.4 275.8h0M421.5 275.4h0M421.5 274.5h0M421.6 276.3h0M421.7 276.4h0M421.8 277.8h0M421.9 273.9h0M422 273.1h0M422.1 274.9h0M422.2 274.5h0M422.2 276.6h0M422.3 275.4h0M422.4 273.6h0M422.5 274.6h0M422.6 277h0M422.7 274.8h0M422.8 274.5h0M422.8 273.3h0M422.9 272.6h0M423 274.8h0M423.1 274.5h0M423.2 273.7h0M423.3 276.4h0M423.4 275.8h0M423.4 277.2h0M423.5 274.7h0M423.6 274.1h0M423.7 274h0M423.8 274.2h0M423.9 275.4h0M424 275.7h0M424 273.3h0M424.1 273.9h0M424.2 275.5h0M424.3 274.4h0M424.4 275.5h0M424.5 276h0M424.6 274.4h0M424.6 274.8h0M424.7 274.8h0M424.8 272.1h0M424.9 274.3h0M425 274.6h0M425.1 273h0M425.2 275.8h0M425.2 275.3h0M425.3 276h0M425.4 275.8h0M425.5 273.2h0M425.6 277.8h0M425.7 273.7h0M425.8 277.1h0M425.9 277.4h0M425.9 275.5h0M426 275.3h0M426.1 275.6h0M426.2 276.8h0M426.3 275.2h0M426.4 277.2h0M426.5 274.8h0M426.5 271.9h0M426.6 276.7h0M426.7 274.8h0M426.8 274.9h0M426.9 277.1h0M427 275.9h0M427.1 274.6h0M427.1 274.7h0M427.2 275.2h0M427.3 276.8h0M427.4 276h0M427.5 277.2h0M427.6 275.2h0M427.7 277.6h0M427.7 278.3h0M427.8 277.4h0M427.9 274.8h0M428 278.5h0M428.1 275.4h0M428.2 275.7h0M428.3 277.2h0M428.4 276.1h0M428.4 278.1h0M428.5 275.9h0M428.6 276.2h0M428.7 277.9h0M428.8 276.9h0M428.9 276.7h0M429 276.3h0M429 276.5h0M429.1 276.3h0M429.2 277.8h0M429.3 277.4h0M429.4 276.9h0M429.5 275.7h0M429.6 277.2h0M429.6 277.7h0M429.7 278.2h0M429.8 277.4h0M429.9 279h0M430 278.7h0M430.1 276.3h0M430.2 274.6h0M430.2 275.1h0M430.3 277.2h0M430.4 275.3h0M430.5 276.5h0M430.6 277.5h0M430.7 274.9h0M430.8 275.7h0M430.8 275.4h0M430.9 276h0M431 275.5h0M431.1 276.8h0M431.2 276.7h0M431.3 277h0M431.4 274.9h0M431.4 275.5h0M431.5 274.9h0M431.6 276.3h0M431.7 276h0M431.8 275.4h0M431.9 274.7h0M432 275.1h0M432.1 273.1h0M432.1 274.7h0M432.2 277.9h0M432.3 275.2h0M432.4 274.2h0M432.5 274.1h0M432.6 273.9h0M432.7 274.6h0M432.7 272.3h0M432.8 274.9h0M432.9 273.1h0M433 272.9h0M433.1 272.7h0M433.2 271.2h0M433.3 275.3h0M433.3 275h0M433.4 273.8h0M433.5 273.4h0M433.6 273.4h0M433.7 275h0M433.8 274.6h0M433.9 272.1h0M433.9 273.3h0M434 273.4h0M434.1 273.1h0M434.2 271.9h0M434.3 274.3h0M434.4 273.6h0M434.5 276.1h0M434.6 274.4h0M434.6 273.6h0M434.7 273.1h0M434.8 274.9h0M434.9 275.8h0M435 275.1h0M435.1 276.7h0M435.2 275.7h0M435.2 274.3h0M435.3 273.6h0M435.4 272.5h0M435.5 274.3h0M435.6 275.3h0M435.7 273.8h0M435.8 274.8h0M435.8 273.3h0M435.9 273.4h0M436 276.7h0M436.1 275.3h0M436.2 272.6h0M436.3 273.7h0M436.4 275.5h0M436.4 279.4h0M436.5 274.9h0M436.6 275.2h0M436.7 275.9h0M436.8 274.9h0M436.9 275.3h0M437 275.5h0M437 276.7h0M437.1 276.5h0M437.2 276h0M437.3 277h0M437.4 278.1h0M437.5 278.6h0M437.6 277.1h0M437.6 278.4h0M437.7 278.6h0M437.8 278.4h0M437.9 276.7h0M438 280.2h0M438.1 280h0M438.2 276.7h0M438.3 277.4h0M438.3 275.6h0M438.4 277.7h0M438.5 279h0M438.6 277h0M438.7 276.9h0M438.8 276.7h0M438.9 276.7h0M438.9 274.4h0M439 277.3h0M439.1 276.3h0M439.2 276.6h0M439.3 278.6h0M439.4 277.9h0M439.5 277.8h0M439.5 276.7h0M439.6 277.6h0M439.7 274.7h0M439.8 276.6h0M439.9 277.5h0M440 277.1h0M440.1 275.9h0M440.1 276.4h0M440.2 277.5h0M440.3 277.3h0M440.4 275.7h0M440.5 273.6h0M440.6 278.8h0M440.7 276.4h0M440.8 275.5h0M440.8 276.4h0M440.9 272.2h0M441 274.4h0M441.1 276.6h0M441.2 274.3h0M441.3 276.2h0M441.4 273.8h0M441.4 274.6h0M441.5 273.5h0M441.6 275.6h0M441.7 273.9h0M441.8 272.5h0M441.9 274.8h0M442 275.6h0M442 274.4h0M442.1 273.6h0M442.2 274.3h0M442.3 273.1h0M442.4 272h0M442.5 274h0M442.6 275h0M442.6 274.2h0M442.7 275.2h0M442.8 273.4h0M442.9 272.7h0M443 274.8h0M443.1 272.7h0M443.2 272.8h0M443.2 274.8h0M443.3 274h0M443.4 276h0M443.5 273.9h0M443.6 275h0M443.7 273.8h0M443.8 272.6h0M443.9 273.2h0M443.9 273.8h0M444 273.5h0M444.1 274h0M444.2 273.6h0M444.3 271.4h0M444.4 274.2h0M444.5 273.6h0M444.5 273.4h0M444.6 273.6h0M444.7 273.4h0M444.8 275.5h0M444.9 275h0M445 274.6h0M445.1 274.4h0M445.1 273.9h0M445.2 274h0M445.3 274.5h0M445.4 276.1h0M445.5 276.6h0M445.6 276.6h0M445.7 274.3h0M445.7 273.3h0M445.8 276h0M445.9 276.4h0M446 274.7h0M446.1 273.8h0M446.2 274.3h0M446.3 274.3h0M446.3 273.7h0M446.4 274.8h0M446.5 275.8h0M446.6 276.5h0M446.7 275.6h0M446.8 275h0M446.9 278.1h0M446.9 274.2h0M447 275.8h0M447.1 274.1h0M447.2 276.4h0M447.3 276.7h0M447.4 277.7h0M447.5 275.7h0M447.6 275.8h0M447.6 276.2h0M447.7 275.8h0M447.8 275.4h0M447.9 276.7h0M448 274.5h0M448.1 277.5h0M448.2 276.6h0M448.2 275.8h0M448.3 276.8h0M448.4 276.8h0M448.5 278.7h0M448.6 277.6h0M448.7 277.1h0M448.8 279h0M448.8 276.6h0M448.9 278.3h0M449 277.2h0M449.1 277.7h0M449.2 276.3h0M449.3 277.3h0M449.4 274.4h0M449.4 274.1h0M449.5 275.9h0M449.6 274.7h0M449.7 273.6h0M449.8 277.5h0M449.9 277.3h0M450 273.2h0M450.1 276.5h0M450.1 272.5h0M450.2 274.9h0M450.3 278.7h0M450.4 275.2h0M450.5 276.5h0M450.6 276.5h0M450.7 275.4h0M450.7 276.8h0M450.8 276.2h0M450.9 275.8h0M451 277.4h0M451.1 275.8h0M451.2 275h0M451.3 275.6h0M451.3 275.5h0M451.4 275.7h0M451.5 278h0M451.6 276.7h0M451.7 277.9h0M451.8 275.5h0M451.9 274.8h0M451.9 276.3h0M452 279.2h0M452.1 277h0M452.2 275.4h0M452.3 275.8h0M452.4 275.7h0M452.5 275.9h0M452.5 278.3h0M452.6 276.6h0M452.7 276h0M452.8 277.3h0M452.9 276.8h0M453 276h0M453.1 273.5h0M453.1 274.2h0M453.2 275.7h0M453.3 275.8h0M453.4 278.1h0M453.5 275.8h0M453.6 275.1h0M453.7 276.7h0M453.8 275.9h0M453.8 274.8h0M453.9 276.5h0M454 278.2h0M454.1 276.9h0M454.2 277.2h0M454.3 273.6h0M454.4 276.3h0M454.4 276.5h0M454.5 275.2h0M454.6 277.2h0M454.7 276.6h0M454.8 276.5h0M454.9 276.5h0M455 275.5h0M455 275.4h0M455.1 278.3h0M455.2 274h0M455.3 276.1h0M455.4 274.6h0M455.5 275.5h0M455.6 275.1h0M455.6 274.4h0M455.7 276.2h0M455.8 276.4h0M455.9 275.1h0M456 275.6h0M456.1 273.4h0M456.2 275.5h0M456.2 276.1h0M456.3 272.9h0M456.4 275.9h0M456.5 274.1h0M456.6 275.6h0M456.7 273.6h0M456.8 272.5h0M456.9 272.9h0M456.9 275.3h0M457 274h0M457.1 273.7h0M457.2 275h0M457.3 273.3h0M457.4 273.8h0M457.5 273.3h0M457.5 275.8h0M457.6 275.4h0M457.7 276.6h0M457.8 276.7h0M457.9 275h0M458 276.6h0M458.1 275.5h0M458.1 276.8h0M458.2 276.1h0M458.3 276.2h0M458.4 274.6h0M458.5 275.7h0M458.6 274.5h0M458.7 273.8h0M458.7 274.5h0M458.8 273.8h0M458.9 271h0M459 273h0M459.1 271.9h0M459.2 272h0M459.3 273h0M459.4 273.3h0M459.4 275.7h0M459.5 273.2h0M459.6 275.1h0M459.7 274.9h0M459.8 272.8h0M459.9 271.3h0M460 272h0M460 271.8h0M460.1 271.8h0M460.2 271.8h0M460.3 274.4h0M460.4 274.4h0M460.5 273.3h0M460.6 272.2h0M460.6 273.7h0M460.7 274.5h0M460.8 274.3h0M460.9 274.9h0M461 274.8h0M461.1 275.6h0M461.2 272.5h0M461.2 274.7h0M461.3 277.3h0M461.4 275.6h0M461.5 275.3h0M461.6 274.9h0M461.7 277h0M461.8 278h0M461.8 273.1h0M461.9 277.8h0M462 277.9h0M462.1 276.1h0M462.2 274.8h0M462.3 275.1h0M462.4 278.1h0M462.4 277h0M462.5 277.7h0M462.6 277.1h0M462.7 277.5h0M462.8 273.8h0M462.9 275.5h0M463 276.8h0M463.1 276.7h0M463.1 275.1h0M463.2 277.7h0M463.3 277.4h0M463.4 277.8h0M463.5 277.2h0M463.6 275.3h0M463.7 278.1h0M463.7 278.9h0M463.8 278.6h0M463.9 277.6h0M464 278.4h0M464.1 278.3h0M464.2 277.8h0M464.3 276.1h0M464.3 276.2h0M464.4 277h0M464.5 275.6h0M464.6 276.4h0M464.7 276.3h0M464.8 277.1h0M464.9 275.3h0M464.9 275.5h0M465 276.1h0M465.1 276.1h0M465.2 275.5h0M465.3 276.1h0M465.4 277.7h0M465.5 277.2h0M465.6 278.1h0M465.6 280.3h0M465.7 278h0M465.8 273.1h0M465.9 278h0M466 275.6h0M466.1 274.7h0M466.2 275.9h0M466.2 275.6h0M466.3 276.5h0M466.4 276.2h0M466.5 276.5h0M466.6 277.2h0M466.7 275.9h0M466.8 275.5h0M466.8 275.3h0M466.9 274.9h0M467 276h0M467.1 272.8h0M467.2 276.2h0M467.3 278h0M467.4 278.3h0M467.4 276h0M467.5 275.5h0M467.6 275.2h0M467.7 276.4h0M467.8 274.8h0M467.9 276.3h0M468 276.3h0M468 275.9h0M468.1 275.7h0M468.2 275.2h0M468.3 277.9h0M468.4 277.5h0M468.5 274.8h0M468.6 276.9h0M468.6 275h0M468.7 275.6h0M468.8 275.8h0M468.9 275.2h0M469 276.7h0M469.1 275.6h0M469.2 274.9h0M469.3 274.7h0M469.3 276.5h0M469.4 275.5h0M469.5 273.1h0M469.6 274h0M469.7 272.9h0M469.8 272.5h0M469.9 274.6h0M469.9 274.1h0M470 272.3h0M470.1 273.4h0M470.2 275.2h0M470.3 273.7h0M470.4 273.7h0M470.5 274.6h0M470.5 274.3h0M470.6 272.4h0M470.7 272.5h0M470.8 274.4h0M470.9 273.8h0M471 273.6h0M471.1 273.4h0M471.1 273.7h0M471.2 274.6h0M471.3 273.1h0M471.4 276.2h0M471.5 274.6h0M471.6 274h0M471.7 273.9h0M471.8 274.1h0M471.8 273.3h0M471.9 273.9h0M472 274.4h0M472.1 272.1h0M472.2 274.2h0M472.3 271.4h0M472.4 277h0M472.4 274.3h0M472.5 276.9h0M472.6 277.6h0M472.7 276.9h0M472.8 279.2h0M472.9 276.4h0M473 275.8h0M473 277.4h0M473.1 277.4h0M473.2 276.1h0M473.3 277.8h0M473.4 275.8h0M473.5 277.6h0M473.6 273.9h0M473.6 276.2h0M473.7 277.7h0M473.8 275.2h0M473.9 276.1h0M474 278.3h0M474.1 274.2h0M474.2 276.8h0M474.2 275.9h0M474.3 273.5h0M474.4 277.5h0M474.5 277.5h0M474.6 276.5h0M474.7 279.9h0M474.8 275.8h0M474.9 278.6h0M474.9 275.6h0M475 276h0M475.1 278.8h0M475.2 278.9h0M475.3 275.5h0M475.4 278.3h0M475.5 276.9h0M475.5 276.7h0M475.6 275.9h0M475.7 276.8h0M475.8 278.1h0M475.9 275.8h0M476 276.4h0M476.1 275.6h0M476.1 278.5h0M476.2 275.2h0M476.3 276.4h0M476.4 277.2h0M476.5 275.7h0M476.6 276.4h0M476.7 278.2h0M476.7 276.9h0M476.8 275.7h0M476.9 275.8h0M477 275.6h0M477.1 276.6h0M477.2 276.6h0M477.3 276h0M477.3 275.3h0M477.4 275.3h0M477.5 274.6h0M477.6 275.4h0M477.7 275.5h0M477.8 275.7h0M477.9 275.4h0M477.9 275.6h0M478 275h0M478.1 275.4h0M478.2 273h0M478.3 275.2h0M478.4 275.6h0M478.5 274.1h0M478.6 272.4h0M478.6 275h0M478.7 276.3h0M478.8 274h0M478.9 276.4h0M479 275.3h0M479.1 275.7h0M479.2 276.8h0M479.2 274.4h0M479.3 274.2h0M479.4 274.6h0M479.5 274.5h0M479.6 276.2h0M479.7 275.2h0M479.8 274.2h0M479.8 273.7h0M479.9 276.8h0M480 274.1h0M480.1 275.9h0M480.2 277.1h0M480.3 273.2h0M480.4 272.8h0M480.4 275.5h0M480.5 273.3h0M480.6 273.8h0M480.7 272.8h0M480.8 271.8h0M480.9 272.3h0M481 273.6h0M481.1 275.3h0M481.1 275.2h0M481.2 274.6h0M481.3 274.8h0M481.4 273.7h0M481.5 272.9h0M481.6 271.1h0M481.7 272.2h0M481.7 275h0M481.8 270.4h0M481.9 273.7h0M482 274.1h0M482.1 275.3h0M482.2 273.5h0M482.3 271.2h0M482.3 274.1h0M482.4 273.6h0M482.5 273.7h0M482.6 273.1h0M482.7 275.2h0M482.8 275.7h0M482.9 274.1h0M482.9 273.5h0M483 275.3h0M483.1 274.1h0M483.2 273.5h0M483.3 274.4h0M483.4 275.1h0M483.5 272.2h0M483.5 272.9h0M483.6 273.7h0M483.7 274.6h0M483.8 275.7h0M483.9 274.8h0M484 274.2h0M484.1 275.8h0M484.1 273.8h0M484.2 276.6h0M484.3 273.4h0M484.4 275.9h0M484.5 276.4h0M484.6 276h0M484.7 275.1h0M484.8 274.7h0M484.8 277.4h0M484.9 275.1h0M485 276.2h0M485.1 277.2h0M485.2 276.7h0M485.3 273.8h0M485.4 276.9h0M485.4 276.2h0M485.5 275.7h0M485.6 274.2h0M485.7 278.7h0M485.8 275.8h0M485.9 276.2h0M486 278.5h0M486 277.1h0M486.1 277h0M486.2 276.1h0M486.3 276.6h0M486.4 276.8h0M486.5 276.3h0M486.6 275.2h0M486.6 278.1h0M486.7 276.5h0M486.8 276.9h0M486.9 276.6h0M487 275.4h0M487.1 277h0M487.2 278.4h0M487.2 277h0M487.3 277.9h0M487.4 274.3h0M487.5 274.8h0M487.6 278h0M487.7 276.7h0M487.8 279h0M487.9 277.3h0M487.9 277.5h0M488 274.6h0M488.1 276.3h0M488.2 276.5h0M488.3 275.6h0M488.4 277.7h0M488.5 276.4h0M488.5 278.4h0M488.6 278.2h0M488.7 275.1h0M488.8 280.6h0M488.9 276.8h0M489 278.6h0M489.1 276.3h0M489.1 278.7h0M489.2 277.2h0M489.3 278.9h0M489.4 275.9h0M489.5 277.9h0M489.6 278.8h0M489.7 281.2h0M489.7 279.1h0M489.8 275.7h0M489.9 278h0M490 278.1h0M490.1 276.3h0M490.2 276.8h0M490.3 276.4h0M490.4 276.5h0M490.4 273.7h0M490.5 277.6h0M490.6 277.2h0M490.7 276.7h0M490.8 275.5h0M490.9 274.2h0M491 276h0M491 274.6h0M491.1 274.7h0M491.2 271.7h0M491.3 276.2h0M491.4 274.1h0M491.5 275.8h0M491.6 275.7h0M491.6 274.9h0M491.7 274.3h0M491.8 276.8h0M491.9 276h0M492 276.6h0M492.1 278.3h0M492.2 272.5h0M492.2 275.2h0M492.3 275.6h0M492.4 276.8h0M492.5 276.4h0M492.6 275.8h0M492.7 275.1h0M492.8 276h0M492.8 276.3h0M492.9 278.1h0M493 277.9h0M493.1 276.9h0M493.2 279.2h0M493.3 277.5h0M493.4 277.4h0M493.4 275.7h0M493.5 279.4h0M493.6 279.1h0M493.7 276.7h0M493.8 280.6h0M493.9 274.3h0M494 276.4h0M494.1 275.3h0M494.1 275.5h0M494.2 278.4h0M494.3 275.4h0M494.4 276.9h0M494.5 275.6h0M494.6 275.5h0M494.7 275.6h0M494.7 274.9h0M494.8 275.5h0M494.9 274.1h0M495 275.3h0M495.1 276.3h0M495.2 274.6h0M495.3 275.4h0M495.3 273.9h0M495.4 275.3h0M495.5 275.4h0M495.6 273.4h0M495.7 276.9h0M495.8 273.9h0M495.9 274.6h0M495.9 272.9h0M496 272.7h0M496.1 274.9h0M496.2 273.1h0M496.3 271.5h0M496.4 273.6h0M496.5 272.2h0M496.6 270.6h0M496.6 275.8h0M496.7 274.1h0M496.8 271.8h0M496.9 274.6h0M497 274.6h0M497.1 276.2h0M497.2 278.2h0M497.2 274.1h0M497.3 274.1h0M497.4 273.7h0M497.5 274.5h0M497.6 276.5h0M497.7 277.6h0M497.8 275h0M497.8 273.4h0M497.9 274.5h0M498 274.2h0M498.1 272.6h0M498.2 275.6h0M498.3 275.4h0M498.4 274.2h0M498.4 276h0M498.5 276.3h0M498.6 276h0M498.7 274.6h0M498.8 276.6h0M498.9 276h0M499 275.3h0M499 277.2h0M499.1 276.2h0M499.2 275.8h0M499.3 275.5h0M499.4 276.6h0M499.5 275.8h0M499.6 274.1h0M499.6 275.7h0M499.7 275.2h0M499.8 275.5h0M499.9 276.7h0M500 274.9h0M500.1 276h0M500.2 277.6h0M500.3 273.4h0M500.3 275.7h0M500.4 275.6h0M500.5 275.4h0M500.6 276.1h0M500.7 276.8h0M500.8 276.4h0M500.9 275.8h0M500.9 274.1h0M501 276h0M501.1 274.9h0M501.2 278.3h0M501.3 276.6h0M501.4 275.2h0M501.5 276.9h0M501.5 274.7h0M501.6 275.5h0M501.7 276h0M501.8 276.5h0M501.9 275.8h0M502 277.3h0M502.1 274.5h0M502.1 275.1h0M502.2 276h0M502.3 277h0M502.4 275h0M502.5 276.1h0M502.6 274h0M502.7 274.3h0M502.8 276.1h0M502.8 275.3h0M502.9 273.1h0M503 274.2h0M503.1 273.8h0M503.2 275.9h0M503.3 274.3h0M503.4 276.6h0M503.4 274.2h0M503.5 274.1h0M503.6 275.3h0M503.7 274.6h0M503.8 275.7h0M503.9 275.6h0M504 275h0M504 274.9h0M504.1 275.2h0M504.2 274.8h0M504.3 276.8h0M504.4 277.4h0M504.5 274.8h0M504.6 278.5h0M504.6 277.5h0M504.7 277.9h0M504.8 275.2h0M504.9 275.6h0M505 272.7h0M505.1 276.7h0M505.2 276.3h0M505.2 276.4h0M505.3 277.4h0M505.4 274.6h0M505.5 277.1h0M505.6 276.9h0M505.7 275.7h0M505.8 276.3h0M505.9 275h0M505.9 275h0M506 275h0M506.1 275.7h0M506.2 276.6h0M506.3 275.5h0M506.4 276.6h0M506.5 277.4h0M506.5 276.8h0M506.6 273.6h0M506.7 276.1h0M506.8 273.2h0M506.9 274.1h0M507 274.6h0M507.1 274.3h0M507.1 272.2h0M507.2 276h0M507.3 273.5h0M507.4 274.2h0M507.5 274.3h0M507.6 275.3h0M507.7 274h0M507.7 274.4h0M507.8 273.2h0M507.9 272.4h0M508 273.3h0M508.1 273.7h0M508.2 271.2h0M508.3 273.7h0M508.3 273.1h0M508.4 273.7h0M508.5 272.5h0M508.6 272.5h0M508.7 273.4h0M508.8 272.3h0M508.9 272.6h0M508.9 274h0M509 271.9h0M509.1 273.8h0M509.2 273.9h0M509.3 272.8h0M509.4 274.3h0M509.5 273.8h0M509.6 270.8h0M509.6 272.6h0M509.7 274.5h0M509.8 274.6h0M509.9 272.8h0M510 273.8h0M510.1 275.5h0M510.2 273.9h0M510.2 276.6h0M510.3 272.8h0M510.4 272.9h0M510.5 272.5h0M510.6 275.9h0M510.7 273.7h0M510.8 272.3h0M510.8 274.9h0M510.9 275.8h0M511 273.8h0M511.1 277.2h0M511.2 275.6h0M511.3 274.8h0M511.4 276h0M511.4 275.6h0M511.5 274.3h0M511.6 274.4h0M511.7 275.9h0M511.8 277.3h0M511.9 277.4h0M512 276.7h0M512 276.4h0M512.1 276.7h0M512.2 272.8h0M512.3 276.4h0M512.4 276.6h0M512.5 275.4h0M512.6 277.9h0M512.7 277.2h0M512.7 275.3h0M512.8 276.9h0M512.9 275h0M513 276.9h0M513.1 275.9h0M513.2 274.7h0M513.3 275.2h0M513.3 276.4h0M513.4 276.2h0M513.5 275.5h0M513.6 277h0M513.7 277.9h0M513.8 275.5h0M513.9 275.2h0M513.9 276.3h0M514 276.6h0M514.1 277.7h0M514.2 277.1h0M514.3 276.6h0M514.4 275.7h0M514.5 275.2h0M514.5 276.2h0M514.6 275.5h0M514.7 277.5h0M514.8 275.5h0M514.9 274.2h0M515 275.8h0M515.1 277.4h0M515.1 274.4h0M515.2 273.5h0M515.3 274.7h0M515.4 276.5h0M515.5 275.5h0M515.6 278.3h0M515.7 275.6h0M515.8 276.7h0M515.8 274.3h0M515.9 276.2h0M516 272.7h0M516.1 272.2h0M516.2 273h0M516.3 274h0M516.4 276.1h0M516.4 275.3h0M516.5 274.1h0M516.6 274.6h0M516.7 275.8h0M516.8 275.5h0M516.9 276.3h0M517 274.9h0M517 275.6h0M517.1 274.1h0M517.2 274.9h0M517.3 276h0M517.4 274.1h0M517.5 278.2h0M517.6 277.6h0M517.6 276.4h0M517.7 275h0M517.8 273.4h0M517.9 275.1h0M518 275.4h0M518.1 275.8h0M518.2 278.2h0M518.2 276.9h0M518.3 274.9h0M518.4 276.4h0M518.5 278.1h0M518.6 277.1h0M518.7 277.8h0M518.8 279.2h0M518.9 277.1h0M518.9 277.9h0M519 278.8h0M519.1 277.1h0M519.2 277.6h0M519.3 277h0M519.4 277.2h0M519.5 277h0M519.5 277.7h0M519.6 278.3h0M519.7 277.4h0M519.8 277.5h0M519.9 276.3h0M520 277.6h0M520.1 278.4h0M520.1 276.3h0M520.2 277.1h0M520.3 276.3h0M520.4 274.7h0M520.5 275.6h0M520.6 278.1h0M520.7 277.3h0M520.7 275.5h0M520.8 278h0M520.9 276h0M521 274.7h0M521.1 275.1h0M521.2 275.8h0M521.3 274.8h0M521.4 274.9h0M521.4 275h0M521.5 273.1h0M521.6 274.9h0M521.7 274.8h0M521.8 272.9h0M521.9 273.7h0M522 274.4h0M522 274.3h0M522.1 273.4h0M522.2 273.5h0M522.3 275.5h0M522.4 274.5h0M522.5 272.5h0M522.6 274.6h0M522.6 271.9h0M522.7 273.3h0M522.8 274.3h0M522.9 274.7h0M523 274h0M523.1 273.4h0M523.2 273.9h0M523.2 273.3h0M523.3 274.2h0M523.4 275.4h0M523.5 274.5h0M523.6 274.3h0M523.7 275.3h0M523.8 276.5h0M523.8 276.3h0M523.9 274.7h0M524 276.3h0M524.1 273.5h0M524.2 274.8h0M524.3 277.6h0M524.4 276.8h0M524.5 275h0M524.5 276.7h0M524.6 275.6h0M524.7 274.7h0M524.8 274.5h0M524.9 276.3h0M525 273.9h0M525.1 273.6h0M525.1 275.5h0M525.2 273.6h0M525.3 274.8h0M525.4 275.8h0M525.5 272.6h0M525.6 272.6h0M525.7 275.2h0M525.7 277.1h0M525.8 272.7h0M525.9 274.7h0M526 273.7h0M526.1 275.9h0M526.2 273.8h0M526.3 273.2h0M526.3 274.1h0M526.4 273.3h0M526.5 274h0M526.6 273.5h0M526.7 275.4h0M526.8 275.1h0M526.9 276.7h0M526.9 274.8h0M527 274.8h0M527.1 276h0M527.2 273.7h0M527.3 275.4h0M527.4 271.5h0M527.5 274.4h0M527.5 276.6h0M527.6 275.3h0M527.7 274.5h0M527.8 274.3h0M527.9 273.9h0M528 276.1h0M528.1 274.5h0M528.2 275.8h0M528.2 274.3h0M528.3 275.4h0M528.4 275.6h0M528.5 275.2h0M528.6 275.9h0M528.7 274.5h0M528.8 274.3h0M528.8 276.7h0M528.9 275.5h0M529 275.2h0M529.1 273.6h0M529.2 274.2h0M529.3 274.1h0M529.4 275.2h0M529.4 274.1h0M529.5 275.3h0M529.6 274.2h0M529.7 276h0M529.8 275.7h0M529.9 274.8h0M530 275.4h0M530 277.7h0M530.1 275.6h0M530.2 275.9h0M530.3 278.1h0M530.4 277.3h0M530.5 275.1h0M530.6 276.2h0M530.6 277.1h0M530.7 275.5h0M530.8 279.2h0M530.9 275.8h0M531 277.8h0M531.1 275h0M531.2 277.3h0M531.3 277.9h0M531.3 276.6h0M531.4 277.7h0M531.5 276h0M531.6 276.6h0M531.7 278.1h0M531.8 277.9h0M531.9 277.9h0M531.9 275.5h0M532 277.7h0M532.1 276h0M532.2 276.8h0M532.3 277.3h0M532.4 278h0M532.5 275.8h0M532.5 275.3h0M532.6 275.8h0M532.7 274.6h0M532.8 275.6h0M532.9 274.4h0M533 275.8h0M533.1 277.4h0M533.1 275.1h0M533.2 277.8h0M533.3 277.1h0M533.4 278.1h0M533.5 275.1h0M533.6 274.3h0M533.7 278h0M533.8 277.4h0M533.8 277.6h0M533.9 279.2h0M534 276.7h0M534.1 276.8h0M534.2 278.4h0M534.3 279.4h0M534.4 278.6h0M534.4 276.4h0M534.5 278.8h0M534.6 276.5h0M534.7 276.4h0M534.8 275.9h0M534.9 276.4h0M535 276.5h0M535 274.5h0M535.1 277h0M535.2 275.8h0M535.3 274.1h0M535.4 276.6h0M535.5 274.4h0M535.6 278h0M535.6 276.8h0M535.7 276.4h0M535.8 274.4h0M535.9 273.7h0M536 276.1h0M536.1 271.7h0M536.2 271.8h0M536.2 272.6h0M536.3 274.2h0M536.4 273.2h0M536.5 274.7h0M536.6 274.8h0M536.7 275h0M536.8 273.2h0M536.9 274h0M536.9 274h0M537 271.7h0M537.1 274.6h0M537.2 273.6h0M537.3 273.8h0M537.4 274.9h0M537.5 275h0M537.5 272.8h0M537.6 275.2h0M537.7 273.9h0M537.8 275.7h0M537.9 275.3h0M538 273.5h0M538.1 277.5h0M538.1 276.5h0M538.2 276.2h0M538.3 275.2h0M538.4 277h0M538.5 276.4h0M538.6 276.3h0M538.7 274.4h0M538.7 274.9h0M538.8 277.7h0M538.9 274.2h0M539 276h0M539.1 277h0M539.2 275.7h0M539.3 277.3h0M539.3 276.6h0M539.4 277.5h0M539.5 276.7h0M539.6 279h0M539.7 274.3h0M539.8 276h0M539.9 275.3h0M540 275.8h0M540 276.5h0M540.1 274.9h0M540.2 275h0M540.3 276.8h0M540.4 275.2h0M540.5 277h0M540.6 277.1h0M540.6 276.1h0M540.7 276.4h0M540.8 276.6h0M540.9 278.7h0M541 277.1h0M541.1 275.8h0M541.2 275.1h0M541.2 275.2h0M541.3 277.1h0M541.4 276.2h0M541.5 278.3h0M541.6 276.5h0M541.7 274.9h0M541.8 277.3h0M541.8 278h0M541.9 275.9h0M542 276.6h0M542.1 277h0M542.2 276h0M542.3 276.9h0M542.4 275.3h0M542.4 276.7h0M542.5 276.9h0M542.6 275.2h0M542.7 274.9h0M542.8 275.5h0M542.9 274.7h0M543 275.8h0M543 276.6h0M543.1 275h0M543.2 277.2h0M543.3 275.3h0M543.4 274.3h0M543.5 274.6h0M543.6 273.8h0M543.7 275.5h0M543.7 275.3h0M543.8 275.3h0M543.9 275.2h0M544 274.3h0M544.1 273.5h0M544.2 274.4h0M544.3 272.3h0M544.3 273.6h0M544.4 276.8h0M544.5 273.5h0M544.6 275.1h0M544.7 274.2h0M544.8 275h0M544.9 274.6h0M544.9 271.5h0M545 272.7h0M545.1 274.2h0M545.2 275.2h0M545.3 274.8h0M545.4 275.1h0M545.5 273.7h0M545.5 273.4h0M545.6 276.2h0M545.7 274h0M545.8 274.7h0M545.9 275.1h0M546 273.8h0M546.1 275.8h0M546.1 276.2h0M546.2 275.8h0M546.3 276.3h0M546.4 276.3h0M546.5 274.6h0M546.6 277.4h0M546.7 274.5h0M546.8 274.6h0M546.8 276.7h0M546.9 275.1h0M547 277.1h0M547.1 276h0M547.2 276.3h0M547.3 277.2h0M547.4 275.4h0M547.4 276.4h0M547.5 275.9h0M547.6 278.8h0M547.7 276.8h0M547.8 276.9h0M547.9 278h0M548 274.6h0M548 275.9h0M548.1 275.4h0M548.2 274.5h0M548.3 277.2h0M548.4 274.7h0M548.5 278.7h0M548.6 274.9h0M548.6 275.6h0M548.7 277.6h0M548.8 277h0M548.9 272.7h0M549 276.5h0M549.1 274.7h0M549.2 275h0M549.2 275.3h0M549.3 276h0M549.4 277.3h0M549.5 277.4h0M549.6 276.6h0M549.7 274.7h0M549.8 278.1h0M549.9 276.8h0M549.9 274.8h0M550 275.7h0M550.1 276.1h0M550.2 276.8h0M550.3 278h0M550.4 276.8h0M550.5 277.4h0M550.5 276.8h0M550.6 277.2h0M550.7 277.7h0M550.8 274h0M550.9 277.9h0M551 274.4h0M551.1 275.9h0M551.1 276.2h0M551.2 276.9h0M551.3 276.7h0M551.4 276.5h0M551.5 278.5h0M551.6 274.6h0M551.7 275.2h0M551.7 276h0M551.8 276.1h0M551.9 274.2h0M552 275.8h0M552.1 274.8h0M552.2 276.3h0M552.3 273.4h0M552.4 276.5h0M552.4 276.8h0M552.5 276.8h0M552.6 274.8h0M552.7 274.3h0M552.8 275.9h0M552.9 274.1h0M553 278.1h0M553 278h0M553.1 277.5h0M553.2 275.4h0M553.3 277.8h0M553.4 276.5h0M553.5 277.7h0M553.6 276h0M553.6 277.4h0M553.7 272.7h0M553.8 275.5h0M553.9 277.2h0M554 275.2h0M554.1 276.3h0M554.2 277.1h0M554.2 275.9h0M554.3 277.8h0M554.4 274.1h0M554.5 274.7h0M554.6 277.2h0M554.7 275.6h0M554.8 277.8h0M554.8 274.8h0M554.9 274.8h0M555 274.7h0M555.1 275.4h0M555.2 274.9h0M555.3 275.4h0M555.4 275h0M555.5 275.3h0M555.5 274.9h0M555.6 275h0M555.7 277.6h0M555.8 275.3h0M555.9 273.6h0M556 273.2h0M556.1 275.7h0M556.1 275.2h0M556.2 273.5h0M556.3 276.7h0M556.4 274.2h0M556.5 276.7h0M556.6 274.4h0M556.7 275.2h0M556.7 275.3h0M556.8 275.1h0M556.9 272.9h0M557 278.5h0M557.1 276.6h0M557.2 274.7h0M557.3 275.2h0M557.3 276.6h0M557.4 275.7h0M557.5 276.1h0M557.6 276.3h0M557.7 274.9h0M557.8 277h0M557.9 275.9h0M557.9 275.1h0M558 276.6h0M558.1 274.5h0M558.2 276.9h0M558.3 277.6h0M558.4 277.4h0M558.5 276.2h0M558.5 275.1h0M558.6 276.7h0M558.7 276.2h0M558.8 276.7h0M558.9 276.2h0M559 278h0M559.1 276.9h0M559.2 278h0M559.2 276.1h0M559.3 275.8h0M559.4 279.6h0M559.5 276.6h0M559.6 276.7h0M559.7 275.7h0M559.8 277.7h0M559.8 276.8h0M559.9 278.2h0M560 275.5h0M560.1 274.1h0M560.2 276.4h0M560.3 275.1h0M560.4 275.5h0M560.4 277.5h0M560.5 276.9h0M560.6 276.9h0M560.7 275.7h0M560.8 277.8h0M560.9 275.9h0M561 277.2h0M561 275h0M561.1 275.6h0M561.2 277.3h0M561.3 275.6h0M561.4 273.8h0M561.5 274.5h0M561.6 274h0M561.6 271.3h0M561.7 275.3h0M561.8 274.8h0M561.9 274.5h0M562 273.7h0M562.1 274.4h0M562.2 274.5h0M562.3 275.1h0M562.3 274.8h0M562.4 271.4h0M562.5 270.7h0M562.6 274.3h0M562.7 273.8h0M562.8 276.5h0M562.9 274.7h0M562.9 273.3h0M563 273.2h0M563.1 274h0M563.2 271.5h0M563.3 270.6h0M563.4 274.7h0M563.5 276h0M563.5 274.5h0M563.6 274.1h0M563.7 276.3h0M563.8 276h0M563.9 274.9h0M564 276.1h0M564.1 277.7h0M564.1 276h0M564.2 278.4h0M564.3 276h0M564.4 277.6h0M564.5 280h0M564.6 278.9h0M564.7 276.7h0M564.8 275h0M564.8 277.1h0M564.9 277.9h0M565 274.6h0M565.1 278.9h0M565.2 275.9h0M565.3 279h0M565.4 278.9h0M565.4 278.3h0M565.5 275.8h0M565.6 276.6h0M565.7 277.2h0M565.8 276.5h0M565.9 277.5h0M566 274.5h0M566 276.2h0M566.1 275.7h0M566.2 278.3h0M566.3 276.6h0M566.4 277.6h0M566.5 275.3h0M566.6 277.7h0M566.6 274.8h0M566.7 274.3h0M566.8 274.5h0M566.9 273.3h0M567 273h0M567.1 275.3h0M567.2 275.2h0M567.2 275.1h0M567.3 274.6h0M567.4 274.5h0M567.5 274.5h0M567.6 272.2h0M567.7 274.4h0M567.8 274.5h0M567.9 272.2h0M567.9 275.2h0M568 273.7h0M568.1 272.9h0M568.2 272.8h0M568.3 274.5h0M568.4 274.9h0M568.5 274.9h0M568.5 274.5h0M568.6 272h0M568.7 273.4h0M568.8 272.9h0M568.9 274.6h0M569 274.2h0M569.1 272.6h0M569.1 273.1h0M569.2 273.5h0M569.3 272.4h0M569.4 274.7h0M569.5 274.9h0M569.6 274.8h0M569.7 274.6h0M569.7 273.5h0M569.8 276.2h0M569.9 274h0M570 277h0M570.1 276.5h0M570.2 274.8h0M570.3 274.5h0M570.3 275.7h0M570.4 277.8h0M570.5 274.3h0M570.6 274.6h0M570.7 277h0M570.8 274.7h0M570.9 277.4h0M571 276.5h0M571 277.3h0M571.1 277.9h0M571.2 278.7h0M571.3 277.4h0M571.4 276.1h0M571.5 276.9h0M571.6 275.6h0M571.6 275.8h0M571.7 275.1h0M571.8 275.8h0M571.9 276.4h0M572 276h0M572.1 276.3h0M572.2 276.8h0M572.2 277.6h0M572.3 274h0M572.4 277h0M572.5 275.3h0M572.6 274.1h0M572.7 275.9h0M572.8 276.5h0M572.8 275.3h0M572.9 273.6h0M573 276.6h0M573.1 276.8h0M573.2 276.4h0M573.3 275.1h0M573.4 275.2h0M573.4 276.6h0M573.5 275.9h0M573.6 275h0M573.7 277.4h0M573.8 276.3h0M573.9 275.7h0M574 275.4h0M574 275.8h0M574.1 278.5h0M574.2 276.5h0M574.3 277.2h0M574.4 276.3h0M574.5 276.6h0M574.6 277.5h0M574.7 276.9h0M574.7 275h0M574.8 275.2h0M574.9 275.9h0M575 277.2h0M575.1 275h0M575.2 278.3h0M575.3 279.6h0M575.3 277.9h0M575.4 278.7h0M575.5 280.2h0M575.6 278.5h0M575.7 277.4h0M575.8 277.4h0M575.9 276.5h0M575.9 275.8h0M576 275.9h0M576.1 278h0M576.2 276h0M576.3 275h0M576.4 276.9h0M576.5 276.7h0M576.5 275.9h0M576.6 275.6h0M576.7 276.2h0M576.8 276.2h0M576.9 277.8h0M577 278.4h0M577.1 276.4h0M577.1 276.3h0M577.2 275.7h0M577.3 276.3h0M577.4 277.2h0M577.5 275.9h0M577.6 275.3h0M577.7 276.1h0M577.8 276h0M577.8 275.3h0M577.9 275.9h0M578 274.7h0M578.1 275.5h0M578.2 277.4h0M578.3 273h0M578.4 274.4h0M578.4 273.6h0M578.5 275.2h0M578.6 274.8h0M578.7 274.2h0M578.8 274h0M578.9 274.1h0M579 275.2h0M579 273.4h0M579.1 274.7h0M579.2 272.6h0M579.3 275.6h0M579.4 274.7h0M579.5 274.5h0M579.6 277.2h0M579.6 276.1h0M579.7 277.1h0M579.8 275.8h0M579.9 274.9h0M580 274.9h0M580.1 273.6h0M580.2 275.1h0M580.2 274.4h0M580.3 275.3h0M580.4 278.8h0M580.5 276h0M580.6 278.2h0M580.7 276.1h0M580.8 275.2h0M580.9 275.2h0M580.9 276.7h0M581 276.9h0M581.1 278h0M581.2 275.7h0M581.3 276.7h0M581.4 277.4h0M581.5 278.6h0M581.5 278.1h0M581.6 277.2h0M581.7 275.3h0M581.8 275.9h0M581.9 277h0M582 275.2h0M582.1 274.7h0M582.1 275.9h0M582.2 276.7h0M582.3 276.4h0M582.4 277h0M582.5 276h0M582.6 277.6h0M582.7 275.2h0M582.7 276.1h0M582.8 273.6h0M582.9 278.5h0M583 277.1h0M583.1 277.8h0M583.2 275.7h0M583.3 275.5h0M583.4 276.7h0M583.4 275.5h0M583.5 275.5h0M583.6 277.2h0M583.7 276.6h0M583.8 278.1h0M583.9 277h0M584 277.1h0M584 277.6h0M584.1 278h0M584.2 276.3h0M584.3 276.5h0M584.4 274.5h0M584.5 279.5h0M584.6 276.8h0M584.6 276.2h0M584.7 275.4h0M584.8 275.6h0M584.9 272.8h0M585 276.5h0M585.1 277.9h0M585.2 275.8h0M585.2 277.1h0M585.3 276.5h0M585.4 276.8h0M585.5 274.4h0M585.6 277.9h0M585.7 275h0M585.8 276.6h0M585.8 276.6h0M585.9 276.9h0M586 278.1h0M586.1 276.7h0M586.2 276.5h0M586.3 277.2h0M586.4 278.2h0M586.5 277.2h0M586.5 276.6h0M586.6 276.4h0M586.7 278h0M586.8 276.2h0M586.9 275.2h0M587 276.8h0M587.1 274.9h0M587.1 276.3h0M587.2 277.2h0M587.3 277.7h0M587.4 278h0M587.5 277.5h0M587.6 276.7h0M587.7 277.3h0M587.7 276.3h0M587.8 274h0M587.9 277.8h0M588 275.2h0M588.1 275.3h0M588.2 275.1h0M588.3 275.1h0M588.3 275.1h0M588.4 275.6h0M588.5 275.3h0M588.6 276.1h0M588.7 275.9h0M588.8 274.6h0M588.9 274.5h0M588.9 274.3h0M589 275.6h0M589.1 276.5h0M589.2 272.7h0M589.3 274.3h0M589.4 273.8h0M589.5 274.7h0M589.5 273.7h0M589.6 273.2h0M589.7 273h0M589.8 274.7h0M589.9 274.2h0M590 273.9h0M590.1 277h0M590.2 274.8h0M590.2 274.7h0M590.3 275.7h0M590.4 275.6h0M590.5 274.1h0M590.6 274.8h0M590.7 275.3h0M590.8 276.1h0M590.8 275.2h0M590.9 271.3h0M591 275.1h0M591.1 276.7h0M591.2 277.7h0M591.3 274.7h0M591.4 275.9h0M591.4 277.8h0M591.5 275.4h0M591.6 275.5h0M591.7 277.9h0M591.8 277.7h0M591.9 276.6h0M592 277h0M592 276.3h0M592.1 276h0M592.2 278.1h0M592.3 276.9h0M592.4 278.4h0M592.5 276h0M592.6 275.2h0M592.6 279.5h0M592.7 277.7h0M592.8 276.3h0M592.9 278.8h0M593 277h0M593.1 275.8h0M593.2 276.7h0M593.3 276.3h0M593.3 277.1h0M593.4 275.4h0M593.5 277.2h0M593.6 277.3h0M593.7 277.7h0M593.8 278.5h0M593.9 276.6h0M593.9 276.1h0M594 276h0M594.1 276.5h0M594.2 275.8h0M594.3 274.2h0M594.4 275.2h0M594.5 274.4h0M594.5 275.7h0M594.6 276.8h0M594.7 273.5h0M594.8 277h0M594.9 277.6h0M595 277h0M595.1 275.8h0M595.1 275.5h0M595.2 276.2h0M595.3 276.8h0M595.4 274h0M595.5 274.9h0M595.6 274.7h0M595.7 275.5h0M595.8 272.4h0M595.8 272.8h0M595.9 275.1h0M596 272.8h0M596.1 274.2h0M596.2 274.8h0M596.3 273.1h0M596.4 275.3h0M596.4 274.4h0M596.5 272.8h0M596.6 274.2h0M596.7 276.6h0M596.8 276h0M596.9 275h0M597 275.9h0M597 274.7h0M597.1 273.9h0M597.2 275.2h0M597.3 275.9h0M597.4 274.2h0M597.5 272.8h0M597.6 274.2h0M597.6 273.7h0M597.7 273.3h0M597.8 273.5h0M597.9 275.8h0M598 274.2h0M598.1 274.4h0M598.2 276.3h0M598.2 274.8h0M598.3 276.6h0M598.4 276.4h0M598.5 276.2h0M598.6 274.4h0M598.7 274.6h0M598.8 275.4h0M598.8 273.5h0M598.9 275.9h0M599 273.7h0M599.1 275.4h0M599.2 277.5h0M599.3 273.5h0M599.4 273.9h0M599.5 275.8h0M599.5 274.7h0M599.6 273.6h0M599.7 274.2h0M599.8 272.8h0M599.9 275.3h0M600 270.8h0M600.1 273.5h0M600.1 274.7h0M600.2 274.4h0M600.3 274.5h0M600.4 275.8h0M600.5 275.3h0M600.6 273.7h0M600.7 272.8h0M600.7 275.2h0M600.8 273.7h0M600.9 274.5h0M601 271.9h0M601.1 273.5h0M601.2 273.1h0M601.3 273.3h0M601.3 273.6h0M601.4 274.6h0M601.5 275.5h0M601.6 272.7h0M601.7 272.9h0M601.8 272.9h0M601.9 275.8h0M602 274.7h0M602 273.9h0M602.1 274.2h0M602.2 276.8h0M602.3 275h0M602.4 276.6h0M602.5 276.9h0M602.6 275.4h0M602.6 279.7h0M602.7 274.6h0M602.8 277.4h0M602.9 276.9h0M603 276.5h0M603.1 276.8h0M603.2 276.6h0M603.2 277.2h0M603.3 276.1h0M603.4 277.5h0M603.5 276.3h0M603.6 275.9h0M603.7 276.4h0M603.8 274.5h0M603.8 276.5h0M603.9 276.9h0M604 273.7h0M604.1 274.6h0M604.2 275.8h0M604.3 276.5h0M604.4 274.7h0M604.4 276h0M604.5 276.8h0M604.6 276.7h0M604.7 275.4h0M604.8 275.8h0M604.9 276.9h0M605 278.7h0M605 275.2h0M605.1 275.5h0M605.2 275.1h0M605.3 276.1h0M605.4 274.8h0M605.5 275.2h0M605.6 275.8h0M605.7 275.7h0M605.7 277.4h0M605.8 277.3h0M605.9 273.1h0M606 276.5h0M606.1 276h0M606.2 273h0M606.3 274.9h0M606.3 278h0M606.4 278.6h0M606.5 277.7h0M606.6 276.5h0M606.7 274.6h0M606.8 275h0M606.9 276.2h0M606.9 274.4h0M607 277.2h0M607.1 275.4h0M607.2 273.5h0M607.3 271.6h0M607.4 275.5h0M607.5 275.8h0M607.5 274.4h0M607.6 274.4h0M607.7 274h0M607.8 274.1h0M607.9 272.5h0M608 272.7h0M608.1 273.9h0M608.1 275.7h0M608.2 274.9h0M608.3 274.6h0M608.4 274.8h0M608.5 273h0M608.6 273.5h0M608.7 274h0M608.8 274.2h0M608.8 273.4h0M608.9 275.3h0M609 275.8h0M609.1 274.9h0M609.2 275.2h0M609.3 275h0M609.4 277.3h0M609.4 274.8h0M609.5 275.4h0M609.6 273.8h0M609.7 273.8h0M609.8 274.5h0M609.9 277.6h0M610 275.7h0M610 275.3h0M610.1 276.9h0M610.2 275.1h0M610.3 276.4h0M610.4 277.2h0M610.5 275.2h0M610.6 275.8h0M610.6 272.7h0M610.7 275.5h0M610.8 276.4h0M610.9 275.4h0M611 275.9h0M611.1 275.7h0M611.2 276.6h0M611.2 276.3h0M611.3 273.7h0M611.4 276.5h0M611.5 273.6h0M611.6 276.5h0M611.7 274.6h0M611.8 275.8h0M611.9 274.1h0M611.9 275.9h0M612 275.8h0M612.1 276.6h0M612.2 275.9h0M612.3 275.6h0M612.4 275h0M612.5 275.7h0M612.5 275.5h0M612.6 275.6h0M612.7 277.7h0M612.8 274.9h0M612.9 276.8h0M613 275.5h0M613.1 276.5h0M613.1 276.7h0M613.2 276.3h0M613.3 277.5h0M613.4 275.8h0M613.5 274.2h0M613.6 273.9h0M613.7 273.8h0M613.7 274.5h0M613.8 275.6h0M613.9 273.4h0M614 275.6h0M614.1 274.1h0M614.2 274.2h0M614.3 274.7h0M614.3 275.6h0M614.4 274.2h0M614.5 272.1h0M614.6 273.8h0M614.7 274.7h0M614.8 273.6h0M614.9 273.9h0M615 273.8h0M615 275.2h0M615.1 273.4h0M615.2 275.1h0M615.3 275.2h0M615.4 275.3h0M615.5 276.9h0M615.6 273h0M615.6 272.4h0M615.7 275.1h0M615.8 271.4h0M615.9 274h0M616 275h0M616.1 274h0M616.2 273.9h0M616.2 275h0M616.3 274h0M616.4 276.3h0M616.5 273.7h0M616.6 275.1h0M616.7 276.3h0M616.8 274.7h0M616.8 276.1h0M616.9 273.5h0M617 272.9h0M617.1 275.8h0M617.2 275.3h0M617.3 276.4h0M617.4 276.3h0M617.5 276.2h0M617.5 275.2h0M617.6 276.7h0M617.7 273.9h0M617.8 271.9h0M617.9 275.8h0M618 274.5h0M618.1 275.3h0M618.1 278h0M618.2 277.4h0M618.3 273.2h0M618.4 275.7h0M618.5 273.5h0M618.6 275.2h0M618.7 274h0M618.7 273.8h0M618.8 275.8h0M618.9 273.6h0M619 273.9h0M619.1 276.3h0M619.2 276.1h0M619.3 277.6h0M619.3 274.4h0M619.4 277.2h0M619.5 276.4h0M619.6 277.3h0M619.7 277.4h0M619.8 276.2h0M619.9 277.1h0M619.9 276h0M620 277.2h0M620.1 275.5h0M620.2 278h0M620.3 277.9h0M620.4 281.3h0M620.5 275.5h0M620.5 275.6h0M620.6 278.5h0M620.7 277.9h0M620.8 276.4h0M620.9 277.3h0M621 274.1h0M621.1 273.9h0M621.2 275.7h0M621.2 275.7h0M621.3 276.2h0M621.4 277.2h0M621.5 277.8h0M621.6 276.4h0M621.7 275.4h0M621.8 273.8h0M621.8 275.8h0M621.9 275h0M622 273.2h0M622.1 272.7h0M622.2 273.4h0M622.3 273.5h0M622.4 277.4h0M622.4 274.7h0M622.5 273.8h0M622.6 274.2h0M622.7 273.7h0M622.8 273.3h0M622.9 273.8h0M623 275.6h0M623 275.4h0M623.1 276h0M623.2 273.4h0M623.3 274.2h0M623.4 273.6h0M623.5 275h0M623.6 276.7h0M623.6 275.6h0M623.7 276.4h0M623.8 277.1h0M623.9 277.7h0M624 275h0M624.1 275.9h0M624.2 276.9h0M624.3 276.7h0M624.3 276h0M624.4 276.2h0M624.5 275.8h0M624.6 275.8h0M624.7 274.4h0M624.8 275.9h0M624.9 273.5h0M624.9 276.8h0M625 279.3h0M625.1 277.2h0M625.2 275.6h0M625.3 275.9h0M625.4 275.8h0M625.5 275.5h0M625.5 274.2h0M625.6 276.7h0M625.7 274.5h0M625.8 275.7h0M625.9 276h0M626 273.9h0M626.1 274.2h0M626.1 277.6h0M626.2 274.7h0M626.3 275.1h0M626.4 277.7h0M626.5 276.6h0M626.6 276.2h0M626.7 276.6h0M626.8 274.9h0M626.8 274.7h0M626.9 277.9h0M627 279.8h0M627.1 278.1h0M627.2 276.7h0M627.3 276.8h0M627.4 275.5h0M627.4 275h0M627.5 274.8h0M627.6 277.3h0M627.7 274.2h0M627.8 276.7h0M627.9 273.5h0M628 274h0M628 274.7h0M628.1 275h0M628.2 274.8h0M628.3 275.9h0M628.4 277.1h0M628.5 274.6h0M628.6 274.9h0M628.6 274.9h0M628.7 276h0M628.8 274.3h0M628.9 276h0M629 276.7h0M629.1 273.9h0M629.2 275.4h0M629.2 275.5h0M629.3 275.6h0M629.4 272.9h0M629.5 274.4h0M629.6 274.9h0M629.7 275.6h0M629.8 275.3h0M629.8 274.6h0M629.9 276.3h0M630 275.3h0M630.1 275.4h0M630.2 276.7h0M630.3 276.1h0M630.4 276.7h0M630.5 275.6h0M630.5 274.3h0M630.6 274h0M630.7 276.8h0M630.8 276.1h0M630.9 275.5h0M631 276.6h0M631.1 278.4h0M631.1 277.6h0M631.2 278.2h0M631.3 278.7h0M631.4 277.2h0M631.5 277.3h0M631.6 278h0M631.7 275.4h0M631.7 277.4h0M631.8 275.4h0M631.9 277.6h0M632 277h0M632.1 277.8h0M632.2 277.6h0M632.3 278.4h0M632.3 279.2h0M632.4 278.8h0M632.5 276.9h0M632.6 276.9h0M632.7 276.7h0M632.8 279.1h0M632.9 275.5h0M632.9 276.9h0M633 278.3h0M633.1 277.2h0M633.2 277.1h0M633.3 277.2h0M633.4 279.6h0M633.5 278.7h0M633.6 275.9h0M633.6 275.8h0M633.7 277.2h0M633.8 276.1h0M633.9 274.4h0M634 275.6h0M634.1 276.3h0M634.2 278.2h0M634.2 277.4h0M634.3 275.4h0M634.4 275.6h0M634.5 275.5h0M634.6 277.1h0M634.7 279h0M634.8 276.7h0M634.8 276.5h0M634.9 276.3h0M635 274.2h0M635.1 273.8h0M635.2 274.5h0M635.3 274.8h0M635.4 274.5h0M635.4 275.2h0M635.5 273.5h0M635.6 277.1h0M635.7 274.2h0M635.8 274.7h0M635.9 274.8h0M636 276.5h0M636 274.6h0M636.1 276.8h0M636.2 276.4h0M636.3 275.4h0M636.4 275.1h0M636.5 275.2h0M636.6 276h0M636.7 275h0M636.7 273.3h0M636.8 275.6h0M636.9 277h0M637 277.4h0M637.1 276.8h0M637.2 274.5h0M637.3 274.9h0M637.3 274h0M637.4 275h0M637.5 273.6h0M637.6 277.6h0M637.7 277.7h0M637.8 275.5h0M637.9 275.1h0M637.9 277.2h0M638 276.3h0M638.1 276.7h0M638.2 275.3h0M638.3 276.8h0M638.4 276.8h0M638.5 276.5h0M638.5 276.9h0M638.6 275.6h0M638.7 275.3h0M638.8 274.3h0M638.9 276.2h0M639 276.3h0M639.1 276.5h0M639.1 272.9h0M639.2 276.4h0M639.3 274.5h0M639.4 274.2h0M639.5 276h0M639.6 273.8h0M639.7 274.1h0M639.8 275.7h0M639.8 277h0M639.9 275.6h0M640 275.8h0M640.1 276.1h0M640.2 275.9h0M640.3 274.3h0M640.4 275.7h0M640.4 276h0M640.5 274.4h0M640.6 272.9h0M640.7 275.6h0M640.8 276.1h0M640.9 273.3h0M641 277.7h0M641 275.9h0M641.1 273.8h0M641.2 275.6h0M641.3 276.3h0M641.4 276h0M641.5 274.9h0M641.6 275.9h0M641.6 275.2h0M641.7 276.2h0M641.8 274.9h0M641.9 275h0M642 276.3h0M642.1 275.7h0M642.2 275.2h0M642.2 274.5h0M642.3 275.7h0M642.4 276.2h0M642.5 275.3h0M642.6 272.9h0M642.7 273.7h0M642.8 273.9h0M642.9 277.3h0M642.9 273.6h0M643 275.2h0M643.1 275.7h0M643.2 275.9h0M643.3 275.3h0M643.4 277.7h0M643.5 273.8h0M643.5 276.8h0M643.6 272.9h0M643.7 274.7h0M643.8 275.7h0M643.9 276.2h0M644 275.2h0M644.1 273.1h0M644.1 275.5h0M644.2 275.7h0M644.3 276.8h0M644.4 274.1h0M644.5 276.1h0M644.6 276.2h0M644.7 275.1h0M644.7 276.3h0M644.8 275.3h0M644.9 277.2h0M645 277h0M645.1 274.3h0M645.2 276.1h0M645.3 274.8h0M645.3 274.7h0M645.4 274.5h0M645.5 274.7h0M645.6 274.3h0M645.7 275.4h0M645.8 275.6h0M645.9 274.2h0M646 276.9h0M646 276.9h0M646.1 277.4h0M646.2 277.1h0M646.3 274.9h0M646.4 274.8h0M646.5 276.9h0M646.6 278.1h0M646.6 277.6h0M646.7 276.1h0M646.8 274.4h0M646.9 276.3h0M647 274.9h0M647.1 275.1h0M647.2 278h0M647.2 274.9h0M647.3 274.9h0M647.4 276.1h0M647.5 276.9h0M647.6 275.1h0M647.7 276.1h0M647.8 276.5h0M647.8 276.2h0M647.9 275.1h0M648 278h0M648.1 277.2h0M648.2 277.4h0M648.3 276.8h0M648.4 277.1h0M648.4 277.6h0M648.5 277h0M648.6 277.5h0M648.7 275.8h0M648.8 275.7h0M648.9 276.8h0M649 277.1h0M649.1 277.7h0M649.1 278.1h0M649.2 275.7h0M649.3 275.4h0M649.4 278.4h0M649.5 277.5h0M649.6 275h0M649.7 274.6h0M649.7 277.3h0M649.8 277.6h0M649.9 277.9h0M650 274.6h0M650.1 275.4h0M650.2 276.3h0M650.3 277.2h0M650.3 275.4h0M650.4 276.7h0M650.5 274.6h0M650.6 276h0M650.7 274.6h0M650.8 274.9h0M650.9 275.6h0M650.9 276.2h0M651 274h0M651.1 274.1h0M651.2 276.5h0M651.3 273.1h0M651.4 276.6h0M651.5 274.2h0M651.5 273.7h0M651.6 274.2h0M651.7 275.3h0M651.8 276h0M651.9 273.7h0M652 275.8h0M652.1 274.4h0M652.2 274.1h0M652.2 275.4h0M652.3 276h0M652.4 275.8h0M652.5 274.7h0M652.6 273.2h0M652.7 274.8h0M652.8 274.9h0M652.8 272.7h0M652.9 273.2h0M653 274.1h0M653.1 274.1h0M653.2 273.8h0M653.3 273.1h0M653.4 274.1h0M653.4 273.3h0M653.5 273.8h0M653.6 272.9h0M653.7 276.1h0M653.8 275.8h0M653.9 273h0M654 273.1h0M654 275.7h0M654.1 275.9h0M654.2 273.9h0M654.3 275.6h0M654.4 275.1h0M654.5 273.4h0M654.6 274.4h0M654.6 275.3h0M654.7 274.4h0M654.8 277.8h0M654.9 276.5h0M655 272.3h0M655.1 274.9h0M655.2 274.3h0M655.3 277.3h0M655.3 274.2h0M655.4 277.6h0M655.5 275.3h0M655.6 275.6h0M655.7 277.5h0M655.8 276.1h0M655.9 280.5h0M655.9 275.8h0M656 276.7h0M656.1 277.6h0M656.2 278.4h0M656.3 278.4h0M656.4 278.3h0M656.5 278.2h0M656.5 277.4h0M656.6 279.2h0M656.7 278h0M656.8 278.9h0M656.9 274.3h0M657 276.4h0M657.1 280.1h0M657.1 276.1h0M657.2 274.1h0M657.3 276.9h0M657.4 276.3h0M657.5 276.1h0M657.6 274.6h0M657.7 274h0M657.8 275.8h0M657.8 277.8h0M657.9 276h0M658 277.9h0M658.1 277.4h0M658.2 274.2h0M658.3 275.7h0M658.4 276.2h0M658.4 275.1h0M658.5 274.4h0M658.6 276.6h0M658.7 274h0M658.8 276.8h0M658.9 274.5h0M659 275.6h0M659 275.5h0M659.1 275.4h0M659.2 273.5h0" stroke="#848484" stroke-width="2.6" stroke-linecap="round" fill="none" />
<path d="M643 262.5h0M642 270h0" stroke="#ff0000" stroke-width="2.4" stroke-linecap="round" fill="none" />
<line x1="411.8" y1="275.2" x2="658.8" y2="275.2" stroke="#00ff00" stroke-width="3.3"/>
</g>
<rect x="454.5" y="239.3" width="219.8" height="19.1" fill="#fff"/>
<line x1="498.5" y1="239.3" x2="498.5" y2="258.4" stroke="#e4e4e4" stroke-width="1"/>
<line x1="542.5" y1="239.3" x2="542.5" y2="258.4" stroke="#e4e4e4" stroke-width="1"/>
<line x1="586.5" y1="239.3" x2="586.5" y2="258.4" stroke="#e4e4e4" stroke-width="1"/>
<line x1="630.5" y1="239.3" x2="630.5" y2="258.4" stroke="#e4e4e4" stroke-width="1"/>
<line x1="454.5" y1="248.5" x2="674.3" y2="248.5" stroke="#e4e4e4" stroke-width="1"/>
<g clip-path="url(#cj2)">
<path d="M454.5 248.3h0M454.7 249h0M454.8 248.5h0M455 247.7h0M455.1 249.1h0M455.3 249.6h0M455.4 248.5h0M455.6 248.8h0M455.8 247h0M455.9 248.3h0M456.1 247.6h0M456.2 249.9h0M456.4 249.4h0M456.5 247.5h0M456.7 249.6h0M456.9 249.6h0M457 248.4h0M457.2 249.1h0M457.3 250.3h0M457.5 248.7h0M457.6 250h0M457.8 250.2h0M458 249.5h0M458.1 248.9h0M458.3 249.3h0M458.4 249.4h0M458.6 249.3h0M458.7 250h0M458.9 248.2h0M459.1 248.9h0M459.2 249.1h0M459.4 250.1h0M459.5 248.3h0M459.7 250h0M459.8 248.4h0M460 248.4h0M460.2 247.7h0M460.3 248.8h0M460.5 248.5h0M460.6 248.8h0M460.8 248.3h0M460.9 249h0M461.1 248.8h0M461.3 246.8h0M461.4 249h0M461.6 248.4h0M461.7 248.2h0M461.9 248h0M462 249.4h0M462.2 248.4h0M462.4 249.8h0M462.5 248.5h0M462.7 250.5h0M462.8 249.9h0M463 248.1h0M463.1 249.6h0M463.3 248.6h0M463.5 248.1h0M463.6 248.8h0M463.8 249.3h0M463.9 248.6h0M464.1 249.3h0M464.2 249.6h0M464.4 247.5h0M464.6 247.1h0M464.7 248.6h0M464.9 248.8h0M465 248.4h0M465.2 248.7h0M465.3 248.6h0M465.5 246.9h0M465.7 248h0M465.8 247.3h0M466 247.6h0M466.1 246.8h0M466.3 248.1h0M466.4 247.8h0M466.6 247.7h0M466.8 247.3h0M466.9 249.7h0M467.1 249.5h0M467.2 249.3h0M467.4 248.5h0M467.5 248.2h0M467.7 249.7h0M467.9 248.6h0M468 249.8h0M468.2 250.4h0M468.3 247.9h0M468.5 248h0M468.6 249.1h0M468.8 247.7h0M469 248.5h0M469.1 248.3h0M469.3 249h0M469.4 247.6h0M469.6 248.6h0M469.7 248.9h0M469.9 247.2h0M470.1 247.6h0M470.2 248.7h0M470.4 248.8h0M470.5 247.4h0M470.7 247h0M470.8 248.8h0M471 247.8h0M471.2 247.3h0M471.3 248.2h0M471.5 248.5h0M471.6 248.7h0M471.8 250h0M471.9 249.6h0M472.1 248.4h0M472.3 248.6h0M472.4 248.3h0M472.6 249.8h0M472.7 249.8h0M472.9 248.1h0M473 249h0M473.2 248.9h0M473.4 249.4h0M473.5 249.6h0M473.7 248.5h0M473.8 248.2h0M474 249.1h0M474.1 249.2h0M474.3 249.4h0M474.5 248.7h0M474.6 248.8h0M474.8 249.5h0M474.9 249.4h0M475.1 249.3h0M475.2 248.6h0M475.4 248.9h0M475.6 249.2h0M475.7 247.2h0M475.9 249.2h0M476 249.7h0M476.2 249.5h0M476.3 248.9h0M476.5 249.5h0M476.7 250.1h0M476.8 249.3h0M477 248.8h0M477.1 250.1h0M477.3 249h0M477.4 249.4h0M477.6 250.9h0M477.8 249.8h0M477.9 250.1h0M478.1 249.9h0M478.2 249.8h0M478.4 249.1h0M478.5 249.4h0M478.7 249h0M478.9 248.5h0M479 249.4h0M479.2 248.8h0M479.3 249.4h0M479.5 249.5h0M479.6 249.6h0M479.8 247.9h0M480 248.7h0M480.1 249.9h0M480.3 248.7h0M480.4 248.3h0M480.6 248.4h0M480.7 248.1h0M480.9 247.8h0M481.1 249h0M481.2 247.5h0M481.4 247.9h0M481.5 247.4h0M481.7 249.5h0M481.8 247.7h0M482 247.3h0M482.2 248.9h0M482.3 248.2h0M482.5 248.9h0M482.6 249.8h0M482.8 247.9h0M482.9 250.3h0M483.1 248.8h0M483.3 247.6h0M483.4 249.1h0M483.6 248.8h0M483.7 248h0M483.9 250.8h0M484 248.6h0M484.2 248h0M484.4 249.1h0M484.5 250h0M484.7 249.9h0M484.8 248.9h0M485 249h0M485.1 249.1h0M485.3 248.6h0M485.5 250.1h0M485.6 250h0M485.8 250.5h0M485.9 249.2h0M486.1 250.8h0M486.2 250.5h0M486.4 250.3h0M486.6 249.7h0M486.7 250.4h0M486.9 249.5h0M487 250h0M487.2 249.6h0M487.3 248.9h0M487.5 249.4h0M487.7 248.7h0M487.8 249.5h0M488 248.7h0M488.1 248.5h0M488.3 250.8h0M488.4 249.2h0M488.6 249.9h0M488.8 249h0M488.9 249.9h0M489.1 249.1h0M489.2 249.9h0M489.4 249.4h0M489.5 250.8h0M489.7 247.8h0M489.9 249.3h0M490 249.9h0M490.2 247.2h0M490.3 249.1h0M490.5 248.5h0M490.6 248.7h0M490.8 247.9h0M491 247.7h0M491.1 246.8h0M491.3 247.6h0M491.4 247.7h0M491.6 247.4h0M491.7 249h0M491.9 248.3h0M492 249.2h0M492.2 248.8h0M492.4 247.8h0M492.5 248.5h0M492.7 248.8h0M492.8 249.1h0M493 250.2h0M493.1 250.1h0M493.3 249.3h0M493.5 250h0M493.6 249.3h0M493.8 249.5h0M493.9 250.5h0M494.1 250.2h0M494.2 250h0M494.4 250h0M494.6 249h0M494.7 248.3h0M494.9 248.7h0M495 249.5h0M495.2 249.8h0M495.3 248.7h0M495.5 248.3h0M495.7 248.9h0M495.8 248.7h0M496 248.7h0M496.1 248.2h0M496.3 249h0M496.4 249h0M496.6 249.2h0M496.8 249.1h0M496.9 249.6h0M497.1 249.2h0M497.2 249.1h0M497.4 249.1h0M497.5 249.5h0M497.7 249.7h0M497.9 249.6h0M498 249.5h0M498.2 248.7h0M498.3 249.9h0M498.5 248.3h0M498.6 247.6h0M498.8 249.5h0M499 249.5h0M499.1 248.4h0M499.3 248.6h0M499.4 249.8h0M499.6 249.5h0M499.7 248.3h0M499.9 248.3h0M500.1 249.1h0M500.2 249.6h0M500.4 250.1h0M500.5 248.7h0M500.7 248.7h0M500.8 247.8h0M501 248.4h0M501.2 246.9h0M501.3 247.3h0M501.5 249.3h0M501.6 249h0M501.8 248.1h0M501.9 249.2h0M502.1 248.2h0M502.3 248.3h0M502.4 248.1h0M502.6 248.6h0M502.7 249.8h0M502.9 248.5h0M503 250.1h0M503.2 249.2h0M503.4 249.3h0M503.5 248.4h0M503.7 247.8h0M503.8 249.4h0M504 248.2h0M504.1 249.3h0M504.3 249.1h0M504.5 248.3h0M504.6 248h0M504.8 247.7h0M504.9 248.4h0M505.1 247.6h0M505.2 246.8h0M505.4 247.9h0M505.6 249.3h0M505.7 249h0M505.9 248.2h0M506 248.9h0M506.2 249.2h0M506.3 250.9h0M506.5 248.4h0M506.7 248.8h0M506.8 249.9h0M507 250.1h0M507.1 249.4h0M507.3 249.7h0M507.4 249.4h0M507.6 248.8h0M507.8 248.7h0M507.9 248.8h0M508.1 248.4h0M508.2 248.9h0M508.4 249.6h0M508.5 248.8h0M508.7 249h0M508.9 248.9h0M509 248.2h0M509.2 247h0M509.3 248.1h0M509.5 248.3h0M509.6 248.8h0M509.8 246.8h0M510 248.6h0M510.1 248.1h0M510.3 248.6h0M510.4 249.4h0M510.6 248.9h0M510.7 249.3h0M510.9 249.3h0M511.1 248.2h0M511.2 249.1h0M511.4 248.6h0M511.5 249.4h0M511.7 247.9h0M511.8 249.6h0M512 249.2h0M512.2 248.6h0M512.3 248.3h0M512.5 249.2h0M512.6 248.4h0M512.8 248.7h0M512.9 248.9h0M513.1 248.7h0M513.3 249h0M513.4 249.3h0M513.6 248.4h0M513.7 248.8h0M513.9 248.8h0M514 249.8h0M514.2 248.8h0M514.4 248.7h0M514.5 248.6h0M514.7 248.4h0M514.8 249.2h0M515 249.7h0M515.1 248.1h0M515.3 248.7h0M515.5 249.2h0M515.6 249.9h0M515.8 248.8h0M515.9 248.3h0M516.1 248.6h0M516.2 249.1h0M516.4 248.8h0M516.6 248.4h0M516.7 249.1h0M516.9 248.3h0M517 247.9h0M517.2 248.6h0M517.3 248.2h0M517.5 248.2h0M517.7 248.1h0M517.8 247.5h0M518 247.7h0M518.1 248.4h0M518.3 248.3h0M518.4 249.3h0M518.6 248.5h0M518.8 248.8h0M518.9 248.4h0M519.1 249h0M519.2 249.7h0M519.4 248.5h0M519.5 248.7h0M519.7 250h0M519.9 249.9h0M520 249.1h0M520.2 249.4h0M520.3 249.2h0M520.5 249.4h0M520.6 249.9h0M520.8 249.9h0M521 250.8h0M521.1 250.2h0M521.3 249.7h0M521.4 249.2h0M521.6 249.9h0M521.7 249.5h0M521.9 249.4h0M522.1 249.8h0M522.2 249.2h0M522.4 249h0M522.5 249.9h0M522.7 248.7h0M522.8 248.3h0M523 248.9h0M523.2 248h0M523.3 247.9h0M523.5 250.1h0M523.6 249.3h0M523.8 248.9h0M523.9 248.9h0M524.1 248.8h0M524.3 248h0M524.4 247.9h0M524.6 248h0M524.7 249.2h0M524.9 249.9h0M525 249.9h0M525.2 249.2h0M525.4 249.9h0M525.5 249.1h0M525.7 249.5h0M525.8 250h0M526 248.9h0M526.1 249.4h0M526.3 249h0M526.5 248.7h0M526.6 249.1h0M526.8 249.7h0M526.9 249.9h0M527.1 248.6h0M527.2 248.9h0M527.4 250.3h0M527.6 248.7h0M527.7 248.7h0M527.9 250.1h0M528 249h0M528.2 249.9h0M528.3 249.4h0M528.5 248.5h0M528.7 249.7h0M528.8 248.3h0M529 248.5h0M529.1 250.3h0M529.3 250h0M529.4 249.7h0M529.6 250.6h0M529.8 250.8h0M529.9 250.1h0M530.1 249h0M530.2 249.2h0M530.4 250.6h0M530.5 249.8h0M530.7 250.4h0M530.9 248.9h0M531 249.8h0M531.2 248.2h0M531.3 249.6h0M531.5 249.3h0M531.6 249.4h0M531.8 247.1h0M532 247.4h0M532.1 247.5h0M532.3 248.2h0M532.4 249.1h0M532.6 249h0M532.7 247.5h0M532.9 248.2h0M533.1 249h0M533.2 248.5h0M533.4 247.2h0M533.5 248.8h0M533.7 248.8h0M533.8 248.9h0M534 248.3h0M534.2 248.5h0M534.3 248.9h0M534.5 248.3h0M534.6 248.8h0M534.8 248.7h0M534.9 249h0M535.1 248.3h0M535.3 249.1h0M535.4 249.3h0M535.6 248.7h0M535.7 248.7h0M535.9 249.6h0M536 249.8h0M536.2 249h0M536.4 249.7h0M536.5 250.7h0M536.7 248h0M536.8 249.4h0M537 249.3h0M537.1 249.1h0M537.3 249.2h0M537.5 249.6h0M537.6 249.2h0M537.8 249.1h0M537.9 250.1h0M538.1 250.5h0M538.2 249.2h0M538.4 249.8h0M538.6 250.2h0M538.7 248.7h0M538.9 249.3h0M539 248.8h0M539.2 248.9h0M539.3 249.5h0M539.5 248.4h0M539.7 249.6h0M539.8 250.4h0M540 248.7h0M540.1 249.6h0M540.3 249.8h0M540.4 248.5h0M540.6 248.1h0M540.8 249.4h0M540.9 248.9h0M541.1 249.4h0M541.2 248.5h0M541.4 248.8h0M541.5 248.6h0M541.7 248.9h0M541.9 249.4h0M542 248.6h0M542.2 248.8h0M542.3 247.9h0M542.5 249.6h0M542.6 249.1h0M542.8 249.6h0M543 248.6h0M543.1 248.7h0M543.3 249.4h0M543.4 248.4h0M543.6 248.9h0M543.7 248.9h0M543.9 249.1h0M544.1 248.4h0M544.2 249.8h0M544.4 248.6h0M544.5 249.4h0M544.7 249.2h0M544.8 248.5h0M545 249.8h0M545.2 249.4h0M545.3 250.4h0M545.5 250.5h0M545.6 248.8h0M545.8 247.8h0M545.9 249.1h0M546.1 249.8h0M546.3 249.1h0M546.4 250.4h0M546.6 249.3h0M546.7 248.5h0M546.9 248.8h0M547 249h0M547.2 249.5h0M547.4 248.4h0M547.5 248.7h0M547.7 249.4h0M547.8 248.8h0M548 248.9h0M548.1 249.3h0M548.3 248.9h0M548.5 248.9h0M548.6 248h0M548.8 247.6h0M548.9 248.1h0M549.1 248.4h0M549.2 248.9h0M549.4 248.1h0M549.6 247.5h0M549.7 247.7h0M549.9 248.3h0M550 248.1h0M550.2 249.2h0M550.3 249h0M550.5 248.9h0M550.7 248.1h0M550.8 249.5h0M551 248.6h0M551.1 249h0M551.3 248.9h0M551.4 248.5h0M551.6 248.7h0M551.8 248.6h0M551.9 249.3h0M552.1 249.3h0M552.2 247.9h0M552.4 249.6h0M552.5 248.4h0M552.7 248.9h0M552.9 250.2h0M553 249h0M553.2 248.7h0M553.3 247.3h0M553.5 249.1h0M553.6 248.5h0M553.8 248.5h0M554 247.4h0M554.1 247.6h0M554.3 248h0M554.4 246.8h0M554.6 248.6h0M554.7 248.9h0M554.9 248.1h0M555.1 248.3h0M555.2 248.8h0M555.4 248.8h0M555.5 248.3h0M555.7 248.8h0M555.8 248.5h0M556 248.3h0M556.2 249.8h0M556.3 249.4h0M556.5 248.3h0M556.6 248.9h0M556.8 249.2h0M556.9 250.1h0M557.1 250h0M557.3 250.2h0M557.4 248.9h0M557.6 249.9h0M557.7 248.6h0M557.9 248.2h0M558 250.1h0M558.2 248.4h0M558.4 249.7h0M558.5 248.4h0M558.7 248.2h0M558.8 249.6h0M559 247.1h0M559.1 248.4h0M559.3 248.8h0M559.5 248h0M559.6 247.8h0M559.8 248h0M559.9 250.3h0M560.1 247.6h0M560.2 248.3h0M560.4 249h0M560.6 248.5h0M560.7 250h0M560.9 249.1h0M561 249.4h0M561.2 249.5h0M561.3 249h0M561.5 249.7h0M561.7 248.5h0M561.8 249.2h0M562 250h0M562.1 249.9h0M562.3 248.3h0M562.4 248.2h0M562.6 250.5h0M562.8 249.6h0M562.9 247.8h0M563.1 249.5h0M563.2 249.1h0M563.4 249.2h0M563.5 249.8h0M563.7 248.6h0M563.9 249.2h0M564 248.7h0M564.2 249.7h0M564.3 249.1h0M564.5 249.5h0M564.6 248.9h0M564.8 247.6h0M564.9 248.6h0M565.1 248.5h0M565.3 248.9h0M565.4 248.6h0M565.6 248.8h0M565.7 248.6h0M565.9 247.9h0M566 248.9h0M566.2 248.2h0M566.4 249.6h0M566.5 248.7h0M566.7 248h0M566.8 249.4h0M567 250.2h0M567.1 250h0M567.3 248.5h0M567.5 248.4h0M567.6 248.3h0M567.8 249h0M567.9 248.5h0M568.1 247.1h0M568.2 249.4h0M568.4 248.7h0M568.6 247.6h0M568.7 248h0M568.9 247.8h0M569 247.3h0M569.2 248h0M569.3 247.4h0M569.5 248.3h0M569.7 248.9h0M569.8 248.9h0M570 249.8h0M570.1 248.7h0M570.3 249.2h0M570.4 249.4h0M570.6 248.8h0M570.8 247.6h0M570.9 248.3h0M571.1 248h0M571.2 249.4h0M571.4 250.1h0M571.5 249.4h0M571.7 250.5h0M571.9 249.2h0M572 250.6h0M572.2 250h0M572.3 249.2h0M572.5 249.9h0M572.6 248.3h0M572.8 247.9h0M573 248.9h0M573.1 249.2h0M573.3 248.5h0M573.4 248.6h0M573.6 247.9h0M573.7 247.4h0M573.9 248.1h0M574.1 248.1h0M574.2 247.3h0M574.4 248.7h0M574.5 249.3h0M574.7 246.9h0M574.8 248.4h0M575 247.4h0M575.2 248.1h0M575.3 248.5h0M575.5 249.3h0M575.6 249.3h0M575.8 249.3h0M575.9 249.1h0M576.1 248.6h0M576.3 249.3h0M576.4 248.7h0M576.6 249.2h0M576.7 248.7h0M576.9 248.7h0M577 247.6h0M577.2 249h0M577.4 248.1h0M577.5 248.7h0M577.7 248.5h0M577.8 249.9h0M578 249.3h0M578.1 249.4h0M578.3 247.7h0M578.5 248.5h0M578.6 248.3h0M578.8 248.2h0M578.9 249.1h0M579.1 247.9h0M579.2 249.7h0M579.4 248h0M579.6 248.5h0M579.7 247.6h0M579.9 247.8h0M580 247.8h0M580.2 249h0M580.3 248.8h0M580.5 248.1h0M580.7 247.3h0M580.8 247.8h0M581 248.2h0M581.1 247.5h0M581.3 248.6h0M581.4 247.5h0M581.6 248.2h0M581.8 248.4h0M581.9 248.5h0M582.1 249.7h0M582.2 247.7h0M582.4 249h0M582.5 248.8h0M582.7 248.2h0M582.9 248.2h0M583 247.7h0M583.2 248.6h0M583.3 248.6h0M583.5 247.7h0M583.6 248.7h0M583.8 248.8h0M584 246.8h0M584.1 248.3h0M584.3 247.8h0M584.4 247.3h0M584.6 247.3h0M584.7 246.9h0M584.9 247.9h0M585.1 247h0M585.2 248.7h0M585.4 247.8h0M585.5 249.3h0M585.7 248.2h0M585.8 248.9h0M586 248.3h0M586.2 248.8h0M586.3 249.4h0M586.5 249.2h0M586.6 249.9h0M586.8 248.6h0M586.9 249h0M587.1 248.7h0M587.3 250.2h0M587.4 249.9h0M587.6 249.3h0M587.7 249h0M587.9 248.4h0M588 248.4h0M588.2 249.8h0M588.4 248.7h0M588.5 248.4h0M588.7 248.1h0M588.8 248.8h0M589 248.7h0M589.1 248.4h0M589.3 248.6h0M589.5 248.9h0M589.6 249.1h0M589.8 248.9h0M589.9 249.5h0M590.1 249.2h0M590.2 248.9h0M590.4 248.3h0M590.6 248.9h0M590.7 248.5h0M590.9 248.3h0M591 248.3h0M591.2 248.5h0M591.3 248h0M591.5 247.6h0M591.7 249h0M591.8 247.2h0M592 247.7h0M592.1 249.1h0M592.3 248.2h0M592.4 248.4h0M592.6 247.6h0M592.8 248.4h0M592.9 247.3h0M593.1 249.3h0M593.2 248.6h0M593.4 249.3h0M593.5 248.6h0M593.7 248h0M593.9 248.3h0M594 249.6h0M594.2 249h0M594.3 248.9h0M594.5 249.4h0M594.6 247.3h0M594.8 247.9h0M595 248.9h0M595.1 247.7h0M595.3 248.3h0M595.4 247.6h0M595.6 248.7h0M595.7 248.2h0M595.9 248.1h0M596.1 247.9h0M596.2 247.5h0M596.4 247.4h0M596.5 247.9h0M596.7 247.4h0M596.8 248.5h0M597 248.8h0M597.2 250.1h0M597.3 249.4h0M597.5 250.1h0M597.6 248.3h0M597.8 248.5h0M597.9 248.9h0M598.1 248.3h0M598.3 249.5h0M598.4 249.5h0M598.6 249.1h0M598.7 248.8h0M598.9 249.1h0M599 248.4h0M599.2 250h0M599.4 249.4h0M599.5 250.4h0M599.7 248.8h0M599.8 250.4h0M600 249h0M600.1 249h0M600.3 249.5h0M600.5 249.4h0M600.6 249.7h0M600.8 249.2h0M600.9 248.7h0M601.1 250h0M601.2 248.6h0M601.4 248h0M601.6 248h0M601.7 248.8h0M601.9 247.5h0M602 248.7h0M602.2 248.3h0M602.3 249.8h0M602.5 249.4h0M602.7 248.4h0M602.8 247h0M603 247.8h0M603.1 248.7h0M603.3 249.4h0M603.4 247.8h0M603.6 248.8h0M603.8 247.7h0M603.9 249.7h0M604.1 248.7h0M604.2 248.2h0M604.4 248.7h0M604.5 248.4h0M604.7 248.4h0M604.9 248.9h0M605 248.2h0M605.2 248.3h0M605.3 249.9h0M605.5 248.5h0M605.6 248.5h0M605.8 249.8h0M606 249.1h0M606.1 249.8h0M606.3 249h0M606.4 249.1h0M606.6 249.7h0M606.7 249.9h0M606.9 249.3h0M607.1 250.8h0M607.2 249h0M607.4 250.4h0M607.5 249.6h0M607.7 249.5h0M607.8 249.6h0M608 250.9h0M608.2 248.7h0M608.3 248.1h0M608.5 250.1h0M608.6 249.6h0M608.8 249.6h0M608.9 249.8h0M609.1 250.3h0M609.3 248.7h0M609.4 249.3h0M609.6 249.9h0M609.7 249.3h0M609.9 249.7h0M610 248.7h0M610.2 248.9h0M610.4 249.6h0M610.5 246.9h0M610.7 249.1h0M610.8 247h0M611 250.1h0M611.1 249h0M611.3 248.9h0M611.5 249h0M611.6 247.4h0M611.8 247.8h0M611.9 247.3h0M612.1 248.3h0M612.2 248h0M612.4 248.7h0M612.6 248.2h0M612.7 248.8h0M612.9 248.1h0M613 248.2h0M613.2 248.3h0M613.3 248.8h0M613.5 249.1h0M613.7 249.7h0M613.8 248.2h0M614 249.6h0M614.1 248.3h0M614.3 249.9h0M614.4 249h0M614.6 248.4h0M614.8 248.9h0M614.9 250h0M615.1 249.6h0M615.2 249.8h0M615.4 249.4h0M615.5 250.7h0M615.7 250h0M615.9 249.3h0M616 249.8h0M616.2 250.9h0M616.3 249.7h0M616.5 249.6h0M616.6 248.8h0M616.8 250h0M617 248.5h0M617.1 248.8h0M617.3 250.2h0M617.4 248.1h0M617.6 249.3h0M617.7 248.5h0M617.9 247.6h0M618.1 248h0M618.2 247.7h0M618.4 248.3h0M618.5 248.1h0M618.7 247.9h0M618.8 248.5h0M619 249.4h0M619.2 249.3h0M619.3 248.6h0M619.5 249.2h0M619.6 248.6h0M619.8 249.6h0M619.9 247.9h0M620.1 249.2h0M620.3 249.2h0M620.4 248.7h0M620.6 248.3h0M620.7 248.7h0M620.9 247.6h0M621 248.5h0M621.2 247.9h0M621.4 249.1h0M621.5 248.4h0M621.7 248.5h0M621.8 247.7h0M622 248.7h0M622.1 249.4h0M622.3 248.9h0M622.5 249.9h0M622.6 247.3h0M622.8 247h0M622.9 249.9h0M623.1 249.2h0M623.2 248.1h0M623.4 249.5h0M623.6 249.6h0M623.7 249.4h0M623.9 249.6h0M624 250h0M624.2 249.9h0M624.3 249.5h0M624.5 249.6h0M624.7 249.6h0M624.8 249.5h0M625 249.2h0M625.1 248.8h0M625.3 249h0M625.4 249.2h0M625.6 248.6h0M625.8 248.6h0M625.9 249.8h0M626.1 249.9h0M626.2 248.9h0M626.4 248.4h0M626.5 249.9h0M626.7 247.7h0M626.9 249.7h0M627 249.8h0M627.2 248.6h0M627.3 248.7h0M627.5 248.1h0M627.6 248.8h0M627.8 247.6h0M628 247.2h0M628.1 248.3h0M628.3 247.4h0M628.4 247.7h0M628.6 247.8h0M628.7 247.6h0M628.9 248.2h0M629.1 247.7h0M629.2 248.6h0M629.4 248.1h0M629.5 249.4h0M629.7 248.7h0M629.8 249.6h0M630 249.5h0M630.2 248.9h0M630.3 248h0M630.5 249.2h0M630.6 247.9h0M630.8 248.9h0M630.9 247.7h0M631.1 248.6h0M631.3 248.7h0M631.4 248.5h0M631.6 248.9h0M631.7 249h0M631.9 248.7h0M632 248.9h0M632.2 249.8h0M632.4 249.5h0M632.5 248.9h0M632.7 248.5h0M632.8 248.2h0M633 248.2h0M633.1 249.2h0M633.3 248.8h0M633.5 249.3h0M633.6 248h0M633.8 247.8h0M633.9 249h0M634.1 247.5h0M634.2 248.7h0M634.4 248.2h0M634.6 249.1h0M634.7 248.9h0M634.9 247.9h0M635 249.5h0M635.2 248.9h0M635.3 248.5h0M635.5 248.1h0M635.7 248h0M635.8 248.5h0M636 248.9h0M636.1 248.5h0M636.3 247.4h0M636.4 247.6h0M636.6 249.4h0M636.8 249.2h0M636.9 249.8h0M637.1 249.3h0M637.2 249.5h0M637.4 249.7h0M637.5 249.7h0M637.7 249.1h0M637.8 247.7h0M638 249.3h0M638.2 249.6h0M638.3 249.2h0M638.5 247.9h0M638.6 248.8h0M638.8 249.3h0M638.9 248.7h0M639.1 248.2h0M639.3 246.8h0M639.4 247.5h0M639.6 249.1h0M639.7 248.1h0M639.9 248.8h0M640 247.5h0M640.2 246.9h0M640.4 248.3h0M640.5 247.6h0M640.7 248.1h0M640.8 247.7h0M641 246.8h0M641.1 248.8h0M641.3 247.7h0M641.5 248.6h0M641.6 248.5h0M641.8 248.8h0M641.9 248.8h0M642.1 249.6h0M642.2 248.4h0M642.4 249.2h0M642.6 249.5h0M642.7 248.4h0M642.9 248h0M643 248.4h0M643.2 249.6h0M643.3 248.8h0M643.5 249.4h0M643.7 248.6h0M643.8 247.2h0M644 247.7h0M644.1 247.7h0M644.3 247.4h0M644.4 248.5h0M644.6 249.3h0M644.8 248.9h0M644.9 248.9h0M645.1 248.6h0M645.2 247.9h0M645.4 249.4h0M645.5 248.9h0M645.7 249h0M645.9 247.6h0M646 249.6h0M646.2 249.7h0M646.3 248.9h0M646.5 247.8h0M646.6 249.5h0M646.8 249h0M647 249.3h0M647.1 249.4h0M647.3 249.3h0M647.4 249h0M647.6 249.9h0M647.7 250h0M647.9 249h0M648.1 248.3h0M648.2 248.7h0M648.4 248.9h0M648.5 248.9h0M648.7 248.8h0M648.8 248.4h0M649 248.5h0M649.2 248.6h0M649.3 247.9h0M649.5 248.8h0M649.6 249.2h0M649.8 248.8h0M649.9 248.8h0M650.1 250.5h0M650.3 248.9h0M650.4 249.8h0M650.6 248.2h0M650.7 248.2h0M650.9 248h0M651 248h0M651.2 247.8h0M651.4 248.5h0M651.5 248.8h0M651.7 248.5h0M651.8 248.6h0M652 248.5h0M652.1 248.5h0M652.3 248.6h0M652.5 248.6h0M652.6 249.6h0M652.8 247h0M652.9 249.2h0M653.1 249.4h0M653.2 248.8h0M653.4 249.6h0M653.6 250h0M653.7 248.8h0M653.9 249.2h0M654 248.2h0M654.2 248.2h0M654.3 248.7h0M654.5 248.6h0M654.7 248.5h0M654.8 248.5h0M655 249.5h0M655.1 249.6h0M655.3 248.9h0M655.4 249.6h0M655.6 248.7h0M655.8 248.5h0M655.9 249.1h0M656.1 249.8h0M656.2 249h0M656.4 247.9h0M656.5 249.2h0M656.7 249.9h0M656.9 248.7h0M657 247.6h0M657.2 248.7h0M657.3 249.6h0M657.5 248.2h0M657.6 248.6h0M657.8 248.4h0M658 248.9h0M658.1 247.6h0M658.3 248.7h0M658.4 249h0M658.6 249.6h0M658.7 249.4h0M658.9 248.5h0M659.1 248.5h0M659.2 248h0M659.4 248.2h0M659.5 248.7h0M659.7 249.2h0M659.8 250h0M660 248.5h0M660.2 248.2h0M660.3 248.4h0M660.5 247.1h0M660.6 248.9h0M660.8 249.2h0M660.9 248.3h0M661.1 248.5h0M661.3 249.8h0M661.4 248.5h0M661.6 248.1h0M661.7 248.1h0M661.9 249.6h0M662 248.4h0M662.2 248.1h0M662.4 248.6h0M662.5 249.5h0M662.7 247.8h0M662.8 247.4h0M663 249.8h0M663.1 248.9h0M663.3 249.7h0M663.5 249.5h0M663.6 248h0M663.8 248h0M663.9 250h0M664.1 248.8h0M664.2 249.5h0M664.4 248.6h0M664.6 249.4h0M664.7 248.4h0M664.9 248.2h0M665 249.5h0M665.2 249.4h0M665.3 248.9h0M665.5 249.6h0M665.7 248h0M665.8 249.2h0M666 249.5h0M666.1 248.9h0M666.3 248.3h0M666.4 248.1h0M666.6 248.9h0M666.8 248.2h0M666.9 249.2h0M667.1 248.8h0M667.2 248.8h0M667.4 249.1h0M667.5 248.2h0M667.7 249h0M667.9 249.2h0M668 248h0M668.2 249.7h0M668.3 248.7h0M668.5 248.5h0M668.6 249.2h0M668.8 249h0M669 247.1h0M669.1 249.4h0M669.3 249.3h0M669.4 247.7h0M669.6 248.7h0M669.7 248.5h0M669.9 247.6h0M670.1 248.4h0M670.2 248.4h0M670.4 249.4h0M670.5 247.1h0M670.7 248.2h0M670.8 248.1h0M671 249.8h0M671.2 248.2h0M671.3 248.7h0M671.5 248.4h0M671.6 249.2h0M671.8 249.4h0M671.9 249.6h0M672.1 249.1h0M672.3 249.2h0M672.4 248.5h0M672.6 248.5h0M672.7 248.5h0M672.9 248.1h0M673 250.6h0M673.2 248.9h0M673.4 249h0M673.5 248.6h0M673.7 248.5h0M673.8 250h0M674 250.1h0M674.1 248.3h0M674.3 248.7h0" stroke="#00ff00" stroke-width="2.8" stroke-linecap="round" fill="none" />
</g>
<rect x="454.5" y="239.3" width="219.8" height="19.1" fill="none" stroke="#5c5c5c" stroke-width="0.85"/>
<text x="450.7" y="242.7" font-size="9.1" text-anchor="end" font-weight="normal">0.05</text>
<text x="450.7" y="252.2" font-size="9.1" text-anchor="end" font-weight="normal">0</text>
<text x="450.7" y="261.8" font-size="9.1" text-anchor="end" font-weight="normal">-0.05</text>
<text x="454.5" y="270.6" font-size="9.1" text-anchor="middle" font-weight="normal">0</text>
<line x1="454.5" y1="258.4" x2="454.5" y2="256.2" stroke="#5c5c5c" stroke-width="0.85"/>
<line x1="454.5" y1="239.3" x2="454.5" y2="241.5" stroke="#5c5c5c" stroke-width="0.85"/>
<text x="498.5" y="270.6" font-size="9.1" text-anchor="middle" font-weight="normal">576</text>
<line x1="498.5" y1="258.4" x2="498.5" y2="256.2" stroke="#5c5c5c" stroke-width="0.85"/>
<line x1="498.5" y1="239.3" x2="498.5" y2="241.5" stroke="#5c5c5c" stroke-width="0.85"/>
<text x="542.4" y="270.6" font-size="9.1" text-anchor="middle" font-weight="normal">1152</text>
<line x1="542.4" y1="258.4" x2="542.4" y2="256.2" stroke="#5c5c5c" stroke-width="0.85"/>
<line x1="542.4" y1="239.3" x2="542.4" y2="241.5" stroke="#5c5c5c" stroke-width="0.85"/>
<text x="586.4" y="270.6" font-size="9.1" text-anchor="middle" font-weight="normal">1728</text>
<line x1="586.4" y1="258.4" x2="586.4" y2="256.2" stroke="#5c5c5c" stroke-width="0.85"/>
<line x1="586.4" y1="239.3" x2="586.4" y2="241.5" stroke="#5c5c5c" stroke-width="0.85"/>
<text x="630.3" y="270.6" font-size="9.1" text-anchor="middle" font-weight="normal">2304</text>
<line x1="630.3" y1="258.4" x2="630.3" y2="256.2" stroke="#5c5c5c" stroke-width="0.85"/>
<line x1="630.3" y1="239.3" x2="630.3" y2="241.5" stroke="#5c5c5c" stroke-width="0.85"/>
<text x="674.3" y="270.6" font-size="9.1" text-anchor="middle" font-weight="normal">2880</text>
<line x1="674.3" y1="258.4" x2="674.3" y2="256.2" stroke="#5c5c5c" stroke-width="0.85"/>
<line x1="674.3" y1="239.3" x2="674.3" y2="241.5" stroke="#5c5c5c" stroke-width="0.85"/>
<rect x="411.3" y="310.4" width="248" height="24.6" fill="#fff"/>
<line x1="460.5" y1="310.4" x2="460.5" y2="335" stroke="#e4e4e4" stroke-width="1"/>
<line x1="510.5" y1="310.4" x2="510.5" y2="335" stroke="#e4e4e4" stroke-width="1"/>
<line x1="560.5" y1="310.4" x2="560.5" y2="335" stroke="#e4e4e4" stroke-width="1"/>
<line x1="609.5" y1="310.4" x2="609.5" y2="335" stroke="#e4e4e4" stroke-width="1"/>
<line x1="411.3" y1="322.5" x2="659.3" y2="322.5" stroke="#e4e4e4" stroke-width="1"/>
<rect x="411.3" y="310.4" width="248" height="24.6" fill="none" stroke="#5c5c5c" stroke-width="0.85"/>
<text x="407.3" y="314.6" font-size="10.6" text-anchor="end" font-weight="normal">0.3</text>
<line x1="411.3" y1="310.4" x2="413.7" y2="310.4" stroke="#5c5c5c" stroke-width="0.85"/>
<line x1="659.3" y1="310.4" x2="656.9" y2="310.4" stroke="#5c5c5c" stroke-width="0.85"/>
<text x="407.3" y="326.9" font-size="10.6" text-anchor="end" font-weight="normal">0.15</text>
<line x1="411.3" y1="322.7" x2="413.7" y2="322.7" stroke="#5c5c5c" stroke-width="0.85"/>
<line x1="659.3" y1="322.7" x2="656.9" y2="322.7" stroke="#5c5c5c" stroke-width="0.85"/>
<text x="407.3" y="339.2" font-size="10.6" text-anchor="end" font-weight="normal">0</text>
<line x1="411.3" y1="335" x2="413.7" y2="335" stroke="#5c5c5c" stroke-width="0.85"/>
<line x1="659.3" y1="335" x2="656.9" y2="335" stroke="#5c5c5c" stroke-width="0.85"/>
<text x="411.3" y="350.7" font-size="10.6" text-anchor="middle" font-weight="normal">0</text>
<line x1="411.3" y1="335" x2="411.3" y2="332.6" stroke="#5c5c5c" stroke-width="0.85"/>
<line x1="411.3" y1="310.4" x2="411.3" y2="312.8" stroke="#5c5c5c" stroke-width="0.85"/>
<text x="460.9" y="350.7" font-size="10.6" text-anchor="middle" font-weight="normal">576</text>
<line x1="460.9" y1="335" x2="460.9" y2="332.6" stroke="#5c5c5c" stroke-width="0.85"/>
<line x1="460.9" y1="310.4" x2="460.9" y2="312.8" stroke="#5c5c5c" stroke-width="0.85"/>
<text x="510.5" y="350.7" font-size="10.6" text-anchor="middle" font-weight="normal">1152</text>
<line x1="510.5" y1="335" x2="510.5" y2="332.6" stroke="#5c5c5c" stroke-width="0.85"/>
<line x1="510.5" y1="310.4" x2="510.5" y2="312.8" stroke="#5c5c5c" stroke-width="0.85"/>
<text x="560.1" y="350.7" font-size="10.6" text-anchor="middle" font-weight="normal">1728</text>
<line x1="560.1" y1="335" x2="560.1" y2="332.6" stroke="#5c5c5c" stroke-width="0.85"/>
<line x1="560.1" y1="310.4" x2="560.1" y2="312.8" stroke="#5c5c5c" stroke-width="0.85"/>
<text x="609.7" y="350.7" font-size="10.6" text-anchor="middle" font-weight="normal">2304</text>
<line x1="609.7" y1="335" x2="609.7" y2="332.6" stroke="#5c5c5c" stroke-width="0.85"/>
<line x1="609.7" y1="310.4" x2="609.7" y2="312.8" stroke="#5c5c5c" stroke-width="0.85"/>
<text x="659.3" y="350.7" font-size="10.6" text-anchor="middle" font-weight="normal">2880</text>
<line x1="659.3" y1="335" x2="659.3" y2="332.6" stroke="#5c5c5c" stroke-width="0.85"/>
<line x1="659.3" y1="310.4" x2="659.3" y2="312.8" stroke="#5c5c5c" stroke-width="0.85"/>
<text x="381.5" y="322.4" font-size="11.6" text-anchor="middle" font-weight="normal" transform="rotate(-90 381.5 322.4)">[cycle]</text>
<text x="535.3" y="364.8" font-size="11.7" text-anchor="middle" font-weight="normal">Epoch number</text>
<polyline points="411.2,323.3 412.8,322.7 414.8,325.2 417.7,326.6 419.7,327.2 422.7,326.2 425.6,326.6 428.6,326 431.5,326.8 439.4,327.6 445.3,327 448.3,326.4 450.3,326.6 451.6,325 453.2,326.6 457.2,328 463.1,328.8 470.9,328.8 478.8,329.6 482.8,330 488.7,329.4 498.5,329.4 506.4,329.4 510.4,328.8 518.2,329.2 526.1,329 530,328.6 537.9,327.6 545.8,326.8 553.6,326.2 558.6,325.6 560,324.6 562.5,325.2 567.4,325 570.4,324 572.4,325.2 575.3,325.2 576.9,324.2 578.3,325.6 583.2,327 587.2,327.2 593.1,326 596,326.6 598,325.6 600.9,326.8 604.9,327.2 609.6,328 612.8,327.2 616.7,326.2 620.7,325.6 624.6,326 629.5,325.2 632.5,326 640.4,324.6 644.3,325.6 648.2,325 653.2,324 656.1,322.7 657.7,323.3 659.1,324" fill="none" stroke="#ff00ff" stroke-width="1.2" stroke-linejoin="round"/>
</svg>
</body></html>
